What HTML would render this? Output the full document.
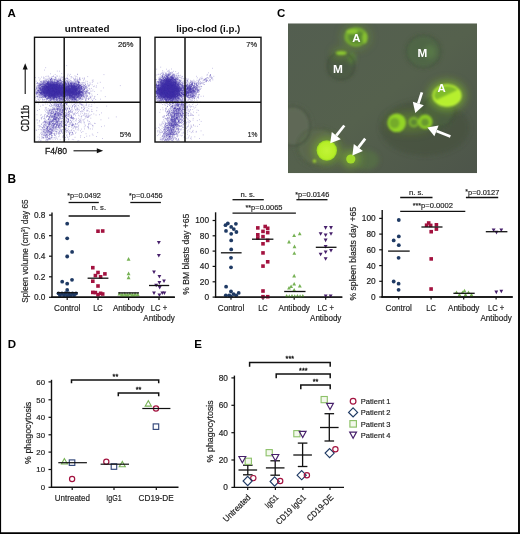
<!DOCTYPE html>
<html><head><meta charset="utf-8"><title>Figure</title>
<style>html,body{margin:0;padding:0;background:#fff}svg{display:block}</style></head><body>
<svg width="520" height="534" viewBox="0 0 520 534" font-family="Liberation Sans, Arial, Helvetica, sans-serif">
<rect x="0" y="0" width="520" height="534" fill="#fff"/>
<text x="7.5" y="17.3" font-size="11.5" font-weight="bold" fill="#000">A</text>
<clipPath id="clip1"><rect x="34.5" y="37.3" width="105.69999999999999" height="104.7"/></clipPath>
<path d="M64.0 93.3h.7M47.1 86.2h.7M59.4 85.9h.7M55.9 90.1h.7M56.3 86.0h.7M63.7 81.7h.7M52.2 87.6h.7M59.6 93.4h.7M41.3 90.4h.7M44.3 93.5h.7M58.2 92.0h.7M40.9 83.4h.7M54.3 87.1h.7M53.2 87.6h.7M42.7 83.4h.7M50.0 87.4h.7M49.9 90.9h.7M50.5 90.5h.7M53.2 85.4h.7M54.8 88.6h.7M57.0 91.6h.7M51.2 94.7h.7M62.9 89.3h.7M52.4 88.1h.7M67.9 92.6h.7M46.6 86.9h.7M55.8 92.9h.7M64.2 89.5h.7M59.7 90.2h.7M52.7 86.4h.7M49.8 88.9h.7M52.0 88.1h.7M59.1 93.6h.7M49.0 85.8h.7M53.1 84.2h.7M47.7 93.2h.7M44.0 88.7h.7M50.6 85.6h.7M51.2 87.7h.7M41.9 92.6h.7M46.2 83.8h.7M55.7 89.9h.7M45.2 89.6h.7M51.9 87.8h.7M59.0 89.9h.7M49.2 89.0h.7M53.3 97.7h.7M50.7 80.5h.7M59.9 89.4h.7M39.5 94.9h.7M41.1 94.7h.7M50.0 88.4h.7M49.5 90.5h.7M56.5 87.8h.7M48.5 91.8h.7M53.7 94.3h.7M45.4 89.2h.7M52.2 92.0h.7M59.1 90.8h.7M60.3 82.9h.7M51.6 87.6h.7M57.5 89.9h.7M51.8 95.9h.7M51.2 87.7h.7M49.3 87.4h.7M61.0 98.0h.7M62.4 85.2h.7M49.1 95.7h.7M55.9 97.5h.7M48.6 88.4h.7M48.5 94.1h.7M57.7 92.2h.7M43.4 94.9h.7M61.2 88.9h.7M65.0 91.1h.7M54.7 88.7h.7M58.8 94.5h.7M44.0 89.2h.7M61.7 93.6h.7M72.0 97.0h.7M56.8 86.1h.7M56.6 93.3h.7M57.8 85.6h.7M47.8 93.1h.7M55.2 88.3h.7M64.6 93.3h.7M44.9 92.8h.7M63.8 86.8h.7M51.1 78.3h.7M36.9 88.7h.7M56.8 95.3h.7M48.0 86.8h.7M48.7 89.1h.7M53.3 86.7h.7M42.6 92.4h.7M58.8 89.8h.7M42.2 91.0h.7M51.6 96.8h.7M50.5 88.7h.7M55.8 87.8h.7M57.9 92.0h.7M41.5 97.3h.7M49.6 92.5h.7M42.1 85.5h.7M48.3 81.0h.7M54.5 92.5h.7M42.5 89.2h.7M47.6 89.2h.7M55.8 82.0h.7M54.6 80.5h.7M67.3 91.6h.7M57.8 94.6h.7M45.8 86.8h.7M57.1 94.1h.7M52.5 91.7h.7M57.4 81.8h.7M53.2 88.1h.7M48.3 80.2h.7M60.5 94.7h.7M59.8 91.8h.7M49.6 84.3h.7M50.3 84.7h.7M59.4 88.0h.7M60.2 90.3h.7M62.9 83.7h.7M46.7 93.1h.7M61.4 87.9h.7M43.8 87.8h.7M45.4 85.1h.7M43.8 92.4h.7M54.6 89.4h.7M54.2 96.3h.7M46.1 93.0h.7M61.8 93.8h.7M49.1 94.4h.7M39.8 78.9h.7M55.5 94.0h.7M52.9 82.4h.7M56.4 80.0h.7M59.8 93.1h.7M69.6 90.1h.7M58.8 98.2h.7M53.0 91.6h.7M57.0 97.1h.7M51.7 87.6h.7M61.1 103.6h.7M63.7 90.6h.7M50.0 95.9h.7M56.4 97.4h.7M52.7 92.6h.7M55.6 90.2h.7M50.6 89.5h.7M51.0 84.4h.7M49.4 90.6h.7M52.0 87.9h.7M56.3 91.5h.7M43.5 89.8h.7M60.6 95.4h.7M48.6 93.0h.7M54.0 99.3h.7M49.3 93.5h.7M56.7 97.8h.7M48.5 88.4h.7M57.3 95.2h.7M44.8 89.7h.7M50.7 90.4h.7M47.8 95.7h.7M54.6 88.2h.7M52.8 90.0h.7M47.9 85.8h.7M48.2 89.2h.7M47.9 91.5h.7M44.5 83.9h.7M41.9 87.1h.7M56.1 91.5h.7M56.3 97.6h.7M61.3 101.1h.7M67.2 92.1h.7M43.5 100.1h.7M49.1 94.4h.7M44.0 95.4h.7M44.1 89.7h.7M47.4 98.7h.7M48.9 97.0h.7M41.3 88.3h.7M48.3 83.9h.7M43.5 96.1h.7M45.2 88.7h.7M48.8 87.8h.7M56.8 91.1h.7M57.0 87.9h.7M43.7 91.9h.7M52.6 86.3h.7M52.0 96.8h.7M46.7 86.5h.7M41.9 92.8h.7M55.6 87.0h.7M49.8 87.7h.7M52.6 97.4h.7M49.3 84.8h.7M52.8 87.9h.7M54.1 95.4h.7M54.8 89.5h.7M57.9 87.8h.7M44.6 91.6h.7M50.2 91.0h.7M42.8 97.5h.7M51.2 86.8h.7M45.0 88.0h.7M49.4 88.9h.7M63.1 92.6h.7M65.8 88.7h.7M49.2 88.7h.7M54.9 90.2h.7M57.2 85.7h.7M59.5 85.3h.7M56.6 96.2h.7M48.6 84.7h.7M62.0 88.5h.7M60.7 88.4h.7M63.3 89.0h.7M55.9 93.2h.7M57.2 94.6h.7M45.4 93.0h.7M48.8 89.3h.7M57.6 90.2h.7M54.4 85.4h.7M58.0 93.9h.7M50.4 87.9h.7M65.3 96.8h.7M48.1 93.9h.7M53.7 98.4h.7M47.5 88.1h.7M46.3 86.3h.7M59.4 90.4h.7M57.5 83.0h.7M51.6 89.1h.7M59.4 83.0h.7M56.7 90.2h.7M55.1 87.9h.7M53.7 84.7h.7M57.2 89.1h.7M44.2 84.1h.7M52.8 86.5h.7M51.5 88.4h.7M68.5 84.2h.7M41.5 87.7h.7M64.0 88.7h.7M49.2 92.4h.7M46.3 90.1h.7M63.0 93.5h.7M45.5 88.6h.7M44.0 87.5h.7M39.2 89.0h.7M42.5 92.5h.7M58.3 93.1h.7M58.5 87.7h.7M50.9 87.6h.7M45.0 80.3h.7M43.5 89.7h.7M46.4 87.5h.7M46.9 82.4h.7M57.7 86.8h.7M49.3 88.2h.7M57.3 89.7h.7M56.1 90.7h.7M51.4 94.9h.7M52.8 93.4h.7M57.1 84.2h.7M40.0 82.3h.7M52.1 90.2h.7M59.1 89.7h.7M58.6 104.9h.7M50.7 89.3h.7M36.6 92.2h.7M52.9 95.0h.7M59.5 95.6h.7M53.3 85.0h.7M51.5 94.3h.7M51.5 90.1h.7M46.8 88.8h.7M54.7 89.3h.7M44.3 96.3h.7M48.2 81.8h.7M59.0 85.9h.7M55.7 96.9h.7M54.3 90.7h.7M62.0 91.8h.7M47.8 94.8h.7M50.8 88.1h.7M54.7 92.3h.7M61.0 91.0h.7M42.4 96.9h.7M55.5 86.6h.7M58.6 98.3h.7M41.5 82.6h.7M54.1 92.8h.7M53.8 85.7h.7M53.3 86.4h.7M52.7 95.3h.7M48.8 85.2h.7M52.1 88.6h.7M47.5 83.8h.7M52.6 95.9h.7M43.3 93.0h.7M53.6 85.7h.7M49.4 96.9h.7M65.2 100.4h.7M59.3 93.2h.7M50.9 89.1h.7M49.2 84.6h.7M50.0 97.2h.7M41.5 94.1h.7M49.8 92.6h.7M56.3 99.7h.7M42.4 89.0h.7M50.0 84.7h.7M52.9 90.0h.7M54.6 89.3h.7M55.8 88.6h.7M50.1 88.2h.7M43.5 88.4h.7M63.6 90.2h.7M66.6 89.1h.7M53.4 83.8h.7M53.0 84.9h.7M56.6 90.4h.7M51.8 90.7h.7M53.9 83.3h.7M41.4 94.7h.7M49.5 88.4h.7M62.6 91.2h.7M63.6 86.9h.7M44.6 101.7h.7M56.4 83.8h.7M50.2 90.2h.7M42.3 94.5h.7M59.3 85.9h.7M44.3 90.2h.7M41.5 86.2h.7M57.5 91.3h.7M53.9 93.6h.7M47.6 88.5h.7M51.2 91.7h.7M50.6 90.3h.7M57.1 81.8h.7M53.3 93.4h.7M57.0 91.0h.7M57.3 91.5h.7M60.2 86.1h.7M58.1 85.6h.7M54.0 88.9h.7M44.4 85.6h.7M62.0 88.2h.7M66.2 91.6h.7M46.5 92.5h.7M70.0 80.3h.7M64.3 83.4h.7M46.8 90.8h.7M43.7 92.2h.7M50.4 89.7h.7M48.9 92.4h.7M61.6 80.6h.7M63.3 85.6h.7M68.2 99.6h.7M54.0 94.9h.7M40.7 93.8h.7M51.6 98.4h.7M42.9 92.0h.7M57.8 89.1h.7M50.4 85.7h.7M54.5 95.4h.7M57.2 96.9h.7M54.0 92.1h.7M58.3 94.8h.7M61.6 95.6h.7M53.0 91.6h.7M56.1 93.0h.7M45.2 92.7h.7M60.6 87.1h.7M53.3 91.8h.7M51.6 88.9h.7M49.8 93.6h.7M48.6 88.3h.7M59.8 88.2h.7M56.5 87.2h.7M47.4 91.7h.7M48.8 92.7h.7M55.0 88.2h.7M50.2 84.6h.7M60.4 87.3h.7M54.4 85.3h.7M57.7 92.4h.7M44.4 92.8h.7M54.3 89.9h.7M57.4 92.9h.7M58.1 94.3h.7M40.3 84.8h.7M54.9 93.1h.7M52.4 90.2h.7M55.2 94.5h.7M58.9 94.4h.7M57.2 95.9h.7M51.0 86.8h.7M41.3 90.6h.7M54.9 78.0h.7M58.4 92.4h.7M46.9 102.2h.7M59.0 91.9h.7M46.9 89.9h.7M56.5 94.1h.7M47.6 91.9h.7M37.7 95.4h.7M52.6 91.7h.7M40.4 90.1h.7M55.2 88.2h.7M48.5 82.8h.7M59.4 84.4h.7M55.1 87.9h.7M57.8 94.1h.7M52.2 86.4h.7M48.8 89.0h.7M56.5 88.4h.7M54.6 104.9h.7M51.6 91.7h.7M54.7 92.4h.7M54.9 84.9h.7M67.1 90.0h.7M48.1 85.1h.7M54.7 84.8h.7M52.3 91.9h.7M54.3 89.1h.7M53.0 89.9h.7M52.7 91.8h.7M52.7 91.6h.7M40.4 88.1h.7M45.8 90.4h.7M54.4 88.3h.7M45.1 85.4h.7M58.4 90.2h.7M48.9 94.3h.7M45.3 88.5h.7M59.3 89.7h.7M57.8 92.6h.7M42.0 84.1h.7M50.5 94.5h.7M55.2 91.9h.7M54.6 86.3h.7M52.7 97.8h.7M50.4 89.9h.7M59.3 88.9h.7M50.3 97.5h.7M52.6 94.4h.7M62.5 85.2h.7M43.9 82.3h.7M56.4 91.8h.7M64.6 83.6h.7M51.8 82.3h.7M53.9 87.2h.7M46.9 87.6h.7M58.6 80.9h.7M42.6 87.5h.7M59.1 88.5h.7M58.1 87.3h.7M57.1 95.1h.7M63.7 93.6h.7M49.7 88.7h.7M68.0 88.5h.7M54.9 92.1h.7M38.6 89.0h.7M53.9 91.2h.7M54.3 86.2h.7M55.4 90.8h.7M55.6 86.9h.7M49.6 87.0h.7M52.8 95.6h.7M53.1 86.0h.7M48.0 90.5h.7M49.7 92.4h.7M57.9 93.3h.7M47.0 87.7h.7M56.9 93.6h.7M69.3 100.6h.7M46.7 90.0h.7M50.6 93.3h.7M51.9 89.1h.7M46.7 89.3h.7M51.0 83.8h.7M62.6 94.2h.7M53.8 82.6h.7M58.2 90.9h.7M51.8 87.9h.7M45.1 86.4h.7M54.6 92.4h.7M59.3 89.4h.7M45.4 90.7h.7M66.0 86.7h.7M52.0 89.3h.7M50.4 88.0h.7M51.0 90.9h.7M42.5 91.6h.7M56.8 92.8h.7M41.4 91.2h.7M39.5 89.2h.7M52.2 92.9h.7M46.1 95.6h.7M63.1 86.1h.7M44.1 95.0h.7M41.2 84.5h.7M53.7 92.3h.7M59.7 80.4h.7M53.2 93.5h.7M46.0 97.8h.7M55.9 90.5h.7M56.3 89.8h.7M64.6 97.1h.7M54.2 84.4h.7M39.9 81.3h.7M53.9 86.7h.7M53.6 83.9h.7M57.3 82.2h.7M59.6 99.5h.7M51.7 94.4h.7M58.1 83.3h.7M69.3 95.6h.7M37.9 90.3h.7M52.9 95.4h.7M52.8 90.5h.7M62.5 91.1h.7M38.2 92.8h.7M50.5 86.1h.7M59.6 87.7h.7M58.2 96.8h.7M56.4 87.3h.7M45.2 90.2h.7M36.2 93.6h.7M57.7 93.2h.7M49.3 96.2h.7M53.5 96.5h.7M58.8 85.6h.7M38.8 83.1h.7M49.6 88.4h.7M53.8 92.1h.7M54.9 89.7h.7M49.2 78.0h.7M54.7 85.9h.7M57.2 91.9h.7M50.4 89.0h.7M52.5 83.5h.7M56.6 93.4h.7M58.8 83.7h.7M59.2 88.4h.7M50.5 83.1h.7M52.9 99.0h.7M50.8 95.8h.7M63.8 87.2h.7M62.1 81.9h.7M61.9 97.6h.7M56.2 84.5h.7M42.8 82.3h.7M57.5 89.3h.7M53.9 93.3h.7M49.0 93.2h.7M41.8 93.0h.7M52.8 88.7h.7M64.0 90.8h.7M59.2 89.4h.7M67.3 91.1h.7M44.3 87.6h.7M46.9 91.0h.7M57.0 94.6h.7M62.0 86.1h.7M50.4 90.3h.7M44.8 92.2h.7M46.1 85.0h.7M59.8 94.0h.7M59.9 96.5h.7M67.1 87.4h.7M51.0 91.9h.7M49.7 87.8h.7M51.1 85.6h.7M58.6 89.8h.7M50.6 91.0h.7M55.3 92.6h.7M54.1 84.2h.7M57.5 91.9h.7M57.5 85.4h.7M48.9 94.8h.7M63.2 92.9h.7M48.6 89.6h.7M56.4 91.0h.7M51.4 91.7h.7M45.5 85.4h.7M56.4 84.9h.7M54.9 89.4h.7M50.6 90.8h.7M50.2 92.1h.7M38.1 85.7h.7M52.8 97.7h.7M57.9 96.4h.7M50.9 94.9h.7M51.5 90.3h.7M59.4 88.8h.7M49.4 88.0h.7M64.4 80.8h.7M48.2 92.2h.7M59.2 93.4h.7M54.3 96.9h.7M49.6 95.4h.7M59.4 85.9h.7M53.7 93.7h.7M54.8 90.4h.7M50.6 88.1h.7M44.6 87.5h.7M44.1 86.2h.7M48.0 89.6h.7M54.6 80.2h.7M40.0 85.9h.7M50.9 95.7h.7M48.9 91.8h.7M45.9 87.4h.7M63.6 90.0h.7M47.6 87.8h.7M57.9 93.8h.7M52.8 91.0h.7M48.6 86.0h.7M63.9 93.8h.7M55.8 94.9h.7M47.6 86.8h.7M40.2 88.6h.7M56.5 89.9h.7M61.8 83.7h.7M52.4 89.7h.7M58.4 89.2h.7M52.5 87.2h.7M57.9 93.6h.7M41.7 95.7h.7M52.8 90.7h.7M61.2 88.6h.7M59.3 89.9h.7M54.5 85.2h.7M53.6 82.2h.7M59.3 91.4h.7M47.7 92.5h.7M66.9 93.5h.7M36.8 89.4h.7M54.3 88.0h.7M49.8 93.2h.7M45.9 89.8h.7M55.6 89.0h.7M48.7 87.8h.7M60.3 95.1h.7M47.3 91.7h.7M51.9 91.8h.7M53.1 89.2h.7M64.2 90.0h.7M53.7 88.3h.7M51.1 84.2h.7M49.9 80.2h.7M38.2 92.9h.7M66.4 90.1h.7M42.7 92.3h.7M56.8 96.0h.7M55.8 93.9h.7M49.1 96.3h.7M48.2 91.3h.7M51.1 88.2h.7M54.9 87.6h.7M45.8 90.2h.7M57.8 90.7h.7M60.0 88.6h.7M44.9 85.5h.7M48.7 87.3h.7M44.2 81.5h.7M75.7 90.9h.7M52.8 96.9h.7M47.0 97.0h.7M48.4 93.9h.7M50.6 89.3h.7M59.2 89.9h.7M47.2 90.5h.7M49.8 88.7h.7M48.4 89.5h.7M44.2 88.2h.7M55.8 91.9h.7M46.8 90.3h.7M52.8 95.1h.7M53.0 87.4h.7M60.9 92.5h.7M50.9 95.4h.7M60.7 84.0h.7M46.3 96.6h.7M58.2 95.8h.7M53.9 89.3h.7M63.6 84.7h.7M43.9 80.8h.7M46.5 90.0h.7M54.6 94.7h.7M48.8 96.9h.7M39.7 95.6h.7M61.3 91.1h.7M70.2 91.2h.7M60.0 87.6h.7M49.6 88.4h.7M43.3 84.2h.7M59.9 87.5h.7M61.0 90.7h.7M45.3 92.7h.7M52.2 87.9h.7M50.6 96.5h.7M59.8 85.0h.7M55.0 85.7h.7M42.6 87.3h.7M46.0 88.8h.7M45.2 88.8h.7M48.9 88.2h.7M67.0 90.7h.7M48.3 83.5h.7M44.4 93.4h.7M58.6 91.3h.7M54.9 96.0h.7M49.4 89.5h.7M53.2 88.9h.7M48.1 95.5h.7M70.4 90.8h.7M53.9 82.3h.7M47.0 87.3h.7M41.1 91.0h.7M49.3 93.5h.7M46.9 95.9h.7M38.5 93.8h.7M61.6 101.1h.7M47.6 83.0h.7M36.1 96.5h.7M60.1 79.2h.7M49.8 86.0h.7M47.7 95.2h.7M63.1 88.7h.7M68.5 98.5h.7M52.2 87.3h.7M46.7 88.5h.7M59.6 92.6h.7M54.3 91.7h.7M51.2 94.8h.7M44.5 95.2h.7M45.8 86.3h.7M53.5 86.3h.7M56.6 94.8h.7M57.3 94.2h.7M52.7 90.8h.7M53.2 85.9h.7M62.4 93.8h.7M41.4 90.4h.7M64.7 96.1h.7M48.5 87.6h.7M51.7 85.8h.7M60.4 94.9h.7M39.6 92.9h.7M52.4 90.0h.7M46.3 91.6h.7M55.9 88.2h.7M58.1 93.1h.7M54.3 86.9h.7M51.4 89.5h.7M58.6 91.7h.7M52.3 91.4h.7M58.7 88.0h.7M55.5 89.2h.7M53.0 94.0h.7M46.5 88.4h.7M61.3 93.7h.7M46.9 91.9h.7M55.7 82.5h.7M45.2 87.9h.7M54.4 95.7h.7M44.7 91.6h.7M48.5 89.2h.7M51.5 86.0h.7M54.3 93.9h.7M48.1 84.7h.7M60.6 93.4h.7M61.1 89.7h.7M48.3 85.2h.7M65.2 82.1h.7M58.5 86.9h.7M63.3 88.5h.7M56.7 88.9h.7M65.3 93.3h.7M55.8 90.6h.7M57.3 85.2h.7M48.2 85.2h.7M51.8 95.1h.7M47.3 88.1h.7M40.9 92.4h.7M45.7 88.5h.7M50.3 82.6h.7M49.4 86.4h.7M48.9 99.2h.7M47.2 98.1h.7M45.7 93.7h.7M49.1 87.4h.7M64.9 98.8h.7M47.0 83.7h.7M50.2 85.2h.7M50.1 91.8h.7M55.8 85.7h.7M52.7 78.6h.7M43.9 88.9h.7M51.4 99.0h.7M49.7 87.9h.7M53.6 92.3h.7M39.2 95.1h.7M54.1 87.8h.7M49.0 95.7h.7M54.9 91.0h.7M59.3 87.7h.7M63.5 88.4h.7M45.8 93.4h.7M64.0 93.2h.7M64.0 84.9h.7M44.7 84.0h.7M42.1 88.4h.7M42.7 89.6h.7M50.4 88.6h.7M58.5 83.4h.7M52.6 98.5h.7M66.7 91.2h.7M57.3 89.6h.7M56.5 95.5h.7M40.3 88.6h.7M49.8 82.1h.7M61.6 85.9h.7M53.9 101.4h.7M49.4 92.3h.7M54.5 77.1h.7M50.9 86.1h.7M58.1 81.4h.7M52.3 85.4h.7M67.2 89.8h.7M47.6 85.8h.7M46.0 93.0h.7M59.3 92.3h.7M43.8 84.3h.7M57.9 89.2h.7M55.9 87.6h.7M54.6 87.3h.7M62.5 92.4h.7M47.8 86.9h.7M53.1 92.3h.7M49.8 90.1h.7M45.0 89.9h.7M38.9 90.2h.7M51.2 89.9h.7M46.2 92.1h.7M42.6 84.2h.7M58.9 92.2h.7M55.3 89.6h.7M51.9 85.3h.7M60.1 91.1h.7M58.7 88.8h.7M48.1 91.9h.7M58.1 86.2h.7M51.1 97.5h.7M51.3 94.1h.7M52.3 92.4h.7M61.8 88.0h.7M58.4 93.1h.7M52.1 89.1h.7M66.2 87.1h.7M39.2 94.5h.7M69.2 90.7h.7M54.3 95.3h.7M45.7 94.3h.7M60.0 94.7h.7M57.5 81.9h.7M44.4 92.9h.7M37.2 92.1h.7M52.2 93.3h.7M52.0 86.2h.7M48.8 92.0h.7M56.2 90.3h.7M55.1 85.7h.7M53.8 84.9h.7M39.9 91.9h.7M46.1 83.0h.7M57.2 89.6h.7M46.3 91.2h.7M51.4 79.4h.7M68.2 86.2h.7M47.9 91.2h.7M37.5 90.6h.7M53.4 87.4h.7M50.1 92.0h.7M58.6 86.1h.7M56.0 88.3h.7M53.5 92.4h.7M53.8 93.2h.7M45.9 86.6h.7M54.6 89.9h.7M48.4 90.0h.7M64.7 96.8h.7M53.2 98.6h.7M51.0 90.6h.7M49.7 82.4h.7M50.3 89.8h.7M46.2 89.4h.7M42.6 94.7h.7M51.1 87.6h.7M54.1 100.8h.7M39.0 92.1h.7M44.2 84.6h.7M45.5 86.3h.7M46.1 86.0h.7M50.4 90.6h.7M54.0 95.7h.7M48.7 102.6h.7M59.6 86.5h.7M50.1 89.2h.7M62.6 86.3h.7M48.6 83.9h.7M54.4 85.7h.7M54.8 95.4h.7M71.0 94.7h.7M48.1 95.2h.7M43.0 94.0h.7M50.5 91.8h.7M52.1 85.8h.7M54.1 92.7h.7M48.6 88.1h.7M54.0 94.6h.7M53.4 86.8h.7M50.5 89.0h.7M62.2 90.0h.7M48.9 81.7h.7M63.0 83.4h.7M49.6 92.2h.7M66.8 81.2h.7M61.6 96.0h.7M46.5 94.0h.7M52.0 94.7h.7M52.6 90.9h.7M59.6 90.5h.7M48.4 94.3h.7M55.3 87.1h.7M42.7 90.5h.7M55.6 90.7h.7M46.4 81.6h.7M48.8 84.1h.7M55.6 91.1h.7M46.4 89.4h.7M42.4 91.5h.7M50.9 96.4h.7M47.2 93.0h.7M57.3 84.4h.7M44.0 84.1h.7M47.0 88.4h.7M57.9 94.4h.7M56.8 92.9h.7M55.8 88.4h.7M48.4 85.7h.7M45.4 96.0h.7M48.7 92.1h.7M53.7 98.0h.7M51.6 93.9h.7M51.5 92.5h.7M42.8 88.4h.7M53.9 89.5h.7M62.2 89.7h.7M50.7 89.1h.7M50.0 90.1h.7M59.9 93.7h.7M48.3 88.6h.7M53.1 91.4h.7M49.3 95.0h.7M51.0 91.2h.7M50.6 93.4h.7M51.0 91.8h.7M55.3 91.1h.7M49.9 91.2h.7M59.7 89.0h.7M46.0 93.5h.7M64.5 89.8h.7M52.4 86.5h.7M47.2 86.6h.7M53.8 93.4h.7M55.7 87.9h.7M53.2 88.1h.7M48.9 92.5h.7M55.6 86.4h.7M52.8 90.5h.7M53.7 85.1h.7M52.8 99.0h.7M51.1 90.8h.7M60.9 92.9h.7M42.2 94.5h.7M52.7 88.6h.7M50.1 88.2h.7M53.4 85.8h.7M37.2 82.7h.7M61.7 91.0h.7M50.2 88.2h.7M52.4 89.1h.7M51.3 90.3h.7M46.5 90.6h.7M37.2 92.7h.7M50.3 92.8h.7M49.3 90.5h.7M48.4 88.7h.7M55.7 86.9h.7M49.1 84.7h.7M54.4 89.0h.7M53.8 91.1h.7M58.7 91.7h.7M60.3 89.7h.7M58.7 91.4h.7M62.1 87.0h.7M41.7 94.5h.7M55.1 93.9h.7M51.9 89.9h.7M53.7 82.0h.7M49.8 95.7h.7M63.7 88.4h.7M46.3 93.3h.7M53.9 93.8h.7M62.9 92.9h.7M37.8 94.1h.7M47.9 89.7h.7M49.0 92.0h.7M51.4 91.3h.7M57.0 87.8h.7M43.2 90.2h.7M43.6 91.7h.7M41.3 81.4h.7M45.2 92.2h.7M51.5 93.9h.7M50.6 86.7h.7M63.4 87.7h.7M57.1 87.6h.7M39.6 85.1h.7M56.6 95.0h.7M42.6 90.9h.7M66.1 89.8h.7M38.8 97.3h.7M49.0 95.3h.7M49.0 96.8h.7M55.9 85.7h.7M59.2 87.2h.7M60.8 89.3h.7M41.5 86.7h.7M55.8 91.8h.7M56.9 80.5h.7M52.4 83.4h.7M50.9 84.9h.7M66.3 91.5h.7M49.2 90.3h.7M47.2 89.2h.7M60.5 96.5h.7M49.7 97.4h.7M46.9 88.0h.7M47.9 85.2h.7M50.0 85.3h.7M61.2 95.2h.7M55.3 94.8h.7M51.8 94.5h.7M54.5 88.3h.7M59.7 89.0h.7M50.1 91.7h.7M54.9 97.2h.7M49.5 87.1h.7M41.8 89.1h.7M49.5 89.4h.7M58.8 98.1h.7M51.9 90.9h.7M59.4 80.3h.7M35.8 91.8h.7M51.1 81.4h.7M52.7 94.6h.7M56.7 89.4h.7M47.7 91.0h.7M61.7 90.7h.7M55.9 98.9h.7M49.6 89.4h.7M47.1 99.2h.7M48.7 88.7h.7M60.1 99.3h.7M44.6 92.5h.7M50.8 95.5h.7M55.0 87.8h.7M50.5 96.3h.7M56.0 83.1h.7M52.2 89.9h.7M42.8 91.3h.7M59.9 91.2h.7M54.6 82.2h.7M59.7 84.8h.7M58.3 87.3h.7M50.1 91.0h.7M55.7 88.9h.7M56.4 95.3h.7M46.1 84.5h.7M37.0 96.7h.7M65.7 87.8h.7M56.7 94.1h.7M41.9 82.1h.7M60.8 84.0h.7M72.8 94.7h.7M40.2 81.5h.7M50.5 92.8h.7M45.3 93.7h.7M53.2 84.3h.7M57.1 89.6h.7M51.0 85.9h.7M56.9 85.1h.7M47.6 94.2h.7M53.7 92.8h.7M52.8 90.7h.7M56.1 87.3h.7M60.8 89.4h.7M58.5 86.8h.7M52.1 90.5h.7M48.1 90.6h.7M65.2 96.5h.7M61.3 84.8h.7M43.5 85.1h.7M48.9 87.6h.7M45.0 94.8h.7M46.9 90.0h.7M54.5 95.3h.7M56.0 94.2h.7M59.0 87.8h.7M49.9 90.9h.7M52.0 79.8h.7M61.4 102.9h.7M58.4 91.5h.7M59.2 86.4h.7M49.0 90.4h.7M53.8 87.6h.7M50.9 96.3h.7M54.2 90.7h.7M55.4 79.0h.7M44.0 86.2h.7M51.2 94.2h.7M55.0 91.2h.7M61.7 87.7h.7M43.5 89.7h.7M44.5 93.4h.7M56.0 89.1h.7M58.4 92.0h.7M45.3 85.9h.7M57.2 92.5h.7M60.0 94.9h.7M53.1 89.8h.7M55.7 88.9h.7M59.5 89.0h.7M51.0 88.1h.7M57.2 86.7h.7M46.4 90.3h.7M49.6 96.7h.7M51.1 93.4h.7M65.8 92.2h.7M57.5 102.4h.7M55.5 101.5h.7M59.4 92.6h.7M55.5 81.6h.7M56.4 90.8h.7M49.3 90.9h.7M44.0 90.2h.7M45.3 94.4h.7M64.0 87.1h.7M46.3 94.1h.7M65.1 98.2h.7M55.0 85.9h.7M54.7 85.9h.7M53.2 90.0h.7M60.7 91.8h.7M54.7 87.4h.7M51.4 82.0h.7M56.1 100.1h.7M50.8 85.0h.7M58.5 89.0h.7M43.5 92.5h.7M58.4 83.3h.7M46.1 87.9h.7M61.8 84.2h.7M57.5 89.9h.7M36.5 90.9h.7M47.1 91.8h.7M45.3 91.7h.7M72.6 91.7h.7M54.6 86.1h.7M52.8 88.9h.7M36.1 93.3h.7M53.3 88.7h.7M44.8 95.2h.7M49.9 94.8h.7M49.1 94.2h.7M39.3 91.8h.7M49.9 87.7h.7M48.4 97.2h.7M48.3 85.8h.7M58.9 97.2h.7M56.8 93.3h.7M51.6 89.2h.7M53.4 90.0h.7M61.8 95.4h.7M49.9 92.4h.7M45.4 90.8h.7M54.7 92.5h.7M55.2 86.1h.7M39.2 92.7h.7M47.3 89.5h.7M50.1 87.0h.7M63.6 93.8h.7M52.0 88.5h.7M44.8 92.6h.7M68.3 93.5h.7M60.6 93.3h.7M66.9 93.5h.7M67.5 90.5h.7M43.6 93.4h.7M60.1 94.3h.7M51.6 87.0h.7M43.2 87.3h.7M50.5 93.2h.7M51.8 90.1h.7M52.4 84.2h.7M54.3 93.6h.7M48.3 88.1h.7M39.8 83.1h.7M60.4 86.8h.7M40.8 95.2h.7M60.3 91.2h.7M51.0 92.0h.7M54.3 92.5h.7M53.1 94.2h.7M43.0 82.3h.7M52.6 85.4h.7M59.8 87.9h.7M51.9 84.3h.7M59.3 97.8h.7M52.1 94.5h.7M46.9 90.4h.7M55.8 91.4h.7M52.7 94.1h.7M53.8 88.8h.7M51.3 92.1h.7M51.3 88.8h.7M48.8 80.7h.7M60.2 92.4h.7M56.1 93.1h.7M48.9 85.1h.7M44.7 90.2h.7M46.5 89.9h.7M49.3 87.6h.7M46.3 84.7h.7M41.4 93.9h.7M60.2 92.2h.7M54.5 95.7h.7M62.5 81.6h.7M46.8 90.4h.7M53.9 96.6h.7M58.9 91.4h.7M60.6 95.0h.7M61.9 84.3h.7M68.9 96.4h.7M54.8 82.5h.7M48.2 92.4h.7M44.3 97.7h.7M47.6 83.2h.7M59.1 91.6h.7M41.5 91.8h.7M56.0 92.2h.7M56.9 90.3h.7M45.0 95.5h.7M48.5 86.3h.7M51.8 95.2h.7M42.3 89.2h.7M45.4 84.3h.7M38.3 90.5h.7M49.2 87.5h.7M46.6 83.0h.7M64.4 86.4h.7M62.1 91.6h.7M50.1 90.3h.7M52.6 90.0h.7M47.8 87.1h.7M59.1 96.7h.7M46.1 92.4h.7M51.0 92.0h.7M53.1 96.9h.7M60.6 87.2h.7M85.3 92.5h.7M71.8 92.1h.7M69.2 89.5h.7M73.1 91.2h.7M67.2 97.2h.7M68.6 88.5h.7M73.2 92.3h.7M81.2 86.9h.7M67.7 88.6h.7M75.8 88.9h.7M63.3 87.2h.7M75.6 81.1h.7M73.4 94.7h.7M74.4 86.5h.7M73.2 87.6h.7M71.9 99.6h.7M71.2 90.8h.7M79.7 87.3h.7M69.8 91.2h.7M58.7 96.4h.7M79.3 85.7h.7M75.4 87.9h.7M68.8 83.1h.7M72.7 89.6h.7M70.2 88.7h.7M88.0 85.2h.7M71.0 85.4h.7M64.9 84.2h.7M65.1 91.6h.7M73.1 97.5h.7M71.0 92.0h.7M74.8 96.6h.7M73.9 92.7h.7M75.4 90.9h.7M73.9 90.1h.7M79.6 91.3h.7M78.9 93.5h.7M80.7 89.2h.7M74.8 91.5h.7M68.1 92.4h.7M83.4 88.2h.7M65.6 85.7h.7M77.6 82.3h.7M80.6 92.7h.7M64.7 91.3h.7M75.9 94.7h.7M69.0 93.7h.7M69.5 94.1h.7M67.6 91.4h.7M62.2 95.8h.7M73.3 91.3h.7M69.1 86.1h.7M69.5 94.1h.7M66.6 87.0h.7M85.9 93.3h.7M74.6 88.0h.7M66.9 88.5h.7M75.3 79.4h.7M82.7 98.9h.7M66.6 88.8h.7M72.5 87.3h.7M70.7 95.1h.7M68.5 90.1h.7M75.3 81.9h.7M78.3 89.2h.7M77.5 92.5h.7M75.0 98.0h.7M66.1 91.9h.7M72.9 91.4h.7M77.1 85.1h.7M64.1 90.9h.7M80.0 91.2h.7M76.7 92.7h.7M73.5 92.9h.7M65.9 82.4h.7M70.0 86.3h.7M66.2 90.5h.7M71.2 91.9h.7M79.5 92.6h.7M71.2 84.3h.7M68.2 91.5h.7M73.5 87.4h.7M68.4 89.7h.7M73.1 92.7h.7M66.9 92.7h.7M77.4 81.7h.7M67.0 98.8h.7M66.8 97.0h.7M69.7 93.1h.7M72.1 92.3h.7M76.7 89.0h.7M66.7 91.3h.7M74.7 96.2h.7M70.7 83.7h.7M75.4 88.4h.7M77.5 93.8h.7M75.4 90.4h.7M79.3 90.3h.7M67.7 92.1h.7M78.0 93.5h.7M72.2 96.8h.7M78.2 94.6h.7M71.3 96.7h.7M73.0 88.7h.7M69.3 89.4h.7M69.8 86.8h.7M78.3 84.7h.7M69.9 90.4h.7M72.8 93.5h.7M73.8 82.8h.7M82.4 89.1h.7M88.0 93.3h.7M73.3 93.1h.7M72.0 83.9h.7M65.1 94.8h.7M76.0 92.6h.7M66.5 94.1h.7M76.6 90.1h.7M86.9 96.0h.7M74.7 87.8h.7M69.5 87.1h.7M67.5 98.9h.7M73.0 84.1h.7M72.5 87.7h.7M76.0 91.8h.7M69.6 91.4h.7M72.7 96.7h.7M77.1 92.0h.7M76.7 96.7h.7M66.4 90.6h.7M71.1 91.7h.7M67.9 89.3h.7M70.7 90.6h.7M67.0 85.9h.7M65.2 91.2h.7M70.7 81.3h.7M69.3 97.8h.7M63.4 93.6h.7M71.8 83.5h.7M74.9 88.0h.7M76.7 89.3h.7M83.6 90.3h.7M81.5 91.3h.7M67.9 91.6h.7M64.2 85.2h.7M65.4 88.8h.7M76.8 85.0h.7M69.5 92.3h.7M72.1 87.8h.7M58.6 92.7h.7M77.4 96.5h.7M69.6 91.3h.7M55.4 87.6h.7M69.7 88.9h.7M79.2 98.9h.7M73.3 91.0h.7M64.9 90.2h.7M75.1 86.3h.7M79.5 87.0h.7M60.8 87.3h.7M63.0 88.0h.7M70.9 92.4h.7M70.9 91.2h.7M74.5 89.1h.7M69.0 90.2h.7M60.0 93.2h.7M74.4 94.1h.7M74.1 92.0h.7M65.5 92.8h.7M62.7 86.0h.7M76.7 93.0h.7M77.0 96.2h.7M77.2 89.6h.7M64.3 99.0h.7M65.2 83.0h.7M81.5 85.8h.7M74.8 96.9h.7M75.2 84.2h.7M79.0 89.4h.7M75.4 96.9h.7M65.7 91.3h.7M65.0 92.6h.7M67.9 88.0h.7M74.1 88.5h.7M72.8 89.3h.7M71.2 86.9h.7M68.8 84.4h.7M67.6 96.4h.7M72.8 86.6h.7M70.2 97.1h.7M72.4 92.3h.7M64.8 92.2h.7M81.6 94.0h.7M70.9 89.1h.7M74.7 91.5h.7M71.2 91.3h.7M75.7 93.7h.7M71.7 91.0h.7M72.8 91.6h.7M67.3 94.9h.7M78.4 91.7h.7M64.2 94.0h.7M65.9 89.2h.7M74.1 92.8h.7M82.1 99.4h.7M71.9 93.6h.7M73.6 90.5h.7M72.6 96.7h.7M67.0 93.8h.7M84.8 86.4h.7M67.8 90.8h.7M63.0 95.1h.7M71.4 86.5h.7M66.0 89.4h.7M77.2 92.9h.7M70.9 96.2h.7M71.5 91.4h.7M77.2 80.2h.7M74.2 83.7h.7M71.3 86.3h.7M66.6 95.8h.7M64.9 91.7h.7M73.6 89.3h.7M72.8 86.1h.7M73.2 95.2h.7M74.9 95.5h.7M66.3 91.8h.7M75.5 91.3h.7M75.9 90.8h.7M73.4 84.8h.7M71.3 95.9h.7M80.3 97.7h.7M69.8 91.3h.7M82.7 94.5h.7M81.4 88.8h.7M68.5 86.7h.7M75.1 99.4h.7M69.8 82.9h.7M70.8 93.8h.7M70.6 95.0h.7M75.2 94.0h.7M77.2 93.2h.7M78.2 96.4h.7M62.6 89.9h.7M76.2 82.0h.7M68.1 88.1h.7M72.6 90.7h.7M63.4 92.0h.7M73.2 94.5h.7M65.6 89.1h.7M66.1 90.8h.7M77.1 97.7h.7M80.5 83.4h.7M73.7 89.1h.7M70.7 94.9h.7M68.5 91.3h.7M72.5 95.1h.7M67.7 97.3h.7M82.3 86.1h.7M73.9 87.6h.7M77.4 92.2h.7M73.2 87.1h.7M75.4 91.2h.7M66.4 96.1h.7M65.6 83.9h.7M82.3 93.6h.7M64.2 88.7h.7M74.2 91.5h.7M70.7 92.3h.7M78.4 87.1h.7M67.5 93.0h.7M70.9 93.6h.7M74.6 95.9h.7M77.9 91.9h.7M73.7 91.7h.7M61.0 95.6h.7M76.2 94.7h.7M70.2 92.6h.7M68.9 94.3h.7M78.1 81.6h.7M64.6 83.8h.7M87.3 84.1h.7M72.1 93.0h.7M64.4 96.1h.7M73.6 89.9h.7M66.0 98.0h.7M74.7 86.1h.7M77.6 87.7h.7M76.6 79.7h.7M77.0 93.4h.7M71.5 96.2h.7M65.9 92.0h.7M80.0 98.7h.7M67.2 88.3h.7M66.0 95.3h.7M63.3 96.9h.7M76.2 94.0h.7M73.7 94.9h.7M63.4 84.0h.7M70.2 90.9h.7M68.7 90.1h.7M62.7 92.0h.7M78.3 86.9h.7M85.5 93.9h.7M69.5 87.7h.7M67.5 98.0h.7M81.2 84.5h.7M72.0 86.0h.7M66.0 99.6h.7M64.4 96.7h.7M73.9 91.7h.7M61.8 89.6h.7M73.1 88.9h.7M74.5 87.6h.7M73.5 97.6h.7M67.2 90.9h.7M64.8 92.0h.7M77.6 95.9h.7M71.9 88.3h.7M72.6 99.5h.7M69.3 88.0h.7M78.2 91.7h.7M78.0 89.5h.7M61.6 96.4h.7M77.9 87.8h.7M74.2 80.3h.7M71.0 87.2h.7M73.7 83.4h.7M78.2 92.8h.7M72.7 91.2h.7M84.0 94.1h.7M72.1 89.9h.7M72.0 95.4h.7M75.4 89.3h.7M69.0 93.3h.7M70.2 92.8h.7M86.1 91.5h.7M78.3 84.8h.7M78.4 82.7h.7M64.0 97.5h.7M64.2 86.3h.7M72.9 92.6h.7M68.0 98.8h.7M77.4 86.4h.7M61.9 93.0h.7M66.3 94.2h.7M69.0 91.4h.7M82.6 90.7h.7M55.2 93.5h.7M82.3 92.4h.7M66.2 88.9h.7M79.8 93.5h.7M74.4 90.3h.7M68.1 87.2h.7M88.0 99.4h.7M79.5 95.0h.7M63.6 93.7h.7M66.6 90.0h.7M68.6 93.8h.7M81.1 90.9h.7M64.2 95.6h.7M79.2 92.7h.7M66.4 86.2h.7M75.3 98.6h.7M64.9 91.9h.7M73.7 85.7h.7M80.3 85.7h.7M76.1 83.3h.7M83.9 86.4h.7M78.4 99.3h.7M73.8 92.0h.7M69.3 92.7h.7M69.5 96.6h.7M76.0 88.8h.7M73.5 87.6h.7M66.2 90.8h.7M73.5 93.7h.7M78.0 93.0h.7M78.3 86.0h.7M71.6 97.0h.7M77.8 96.1h.7M67.3 90.1h.7M64.9 91.5h.7M70.5 86.5h.7M71.4 90.9h.7M79.4 91.2h.7M63.9 87.9h.7M65.3 96.2h.7M69.1 97.3h.7M59.4 90.8h.7M79.2 84.1h.7M74.0 88.3h.7M74.5 89.8h.7M81.1 93.8h.7M78.4 90.2h.7M76.0 92.8h.7M80.6 94.9h.7M66.6 80.2h.7M75.2 89.7h.7M73.6 94.3h.7M75.3 88.9h.7M80.8 95.1h.7M77.6 95.2h.7M65.4 89.0h.7M61.6 92.1h.7M79.1 95.2h.7M75.2 90.7h.7M76.3 85.5h.7M76.4 92.1h.7M76.5 100.5h.7M69.9 91.1h.7M82.3 96.7h.7M77.0 96.4h.7M66.3 90.9h.7M75.4 88.2h.7M65.7 97.1h.7M74.5 92.1h.7M74.0 88.2h.7M73.4 84.6h.7M63.1 96.5h.7M74.8 94.3h.7M72.8 91.2h.7M67.6 93.0h.7M61.3 92.3h.7M66.9 78.3h.7M82.8 93.6h.7M68.4 87.2h.7M69.0 88.7h.7M64.6 88.0h.7M68.1 90.9h.7M71.9 93.8h.7M78.3 92.7h.7M72.5 85.7h.7M76.8 90.7h.7M64.4 89.4h.7M62.9 77.3h.7M68.2 87.9h.7M75.9 92.0h.7M77.5 93.8h.7M67.1 100.7h.7M73.2 88.1h.7M77.1 84.5h.7M68.4 94.0h.7M86.3 85.9h.7M76.9 87.2h.7M78.3 93.7h.7M77.2 87.3h.7M69.4 95.5h.7M76.3 90.1h.7M80.7 98.4h.7M74.3 87.8h.7M72.0 91.8h.7M69.6 87.3h.7M68.9 98.8h.7M63.8 95.9h.7M74.2 85.3h.7M57.5 93.4h.7M73.6 92.3h.7M74.3 95.6h.7M70.5 89.2h.7M63.0 86.3h.7M74.0 89.5h.7M79.1 99.1h.7M76.6 94.7h.7M68.2 89.9h.7M68.9 88.8h.7M82.1 92.3h.7M81.2 97.0h.7M74.7 90.6h.7M68.9 96.8h.7M64.2 90.2h.7M70.8 98.2h.7M79.2 97.3h.7M62.6 98.6h.7M75.9 92.1h.7M74.2 89.4h.7M67.2 94.7h.7M57.7 96.3h.7M66.2 96.2h.7M68.2 83.7h.7M63.1 90.6h.7M58.6 91.2h.7M63.9 90.4h.7M66.7 81.0h.7M68.6 89.5h.7M72.4 97.3h.7M70.2 89.6h.7M79.8 88.1h.7M68.4 95.3h.7M70.8 97.6h.7M70.0 91.4h.7M67.9 91.7h.7M79.5 86.6h.7M64.6 90.3h.7M69.9 98.4h.7M60.9 99.0h.7M59.6 83.3h.7M85.2 98.8h.7M64.9 86.9h.7M79.4 82.7h.7M66.8 92.2h.7M66.9 94.6h.7M69.3 94.7h.7M72.5 90.0h.7M64.7 90.1h.7M78.6 87.8h.7M72.2 85.4h.7M70.1 83.1h.7M70.0 98.3h.7M74.7 91.0h.7M62.7 97.8h.7M71.0 87.9h.7M70.5 95.7h.7M74.8 91.7h.7M66.7 95.3h.7M82.3 92.1h.7M71.1 88.1h.7M58.1 89.5h.7M72.0 93.5h.7M65.0 90.7h.7M65.0 93.0h.7M68.0 91.8h.7M72.6 92.0h.7M71.7 86.3h.7M69.0 91.6h.7M75.5 89.5h.7M76.5 84.6h.7M71.8 93.2h.7M70.6 92.5h.7M74.3 89.0h.7M61.9 91.0h.7M67.5 98.0h.7M73.4 92.2h.7M71.3 92.4h.7M78.5 93.1h.7M72.3 89.3h.7M70.6 88.8h.7M68.8 93.2h.7M70.1 90.3h.7M72.8 90.5h.7M75.6 90.8h.7M79.8 85.8h.7M62.4 93.7h.7M67.1 91.8h.7M75.5 92.5h.7M63.6 85.1h.7M60.0 88.5h.7M78.6 95.5h.7M59.8 92.0h.7M70.6 89.6h.7M74.1 93.4h.7M68.6 93.2h.7M76.4 94.1h.7M75.2 88.4h.7M77.9 91.6h.7M71.4 87.1h.7M78.5 82.6h.7M76.2 90.0h.7M62.5 89.4h.7M63.5 89.9h.7M76.5 92.8h.7M68.4 83.9h.7M72.7 91.8h.7M72.9 91.5h.7M70.3 89.6h.7M65.4 85.2h.7M72.4 89.1h.7M75.4 90.5h.7M60.5 90.8h.7M75.2 92.0h.7M81.0 88.4h.7M71.6 86.6h.7M62.8 86.0h.7M71.8 92.6h.7M74.8 96.5h.7M72.9 89.2h.7M80.7 86.7h.7M75.4 94.5h.7M75.7 94.3h.7M67.8 88.8h.7M68.7 86.6h.7M76.8 95.2h.7M68.4 92.7h.7M81.0 87.2h.7M70.8 90.1h.7M86.1 90.0h.7M76.0 86.0h.7M77.8 81.0h.7M76.8 88.4h.7M69.6 94.5h.7M78.6 93.6h.7M65.8 90.1h.7M83.3 84.3h.7M83.2 90.9h.7M64.8 92.6h.7M72.1 85.0h.7M85.0 92.8h.7M76.4 98.8h.7M73.1 90.0h.7M77.6 95.1h.7M75.7 88.5h.7M76.3 88.6h.7M80.0 92.3h.7M71.5 88.0h.7M68.7 94.9h.7M69.5 85.5h.7M79.5 92.7h.7M70.2 89.2h.7M73.3 92.2h.7M70.9 87.3h.7M67.4 94.3h.7M75.3 81.9h.7M81.7 98.2h.7M73.3 93.1h.7M70.5 88.6h.7M69.7 90.7h.7M78.3 98.1h.7M78.0 91.2h.7M86.4 96.6h.7M74.0 101.8h.7M63.0 87.4h.7M69.4 85.7h.7M79.9 94.3h.7M73.0 90.1h.7M64.8 83.2h.7M75.8 98.2h.7M66.0 89.1h.7M78.8 93.3h.7M78.4 83.3h.7M67.2 103.7h.7M56.2 91.4h.7M53.6 108.0h.7M82.5 97.5h.7M64.9 81.8h.7M70.9 84.8h.7M46.9 83.3h.7M56.4 87.9h.7M85.5 91.0h.7M50.0 79.5h.7M59.5 80.2h.7M61.8 95.8h.7M71.5 81.7h.7M86.7 95.5h.7M63.8 93.2h.7M47.1 99.4h.7M57.6 82.8h.7M37.5 91.2h.7M57.2 94.4h.7M75.4 105.6h.7M62.2 89.5h.7M66.5 81.1h.7M82.4 86.7h.7M65.4 89.9h.7M83.8 79.5h.7M81.2 96.5h.7M44.3 70.1h.7M75.6 90.8h.7M65.0 92.1h.7M45.4 67.7h.7M67.4 82.8h.7M54.0 89.3h.7M73.4 101.5h.7M51.7 91.6h.7M66.4 85.3h.7M46.9 85.6h.7M72.0 94.9h.7M57.1 101.0h.7M82.9 82.4h.7M69.0 81.9h.7M46.0 100.9h.7M69.2 93.0h.7M80.5 101.1h.7M54.9 79.5h.7M77.7 82.3h.7M66.6 95.3h.7M62.3 96.7h.7M64.0 94.9h.7M51.2 88.0h.7M52.6 81.2h.7M76.3 95.2h.7M53.3 87.7h.7M79.5 88.8h.7M73.8 93.9h.7M53.5 86.5h.7M56.3 85.7h.7M82.9 87.8h.7M57.6 79.9h.7M58.5 96.9h.7M69.2 91.4h.7M73.2 100.6h.7M61.0 92.6h.7M96.0 85.9h.7M94.2 97.0h.7M66.3 91.0h.7M45.2 83.0h.7M75.6 103.1h.7M70.0 96.8h.7M81.4 104.8h.7M63.1 88.2h.7M71.4 96.8h.7M48.8 101.5h.7M68.3 92.8h.7M76.6 98.9h.7M51.1 87.6h.7M66.0 104.1h.7M69.7 92.2h.7M83.3 94.7h.7M44.9 94.8h.7M62.4 87.4h.7M67.1 94.1h.7M71.7 91.0h.7M42.8 81.0h.7M72.2 96.7h.7M68.5 84.2h.7M65.6 89.9h.7M60.3 91.3h.7M53.7 94.8h.7M54.9 88.2h.7M48.7 92.2h.7M69.1 89.7h.7M73.4 87.8h.7M71.0 97.5h.7M57.2 84.8h.7M48.8 82.5h.7M57.6 91.1h.7M78.7 87.1h.7M65.6 81.0h.7M66.3 103.5h.7M47.4 84.2h.7M91.9 82.4h.7M46.1 93.9h.7M56.9 94.0h.7M65.2 89.0h.7M86.0 104.4h.7M46.3 81.2h.7M71.5 87.1h.7M57.1 94.7h.7M53.8 81.1h.7M78.6 97.0h.7M59.5 76.2h.7M69.6 86.4h.7M74.0 100.5h.7M47.1 81.4h.7M71.3 96.3h.7M52.7 93.7h.7M73.1 87.5h.7M68.0 82.2h.7M61.1 82.9h.7M56.6 94.1h.7M61.3 86.2h.7M60.6 85.3h.7M87.3 96.5h.7M72.9 86.6h.7M76.6 93.8h.7M69.4 96.6h.7M70.0 83.2h.7M88.5 86.0h.7M63.8 107.6h.7M86.1 90.8h.7M50.7 104.4h.7M45.6 101.5h.7M77.1 74.5h.7M47.0 88.3h.7M87.3 95.2h.7M67.6 90.2h.7M52.3 90.4h.7M89.5 89.1h.7M40.6 97.0h.7M67.1 87.3h.7M72.2 94.7h.7M74.1 94.6h.7M85.1 100.4h.7M58.3 94.9h.7M71.1 99.8h.7M62.8 98.8h.7M51.6 85.9h.7M51.2 88.4h.7M60.3 85.6h.7M73.7 83.7h.7M60.5 103.4h.7M41.9 86.9h.7M76.7 87.1h.7M65.5 100.6h.7M75.2 106.7h.7M66.4 65.6h.7M47.8 111.8h.7M65.2 85.6h.7M94.0 102.9h.7M87.4 83.2h.7M56.5 86.5h.7M92.8 80.0h.7M55.8 89.5h.7M44.5 95.6h.7M57.1 87.9h.7M54.4 85.9h.7M65.2 103.0h.7M45.1 90.8h.7M55.5 85.6h.7M86.8 91.7h.7M52.8 89.3h.7M77.9 83.1h.7M64.4 93.2h.7M70.4 84.1h.7M68.2 90.7h.7M48.6 84.2h.7M49.5 95.8h.7M78.1 96.0h.7M84.0 108.6h.7M53.6 94.5h.7M60.4 89.4h.7M64.4 81.6h.7M58.7 92.3h.7M80.4 94.5h.7M65.6 87.7h.7M68.1 91.8h.7M77.7 113.2h.7M71.6 91.9h.7M66.7 86.2h.7M67.3 81.3h.7M56.6 87.3h.7M72.2 98.8h.7M51.9 88.8h.7M81.9 83.0h.7M58.0 94.3h.7M72.1 101.0h.7M74.0 103.1h.7M86.0 105.4h.7M68.3 83.5h.7M74.1 90.0h.7M64.2 92.9h.7M73.0 87.8h.7M74.2 101.7h.7M73.3 84.6h.7M35.4 92.4h.7M68.1 86.9h.7M66.0 90.6h.7M70.1 87.1h.7M77.0 97.6h.7M73.8 82.8h.7M72.7 85.8h.7M40.2 87.4h.7M74.0 102.2h.7M93.2 98.9h.7M72.6 103.1h.7M57.4 86.1h.7M67.1 91.8h.7M53.3 88.9h.7M63.2 113.4h.7M61.2 105.1h.7M57.6 119.8h.7M52.4 120.7h.7M48.6 121.0h.7M50.7 116.7h.7M52.8 125.6h.7M48.9 113.1h.7M65.1 108.7h.7M56.5 117.8h.7M51.7 129.7h.7M50.2 128.9h.7M52.2 120.0h.7M41.0 114.8h.7M60.9 112.6h.7M50.5 141.5h.7M49.7 131.5h.7M59.7 110.9h.7M45.0 130.4h.7M46.4 131.5h.7M59.3 98.9h.7M43.1 131.5h.7M55.8 104.2h.7M54.5 115.8h.7M64.4 103.9h.7M49.0 131.4h.7M62.7 114.5h.7M46.2 134.4h.7M47.4 127.7h.7M52.9 125.0h.7M54.2 123.6h.7M42.1 134.4h.7M47.4 126.1h.7M57.1 108.0h.7M53.2 118.0h.7M54.1 104.3h.7M49.4 109.3h.7M53.7 109.5h.7M47.1 127.8h.7M59.3 103.4h.7M52.6 137.6h.7M56.9 102.1h.7M43.7 129.1h.7M37.8 125.6h.7M55.3 114.0h.7M53.4 120.0h.7M49.3 138.8h.7M53.5 125.6h.7M41.5 129.5h.7M44.1 127.5h.7M49.0 124.8h.7M56.3 105.5h.7M40.7 140.3h.7M57.2 108.8h.7M45.2 132.7h.7M50.3 120.4h.7M46.4 141.4h.7M59.2 109.8h.7M47.5 139.0h.7M55.8 115.4h.7M68.0 114.7h.7M39.1 134.9h.7M49.1 127.3h.7M51.9 132.6h.7M50.2 133.9h.7M50.9 122.2h.7M55.3 104.0h.7M57.5 115.2h.7M51.2 106.0h.7M50.6 134.0h.7M60.4 117.8h.7M57.3 102.6h.7M59.2 106.6h.7M50.2 119.7h.7M49.3 119.8h.7M52.1 113.1h.7M51.4 137.5h.7M49.3 116.6h.7M60.0 115.7h.7M62.7 115.1h.7M53.5 121.0h.7M57.2 106.6h.7M57.7 118.9h.7M52.5 123.2h.7M52.3 127.2h.7M46.7 122.8h.7M49.5 123.9h.7M61.5 116.5h.7M43.4 126.4h.7M46.4 126.8h.7M36.7 120.2h.7M45.5 124.5h.7M61.8 99.5h.7M45.7 124.0h.7M53.6 118.1h.7M58.0 118.9h.7M56.3 118.3h.7M50.6 132.1h.7M55.3 105.6h.7M56.6 121.7h.7M48.7 124.5h.7M55.7 134.2h.7M59.8 109.9h.7M52.3 130.0h.7M50.4 113.0h.7M53.4 126.7h.7M56.1 118.0h.7M51.0 114.0h.7M52.2 121.6h.7M46.0 134.9h.7M41.0 118.9h.7M48.2 139.8h.7M57.0 118.2h.7M62.1 112.7h.7M57.0 122.3h.7M54.7 122.0h.7M55.1 118.2h.7M52.9 114.7h.7M62.4 100.6h.7M55.0 114.1h.7M50.1 126.7h.7M36.4 130.1h.7M59.6 113.4h.7M40.3 133.2h.7M56.4 111.8h.7M43.4 131.2h.7M53.7 127.2h.7M54.7 119.3h.7M66.5 109.8h.7M58.9 113.3h.7M49.1 136.2h.7M60.0 108.9h.7M53.6 118.7h.7M61.1 124.9h.7M58.7 103.9h.7M43.6 130.2h.7M64.2 105.0h.7M57.5 102.2h.7M49.5 124.0h.7M60.1 113.9h.7M56.3 107.5h.7M61.8 110.0h.7M63.0 98.5h.7M55.1 118.3h.7M48.5 125.7h.7M51.6 109.5h.7M48.8 133.3h.7M52.3 126.0h.7M53.5 120.3h.7M60.5 100.2h.7M45.0 135.5h.7M48.9 130.3h.7M41.5 137.2h.7M49.2 110.5h.7M53.7 115.5h.7M50.4 122.8h.7M46.0 120.4h.7M42.2 128.8h.7M47.8 119.9h.7M56.4 138.1h.7M62.4 110.0h.7M47.7 129.0h.7M54.9 108.5h.7M41.6 138.5h.7M47.8 122.9h.7M53.4 109.0h.7M60.1 113.5h.7M51.6 125.5h.7M45.4 122.6h.7M43.1 131.1h.7M64.7 109.1h.7M56.7 109.9h.7M63.8 106.6h.7M40.4 126.5h.7M57.2 114.2h.7M45.6 122.1h.7M51.1 116.9h.7M46.7 129.7h.7M46.6 133.0h.7M56.4 109.3h.7M57.6 101.5h.7M46.5 137.5h.7M58.6 115.4h.7M58.4 112.7h.7M39.3 126.1h.7M57.4 104.8h.7M57.8 120.9h.7M49.5 133.0h.7M58.7 117.8h.7M50.7 108.8h.7M51.5 119.6h.7M58.7 109.0h.7M56.9 113.8h.7M60.0 105.1h.7M45.2 108.8h.7M55.1 115.2h.7M50.7 138.8h.7M80.9 121.1h.7M44.5 118.5h.7M69.4 109.2h.7M57.6 113.4h.7M45.0 135.4h.7M48.2 108.7h.7M52.6 120.0h.7M79.4 121.2h.7M58.0 116.7h.7M68.9 113.4h.7M48.4 131.3h.7M59.4 125.2h.7M64.6 122.9h.7M56.6 116.6h.7M59.5 123.8h.7M65.1 112.7h.7M63.5 100.2h.7M72.6 133.5h.7M54.2 128.8h.7M43.5 127.0h.7M63.6 120.2h.7M89.4 123.7h.7M58.8 110.9h.7M52.1 117.1h.7M64.7 108.9h.7M80.9 104.1h.7M60.3 127.6h.7M55.9 127.0h.7M74.9 127.7h.7M72.8 100.1h.7M68.3 112.5h.7M70.5 115.2h.7M75.4 120.6h.7M69.6 112.1h.7M89.7 115.6h.7M58.2 126.2h.7M49.9 123.5h.7M62.2 112.8h.7M53.1 121.9h.7M82.6 131.5h.7M70.8 116.0h.7M38.8 127.2h.7M56.7 121.9h.7M69.2 130.8h.7M72.3 123.8h.7M71.1 125.2h.7M57.1 139.1h.7M87.8 113.8h.7M57.5 123.0h.7M48.1 113.0h.7M62.1 102.3h.7M50.9 113.7h.7M67.7 121.6h.7M72.1 132.4h.7M67.7 119.9h.7M45.8 134.2h.7M56.4 122.7h.7M50.0 112.6h.7M44.3 130.2h.7M65.9 114.3h.7M36.6 114.7h.7M57.0 124.8h.7M69.9 120.3h.7M69.2 115.9h.7M58.2 114.1h.7M59.0 118.1h.7M52.8 128.2h.7M45.5 125.6h.7M54.8 130.3h.7M63.3 123.9h.7M80.1 114.0h.7M51.5 128.9h.7M61.5 110.6h.7M40.9 118.6h.7M51.4 113.1h.7M52.4 113.6h.7M61.1 125.2h.7M53.5 118.4h.7M46.4 121.6h.7M57.1 125.1h.7M52.6 108.2h.7M70.6 117.5h.7M68.1 126.9h.7M79.3 121.7h.7M76.8 109.9h.7M46.5 109.0h.7M39.9 129.3h.7M59.4 112.0h.7M59.8 131.1h.7M59.3 121.4h.7M64.5 117.2h.7M71.5 116.4h.7M54.9 113.8h.7M64.0 125.7h.7M45.0 122.0h.7M54.9 127.3h.7M59.1 116.9h.7M68.1 119.6h.7M59.5 133.5h.7M73.1 119.7h.7M64.7 109.0h.7M63.4 127.5h.7M50.1 113.8h.7M71.1 134.7h.7M55.9 113.7h.7M63.9 127.7h.7M52.0 123.4h.7M57.4 106.6h.7M64.9 132.1h.7M58.0 127.2h.7M54.3 114.7h.7M68.4 106.6h.7M54.6 101.0h.7M71.6 132.3h.7M42.7 105.5h.7M56.7 108.6h.7M53.2 128.8h.7M70.9 112.2h.7M70.5 132.7h.7M53.8 124.6h.7M72.7 118.3h.7M69.4 133.5h.7M52.8 120.6h.7M66.0 132.4h.7M73.4 139.6h.7M57.8 126.9h.7M74.0 126.4h.7M78.6 122.7h.7M68.4 118.7h.7M62.8 135.5h.7M74.9 105.4h.7M72.4 126.1h.7M38.3 99.1h.7M54.4 116.3h.7M59.5 111.6h.7M79.7 122.0h.7M55.9 121.6h.7M51.7 112.9h.7M48.8 129.1h.7M73.0 117.5h.7M37.3 110.5h.7M50.3 121.8h.7M64.8 128.0h.7M52.3 121.3h.7M62.7 116.9h.7M63.2 126.6h.7M67.5 107.6h.7M73.2 115.1h.7M69.0 117.2h.7M84.3 113.1h.7M70.9 118.5h.7M54.4 118.8h.7M67.6 128.8h.7M67.6 92.2h.7M60.8 126.7h.7M36.6 95.9h.7M67.3 131.0h.7M49.1 111.3h.7M61.9 126.1h.7M44.4 116.8h.7M48.8 131.8h.7M61.3 131.4h.7M60.7 121.5h.7M59.0 135.9h.7M71.0 115.9h.7M67.8 121.1h.7M58.8 125.9h.7M58.1 133.5h.7M58.6 123.1h.7M75.4 124.0h.7M52.7 128.0h.7M57.0 117.9h.7M60.0 104.7h.7M58.8 133.7h.7M58.9 126.2h.7M51.0 105.8h.7M39.0 120.5h.7M55.5 115.1h.7M52.6 111.8h.7M63.5 110.8h.7M48.5 119.3h.7M55.4 122.1h.7M50.2 139.3h.7M55.7 120.4h.7M70.2 110.8h.7M88.0 124.9h.7M83.7 106.8h.7M64.8 116.6h.7M58.8 122.9h.7M74.7 124.8h.7M73.6 104.6h.7M79.6 102.9h.7M70.9 104.0h.7M86.6 111.3h.7M72.3 134.6h.7M90.8 114.6h.7M78.0 111.5h.7M96.2 136.5h.7M78.5 125.1h.7M67.4 109.0h.7M82.6 111.6h.7M115.9 116.9h.7M75.2 109.4h.7M84.8 105.2h.7M86.1 115.4h.7M73.9 102.3h.7M73.5 114.4h.7M72.7 110.3h.7M72.2 106.3h.7M100.7 90.9h.7M76.2 106.2h.7M71.3 93.0h.7M88.7 104.7h.7M69.2 134.9h.7M76.3 109.1h.7M88.4 98.6h.7M72.4 125.5h.7M70.2 110.3h.7M79.6 104.0h.7M73.9 127.0h.7M91.4 104.8h.7M78.2 115.2h.7M72.6 128.6h.7M78.4 120.7h.7M75.0 133.3h.7M66.1 117.5h.7M89.8 123.0h.7M90.7 124.4h.7M70.8 130.5h.7M84.6 124.8h.7M56.6 120.2h.7M83.0 91.8h.7M76.4 127.0h.7M71.3 121.6h.7M79.1 110.2h.7M67.3 90.4h.7M83.3 115.2h.7M62.9 109.1h.7M65.5 109.2h.7M69.0 111.8h.7M77.0 112.6h.7M78.4 118.3h.7M71.7 124.6h.7M90.5 118.2h.7M84.6 107.3h.7M96.4 110.7h.7M80.8 116.6h.7" stroke="#4535ab" stroke-width=".7" stroke-opacity=".55" fill="none" clip-path="url(#clip1)"/>
<path d="M49.3 84.6h.7M52.5 88.2h.7M56.6 84.2h.7M50.7 90.1h.7M53.3 88.2h.7M53.5 90.1h.7M42.6 88.3h.7M49.7 86.3h.7M56.1 84.9h.7M62.4 90.4h.7M51.3 88.9h.7M40.2 90.7h.7M48.9 96.5h.7M54.2 88.6h.7M55.9 82.9h.7M39.5 93.0h.7M46.4 80.1h.7M44.5 89.6h.7M62.3 82.2h.7M57.5 89.1h.7M58.6 88.4h.7M48.5 87.5h.7M57.1 83.5h.7M52.0 90.5h.7M58.4 93.5h.7M55.0 86.8h.7M48.6 91.6h.7M49.4 89.6h.7M56.3 82.6h.7M49.6 86.2h.7M46.7 92.1h.7M57.8 90.1h.7M54.4 81.5h.7M53.9 90.8h.7M43.4 92.2h.7M55.9 92.0h.7M49.0 98.7h.7M42.1 94.3h.7M57.2 94.5h.7M57.7 88.9h.7M55.3 86.2h.7M60.1 84.5h.7M47.0 95.8h.7M59.0 93.2h.7M56.3 88.2h.7M55.1 91.5h.7M39.9 90.2h.7M60.2 88.2h.7M47.0 90.8h.7M56.8 88.9h.7M59.4 88.1h.7M57.9 89.9h.7M51.3 98.6h.7M50.5 92.3h.7M52.8 88.2h.7M64.3 83.3h.7M52.7 86.7h.7M57.4 93.9h.7M53.2 91.2h.7M50.1 85.1h.7M39.6 85.5h.7M44.5 91.7h.7M43.0 88.3h.7M55.5 90.8h.7M45.7 88.2h.7M58.0 89.1h.7M52.9 89.3h.7M56.8 88.1h.7M47.6 83.7h.7M49.6 85.1h.7M38.1 83.7h.7M51.9 94.4h.7M58.5 85.5h.7M46.0 88.7h.7M52.6 95.2h.7M51.3 85.8h.7M51.5 91.5h.7M42.3 92.0h.7M54.6 87.4h.7M48.4 91.8h.7M54.0 89.5h.7M52.1 89.9h.7M50.9 93.8h.7M43.3 91.2h.7M42.7 88.6h.7M45.3 89.6h.7M48.5 86.4h.7M47.5 91.2h.7M36.9 86.1h.7M53.0 85.5h.7M59.3 97.9h.7M47.2 90.6h.7M37.4 96.8h.7M64.6 93.8h.7M60.5 82.2h.7M52.2 98.6h.7M52.0 97.4h.7M53.6 91.9h.7M41.6 90.6h.7M63.0 85.9h.7M42.8 80.8h.7M61.6 93.9h.7M59.3 90.2h.7M51.6 95.2h.7M55.8 85.0h.7M47.5 89.3h.7M52.4 88.6h.7M58.7 94.8h.7M47.0 93.3h.7M49.8 94.0h.7M46.9 93.1h.7M55.5 88.8h.7M51.8 94.0h.7M65.4 91.5h.7M50.2 92.9h.7M59.8 90.3h.7M50.9 99.9h.7M53.8 84.0h.7M44.5 86.9h.7M58.6 92.8h.7M48.1 92.3h.7M53.5 93.1h.7M49.1 93.9h.7M51.4 88.3h.7M39.7 83.8h.7M55.9 78.7h.7M53.7 95.4h.7M40.0 96.9h.7M43.7 90.4h.7M63.9 96.0h.7M62.4 85.4h.7M53.5 93.7h.7M43.9 93.8h.7M52.8 85.7h.7M51.6 91.7h.7M54.8 86.5h.7M51.3 94.9h.7M46.9 92.9h.7M39.3 92.2h.7M48.0 94.9h.7M55.7 85.2h.7M56.6 92.9h.7M61.3 89.4h.7M61.2 88.2h.7M49.1 87.1h.7M54.6 97.2h.7M56.5 92.7h.7M57.7 88.1h.7M54.8 89.2h.7M44.7 87.1h.7M44.5 95.5h.7M63.8 80.9h.7M59.0 82.2h.7M51.6 89.2h.7M57.4 94.5h.7M57.1 96.1h.7M62.3 93.1h.7M51.5 92.4h.7M43.0 83.1h.7M58.5 96.3h.7M56.4 92.8h.7M51.5 91.2h.7M53.7 86.7h.7M48.4 93.4h.7M45.3 84.4h.7M43.8 86.8h.7M42.4 91.2h.7M53.0 83.7h.7M45.5 84.3h.7M45.5 76.6h.7M52.2 84.4h.7M48.1 88.2h.7M51.7 91.9h.7M55.1 91.2h.7M60.3 85.7h.7M50.5 88.1h.7M48.5 89.6h.7M56.8 90.2h.7M51.0 92.6h.7M39.5 88.1h.7M49.7 85.6h.7M43.5 92.4h.7M59.6 92.8h.7M57.8 98.3h.7M58.6 81.5h.7M55.4 86.3h.7M66.9 89.1h.7M45.7 91.6h.7M49.0 86.1h.7M54.3 88.0h.7M63.4 88.4h.7M53.8 91.2h.7M42.5 94.9h.7M54.1 86.4h.7M60.4 88.5h.7M52.6 87.0h.7M52.7 89.9h.7M50.3 88.3h.7M49.7 83.4h.7M42.2 86.6h.7M49.5 91.9h.7M51.6 91.0h.7M54.1 96.3h.7M58.0 93.2h.7M57.6 93.2h.7M58.3 96.6h.7M47.5 87.7h.7M47.8 91.2h.7M52.7 88.1h.7M57.0 89.1h.7M65.4 93.5h.7M48.8 90.5h.7M55.6 91.3h.7M51.2 85.6h.7M50.0 85.4h.7M42.7 90.5h.7M52.4 88.0h.7M46.2 85.1h.7M54.7 88.2h.7M55.6 93.6h.7M44.2 90.3h.7M49.9 91.8h.7M51.5 85.1h.7M43.9 83.9h.7M47.6 91.2h.7M56.2 96.2h.7M62.8 87.2h.7M49.9 91.4h.7M53.5 94.8h.7M61.5 84.6h.7M45.9 96.4h.7M53.8 95.7h.7M64.2 86.4h.7M48.5 90.5h.7M59.8 80.8h.7M55.6 84.4h.7M64.8 87.7h.7M53.0 92.6h.7M57.7 91.6h.7M57.8 93.9h.7M57.2 90.2h.7M49.9 98.6h.7M54.8 84.2h.7M59.8 90.0h.7M50.2 95.2h.7M62.1 88.9h.7M51.1 83.7h.7M48.0 85.5h.7M48.2 88.9h.7M60.2 88.2h.7M48.0 89.7h.7M47.5 88.9h.7M49.9 89.3h.7M61.4 88.7h.7M55.3 88.5h.7M50.0 95.8h.7M64.4 92.5h.7M68.6 94.3h.7M57.8 86.7h.7M49.0 85.0h.7M52.0 92.0h.7M43.0 92.3h.7M58.8 95.0h.7M44.8 93.4h.7M59.4 87.6h.7M60.5 85.2h.7M62.9 90.1h.7M60.4 93.3h.7M41.6 82.7h.7M44.0 82.9h.7M50.2 78.1h.7M58.9 89.6h.7M61.8 87.5h.7M62.5 85.4h.7M51.0 86.6h.7M51.6 85.4h.7M56.3 85.8h.7M45.1 97.4h.7M57.5 91.8h.7M49.5 91.2h.7M49.5 86.3h.7M67.7 89.1h.7M55.8 91.6h.7M50.6 90.3h.7M45.9 95.1h.7M47.1 91.1h.7M51.8 87.4h.7M38.8 90.6h.7M40.7 89.0h.7M47.9 98.1h.7M47.5 93.0h.7M48.5 83.5h.7M64.9 91.0h.7M52.7 85.6h.7M37.3 90.3h.7M57.7 93.8h.7M48.1 97.0h.7M48.8 94.0h.7M45.1 96.4h.7M53.6 84.9h.7M55.6 89.5h.7M52.9 91.3h.7M53.0 90.0h.7M56.8 89.9h.7M55.2 94.7h.7M57.4 97.2h.7M59.3 87.1h.7M54.9 89.7h.7M60.3 93.0h.7M47.7 91.8h.7M49.5 91.9h.7M52.2 90.1h.7M58.6 90.7h.7M57.9 90.5h.7M47.0 87.2h.7M49.0 90.4h.7M56.6 90.3h.7M58.6 91.4h.7M60.6 93.2h.7M40.7 93.8h.7M58.8 90.6h.7M41.9 95.5h.7M60.6 89.2h.7M49.7 84.7h.7M47.9 89.7h.7M57.6 88.2h.7M54.6 87.5h.7M44.6 84.4h.7M46.4 91.0h.7M51.1 86.6h.7M41.8 88.5h.7M61.1 87.8h.7M47.5 98.4h.7M60.7 89.8h.7M59.4 92.7h.7M45.5 89.7h.7M50.7 79.9h.7M47.5 95.4h.7M51.8 95.0h.7M44.4 86.4h.7M56.8 89.0h.7M46.5 93.4h.7M51.0 101.1h.7M48.2 92.5h.7M48.4 88.5h.7M56.9 91.5h.7M46.2 86.5h.7M41.9 87.0h.7M56.2 91.9h.7M46.2 93.2h.7M59.2 93.4h.7M59.3 86.5h.7M50.9 87.7h.7M55.8 89.4h.7M48.6 96.4h.7M55.3 94.1h.7M42.2 96.6h.7M60.2 79.9h.7M42.1 93.7h.7M53.3 88.2h.7M56.7 91.1h.7M49.6 98.4h.7M58.6 86.4h.7M62.2 86.0h.7M48.0 87.0h.7M55.4 89.0h.7M54.7 89.1h.7M56.4 92.1h.7M48.7 88.5h.7M47.3 86.5h.7M63.6 88.4h.7M58.2 90.7h.7M56.6 89.8h.7M48.7 93.9h.7M45.6 91.8h.7M48.2 90.2h.7M48.2 88.4h.7M38.3 91.3h.7M50.8 89.6h.7M43.9 92.1h.7M49.0 90.7h.7M56.8 84.2h.7M56.9 92.5h.7M46.0 88.0h.7M53.9 97.6h.7M60.2 92.2h.7M53.9 87.8h.7M36.7 93.2h.7M43.2 92.2h.7M62.9 86.2h.7M38.4 86.2h.7M58.8 91.7h.7M52.2 87.4h.7M44.7 89.8h.7M51.5 95.4h.7M44.7 93.1h.7M38.9 87.8h.7M55.2 84.6h.7M54.3 84.5h.7M72.4 90.8h.7M47.6 94.3h.7M46.3 91.4h.7M69.2 85.4h.7M46.0 95.6h.7M55.5 95.9h.7M66.3 83.0h.7M41.3 93.6h.7M53.2 93.2h.7M55.1 94.1h.7M42.5 84.8h.7M47.5 91.1h.7M46.8 93.5h.7M46.5 87.0h.7M51.0 90.7h.7M58.2 89.5h.7M54.7 91.1h.7M43.4 88.9h.7M51.0 93.4h.7M48.4 96.6h.7M62.7 89.0h.7M56.3 88.0h.7M61.7 97.2h.7M51.0 84.4h.7M56.2 92.0h.7M59.4 87.6h.7M47.4 92.2h.7M42.8 83.3h.7M45.7 85.7h.7M49.5 85.9h.7M48.5 83.3h.7M54.6 93.1h.7M61.3 89.7h.7M48.2 85.1h.7M50.4 95.5h.7M47.5 90.5h.7M51.5 86.6h.7M52.0 98.0h.7M61.4 87.2h.7M51.7 88.1h.7M52.0 89.1h.7M53.7 86.3h.7M47.2 93.1h.7M54.3 86.3h.7M50.3 88.9h.7M57.1 87.4h.7M51.3 86.5h.7M47.2 96.9h.7M58.0 94.0h.7M50.6 83.9h.7M50.3 93.7h.7M63.2 82.9h.7M46.4 87.3h.7M43.0 90.3h.7M47.4 82.8h.7M46.6 86.8h.7M41.1 84.4h.7M54.2 92.4h.7M52.1 85.9h.7M57.2 83.8h.7M76.3 88.8h.7M60.4 94.2h.7M45.3 91.2h.7M59.4 90.1h.7M61.6 88.0h.7M62.4 94.8h.7M50.3 97.2h.7M55.7 91.3h.7M47.1 89.7h.7M61.2 81.5h.7M55.5 90.0h.7M53.4 89.4h.7M42.4 84.5h.7M47.0 91.9h.7M46.6 87.0h.7M41.8 87.0h.7M49.5 92.7h.7M54.5 90.4h.7M58.0 88.4h.7M48.1 92.2h.7M48.3 92.8h.7M50.9 98.7h.7M55.9 94.7h.7M47.6 90.2h.7M49.5 85.0h.7M61.1 86.3h.7M49.9 87.9h.7M53.2 84.4h.7M58.9 87.8h.7M51.7 94.2h.7M57.8 93.2h.7M59.2 85.4h.7M41.7 88.9h.7M45.9 91.4h.7M57.2 91.6h.7M41.7 92.6h.7M53.3 99.8h.7M54.9 88.1h.7M56.0 92.5h.7M59.3 92.1h.7M42.9 89.5h.7M40.9 91.4h.7M65.3 89.8h.7M53.4 88.6h.7M63.0 91.3h.7M54.1 85.9h.7M57.4 93.2h.7M49.9 86.1h.7M48.3 83.5h.7M53.4 98.0h.7M48.5 92.6h.7M43.2 92.4h.7M49.9 91.3h.7M50.5 88.8h.7M59.2 91.4h.7M50.6 90.4h.7M57.7 86.7h.7M55.1 84.3h.7M38.0 91.8h.7M44.2 93.5h.7M49.4 83.5h.7M54.5 81.3h.7M52.9 91.6h.7M54.3 82.6h.7M61.4 91.8h.7M52.5 88.2h.7M47.4 89.8h.7M58.1 88.3h.7M53.3 89.9h.7M44.3 94.3h.7M57.8 92.2h.7M42.3 90.1h.7M56.0 82.5h.7M58.0 102.0h.7M50.3 85.8h.7M50.5 83.0h.7M62.8 90.0h.7M46.5 87.5h.7M56.4 84.3h.7M38.9 88.7h.7M53.6 90.1h.7M50.6 79.3h.7M62.8 90.6h.7M42.9 83.9h.7M47.3 79.6h.7M46.8 91.8h.7M47.2 88.8h.7M52.1 82.8h.7M52.0 90.1h.7M37.7 99.5h.7M54.9 87.8h.7M50.9 85.2h.7M47.2 95.2h.7M35.9 87.2h.7M63.8 88.6h.7M56.4 86.9h.7M55.4 94.2h.7M57.3 90.9h.7M35.1 90.9h.7M49.1 94.6h.7M58.0 88.4h.7M51.7 91.1h.7M56.6 75.8h.7M43.2 92.2h.7M44.5 88.9h.7M44.5 88.5h.7M55.9 88.4h.7M57.6 85.6h.7M46.6 92.8h.7M50.0 84.5h.7M49.7 96.7h.7M63.5 92.6h.7M60.4 97.9h.7M54.6 90.7h.7M58.9 84.7h.7M47.4 90.4h.7M51.9 87.6h.7M62.1 91.4h.7M59.3 87.6h.7M61.2 86.0h.7M57.5 86.7h.7M51.7 76.6h.7M54.1 86.0h.7M56.8 88.8h.7M52.0 88.5h.7M45.3 90.7h.7M60.0 98.0h.7M42.6 88.9h.7M52.0 88.3h.7M45.8 91.4h.7M47.8 94.4h.7M53.2 86.3h.7M55.7 87.9h.7M47.6 88.6h.7M52.5 89.3h.7M62.8 89.3h.7M54.5 82.3h.7M44.1 96.7h.7M43.5 90.2h.7M42.1 88.9h.7M45.5 83.7h.7M51.4 87.1h.7M50.9 88.6h.7M63.8 91.1h.7M52.7 89.1h.7M44.0 99.7h.7M58.8 90.2h.7M55.2 93.4h.7M58.0 92.0h.7M48.2 84.9h.7M58.5 92.7h.7M52.2 86.9h.7M40.0 85.3h.7M64.1 82.6h.7M55.9 88.3h.7M60.8 94.2h.7M48.5 90.3h.7M51.7 84.7h.7M43.9 87.9h.7M47.6 94.9h.7M51.2 90.5h.7M55.2 90.2h.7M58.6 96.6h.7M55.3 85.1h.7M45.2 86.8h.7M57.9 93.4h.7M62.6 95.6h.7M55.8 86.4h.7M61.7 88.9h.7M44.9 94.1h.7M41.4 87.9h.7M48.0 89.2h.7M60.0 92.1h.7M56.7 97.2h.7M54.0 96.6h.7M59.9 95.3h.7M52.2 86.1h.7M46.0 84.2h.7M54.7 83.1h.7M59.1 88.5h.7M56.8 83.4h.7M55.6 91.2h.7M55.1 92.6h.7M58.6 82.9h.7M50.4 89.4h.7M54.1 94.9h.7M65.4 90.2h.7M47.5 92.3h.7M55.4 87.4h.7M58.7 92.7h.7M54.1 91.3h.7M55.8 88.2h.7M43.8 94.4h.7M43.6 92.0h.7M41.8 92.8h.7M45.8 93.7h.7M55.8 88.8h.7M63.9 91.5h.7M57.6 85.8h.7M46.5 81.3h.7M52.2 95.3h.7M48.2 88.5h.7M48.6 98.0h.7M57.5 94.9h.7M47.6 98.6h.7M48.1 95.0h.7M53.2 91.4h.7M43.8 93.1h.7M62.7 90.8h.7M43.0 94.1h.7M54.8 92.1h.7M46.8 88.7h.7M46.1 85.8h.7M56.4 88.2h.7M48.6 90.0h.7M43.1 77.1h.7M62.0 93.5h.7M57.9 84.3h.7M39.8 91.2h.7M57.4 89.3h.7M37.3 88.2h.7M59.1 85.6h.7M47.1 83.2h.7M46.4 87.5h.7M46.0 101.9h.7M57.3 91.8h.7M53.6 93.1h.7M49.5 90.5h.7M60.5 90.0h.7M47.2 95.1h.7M47.0 82.4h.7M54.4 89.4h.7M53.5 92.5h.7M58.5 87.0h.7M61.3 89.7h.7M48.1 92.4h.7M54.7 86.6h.7M40.4 85.2h.7M54.8 91.2h.7M51.0 86.4h.7M57.3 82.5h.7M48.2 81.7h.7M40.3 84.5h.7M49.6 88.7h.7M54.4 89.0h.7M48.8 87.8h.7M55.9 83.1h.7M48.4 91.7h.7M58.3 90.3h.7M50.9 90.9h.7M52.5 85.6h.7M50.6 89.4h.7M49.7 97.5h.7M57.0 84.5h.7M58.3 87.3h.7M53.8 98.2h.7M55.7 92.2h.7M57.6 94.4h.7M60.8 93.7h.7M57.6 87.4h.7M63.4 99.5h.7M54.0 85.4h.7M50.1 91.8h.7M54.1 87.1h.7M41.4 86.6h.7M37.6 87.6h.7M46.1 96.1h.7M51.6 88.7h.7M66.2 96.9h.7M49.0 90.7h.7M43.6 93.6h.7M57.6 85.3h.7M54.3 89.7h.7M39.3 84.4h.7M54.0 89.0h.7M50.4 94.9h.7M44.5 89.7h.7M53.5 87.6h.7M48.0 91.1h.7M48.1 91.0h.7M53.0 91.4h.7M48.2 88.0h.7M61.2 95.4h.7M57.2 84.8h.7M41.9 86.0h.7M53.0 89.1h.7M46.6 88.4h.7M52.7 88.7h.7M49.6 86.1h.7M61.4 92.3h.7M48.0 91.8h.7M52.3 85.0h.7M57.6 92.1h.7M63.7 89.5h.7M45.1 95.6h.7M53.0 96.0h.7M57.1 87.7h.7M40.7 93.0h.7M54.5 87.5h.7M52.3 92.2h.7M49.0 91.5h.7M52.4 88.4h.7M46.8 92.3h.7M55.0 87.8h.7M53.1 90.1h.7M51.7 85.6h.7M47.7 87.2h.7M47.9 84.3h.7M55.8 90.1h.7M55.5 92.6h.7M58.0 91.4h.7M45.1 87.9h.7M54.6 84.9h.7M42.9 85.6h.7M47.6 87.2h.7M43.2 87.1h.7M36.5 87.3h.7M59.4 79.1h.7M59.5 84.9h.7M52.9 93.8h.7M52.5 91.5h.7M56.0 89.0h.7M48.9 93.0h.7M52.6 91.1h.7M54.9 88.3h.7M59.4 91.8h.7M51.3 88.3h.7M52.1 88.9h.7M51.8 86.9h.7M51.0 86.3h.7M51.0 91.5h.7M50.0 97.5h.7M48.9 92.1h.7M48.3 90.7h.7M51.6 86.9h.7M45.5 92.6h.7M44.4 91.9h.7M45.6 94.2h.7M52.7 90.6h.7M69.4 88.9h.7M43.9 77.9h.7M51.1 90.4h.7M51.7 82.9h.7M48.0 85.0h.7M49.5 92.0h.7M55.1 93.4h.7M41.3 84.8h.7M52.9 97.3h.7M52.6 86.9h.7M37.8 87.1h.7M55.0 88.8h.7M40.5 89.8h.7M53.3 93.7h.7M51.6 91.9h.7M51.3 90.2h.7M53.9 93.3h.7M60.1 92.1h.7M53.7 89.5h.7M51.8 82.2h.7M54.7 93.0h.7M52.6 96.6h.7M39.7 91.4h.7M50.3 83.2h.7M52.4 93.0h.7M53.9 89.1h.7M49.5 92.5h.7M46.1 90.7h.7M53.6 85.2h.7M51.0 88.2h.7M49.6 83.1h.7M60.0 89.5h.7M47.2 90.1h.7M46.7 89.0h.7M42.6 88.1h.7M43.2 86.0h.7M58.7 78.0h.7M53.4 84.8h.7M48.5 92.3h.7M50.7 87.7h.7M42.1 91.0h.7M47.4 93.5h.7M62.3 88.8h.7M50.0 89.5h.7M40.9 92.9h.7M56.6 91.9h.7M60.8 87.7h.7M50.4 91.4h.7M54.4 84.2h.7M58.9 87.0h.7M41.2 93.0h.7M44.3 93.9h.7M48.0 83.2h.7M46.3 86.0h.7M59.0 87.1h.7M53.9 90.2h.7M38.7 85.8h.7M52.3 88.3h.7M62.2 91.8h.7M59.0 92.0h.7M43.7 89.8h.7M51.6 92.4h.7M55.1 94.5h.7M60.3 90.3h.7M50.2 94.2h.7M50.1 91.2h.7M45.8 99.2h.7M50.4 100.6h.7M56.5 92.5h.7M53.0 98.6h.7M56.3 93.5h.7M52.0 93.5h.7M54.6 95.2h.7M58.4 91.0h.7M37.1 92.2h.7M49.0 96.3h.7M47.8 85.0h.7M42.9 96.9h.7M61.0 92.7h.7M66.6 86.8h.7M56.4 90.4h.7M46.0 92.2h.7M50.8 99.3h.7M56.5 90.7h.7M49.1 85.4h.7M61.4 95.6h.7M50.1 86.1h.7M60.7 91.3h.7M50.4 91.9h.7M53.2 83.7h.7M52.6 91.3h.7M56.5 97.2h.7M55.0 88.8h.7M50.1 85.0h.7M47.3 92.4h.7M62.5 85.0h.7M59.0 94.4h.7M49.3 92.1h.7M61.4 94.3h.7M52.1 81.6h.7M36.9 83.7h.7M41.5 89.2h.7M48.6 90.5h.7M40.2 88.3h.7M50.1 89.5h.7M51.4 90.8h.7M49.6 91.9h.7M55.0 91.2h.7M55.3 91.9h.7M50.1 86.0h.7M46.3 90.4h.7M48.3 85.9h.7M52.5 88.2h.7M51.3 89.6h.7M68.3 97.6h.7M48.0 85.7h.7M55.1 92.7h.7M61.8 96.7h.7M46.4 83.4h.7M55.7 97.6h.7M61.9 95.7h.7M47.7 89.8h.7M54.8 88.1h.7M66.1 88.8h.7M54.9 82.8h.7M50.4 92.6h.7M57.5 93.9h.7M60.1 91.4h.7M48.7 88.2h.7M40.2 90.8h.7M53.0 82.6h.7M52.5 89.6h.7M52.6 95.6h.7M56.4 91.8h.7M52.6 89.3h.7M62.9 92.3h.7M52.8 97.0h.7M58.3 84.5h.7M51.5 90.1h.7M46.7 89.1h.7M43.3 89.7h.7M46.2 88.3h.7M46.5 92.5h.7M56.8 90.5h.7M61.5 87.4h.7M45.5 91.4h.7M45.2 81.4h.7M58.4 83.9h.7M60.0 87.5h.7M50.2 84.3h.7M53.0 95.7h.7M47.1 94.9h.7M49.6 85.5h.7M52.0 92.9h.7M53.8 86.2h.7M59.0 93.6h.7M54.5 90.0h.7M55.6 88.3h.7M51.2 88.1h.7M48.4 96.1h.7M63.5 89.8h.7M43.4 95.0h.7M50.1 91.9h.7M57.5 95.1h.7M64.9 92.3h.7M56.7 83.9h.7M52.5 92.0h.7M55.5 102.4h.7M40.4 88.6h.7M46.2 93.7h.7M41.0 89.8h.7M63.0 96.0h.7M48.7 90.0h.7M47.7 93.1h.7M48.6 94.1h.7M51.2 87.4h.7M42.8 82.8h.7M51.4 92.1h.7M40.5 90.8h.7M51.5 92.0h.7M61.9 84.2h.7M54.9 88.2h.7M61.9 87.5h.7M60.7 87.1h.7M62.3 94.5h.7M59.0 84.9h.7M53.2 91.5h.7M61.3 94.6h.7M53.8 82.4h.7M46.0 88.3h.7M59.2 85.4h.7M46.6 93.0h.7M53.2 92.9h.7M61.0 96.8h.7M55.2 91.8h.7M61.0 100.7h.7M59.8 90.0h.7M49.9 88.2h.7M69.0 98.0h.7M68.9 95.3h.7M56.5 81.2h.7M50.8 93.8h.7M54.4 87.0h.7M46.0 90.3h.7M54.3 86.7h.7M54.2 88.5h.7M47.0 91.0h.7M43.0 88.2h.7M56.0 86.9h.7M48.5 90.9h.7M39.4 89.1h.7M39.1 85.8h.7M48.7 93.4h.7M47.0 88.8h.7M56.5 85.4h.7M44.2 87.4h.7M49.4 86.8h.7M50.0 92.6h.7M51.1 87.6h.7M51.6 89.3h.7M50.9 92.4h.7M62.4 94.1h.7M43.4 96.6h.7M58.8 98.9h.7M44.7 92.6h.7M51.3 86.2h.7M58.1 90.2h.7M52.4 84.8h.7M57.0 91.6h.7M54.0 82.7h.7M45.1 84.2h.7M55.0 91.9h.7M40.1 93.2h.7M43.8 87.1h.7M65.9 88.9h.7M56.6 95.8h.7M46.9 82.1h.7M51.0 88.0h.7M62.2 88.3h.7M47.7 91.3h.7M56.2 91.7h.7M49.9 98.1h.7M39.2 95.1h.7M58.7 86.9h.7M42.9 93.8h.7M52.7 94.9h.7M45.3 87.0h.7M57.1 94.6h.7M45.7 94.6h.7M56.0 84.4h.7M54.1 86.2h.7M43.6 91.1h.7M42.6 93.0h.7M41.0 81.3h.7M45.9 86.4h.7M47.5 91.3h.7M54.8 91.8h.7M50.1 80.2h.7M50.0 89.0h.7M47.8 97.1h.7M49.7 87.4h.7M58.8 83.9h.7M39.5 93.4h.7M64.3 89.0h.7M41.8 91.4h.7M61.6 85.9h.7M40.6 90.0h.7M57.5 95.6h.7M50.5 88.1h.7M49.3 88.5h.7M49.7 83.3h.7M51.0 94.6h.7M47.7 92.4h.7M52.3 94.7h.7M51.2 85.2h.7M49.9 88.9h.7M45.3 97.4h.7M53.7 90.1h.7M66.0 84.8h.7M56.1 88.4h.7M57.4 91.5h.7M56.0 99.1h.7M49.2 91.3h.7M55.6 92.0h.7M40.2 92.6h.7M57.5 84.9h.7M38.5 88.3h.7M63.0 87.5h.7M56.8 87.8h.7M59.2 94.8h.7M55.0 92.9h.7M51.4 91.7h.7M38.5 102.3h.7M44.6 84.8h.7M60.5 88.7h.7M61.3 86.1h.7M58.4 89.4h.7M51.5 91.3h.7M53.9 94.4h.7M63.9 91.5h.7M53.9 90.5h.7M60.1 94.4h.7M64.1 84.4h.7M61.5 87.8h.7M48.7 87.4h.7M54.0 85.8h.7M53.7 95.1h.7M55.8 80.6h.7M55.1 96.7h.7M48.2 92.7h.7M55.6 92.0h.7M53.9 97.3h.7M51.8 93.6h.7M55.3 86.9h.7M48.3 96.8h.7M49.8 89.0h.7M54.6 89.8h.7M50.9 91.1h.7M61.4 98.4h.7M62.4 94.8h.7M43.2 92.1h.7M64.8 84.3h.7M44.2 95.4h.7M47.0 91.1h.7M44.0 90.4h.7M46.6 88.5h.7M45.4 87.4h.7M47.1 86.5h.7M52.5 82.9h.7M52.4 91.0h.7M53.9 84.9h.7M50.0 86.4h.7M50.6 81.0h.7M44.9 89.1h.7M43.8 84.8h.7M53.8 91.4h.7M52.7 81.7h.7M57.0 99.2h.7M42.8 86.3h.7M46.6 87.0h.7M56.5 90.0h.7M54.9 91.7h.7M57.9 99.2h.7M52.7 98.4h.7M47.2 90.4h.7M42.1 86.4h.7M53.1 87.0h.7M53.2 85.6h.7M54.8 98.0h.7M44.4 89.7h.7M46.4 91.4h.7M50.2 85.1h.7M43.2 97.5h.7M54.6 89.7h.7M50.3 93.0h.7M57.5 89.0h.7M68.9 93.4h.7M54.5 79.5h.7M48.6 85.3h.7M46.2 83.0h.7M49.9 89.0h.7M36.3 83.6h.7M49.0 89.5h.7M65.9 98.9h.7M50.1 90.8h.7M55.5 90.6h.7M47.8 91.2h.7M54.4 85.0h.7M55.6 77.3h.7M59.5 90.4h.7M51.5 90.2h.7M50.9 86.3h.7M55.6 86.5h.7M58.6 92.5h.7M51.5 91.6h.7M60.4 94.2h.7M36.7 92.4h.7M62.2 87.7h.7M57.3 89.6h.7M56.5 87.6h.7M53.3 89.3h.7M47.3 90.8h.7M52.8 89.7h.7M61.3 84.0h.7M55.9 84.9h.7M51.6 86.1h.7M59.8 88.6h.7M45.3 90.9h.7M57.9 87.8h.7M51.9 94.0h.7M57.4 91.2h.7M44.5 92.8h.7M55.5 88.8h.7M57.5 94.8h.7M36.5 93.2h.7M52.2 94.1h.7M54.0 87.8h.7M51.5 97.3h.7M55.8 96.5h.7M49.9 83.5h.7M47.9 88.3h.7M47.1 87.0h.7M54.5 80.2h.7M50.8 90.5h.7M59.1 88.7h.7M51.0 86.5h.7M58.9 92.4h.7M60.3 80.6h.7M57.6 92.9h.7M57.7 92.5h.7M52.9 91.8h.7M55.1 90.0h.7M56.9 83.8h.7M44.6 94.4h.7M64.5 88.9h.7M53.6 96.4h.7M64.6 89.3h.7M46.5 86.5h.7M54.9 88.9h.7M58.5 93.3h.7M54.3 92.0h.7M50.6 88.8h.7M51.6 92.0h.7M55.8 92.6h.7M56.5 88.4h.7M50.7 82.2h.7M71.3 95.8h.7M59.7 94.0h.7M42.1 89.6h.7M52.8 89.3h.7M56.3 86.6h.7M50.8 90.3h.7M64.4 89.9h.7M46.3 87.2h.7M47.5 85.3h.7M55.5 84.8h.7M46.9 93.5h.7M54.8 89.6h.7M56.4 91.0h.7M57.9 101.4h.7M65.2 92.1h.7M46.6 93.5h.7M62.8 82.4h.7M52.4 88.2h.7M52.5 89.9h.7M48.1 93.4h.7M59.1 91.5h.7M67.5 78.5h.7M50.7 93.0h.7M60.1 90.0h.7M54.3 91.1h.7M39.7 88.0h.7M50.6 84.5h.7M44.2 86.8h.7M53.5 84.2h.7M47.7 93.1h.7M68.9 91.2h.7M63.6 88.6h.7M53.6 93.7h.7M58.3 86.2h.7M56.8 86.1h.7M48.2 91.0h.7M51.8 87.6h.7M40.9 86.3h.7M49.9 95.7h.7M54.7 93.4h.7M42.0 90.2h.7M58.6 85.2h.7M58.2 91.7h.7M45.0 85.6h.7M44.0 92.4h.7M49.1 100.1h.7M54.9 92.8h.7M47.1 93.0h.7M49.3 84.8h.7M54.7 95.0h.7M56.0 86.6h.7M52.9 91.6h.7M50.8 93.1h.7M62.9 96.6h.7M50.3 73.8h.7M55.4 94.1h.7M63.1 96.0h.7M46.0 92.8h.7M54.3 82.4h.7M46.9 92.2h.7M54.2 91.8h.7M45.3 96.8h.7M58.4 94.6h.7M57.9 84.5h.7M53.9 94.9h.7M52.3 95.7h.7M56.1 91.8h.7M79.1 78.6h.7M81.9 84.3h.7M66.3 87.1h.7M73.6 96.6h.7M76.3 90.2h.7M73.5 94.8h.7M76.0 94.5h.7M74.1 98.6h.7M77.0 85.5h.7M65.2 95.5h.7M82.8 91.9h.7M70.6 93.3h.7M71.9 86.4h.7M69.0 93.4h.7M71.2 93.3h.7M66.2 90.3h.7M80.2 85.8h.7M76.0 86.1h.7M70.2 88.2h.7M69.6 93.5h.7M79.7 94.6h.7M69.6 88.3h.7M76.2 94.4h.7M73.2 88.4h.7M74.5 87.1h.7M80.5 90.2h.7M71.5 92.8h.7M75.8 85.2h.7M74.0 88.7h.7M71.5 87.2h.7M75.0 94.0h.7M76.6 86.8h.7M71.3 84.0h.7M63.8 91.8h.7M72.1 92.4h.7M72.6 85.4h.7M72.8 92.1h.7M73.3 91.7h.7M64.2 95.3h.7M69.9 84.8h.7M75.4 91.2h.7M73.3 85.6h.7M75.6 86.1h.7M66.1 94.0h.7M74.4 96.4h.7M72.3 95.4h.7M75.5 95.1h.7M64.3 90.9h.7M73.2 88.2h.7M78.6 91.9h.7M78.0 88.9h.7M72.0 92.8h.7M73.2 97.1h.7M81.6 94.2h.7M74.0 90.0h.7M71.1 87.6h.7M74.4 97.7h.7M69.2 93.0h.7M71.5 93.0h.7M78.9 95.7h.7M73.9 89.7h.7M60.8 103.8h.7M70.1 84.6h.7M71.1 90.2h.7M74.8 85.4h.7M67.6 91.3h.7M77.0 93.8h.7M74.5 92.5h.7M75.0 89.2h.7M69.3 90.9h.7M74.4 86.4h.7M71.4 89.3h.7M69.0 94.9h.7M73.7 83.2h.7M78.4 91.1h.7M78.5 90.6h.7M72.8 86.4h.7M71.5 95.7h.7M72.5 87.9h.7M71.2 98.8h.7M73.5 88.9h.7M78.4 96.1h.7M71.6 96.1h.7M70.7 88.2h.7M72.4 99.4h.7M77.8 84.8h.7M63.9 94.9h.7M76.6 83.8h.7M78.6 82.6h.7M69.1 97.0h.7M77.8 87.9h.7M75.0 93.6h.7M61.1 90.3h.7M78.5 92.0h.7M75.7 90.8h.7M73.9 99.5h.7M73.3 89.1h.7M70.7 87.4h.7M57.8 83.1h.7M67.4 93.3h.7M61.0 90.0h.7M68.6 95.0h.7M76.1 92.7h.7M65.7 93.5h.7M75.3 101.7h.7M67.8 83.9h.7M62.0 88.0h.7M65.3 89.1h.7M75.4 87.0h.7M72.4 86.9h.7M78.3 84.2h.7M75.7 94.8h.7M72.5 91.0h.7M70.3 94.2h.7M79.5 85.6h.7M61.8 87.9h.7M66.3 94.8h.7M74.2 89.6h.7M62.0 93.2h.7M73.5 86.9h.7M52.0 89.4h.7M75.1 88.1h.7M61.8 92.2h.7M76.6 88.5h.7M82.9 94.0h.7M71.9 86.5h.7M68.8 97.2h.7M68.5 90.1h.7M76.0 91.7h.7M75.7 91.5h.7M71.0 90.7h.7M75.4 95.1h.7M63.7 92.8h.7M70.0 83.6h.7M72.9 94.1h.7M69.7 98.0h.7M84.6 91.9h.7M65.9 90.5h.7M70.4 92.9h.7M71.2 85.4h.7M70.6 86.6h.7M71.8 91.6h.7M65.9 95.7h.7M65.6 92.5h.7M70.0 94.5h.7M69.1 87.2h.7M79.1 93.4h.7M76.8 90.7h.7M70.9 87.0h.7M75.9 88.2h.7M72.1 92.1h.7M64.9 85.2h.7M75.7 94.0h.7M75.3 86.2h.7M68.6 94.0h.7M75.3 89.9h.7M79.1 87.8h.7M76.4 88.3h.7M74.2 94.3h.7M71.8 88.6h.7M64.3 85.8h.7M79.5 96.4h.7M63.2 85.2h.7M83.5 94.3h.7M68.9 96.0h.7M73.8 89.9h.7M77.0 90.8h.7M69.4 93.1h.7M79.1 89.0h.7M69.0 95.1h.7M71.2 89.1h.7M70.8 90.9h.7M82.3 93.2h.7M71.9 87.0h.7M73.1 91.7h.7M81.3 93.1h.7M76.1 92.7h.7M73.8 94.2h.7M71.9 94.2h.7M71.8 92.1h.7M70.1 85.7h.7M69.4 95.3h.7M67.2 85.2h.7M78.2 91.3h.7M73.7 88.1h.7M79.5 92.5h.7M76.8 89.6h.7M67.5 91.7h.7M79.0 91.2h.7M66.1 93.5h.7M71.6 85.2h.7M68.6 92.5h.7M69.5 87.5h.7M75.4 86.9h.7M68.2 92.0h.7M76.2 88.6h.7M62.3 98.4h.7M69.9 101.4h.7M60.2 95.9h.7M86.3 98.1h.7M77.4 85.6h.7M72.6 96.8h.7M68.2 95.0h.7M68.6 90.2h.7M69.2 88.4h.7M75.5 94.9h.7M69.1 89.0h.7M70.7 93.6h.7M76.3 90.3h.7M73.8 92.9h.7M78.6 103.0h.7M64.6 90.3h.7M71.1 101.8h.7M66.1 89.1h.7M63.6 84.5h.7M78.9 86.3h.7M71.5 83.8h.7M68.3 93.9h.7M80.9 89.2h.7M68.3 86.1h.7M72.1 89.3h.7M82.3 91.7h.7M79.6 91.1h.7M78.7 85.9h.7M72.8 93.5h.7M83.8 87.9h.7M79.3 89.1h.7M83.4 92.8h.7M66.2 92.5h.7M77.4 90.3h.7M74.0 97.1h.7M79.0 94.4h.7M78.3 96.9h.7M66.2 87.3h.7M74.9 94.4h.7M79.2 96.9h.7M69.9 93.0h.7M63.9 93.3h.7M75.8 90.2h.7M77.6 84.5h.7M71.7 90.1h.7M75.0 90.2h.7M68.4 87.7h.7M64.4 86.0h.7M79.3 92.1h.7M81.3 91.7h.7M75.8 88.6h.7M75.5 93.1h.7M73.6 91.0h.7M73.3 92.3h.7M75.4 93.5h.7M64.8 94.7h.7M74.2 89.3h.7M64.8 93.5h.7M78.3 91.1h.7M74.8 92.8h.7M78.9 101.5h.7M62.3 92.6h.7M73.3 89.5h.7M60.2 98.4h.7M66.0 86.8h.7M64.8 86.1h.7M63.9 96.4h.7M63.1 94.0h.7M74.5 95.0h.7M69.0 91.0h.7M64.5 87.8h.7M62.1 97.2h.7M77.3 93.8h.7M78.2 88.9h.7M76.4 93.0h.7M66.3 89.0h.7M68.1 92.4h.7M70.3 95.3h.7M79.3 86.5h.7M79.3 88.0h.7M72.9 99.1h.7M71.4 88.9h.7M80.9 89.5h.7M74.2 90.9h.7M79.3 90.9h.7M64.8 91.8h.7M77.7 87.8h.7M78.9 93.6h.7M64.4 89.4h.7M68.7 91.7h.7M75.5 86.6h.7M58.2 94.3h.7M77.9 90.9h.7M85.4 86.6h.7M87.7 101.5h.7M72.0 88.5h.7M84.7 96.0h.7M66.3 92.7h.7M76.3 92.7h.7M74.4 94.8h.7M69.4 91.8h.7M76.9 93.8h.7M61.3 88.8h.7M72.6 82.8h.7M71.8 82.2h.7M67.3 82.5h.7M56.0 93.8h.7M68.1 87.6h.7M71.4 92.4h.7M73.2 94.9h.7M63.5 90.6h.7M68.5 90.4h.7M75.7 88.8h.7M70.6 84.1h.7M71.2 92.5h.7M70.5 88.8h.7M66.6 89.6h.7M70.6 90.8h.7M78.7 88.5h.7M67.2 95.3h.7M64.9 98.2h.7M71.8 85.2h.7M68.1 91.7h.7M74.1 99.4h.7M77.3 93.1h.7M65.3 93.7h.7M70.9 95.5h.7M78.7 92.6h.7M71.9 91.8h.7M68.9 86.0h.7M76.8 96.2h.7M74.1 95.4h.7M63.4 95.9h.7M71.2 89.6h.7M70.1 88.5h.7M67.8 93.8h.7M74.2 85.1h.7M74.7 91.4h.7M75.3 99.5h.7M73.3 89.4h.7M85.7 100.5h.7M69.1 100.8h.7M70.4 93.3h.7M77.9 94.4h.7M67.6 94.2h.7M69.1 92.2h.7M59.9 92.7h.7M69.8 89.3h.7M73.0 91.2h.7M74.6 83.1h.7M76.1 93.6h.7M68.3 89.9h.7M72.0 92.8h.7M72.6 86.7h.7M79.8 85.3h.7M80.3 91.4h.7M68.3 100.8h.7M72.3 94.3h.7M76.3 91.8h.7M74.0 87.4h.7M67.7 101.2h.7M68.6 85.5h.7M67.7 88.2h.7M70.0 86.9h.7M81.6 92.6h.7M74.0 90.0h.7M72.2 91.6h.7M64.8 95.4h.7M67.5 89.1h.7M70.5 92.4h.7M72.6 92.2h.7M64.3 86.4h.7M68.4 82.7h.7M75.5 96.8h.7M79.2 91.0h.7M71.6 86.0h.7M63.6 81.3h.7M86.3 98.8h.7M79.3 92.1h.7M76.8 91.9h.7M74.2 93.8h.7M62.6 87.8h.7M80.3 91.0h.7M72.4 93.3h.7M76.1 88.3h.7M71.8 96.0h.7M81.8 95.7h.7M63.1 89.6h.7M83.2 87.7h.7M71.0 93.7h.7M65.4 95.1h.7M64.5 88.4h.7M65.7 83.4h.7M69.6 88.7h.7M73.1 88.7h.7M70.5 87.9h.7M73.2 86.1h.7M64.5 87.9h.7M71.4 100.4h.7M69.1 89.0h.7M64.5 86.4h.7M70.0 85.9h.7M73.0 93.4h.7M69.3 88.9h.7M70.8 93.5h.7M70.6 87.9h.7M69.2 87.6h.7M67.0 93.1h.7M66.5 91.2h.7M74.7 88.5h.7M71.2 87.1h.7M73.8 87.3h.7M66.0 90.5h.7M71.2 92.2h.7M69.6 92.0h.7M68.4 84.1h.7M85.9 91.3h.7M67.5 89.6h.7M74.1 91.7h.7M69.0 85.9h.7M85.2 91.5h.7M70.7 78.1h.7M68.5 86.6h.7M81.1 92.6h.7M71.5 92.7h.7M78.8 88.5h.7M70.2 96.9h.7M71.4 92.1h.7M76.0 91.1h.7M70.9 88.6h.7M73.4 93.5h.7M73.8 96.2h.7M77.4 89.1h.7M75.3 89.3h.7M59.0 96.5h.7M66.0 94.0h.7M67.3 95.8h.7M81.3 92.3h.7M67.4 92.6h.7M87.9 90.5h.7M77.0 94.1h.7M65.4 92.7h.7M69.8 95.5h.7M68.5 86.4h.7M77.5 86.9h.7M66.7 93.2h.7M74.9 86.9h.7M77.4 93.0h.7M69.3 92.2h.7M79.0 93.2h.7M70.5 97.2h.7M79.6 79.4h.7M63.4 92.3h.7M70.9 95.7h.7M67.9 93.3h.7M77.1 100.4h.7M74.0 94.4h.7M63.4 85.7h.7M87.1 91.5h.7M61.2 85.1h.7M59.8 94.9h.7M69.9 90.9h.7M71.6 98.4h.7M80.9 84.9h.7M73.3 96.8h.7M74.1 97.6h.7M72.8 93.0h.7M68.6 90.7h.7M56.6 89.8h.7M76.8 101.0h.7M73.8 89.8h.7M68.1 86.3h.7M74.2 86.4h.7M79.7 94.9h.7M73.6 92.5h.7M72.0 87.8h.7M78.1 91.4h.7M71.1 85.0h.7M64.7 89.1h.7M82.5 94.5h.7M78.2 92.6h.7M71.2 88.3h.7M84.1 89.6h.7M77.0 81.0h.7M72.8 96.1h.7M74.5 81.6h.7M78.5 87.8h.7M68.5 90.4h.7M74.6 86.5h.7M72.3 90.1h.7M74.6 98.1h.7M74.0 90.0h.7M71.2 92.9h.7M59.2 86.5h.7M83.0 86.2h.7M79.1 88.8h.7M71.3 97.0h.7M73.0 93.4h.7M80.8 91.5h.7M67.2 93.7h.7M68.8 87.3h.7M66.2 90.3h.7M73.6 88.2h.7M76.9 97.4h.7M60.8 89.3h.7M72.5 86.7h.7M73.7 98.2h.7M87.6 98.5h.7M76.5 97.1h.7M81.3 91.8h.7M72.0 92.7h.7M72.3 95.2h.7M72.5 88.1h.7M66.6 92.9h.7M55.6 83.8h.7M68.7 89.6h.7M66.1 89.4h.7M68.4 84.9h.7M70.9 85.5h.7M65.0 90.6h.7M69.1 88.9h.7M66.5 88.2h.7M66.5 89.6h.7M67.4 89.3h.7M64.6 95.7h.7M76.0 86.8h.7M71.8 86.9h.7M72.6 92.6h.7M73.9 86.3h.7M74.6 95.2h.7M66.0 91.1h.7M70.7 91.9h.7M78.6 96.6h.7M80.1 91.1h.7M75.8 83.8h.7M75.4 88.6h.7M63.6 86.7h.7M66.6 85.8h.7M67.0 94.4h.7M76.8 80.5h.7M67.2 93.7h.7M76.4 95.6h.7M73.1 86.2h.7M66.5 90.8h.7M76.0 86.2h.7M77.2 96.8h.7M60.1 88.7h.7M75.7 90.2h.7M75.1 89.8h.7M74.4 99.1h.7M69.5 91.2h.7M64.5 89.9h.7M69.1 99.8h.7M81.2 91.3h.7M70.1 100.8h.7M83.0 96.8h.7M57.1 100.3h.7M71.9 92.4h.7M80.2 89.7h.7M63.9 88.9h.7M76.2 85.1h.7M70.3 93.5h.7M78.2 96.1h.7M68.5 88.3h.7M82.2 88.2h.7M76.8 90.5h.7M66.6 92.5h.7M74.3 86.7h.7M65.9 92.6h.7M66.5 93.4h.7M67.6 94.9h.7M72.3 88.7h.7M70.8 95.8h.7M72.3 95.1h.7M79.8 89.1h.7M77.8 93.6h.7M72.6 77.3h.7M68.8 88.3h.7M70.6 94.3h.7M68.9 90.8h.7M82.4 90.7h.7M70.4 90.8h.7M74.6 99.8h.7M74.8 91.9h.7M62.5 89.5h.7M71.0 85.8h.7M82.5 89.9h.7M80.0 96.0h.7M71.3 91.7h.7M79.0 98.8h.7M77.0 92.8h.7M73.6 97.8h.7M75.0 88.0h.7M74.6 99.3h.7M75.8 94.7h.7M69.9 89.1h.7M69.3 92.8h.7M71.6 89.5h.7M66.2 88.4h.7M71.4 88.2h.7M76.1 89.1h.7M70.8 91.8h.7M73.9 86.2h.7M81.4 95.3h.7M70.6 84.2h.7M69.5 89.6h.7M84.1 85.7h.7M80.5 92.8h.7M70.4 92.1h.7M69.9 90.3h.7M71.2 94.3h.7M88.7 88.4h.7M79.5 85.7h.7M73.7 79.8h.7M59.2 95.9h.7M66.8 92.8h.7M87.3 90.4h.7M74.4 88.3h.7M83.4 96.0h.7M68.6 90.6h.7M70.6 94.6h.7M71.0 89.3h.7M74.6 85.9h.7M66.6 88.3h.7M84.5 91.3h.7M78.3 89.7h.7M76.4 97.9h.7M82.5 91.7h.7M80.7 95.3h.7M66.1 84.1h.7M53.7 85.9h.7M83.0 96.2h.7M71.8 90.5h.7M36.1 88.8h.7M86.9 81.4h.7M57.4 86.5h.7M80.4 85.2h.7M61.4 91.4h.7M74.3 83.6h.7M60.0 85.9h.7M60.1 83.6h.7M82.3 95.9h.7M85.3 95.9h.7M61.7 88.0h.7M68.9 95.2h.7M65.6 84.5h.7M56.6 84.1h.7M69.1 92.4h.7M75.7 88.3h.7M65.0 78.8h.7M60.7 78.8h.7M78.5 97.9h.7M59.2 92.9h.7M89.6 93.2h.7M62.7 79.4h.7M70.7 90.2h.7M85.7 95.0h.7M58.5 93.4h.7M78.6 93.5h.7M65.1 90.0h.7M75.3 99.6h.7M70.6 96.1h.7M61.4 106.2h.7M69.5 92.5h.7M50.1 100.8h.7M56.1 96.1h.7M48.5 77.0h.7M51.5 85.5h.7M103.1 87.9h.7M51.3 82.9h.7M66.4 84.0h.7M79.1 85.4h.7M43.9 89.2h.7M55.7 82.8h.7M61.4 86.0h.7M88.8 92.8h.7M85.8 87.1h.7M57.3 84.6h.7M71.2 83.5h.7M78.2 100.5h.7M65.8 83.4h.7M59.5 87.5h.7M80.8 99.4h.7M79.8 80.1h.7M79.8 103.5h.7M60.7 90.4h.7M63.5 85.4h.7M69.0 75.8h.7M76.7 82.1h.7M73.6 98.2h.7M64.9 88.5h.7M86.5 92.4h.7M62.5 79.1h.7M59.4 94.4h.7M35.9 102.8h.7M64.5 89.2h.7M75.6 91.1h.7M52.1 90.3h.7M83.3 93.0h.7M69.9 74.4h.7M61.9 99.6h.7M75.8 84.7h.7M65.6 92.0h.7M78.9 85.3h.7M69.5 95.5h.7M73.0 92.3h.7M64.3 91.1h.7M65.8 86.7h.7M50.3 103.5h.7M91.3 88.4h.7M65.8 93.3h.7M60.4 98.9h.7M39.7 90.0h.7M62.8 84.6h.7M61.4 87.1h.7M76.1 92.5h.7M66.7 102.2h.7M57.6 80.9h.7M94.1 98.3h.7M42.8 90.1h.7M49.6 92.7h.7M90.4 91.1h.7M77.6 105.2h.7M73.9 79.4h.7M60.3 101.2h.7M74.5 96.6h.7M72.6 99.7h.7M79.6 90.8h.7M75.8 81.6h.7M77.1 91.4h.7M58.0 78.9h.7M66.3 95.4h.7M54.3 90.5h.7M80.2 95.3h.7M73.9 102.2h.7M49.7 91.9h.7M71.9 89.0h.7M45.7 94.0h.7M69.5 103.0h.7M86.1 86.4h.7M72.2 92.8h.7M54.5 84.1h.7M58.3 95.7h.7M59.6 92.1h.7M88.2 106.1h.7M80.6 85.8h.7M72.5 89.5h.7M81.4 95.2h.7M63.0 96.7h.7M58.3 108.6h.7M70.9 92.3h.7M82.4 101.9h.7M61.3 87.5h.7M57.7 104.8h.7M80.3 96.7h.7M45.9 94.3h.7M54.2 83.6h.7M50.8 89.2h.7M89.3 94.6h.7M73.5 91.8h.7M84.5 91.7h.7M62.3 87.7h.7M75.7 97.5h.7M78.5 94.1h.7M83.0 80.3h.7M51.0 85.4h.7M37.6 96.3h.7M72.7 86.6h.7M74.7 96.5h.7M67.3 75.9h.7M78.6 87.6h.7M48.9 89.9h.7M64.9 79.5h.7M75.4 89.3h.7M37.9 84.3h.7M86.2 91.5h.7M69.2 88.5h.7M60.7 102.7h.7M58.8 96.0h.7M74.2 104.6h.7M53.5 98.6h.7M66.3 98.9h.7M68.6 90.0h.7M75.2 77.0h.7M84.0 89.6h.7M84.0 82.9h.7M64.9 81.2h.7M80.9 92.5h.7M78.9 85.4h.7M56.9 71.1h.7M89.7 96.5h.7M55.2 91.8h.7M67.0 94.5h.7M67.1 85.2h.7M46.9 89.1h.7M60.8 93.2h.7M55.1 88.6h.7M54.5 80.0h.7M65.8 83.9h.7M85.7 87.7h.7M72.1 90.9h.7M74.0 98.5h.7M106.4 106.1h.7M67.0 91.9h.7M75.0 84.7h.7M64.4 90.7h.7M60.1 81.0h.7M57.4 104.3h.7M68.7 80.7h.7M42.3 90.0h.7M73.4 93.8h.7M66.6 89.4h.7M77.8 102.5h.7M72.1 99.6h.7M68.6 91.2h.7M54.4 97.5h.7M61.4 98.5h.7M89.2 98.3h.7M56.7 94.1h.7M54.1 94.1h.7M89.2 85.3h.7M45.8 93.3h.7M97.4 83.2h.7M83.9 88.4h.7M52.7 96.0h.7M70.9 87.6h.7M36.8 90.8h.7M50.2 89.6h.7M78.6 92.3h.7M74.8 94.3h.7M60.1 93.5h.7M69.3 108.0h.7M90.7 96.1h.7M54.6 100.6h.7M48.4 92.7h.7M71.3 89.4h.7M63.7 101.4h.7M67.4 92.8h.7M71.7 88.7h.7M42.6 92.9h.7M71.4 92.0h.7M47.2 82.5h.7M74.8 80.2h.7M70.0 91.9h.7M55.1 82.7h.7M61.5 86.6h.7M77.2 84.0h.7M83.9 77.8h.7M60.5 99.2h.7M64.1 88.5h.7M60.9 111.5h.7M46.7 110.2h.7M46.1 117.4h.7M57.2 116.3h.7M51.9 109.7h.7M54.8 114.4h.7M56.3 118.7h.7M62.4 116.3h.7M45.3 140.2h.7M69.2 108.3h.7M56.8 115.5h.7M50.8 112.9h.7M57.2 123.6h.7M55.8 123.5h.7M55.1 110.0h.7M46.2 135.5h.7M45.7 126.5h.7M55.5 117.4h.7M58.5 118.8h.7M56.7 110.1h.7M58.6 119.2h.7M47.4 126.8h.7M47.4 137.5h.7M58.9 115.0h.7M53.5 115.8h.7M50.6 115.5h.7M53.8 125.8h.7M51.5 121.2h.7M52.5 108.0h.7M64.6 106.6h.7M49.7 131.6h.7M69.7 102.5h.7M58.7 115.7h.7M41.9 127.7h.7M44.0 124.7h.7M49.0 134.8h.7M49.9 115.2h.7M53.7 118.4h.7M60.7 104.7h.7M54.5 109.7h.7M48.1 114.2h.7M43.5 134.2h.7M62.3 105.5h.7M42.7 137.5h.7M58.0 105.9h.7M45.3 132.3h.7M47.2 115.3h.7M42.6 137.6h.7M48.8 121.5h.7M55.7 127.1h.7M48.3 130.4h.7M51.0 121.3h.7M53.3 123.4h.7M51.4 133.9h.7M56.1 114.8h.7M52.3 115.8h.7M55.4 124.4h.7M55.0 114.7h.7M54.6 121.7h.7M44.8 129.4h.7M52.6 118.2h.7M58.7 125.6h.7M54.6 123.7h.7M56.9 117.5h.7M47.3 127.8h.7M64.3 107.7h.7M65.9 118.1h.7M50.6 113.8h.7M54.4 114.3h.7M42.5 116.5h.7M44.0 129.3h.7M45.0 119.7h.7M41.2 136.0h.7M51.7 121.7h.7M45.7 129.6h.7M49.2 124.8h.7M62.0 110.1h.7M54.3 119.9h.7M46.8 129.0h.7M58.1 101.9h.7M57.0 111.4h.7M53.6 123.2h.7M57.3 124.5h.7M48.3 124.7h.7M46.4 128.4h.7M62.1 111.9h.7M50.4 138.5h.7M55.4 110.8h.7M58.4 106.0h.7M50.9 137.8h.7M48.4 138.5h.7M54.9 119.5h.7M67.9 114.1h.7M49.7 128.7h.7M54.4 114.5h.7M51.4 129.0h.7M58.3 107.1h.7M65.8 117.3h.7M49.6 131.6h.7M43.7 121.7h.7M54.4 110.9h.7M51.4 136.1h.7M43.4 124.8h.7M56.6 129.4h.7M55.6 104.3h.7M47.6 135.5h.7M40.0 141.0h.7M49.3 129.5h.7M61.4 118.6h.7M44.7 135.9h.7M45.1 123.1h.7M54.7 118.1h.7M53.1 104.3h.7M46.5 132.3h.7M58.6 106.1h.7M60.8 105.5h.7M50.3 121.6h.7M56.8 113.0h.7M39.6 125.4h.7M48.8 121.8h.7M61.8 118.0h.7M54.3 116.5h.7M51.7 129.5h.7M46.8 135.2h.7M52.9 141.5h.7M52.8 127.3h.7M52.8 105.8h.7M58.6 104.5h.7M60.2 115.1h.7M66.6 98.8h.7M55.0 113.5h.7M48.5 132.8h.7M53.9 113.8h.7M66.6 108.4h.7M57.0 102.5h.7M48.6 124.8h.7M50.4 132.9h.7M51.3 128.8h.7M53.7 111.1h.7M46.9 124.7h.7M46.3 140.1h.7M41.0 134.5h.7M49.6 129.8h.7M61.6 104.7h.7M51.6 117.2h.7M50.7 132.6h.7M54.3 103.8h.7M57.4 101.2h.7M40.9 130.1h.7M55.1 126.9h.7M59.2 101.1h.7M49.3 122.4h.7M53.8 124.2h.7M63.1 96.0h.7M47.4 132.1h.7M59.2 114.1h.7M57.7 110.7h.7M58.3 113.5h.7M50.9 131.9h.7M60.6 115.7h.7M60.3 111.2h.7M61.2 99.5h.7M50.8 127.6h.7M51.7 131.2h.7M42.5 136.3h.7M54.2 116.7h.7M59.7 124.1h.7M43.8 131.8h.7M67.2 108.6h.7M58.5 112.3h.7M46.4 134.6h.7M51.9 125.7h.7M59.4 106.8h.7M61.1 107.1h.7M49.7 119.8h.7M51.1 135.5h.7M45.9 128.4h.7M56.0 126.0h.7M60.3 110.3h.7M62.8 114.1h.7M50.6 129.3h.7M52.3 127.1h.7M55.3 111.3h.7M49.0 122.7h.7M61.3 108.3h.7M65.9 107.3h.7M56.2 124.2h.7M46.4 136.9h.7M51.9 121.0h.7M60.4 107.0h.7M58.3 103.8h.7M54.3 114.2h.7M44.4 117.9h.7M53.0 129.1h.7M54.9 118.3h.7M54.9 119.0h.7M55.0 111.7h.7M44.9 104.0h.7M68.0 116.6h.7M53.7 96.7h.7M61.7 115.8h.7M68.0 112.3h.7M80.2 120.4h.7M67.5 122.0h.7M49.2 117.3h.7M62.0 118.3h.7M68.0 126.4h.7M51.0 130.5h.7M45.3 125.7h.7M47.1 121.2h.7M75.2 123.7h.7M63.8 126.5h.7M49.3 136.9h.7M69.3 132.6h.7M63.0 105.8h.7M63.1 105.6h.7M55.2 120.7h.7M62.1 129.7h.7M51.1 126.1h.7M68.3 115.7h.7M63.4 135.9h.7M72.1 112.1h.7M51.9 116.4h.7M56.0 111.5h.7M55.0 127.8h.7M58.9 127.8h.7M39.2 109.5h.7M63.6 121.4h.7M48.5 126.2h.7M57.9 124.9h.7M61.7 122.8h.7M64.7 122.1h.7M57.5 117.6h.7M56.7 122.3h.7M60.2 116.7h.7M62.2 109.2h.7M78.7 106.9h.7M55.2 123.5h.7M76.7 127.4h.7M56.2 120.8h.7M81.9 113.4h.7M66.7 118.2h.7M61.2 121.8h.7M47.4 123.5h.7M55.0 119.4h.7M77.1 123.7h.7M54.3 137.7h.7M71.6 122.4h.7M72.2 117.9h.7M68.5 131.4h.7M56.6 131.7h.7M44.1 126.4h.7M71.5 127.5h.7M74.2 114.0h.7M63.7 117.9h.7M47.7 122.7h.7M53.7 125.2h.7M70.7 117.3h.7M60.2 126.3h.7M50.0 109.4h.7M60.0 129.2h.7M72.9 134.3h.7M61.2 132.5h.7M82.9 119.9h.7M62.6 122.9h.7M44.0 115.8h.7M60.1 133.5h.7M61.7 123.9h.7M63.5 122.0h.7M66.5 115.2h.7M58.4 114.1h.7M49.6 112.1h.7M49.7 112.3h.7M78.0 126.0h.7M62.2 106.9h.7M55.7 136.8h.7M59.8 122.7h.7M58.7 124.8h.7M62.7 129.5h.7M59.1 124.5h.7M67.8 132.2h.7M68.5 120.7h.7M52.0 130.1h.7M51.0 104.6h.7M81.6 115.7h.7M59.0 117.2h.7M63.9 126.0h.7M57.3 121.5h.7M52.7 130.3h.7M58.5 105.0h.7M48.3 96.2h.7M52.6 139.2h.7M56.8 116.6h.7M68.1 114.5h.7M58.1 105.4h.7M48.9 117.0h.7M45.0 111.7h.7M79.1 119.7h.7M50.8 115.5h.7M44.5 110.1h.7M59.7 111.3h.7M74.8 97.2h.7M76.6 126.5h.7M64.5 114.9h.7M59.1 102.1h.7M41.3 124.1h.7M51.9 123.8h.7M77.9 127.1h.7M47.5 123.1h.7M65.2 124.6h.7M57.6 123.1h.7M58.4 108.3h.7M51.4 133.1h.7M54.1 124.0h.7M62.8 109.6h.7M61.1 112.5h.7M61.7 126.3h.7M47.8 114.9h.7M66.4 125.1h.7M48.0 110.2h.7M62.1 133.5h.7M51.3 133.3h.7M65.7 113.3h.7M57.7 121.0h.7M69.0 114.0h.7M49.3 110.2h.7M59.5 123.9h.7M69.6 123.6h.7M69.2 136.4h.7M60.7 114.4h.7M58.9 102.8h.7M54.1 124.5h.7M86.7 110.1h.7M50.0 121.1h.7M60.7 103.3h.7M55.6 126.5h.7M56.3 108.4h.7M52.9 128.0h.7M68.8 113.9h.7M57.5 109.7h.7M70.1 111.7h.7M66.0 113.6h.7M50.7 110.9h.7M68.2 120.5h.7M70.9 117.0h.7M50.5 110.1h.7M49.3 138.8h.7M56.1 105.8h.7M56.3 112.4h.7M60.2 124.9h.7M53.7 109.5h.7M60.5 129.3h.7M59.8 101.6h.7M72.0 109.0h.7M54.2 119.4h.7M74.7 137.3h.7M72.2 113.0h.7M68.0 121.8h.7M61.3 115.0h.7M74.3 108.7h.7M55.2 122.5h.7M50.3 97.7h.7M63.9 125.4h.7M53.7 126.6h.7M44.1 132.3h.7M51.3 121.8h.7M69.8 123.0h.7M66.3 110.8h.7M51.8 121.1h.7M62.4 120.8h.7M48.1 131.7h.7M88.6 115.3h.7M58.5 130.8h.7M56.9 129.9h.7M60.5 99.7h.7M58.0 124.0h.7M68.6 105.8h.7M60.3 123.4h.7M56.1 127.7h.7M67.3 115.1h.7M60.5 112.8h.7M74.2 131.0h.7M100.6 119.8h.7M65.0 125.2h.7M85.7 113.7h.7M87.4 126.7h.7M83.6 122.8h.7M81.1 116.8h.7M73.5 118.7h.7M81.4 107.5h.7M75.9 95.8h.7M85.4 118.0h.7M68.3 99.5h.7M62.0 116.5h.7M56.2 122.2h.7M73.8 126.1h.7M61.9 100.5h.7M75.0 129.1h.7M88.4 108.6h.7M81.0 95.8h.7M88.9 111.8h.7M94.8 123.5h.7M70.9 107.8h.7M87.3 120.2h.7M91.0 111.2h.7M101.2 112.9h.7M77.2 102.9h.7M84.1 108.7h.7M72.3 106.2h.7M72.9 118.6h.7M70.7 120.8h.7M70.9 126.1h.7M65.9 104.1h.7M69.1 122.2h.7M90.0 128.9h.7M73.3 101.9h.7M76.8 108.3h.7M67.3 108.9h.7M77.6 110.0h.7M77.6 108.9h.7M65.3 105.8h.7M71.9 139.4h.7M64.5 129.0h.7M80.4 135.7h.7M78.9 115.9h.7M91.8 111.6h.7M88.7 116.4h.7M81.8 94.9h.7M87.6 115.2h.7M88.1 117.3h.7M85.7 113.9h.7M65.7 130.2h.7M86.8 117.5h.7M70.5 106.1h.7M80.1 122.1h.7M84.3 137.5h.7M72.0 111.5h.7M89.7 106.5h.7M78.5 140.5h.7M66.5 123.7h.7M81.5 111.1h.7M71.3 98.7h.7M63.9 113.2h.7M65.6 131.5h.7" stroke="#4535ab" stroke-width=".7" stroke-opacity=".55" fill="none" clip-path="url(#clip1)"/>
<path d="M52.7 86.7h.7M52.5 94.3h.7M48.2 102.3h.7M50.8 94.8h.7M54.4 86.5h.7M49.9 88.1h.7M49.7 95.2h.7M47.5 84.9h.7M38.5 91.0h.7M64.5 87.5h.7M56.4 91.9h.7M55.1 92.1h.7M65.5 89.5h.7M51.6 88.6h.7M51.9 87.2h.7M51.8 89.8h.7M44.4 92.0h.7M62.7 84.9h.7M62.7 90.9h.7M51.2 87.0h.7M55.3 88.6h.7M50.5 86.0h.7M56.2 89.3h.7M47.9 90.9h.7M50.2 87.9h.7M55.2 93.5h.7M62.2 92.2h.7M50.5 92.6h.7M44.1 93.3h.7M48.1 76.1h.7M56.8 89.6h.7M55.8 92.4h.7M48.3 90.8h.7M45.2 87.6h.7M39.2 92.4h.7M48.9 85.3h.7M50.6 86.1h.7M52.6 87.2h.7M59.9 83.2h.7M60.7 86.0h.7M65.1 94.9h.7M47.8 84.4h.7M46.9 93.9h.7M46.1 93.4h.7M43.5 94.8h.7M54.5 94.8h.7M43.2 95.6h.7M54.4 91.6h.7M38.5 89.9h.7M58.9 88.0h.7M42.7 95.9h.7M54.5 86.6h.7M44.8 78.8h.7M55.7 88.4h.7M51.2 91.1h.7M51.0 86.8h.7M57.1 92.6h.7M51.6 88.4h.7M55.2 94.5h.7M48.9 93.8h.7M61.2 82.7h.7M61.3 94.0h.7M51.4 96.5h.7M52.9 99.4h.7M52.4 90.7h.7M40.5 92.9h.7M49.0 88.9h.7M52.4 94.7h.7M56.6 87.8h.7M36.8 93.0h.7M40.5 94.4h.7M55.7 89.1h.7M55.8 88.8h.7M49.6 79.4h.7M63.9 93.2h.7M41.7 88.3h.7M52.0 92.4h.7M48.1 86.4h.7M46.6 89.8h.7M47.3 94.6h.7M46.3 95.8h.7M41.3 91.7h.7M50.7 86.5h.7M54.7 90.5h.7M51.8 86.1h.7M42.9 81.9h.7M55.4 89.1h.7M70.4 90.4h.7M51.9 96.1h.7M51.1 96.2h.7M49.2 91.9h.7M53.0 85.8h.7M56.5 88.6h.7M52.4 86.5h.7M52.4 84.1h.7M50.4 86.2h.7M51.3 89.6h.7M57.9 83.6h.7M59.1 93.5h.7M59.8 89.3h.7M55.5 86.2h.7M47.7 80.2h.7M61.4 90.3h.7M58.3 90.5h.7M48.0 90.4h.7M44.9 93.6h.7M47.9 86.9h.7M51.8 88.7h.7M56.4 100.8h.7M49.6 87.1h.7M56.1 90.5h.7M59.7 95.1h.7M47.6 87.1h.7M50.4 85.7h.7M43.3 86.9h.7M53.2 86.1h.7M56.2 90.6h.7M44.5 94.3h.7M55.4 92.6h.7M50.9 93.8h.7M48.6 90.9h.7M48.3 89.2h.7M42.8 90.7h.7M43.8 95.2h.7M55.7 87.6h.7M43.7 93.3h.7M46.5 87.0h.7M63.4 95.0h.7M45.2 85.1h.7M47.4 89.4h.7M61.5 97.2h.7M56.1 84.5h.7M53.7 93.0h.7M45.5 88.9h.7M58.9 93.1h.7M51.3 90.7h.7M57.9 87.5h.7M44.8 80.7h.7M44.9 97.0h.7M51.3 78.2h.7M58.6 88.2h.7M50.2 87.1h.7M47.5 97.4h.7M53.5 95.9h.7M65.4 91.3h.7M48.7 89.9h.7M52.3 82.6h.7M47.7 83.0h.7M65.4 90.9h.7M39.8 88.7h.7M60.2 85.6h.7M54.0 93.5h.7M46.1 94.4h.7M56.8 93.5h.7M58.0 85.1h.7M47.4 81.9h.7M50.9 86.5h.7M56.6 92.7h.7M51.1 88.8h.7M45.5 86.2h.7M54.9 96.5h.7M52.4 96.1h.7M63.5 96.4h.7M65.8 87.1h.7M63.5 89.0h.7M55.0 93.3h.7M45.0 97.0h.7M51.5 89.8h.7M52.8 94.7h.7M59.3 94.8h.7M56.8 85.1h.7M49.5 90.8h.7M46.2 91.3h.7M49.1 82.9h.7M41.0 84.5h.7M62.0 91.4h.7M46.6 94.9h.7M58.6 83.2h.7M62.7 99.5h.7M53.2 89.6h.7M61.5 83.7h.7M38.8 98.0h.7M58.4 90.3h.7M53.5 92.4h.7M46.5 86.6h.7M66.8 87.5h.7M53.6 93.7h.7M62.6 87.2h.7M63.2 87.0h.7M54.1 90.8h.7M52.1 82.4h.7M50.7 89.3h.7M57.8 94.3h.7M58.8 91.1h.7M49.6 91.8h.7M45.4 89.5h.7M59.4 80.5h.7M49.0 92.8h.7M58.2 98.1h.7M55.5 87.2h.7M46.8 93.4h.7M51.5 89.9h.7M47.4 84.6h.7M51.6 87.9h.7M38.0 85.2h.7M52.5 90.7h.7M53.2 93.3h.7M51.1 78.3h.7M63.5 82.7h.7M47.4 81.4h.7M40.9 92.4h.7M54.3 92.6h.7M52.1 88.5h.7M58.8 96.2h.7M55.6 87.5h.7M44.6 88.2h.7M48.1 90.9h.7M50.3 93.6h.7M46.9 90.9h.7M54.5 85.6h.7M47.4 88.8h.7M47.9 82.4h.7M48.9 82.8h.7M70.1 90.9h.7M51.6 88.7h.7M50.6 92.1h.7M59.8 83.7h.7M52.1 92.9h.7M51.4 87.8h.7M50.4 85.7h.7M52.7 96.9h.7M53.6 94.1h.7M59.6 83.4h.7M52.7 86.6h.7M59.9 88.2h.7M51.7 89.4h.7M48.8 90.8h.7M49.2 93.1h.7M48.7 82.0h.7M60.3 90.5h.7M44.7 91.3h.7M47.2 84.6h.7M54.5 92.9h.7M59.7 101.0h.7M49.8 87.4h.7M63.3 94.2h.7M49.6 89.3h.7M52.8 95.7h.7M47.9 86.1h.7M53.1 89.0h.7M46.9 88.2h.7M51.7 91.2h.7M56.5 92.5h.7M58.5 88.3h.7M49.7 89.0h.7M53.6 84.0h.7M64.0 93.8h.7M56.8 79.3h.7M47.2 84.9h.7M52.9 84.8h.7M44.0 87.8h.7M56.7 91.0h.7M44.4 92.2h.7M50.2 96.8h.7M45.0 88.6h.7M35.9 100.5h.7M49.6 92.8h.7M52.7 97.4h.7M45.9 81.0h.7M45.8 90.9h.7M42.4 84.2h.7M53.4 91.5h.7M64.0 92.8h.7M63.1 93.5h.7M57.5 85.3h.7M61.4 90.9h.7M54.9 89.0h.7M57.4 82.1h.7M58.6 93.1h.7M46.3 91.1h.7M54.2 96.0h.7M49.1 89.0h.7M60.3 88.5h.7M61.1 91.3h.7M61.9 93.3h.7M51.4 98.0h.7M51.0 94.0h.7M43.2 86.7h.7M56.3 93.7h.7M53.6 93.7h.7M56.9 93.4h.7M44.3 89.3h.7M42.0 86.7h.7M55.5 84.0h.7M60.6 77.6h.7M44.3 87.2h.7M56.9 86.6h.7M51.3 91.0h.7M51.7 88.6h.7M53.1 89.1h.7M59.7 91.3h.7M61.0 87.9h.7M42.3 90.8h.7M59.0 88.1h.7M51.3 95.6h.7M57.0 81.6h.7M49.1 93.2h.7M44.6 93.6h.7M53.8 88.0h.7M62.9 87.8h.7M65.2 89.1h.7M56.0 89.4h.7M51.0 86.4h.7M64.5 95.1h.7M55.8 89.9h.7M57.9 88.5h.7M41.0 92.8h.7M43.8 90.3h.7M60.4 96.0h.7M43.3 91.3h.7M40.4 92.6h.7M62.5 90.7h.7M46.2 86.9h.7M44.7 94.5h.7M50.1 87.0h.7M50.1 82.9h.7M59.9 96.6h.7M62.7 96.4h.7M54.8 87.8h.7M40.6 93.1h.7M47.7 88.9h.7M47.2 89.6h.7M50.2 91.3h.7M56.8 86.9h.7M62.8 84.0h.7M59.9 97.3h.7M52.7 95.6h.7M47.1 90.7h.7M55.6 92.9h.7M61.2 93.4h.7M50.3 87.5h.7M51.3 97.1h.7M50.4 96.6h.7M40.1 87.8h.7M38.5 77.7h.7M54.7 88.5h.7M67.4 85.9h.7M44.5 86.7h.7M54.5 93.6h.7M63.5 101.5h.7M43.9 89.5h.7M46.7 83.4h.7M52.6 88.4h.7M54.2 88.2h.7M60.6 92.5h.7M51.4 87.6h.7M45.2 90.7h.7M54.7 91.4h.7M55.4 88.7h.7M63.6 88.5h.7M56.1 92.3h.7M53.1 94.9h.7M59.9 79.9h.7M55.1 90.9h.7M48.3 87.5h.7M59.5 86.2h.7M59.2 96.9h.7M62.3 93.9h.7M51.4 94.6h.7M56.0 98.0h.7M48.7 84.5h.7M52.5 91.3h.7M66.6 99.0h.7M42.4 93.5h.7M47.9 90.2h.7M56.4 92.1h.7M36.5 101.2h.7M51.3 93.0h.7M39.3 88.2h.7M52.1 90.1h.7M46.3 89.6h.7M42.2 90.7h.7M47.6 88.7h.7M50.0 82.3h.7M48.8 84.8h.7M50.3 86.4h.7M59.0 89.3h.7M54.6 91.8h.7M67.0 90.2h.7M56.9 86.4h.7M63.9 91.4h.7M47.7 89.5h.7M55.9 88.7h.7M55.0 94.4h.7M52.1 84.0h.7M59.4 94.1h.7M41.9 90.0h.7M54.8 87.5h.7M55.5 87.6h.7M60.2 89.9h.7M54.0 85.5h.7M36.4 91.9h.7M59.5 93.8h.7M51.2 93.4h.7M53.8 88.1h.7M53.3 88.4h.7M57.6 98.2h.7M63.9 95.7h.7M43.0 94.0h.7M47.1 91.5h.7M62.7 93.0h.7M54.0 90.4h.7M56.8 93.9h.7M37.7 91.2h.7M52.4 91.3h.7M54.1 84.4h.7M54.8 91.6h.7M56.7 85.7h.7M53.5 90.7h.7M47.2 91.7h.7M51.1 89.9h.7M59.1 90.7h.7M59.4 93.4h.7M39.7 85.0h.7M54.0 92.7h.7M50.9 90.1h.7M44.9 88.2h.7M46.6 93.8h.7M56.7 87.2h.7M52.0 91.8h.7M38.7 90.2h.7M52.6 91.6h.7M53.8 92.7h.7M50.9 93.2h.7M38.8 97.0h.7M43.5 91.7h.7M46.6 91.2h.7M54.6 85.8h.7M55.3 99.6h.7M54.6 85.3h.7M54.8 88.0h.7M52.1 99.5h.7M52.5 80.8h.7M65.1 91.9h.7M48.6 86.9h.7M53.9 85.5h.7M42.9 91.1h.7M64.4 87.2h.7M49.4 83.7h.7M47.7 83.2h.7M48.5 88.9h.7M59.1 92.9h.7M49.7 96.6h.7M54.6 97.4h.7M48.7 93.5h.7M55.7 89.2h.7M53.1 93.7h.7M47.4 88.3h.7M51.7 84.9h.7M47.2 98.3h.7M46.7 86.6h.7M46.7 90.5h.7M47.9 85.3h.7M51.0 82.6h.7M48.5 96.8h.7M41.4 92.6h.7M40.7 91.7h.7M39.4 86.5h.7M56.9 93.7h.7M57.8 93.8h.7M50.4 99.9h.7M61.5 90.1h.7M54.6 85.1h.7M40.9 86.0h.7M47.3 88.5h.7M52.1 88.4h.7M56.3 83.5h.7M59.0 93.1h.7M60.4 89.9h.7M49.2 86.9h.7M44.5 91.6h.7M44.2 87.6h.7M46.0 91.5h.7M58.0 86.0h.7M51.0 81.3h.7M55.5 86.2h.7M48.3 85.7h.7M53.8 94.9h.7M47.8 90.6h.7M62.7 92.6h.7M68.5 88.0h.7M46.7 87.2h.7M41.6 90.8h.7M51.4 88.4h.7M50.2 85.6h.7M51.2 84.6h.7M50.8 90.3h.7M47.1 90.1h.7M61.4 90.8h.7M40.6 85.2h.7M49.7 97.1h.7M50.6 81.3h.7M47.4 87.3h.7M41.2 93.4h.7M54.2 84.6h.7M53.5 86.9h.7M58.7 90.7h.7M47.5 87.9h.7M45.3 96.7h.7M67.4 90.2h.7M51.4 79.1h.7M46.6 91.6h.7M58.1 86.0h.7M56.6 95.1h.7M50.1 84.0h.7M63.3 86.1h.7M55.9 90.0h.7M49.7 95.5h.7M54.7 87.8h.7M43.6 88.5h.7M60.8 95.0h.7M53.8 83.8h.7M56.9 88.8h.7M56.2 91.4h.7M55.3 83.8h.7M53.2 88.0h.7M59.5 86.7h.7M51.3 95.1h.7M52.3 88.0h.7M50.4 90.0h.7M54.1 88.7h.7M41.3 92.6h.7M56.1 93.4h.7M72.4 88.2h.7M62.6 93.5h.7M55.0 86.6h.7M44.8 95.8h.7M52.9 85.3h.7M57.4 93.4h.7M62.5 99.3h.7M56.3 89.6h.7M51.8 86.6h.7M46.4 87.2h.7M43.2 88.1h.7M48.8 95.8h.7M52.7 87.7h.7M43.5 88.2h.7M41.7 91.1h.7M41.0 89.7h.7M59.5 85.5h.7M67.2 93.5h.7M55.5 92.7h.7M49.9 95.1h.7M52.8 83.7h.7M52.6 91.5h.7M45.2 95.8h.7M54.9 92.8h.7M63.2 89.9h.7M54.4 84.6h.7M53.4 84.3h.7M53.3 82.9h.7M48.1 86.9h.7M47.6 92.3h.7M57.9 89.1h.7M45.8 96.4h.7M41.5 89.8h.7M44.6 90.1h.7M55.2 83.8h.7M59.9 91.1h.7M46.9 87.3h.7M63.1 93.6h.7M50.6 86.2h.7M65.3 89.0h.7M53.4 94.0h.7M48.8 96.9h.7M54.0 91.7h.7M51.2 96.0h.7M47.0 88.1h.7M49.3 98.0h.7M62.5 92.4h.7M48.8 88.3h.7M58.0 91.2h.7M50.3 94.0h.7M42.8 88.9h.7M38.1 89.7h.7M60.7 98.4h.7M54.1 94.4h.7M53.8 90.4h.7M62.2 91.1h.7M52.5 87.4h.7M68.1 82.9h.7M57.2 95.1h.7M54.3 87.6h.7M57.0 81.7h.7M60.7 86.4h.7M46.2 94.3h.7M49.7 84.5h.7M59.8 85.6h.7M63.9 91.8h.7M57.0 91.7h.7M49.9 88.1h.7M43.2 87.3h.7M58.9 87.3h.7M55.6 94.7h.7M49.1 95.4h.7M39.5 97.8h.7M62.5 100.6h.7M55.7 85.7h.7M57.2 88.8h.7M50.1 98.8h.7M60.9 98.2h.7M57.2 80.5h.7M65.3 94.1h.7M50.5 92.6h.7M63.7 89.3h.7M58.2 95.3h.7M47.8 93.7h.7M47.9 97.3h.7M56.5 87.5h.7M55.6 92.0h.7M52.2 92.2h.7M57.9 81.1h.7M51.4 89.1h.7M48.4 93.0h.7M47.6 92.2h.7M58.8 92.2h.7M49.2 95.4h.7M54.5 88.4h.7M44.0 90.8h.7M43.9 92.5h.7M58.9 92.0h.7M48.9 87.2h.7M55.0 96.9h.7M58.6 92.5h.7M60.1 88.1h.7M54.9 93.4h.7M64.0 83.3h.7M45.3 94.0h.7M52.3 86.5h.7M49.1 87.0h.7M46.5 94.6h.7M54.9 85.2h.7M44.4 89.0h.7M60.3 94.1h.7M45.8 85.6h.7M55.1 90.8h.7M52.5 87.3h.7M45.0 88.5h.7M48.7 89.7h.7M51.4 95.1h.7M49.6 86.4h.7M48.9 87.3h.7M50.8 84.7h.7M57.2 87.7h.7M46.8 91.0h.7M46.4 91.0h.7M48.7 100.6h.7M48.2 88.7h.7M56.4 93.4h.7M53.2 76.5h.7M52.4 91.6h.7M51.6 91.3h.7M59.3 96.3h.7M54.9 89.7h.7M69.9 87.7h.7M60.0 86.7h.7M50.5 86.1h.7M59.6 90.8h.7M55.5 94.0h.7M44.3 93.2h.7M65.3 90.4h.7M54.2 88.4h.7M43.6 86.6h.7M48.0 87.2h.7M51.0 94.9h.7M45.4 94.0h.7M53.5 89.6h.7M44.9 97.1h.7M43.4 86.9h.7M54.5 88.1h.7M52.6 91.2h.7M49.5 91.5h.7M59.9 92.7h.7M55.7 95.4h.7M61.1 85.8h.7M53.4 87.9h.7M43.4 94.2h.7M53.2 79.4h.7M44.7 89.1h.7M57.2 82.3h.7M49.5 89.3h.7M47.3 92.8h.7M52.2 92.5h.7M63.7 84.0h.7M55.3 77.9h.7M48.0 87.7h.7M43.7 87.4h.7M47.3 89.5h.7M59.2 88.0h.7M52.5 94.2h.7M56.9 86.9h.7M53.8 88.9h.7M48.2 87.9h.7M52.1 93.2h.7M52.1 86.1h.7M56.4 92.6h.7M51.8 94.6h.7M52.2 90.2h.7M44.8 90.1h.7M58.9 98.5h.7M50.7 90.0h.7M51.6 85.2h.7M52.4 85.0h.7M43.9 85.9h.7M35.1 97.2h.7M53.7 87.6h.7M47.4 87.8h.7M48.5 94.5h.7M53.1 89.0h.7M57.7 85.7h.7M44.4 99.3h.7M51.7 94.1h.7M50.2 79.8h.7M52.0 92.7h.7M48.7 87.6h.7M52.9 85.4h.7M63.1 91.7h.7M47.5 88.4h.7M47.4 93.0h.7M48.3 90.8h.7M47.3 93.3h.7M55.8 96.0h.7M50.9 87.7h.7M62.5 92.0h.7M45.3 96.3h.7M59.2 89.7h.7M51.2 93.1h.7M44.1 92.5h.7M46.0 90.1h.7M50.5 79.3h.7M43.7 88.5h.7M46.6 87.8h.7M56.2 84.1h.7M48.6 80.9h.7M61.0 94.9h.7M53.6 88.4h.7M43.9 95.7h.7M52.2 92.1h.7M54.9 93.3h.7M47.1 89.2h.7M59.2 82.7h.7M50.7 81.5h.7M48.4 91.2h.7M48.2 98.5h.7M54.1 84.9h.7M50.2 95.5h.7M50.9 89.6h.7M48.1 93.9h.7M50.1 89.8h.7M57.8 90.8h.7M50.1 84.8h.7M55.0 96.5h.7M48.1 98.7h.7M48.9 91.6h.7M49.6 90.6h.7M58.3 89.0h.7M54.6 89.0h.7M55.5 88.6h.7M50.9 94.2h.7M45.8 83.8h.7M64.3 87.2h.7M45.0 95.2h.7M47.6 92.3h.7M56.6 91.8h.7M59.1 91.4h.7M41.1 91.1h.7M43.4 81.1h.7M50.9 94.3h.7M55.7 88.1h.7M35.7 89.6h.7M45.9 86.8h.7M50.9 94.1h.7M62.4 84.5h.7M54.5 87.7h.7M56.1 93.5h.7M46.7 86.8h.7M52.8 88.8h.7M43.9 88.7h.7M47.9 84.7h.7M54.2 85.5h.7M43.2 93.0h.7M53.0 88.6h.7M46.9 84.2h.7M57.8 90.5h.7M40.0 93.6h.7M47.5 85.3h.7M55.0 99.2h.7M46.6 88.5h.7M48.7 88.5h.7M50.6 89.2h.7M57.3 87.9h.7M63.6 90.6h.7M50.5 85.0h.7M60.4 84.8h.7M52.2 84.1h.7M59.2 85.2h.7M38.9 96.7h.7M61.2 92.1h.7M48.4 94.9h.7M60.4 86.2h.7M55.1 88.3h.7M46.6 91.9h.7M62.6 88.1h.7M51.9 90.8h.7M47.6 90.9h.7M57.3 90.7h.7M62.5 93.7h.7M49.6 85.6h.7M58.9 93.6h.7M47.4 93.4h.7M38.5 86.7h.7M51.1 86.0h.7M54.1 86.8h.7M50.2 79.6h.7M55.8 94.3h.7M49.3 93.2h.7M51.2 88.3h.7M58.8 89.1h.7M57.4 89.5h.7M65.2 91.8h.7M56.4 83.3h.7M55.5 84.5h.7M51.4 95.8h.7M48.8 91.7h.7M54.3 88.9h.7M38.8 87.0h.7M56.8 94.4h.7M55.2 86.5h.7M47.4 94.7h.7M41.2 97.0h.7M46.4 93.1h.7M57.6 94.2h.7M62.0 85.4h.7M40.6 87.6h.7M51.8 83.6h.7M63.2 89.8h.7M60.0 89.4h.7M50.5 91.5h.7M53.2 91.3h.7M64.0 104.6h.7M41.0 82.9h.7M54.9 87.8h.7M55.9 92.5h.7M56.7 90.1h.7M65.8 87.6h.7M42.6 85.8h.7M56.3 89.9h.7M47.4 85.9h.7M49.6 86.5h.7M47.3 87.2h.7M54.7 93.6h.7M43.3 87.3h.7M52.9 91.6h.7M43.8 90.0h.7M50.3 85.4h.7M66.0 88.1h.7M53.2 95.0h.7M53.7 85.4h.7M59.5 87.6h.7M54.4 92.3h.7M61.7 91.4h.7M55.4 95.7h.7M53.8 85.8h.7M56.6 84.1h.7M45.6 93.4h.7M58.3 83.2h.7M44.6 95.3h.7M52.8 95.9h.7M43.4 92.5h.7M55.0 95.8h.7M57.9 95.7h.7M52.3 93.2h.7M51.4 87.8h.7M56.0 87.5h.7M48.9 89.4h.7M53.3 88.7h.7M55.1 86.9h.7M48.7 87.8h.7M66.1 95.2h.7M49.9 83.7h.7M48.7 89.7h.7M45.5 85.5h.7M65.2 93.4h.7M55.3 90.1h.7M56.4 88.0h.7M49.6 88.6h.7M46.2 91.1h.7M59.4 85.1h.7M51.5 87.7h.7M55.6 96.1h.7M51.4 82.2h.7M61.6 96.3h.7M56.0 87.4h.7M54.8 90.6h.7M50.1 99.9h.7M57.8 90.1h.7M63.8 78.5h.7M49.6 90.0h.7M58.9 86.2h.7M59.3 89.0h.7M58.4 93.3h.7M57.0 85.6h.7M54.1 88.0h.7M52.4 90.8h.7M57.8 88.4h.7M56.2 97.0h.7M49.7 94.7h.7M51.6 91.6h.7M53.0 85.4h.7M46.8 87.3h.7M55.7 79.6h.7M54.4 90.7h.7M48.6 86.0h.7M59.5 90.2h.7M58.4 85.4h.7M54.5 85.5h.7M49.2 91.1h.7M53.0 84.6h.7M45.8 87.3h.7M49.6 83.9h.7M51.3 84.5h.7M55.6 86.9h.7M44.7 85.3h.7M43.0 88.7h.7M57.6 92.1h.7M47.0 84.0h.7M55.2 96.1h.7M47.8 87.1h.7M50.8 96.2h.7M46.7 91.1h.7M52.4 96.4h.7M55.9 85.8h.7M53.8 91.0h.7M64.3 90.2h.7M49.2 94.6h.7M59.3 100.4h.7M60.7 88.7h.7M47.4 86.3h.7M44.5 89.3h.7M46.6 84.8h.7M54.7 89.1h.7M52.0 90.3h.7M43.7 84.2h.7M53.2 94.9h.7M61.4 95.4h.7M47.1 92.0h.7M64.4 96.5h.7M49.2 95.0h.7M52.7 86.9h.7M55.7 84.9h.7M58.7 97.8h.7M55.1 85.2h.7M45.2 91.6h.7M55.2 95.4h.7M57.0 88.3h.7M61.2 85.5h.7M56.4 98.0h.7M50.9 91.8h.7M49.4 89.8h.7M48.3 84.9h.7M60.4 90.3h.7M53.3 92.8h.7M56.3 96.9h.7M44.0 86.5h.7M40.5 97.6h.7M48.2 93.1h.7M55.6 88.9h.7M60.8 87.9h.7M70.6 96.7h.7M55.4 91.0h.7M53.5 85.5h.7M57.4 95.7h.7M38.9 88.6h.7M54.1 87.1h.7M60.6 98.5h.7M49.6 88.0h.7M49.5 88.8h.7M43.9 91.3h.7M56.0 87.0h.7M47.2 88.8h.7M53.4 94.7h.7M67.4 87.8h.7M59.1 88.6h.7M55.3 89.8h.7M56.7 90.8h.7M49.6 88.1h.7M51.6 89.9h.7M51.5 87.5h.7M43.2 91.2h.7M57.4 86.5h.7M59.9 88.3h.7M41.1 92.2h.7M59.5 92.1h.7M54.4 99.1h.7M51.8 96.4h.7M61.7 92.5h.7M57.1 92.2h.7M57.8 89.1h.7M49.0 96.3h.7M49.3 88.3h.7M47.4 95.9h.7M49.6 94.0h.7M41.0 88.6h.7M60.8 91.1h.7M44.3 88.4h.7M43.9 89.2h.7M54.5 90.1h.7M35.5 93.4h.7M55.5 83.9h.7M67.1 92.6h.7M56.1 89.3h.7M48.6 92.4h.7M57.4 88.7h.7M62.8 97.1h.7M47.0 82.9h.7M46.6 96.4h.7M46.2 98.5h.7M42.1 89.0h.7M45.4 94.3h.7M46.4 91.0h.7M48.9 90.4h.7M54.6 95.3h.7M40.2 89.6h.7M52.5 96.4h.7M61.8 94.6h.7M47.1 88.0h.7M54.0 91.8h.7M62.1 87.0h.7M45.8 91.8h.7M53.9 90.1h.7M51.2 93.6h.7M55.5 89.0h.7M49.7 81.0h.7M56.7 82.5h.7M60.1 88.3h.7M38.0 90.9h.7M47.9 88.6h.7M47.1 87.6h.7M37.0 90.1h.7M49.5 82.9h.7M52.2 91.8h.7M55.2 90.3h.7M64.9 83.4h.7M49.8 93.2h.7M59.6 88.6h.7M58.7 91.5h.7M48.5 91.5h.7M51.0 86.7h.7M58.4 96.6h.7M60.9 87.1h.7M41.2 97.1h.7M57.4 91.5h.7M51.3 92.8h.7M66.6 91.2h.7M47.4 92.6h.7M54.9 92.0h.7M70.9 92.9h.7M62.0 93.8h.7M57.3 91.2h.7M49.4 90.4h.7M53.8 85.7h.7M39.5 87.8h.7M55.5 89.5h.7M61.4 89.4h.7M71.2 92.0h.7M49.0 88.7h.7M60.1 79.0h.7M44.6 96.2h.7M53.0 93.3h.7M48.7 92.6h.7M49.4 97.3h.7M49.0 91.6h.7M57.5 99.8h.7M54.2 89.6h.7M51.7 88.9h.7M48.1 88.3h.7M51.8 88.8h.7M57.1 84.1h.7M59.1 86.3h.7M57.2 89.1h.7M47.8 95.6h.7M58.9 91.2h.7M56.9 81.1h.7M42.2 86.9h.7M53.1 90.5h.7M45.0 93.0h.7M41.6 87.3h.7M37.1 92.4h.7M53.1 87.6h.7M59.2 87.5h.7M52.3 93.9h.7M52.0 91.8h.7M53.6 98.3h.7M62.3 85.9h.7M64.9 86.0h.7M51.1 99.3h.7M50.5 89.1h.7M44.0 85.6h.7M51.5 88.7h.7M45.6 85.1h.7M57.4 95.4h.7M50.4 89.4h.7M46.2 93.3h.7M44.9 83.1h.7M58.1 89.7h.7M57.2 96.3h.7M39.8 94.3h.7M47.0 83.0h.7M48.4 87.1h.7M56.7 90.8h.7M48.4 100.6h.7M51.6 85.1h.7M58.6 100.5h.7M57.4 92.2h.7M54.9 92.9h.7M60.4 96.6h.7M55.8 88.7h.7M41.0 85.6h.7M52.6 98.1h.7M44.3 96.5h.7M55.4 90.8h.7M61.4 89.5h.7M47.6 86.1h.7M49.3 88.9h.7M55.3 85.3h.7M54.5 89.7h.7M57.7 93.4h.7M53.6 90.3h.7M52.3 96.2h.7M50.8 85.5h.7M50.7 88.1h.7M56.8 88.3h.7M41.0 89.1h.7M58.5 85.5h.7M46.8 88.2h.7M58.1 81.8h.7M57.6 89.8h.7M50.6 87.5h.7M47.3 89.8h.7M57.6 91.4h.7M53.2 88.2h.7M57.7 85.5h.7M51.2 84.3h.7M60.9 94.3h.7M59.5 83.1h.7M49.9 96.3h.7M46.9 81.8h.7M57.0 89.6h.7M56.5 99.1h.7M44.7 87.5h.7M52.3 89.3h.7M36.8 85.9h.7M55.6 91.6h.7M57.6 85.6h.7M50.3 91.9h.7M54.5 90.0h.7M53.6 92.6h.7M49.5 89.9h.7M57.8 88.4h.7M49.4 88.0h.7M40.6 89.7h.7M63.1 88.8h.7M50.1 100.1h.7M57.8 84.6h.7M52.8 92.5h.7M53.7 85.4h.7M53.3 86.3h.7M46.5 94.9h.7M52.4 86.3h.7M49.6 87.7h.7M44.2 91.4h.7M62.3 90.9h.7M63.2 85.8h.7M53.0 95.5h.7M55.3 92.5h.7M49.9 88.5h.7M62.5 92.8h.7M51.2 85.4h.7M55.0 95.8h.7M56.0 95.0h.7M48.6 87.9h.7M51.3 84.2h.7M63.0 94.7h.7M61.3 93.0h.7M54.1 85.2h.7M52.1 89.7h.7M55.1 87.5h.7M53.2 95.4h.7M47.9 82.4h.7M47.4 89.0h.7M52.1 85.5h.7M51.7 89.9h.7M47.0 91.6h.7M56.2 91.1h.7M50.5 91.3h.7M50.9 93.8h.7M46.5 83.9h.7M59.2 96.9h.7M47.2 87.3h.7M58.0 87.5h.7M52.4 89.1h.7M45.7 91.2h.7M51.3 89.1h.7M55.4 86.4h.7M51.7 84.0h.7M52.3 85.1h.7M41.8 94.0h.7M47.3 95.4h.7M50.1 94.6h.7M52.2 90.1h.7M45.1 86.0h.7M59.1 98.7h.7M48.1 91.5h.7M48.8 96.3h.7M60.5 94.5h.7M58.0 88.5h.7M42.4 91.8h.7M57.0 91.2h.7M48.7 86.8h.7M52.2 94.8h.7M55.4 82.2h.7M47.9 89.3h.7M54.3 84.5h.7M55.2 89.1h.7M39.0 100.1h.7M52.2 94.4h.7M45.9 90.1h.7M60.0 93.9h.7M55.9 98.0h.7M51.6 95.4h.7M55.5 89.4h.7M52.3 84.6h.7M56.5 94.1h.7M60.7 86.2h.7M38.7 88.3h.7M54.1 85.9h.7M49.0 90.3h.7M42.2 88.7h.7M56.1 96.1h.7M62.8 91.7h.7M51.7 87.9h.7M43.8 92.6h.7M45.0 81.9h.7M60.3 98.8h.7M46.4 87.4h.7M54.1 92.5h.7M57.7 89.8h.7M54.2 89.4h.7M54.7 95.6h.7M52.7 94.3h.7M55.2 88.4h.7M59.7 89.6h.7M46.8 86.7h.7M39.2 84.2h.7M48.5 88.7h.7M41.9 94.2h.7M55.2 88.7h.7M47.7 95.5h.7M48.5 86.5h.7M43.8 87.4h.7M50.0 88.9h.7M58.4 88.2h.7M49.3 87.1h.7M51.1 89.6h.7M50.9 88.4h.7M54.4 92.5h.7M52.9 90.3h.7M48.6 88.6h.7M36.3 88.5h.7M46.9 82.7h.7M48.2 81.7h.7M55.7 85.3h.7M64.5 81.1h.7M53.0 90.0h.7M57.3 84.6h.7M48.3 87.2h.7M47.3 87.4h.7M41.2 95.4h.7M51.5 81.6h.7M57.4 83.6h.7M44.5 86.7h.7M79.3 90.8h.7M78.1 93.1h.7M78.2 86.4h.7M64.4 90.4h.7M71.8 88.9h.7M63.1 92.6h.7M75.6 94.4h.7M72.1 90.9h.7M83.6 87.4h.7M74.6 93.2h.7M85.3 97.8h.7M71.6 89.8h.7M74.8 95.6h.7M78.3 86.8h.7M81.1 95.5h.7M69.7 93.3h.7M67.8 91.4h.7M77.3 92.0h.7M70.5 85.0h.7M74.1 92.2h.7M73.2 83.7h.7M71.4 82.8h.7M70.2 92.4h.7M74.7 87.2h.7M81.4 94.7h.7M73.7 90.0h.7M73.3 90.0h.7M71.1 86.8h.7M69.7 81.7h.7M62.8 92.0h.7M65.3 82.6h.7M68.5 87.2h.7M80.9 94.9h.7M74.3 89.9h.7M71.5 90.3h.7M67.0 94.2h.7M68.2 86.2h.7M67.3 87.0h.7M65.1 88.3h.7M83.4 88.1h.7M74.2 84.7h.7M73.6 91.7h.7M76.4 91.9h.7M84.6 93.1h.7M83.1 89.5h.7M81.6 104.3h.7M75.6 95.2h.7M72.5 88.4h.7M79.2 84.7h.7M60.3 85.7h.7M73.8 97.3h.7M78.0 83.8h.7M63.5 80.1h.7M80.3 86.8h.7M70.6 93.4h.7M74.9 84.4h.7M65.4 88.9h.7M79.4 92.3h.7M69.6 98.3h.7M75.0 92.3h.7M65.3 92.3h.7M74.2 90.3h.7M72.9 84.5h.7M70.4 94.0h.7M69.5 96.6h.7M75.8 89.1h.7M70.7 92.2h.7M72.2 89.0h.7M73.7 94.8h.7M63.8 87.5h.7M83.3 90.2h.7M71.2 91.7h.7M77.3 88.4h.7M80.7 96.6h.7M72.1 86.0h.7M63.2 92.6h.7M71.0 89.4h.7M70.5 86.4h.7M72.9 87.0h.7M69.0 87.9h.7M58.4 91.4h.7M81.0 91.4h.7M61.9 97.8h.7M61.3 86.4h.7M62.3 86.8h.7M77.5 93.4h.7M80.6 90.1h.7M72.8 82.3h.7M89.4 89.0h.7M71.4 94.8h.7M73.8 95.4h.7M69.1 86.0h.7M72.4 94.6h.7M84.6 88.3h.7M71.2 92.3h.7M72.6 90.2h.7M78.6 87.0h.7M70.4 95.6h.7M65.2 87.3h.7M70.5 91.9h.7M69.4 89.9h.7M73.7 96.3h.7M73.4 82.2h.7M72.2 86.6h.7M74.0 89.0h.7M73.5 86.9h.7M74.2 88.8h.7M85.7 99.6h.7M63.2 91.0h.7M64.5 90.2h.7M75.0 90.0h.7M69.3 93.3h.7M61.3 95.3h.7M59.3 93.6h.7M71.1 99.9h.7M69.5 89.3h.7M62.1 96.4h.7M77.9 91.2h.7M66.2 94.6h.7M84.6 88.0h.7M58.2 91.4h.7M65.8 91.7h.7M75.6 82.8h.7M75.7 92.9h.7M65.7 88.4h.7M69.8 91.7h.7M74.0 86.3h.7M68.2 86.7h.7M75.8 90.6h.7M74.6 98.6h.7M67.9 89.2h.7M69.5 98.2h.7M70.3 91.8h.7M72.9 91.7h.7M67.9 89.8h.7M76.8 86.3h.7M79.4 93.6h.7M79.0 84.9h.7M79.1 91.8h.7M80.1 92.1h.7M71.6 87.5h.7M75.3 99.1h.7M75.1 87.7h.7M71.7 91.6h.7M56.5 93.0h.7M72.2 89.8h.7M79.5 87.1h.7M78.5 85.1h.7M76.9 85.5h.7M77.9 94.4h.7M64.9 88.5h.7M78.9 87.1h.7M72.7 84.8h.7M76.2 88.3h.7M82.0 89.3h.7M75.6 94.5h.7M69.4 89.5h.7M71.5 87.8h.7M80.3 95.0h.7M72.2 91.0h.7M69.7 86.8h.7M75.4 82.6h.7M74.5 88.3h.7M72.4 97.8h.7M66.4 94.2h.7M75.0 86.7h.7M76.5 93.9h.7M71.2 84.6h.7M77.2 86.1h.7M74.6 93.0h.7M64.3 96.3h.7M70.9 91.5h.7M72.9 90.6h.7M64.6 88.6h.7M65.3 92.2h.7M63.1 87.5h.7M75.5 89.9h.7M72.1 97.4h.7M70.4 91.0h.7M72.4 94.9h.7M74.0 84.0h.7M73.6 85.9h.7M64.6 92.0h.7M70.8 92.7h.7M65.0 103.5h.7M76.3 93.5h.7M68.9 93.0h.7M68.2 87.3h.7M74.9 95.9h.7M74.1 94.3h.7M75.5 95.4h.7M61.8 88.9h.7M78.0 94.6h.7M76.6 89.0h.7M69.0 93.9h.7M75.9 95.0h.7M71.9 89.0h.7M79.8 93.9h.7M76.7 93.6h.7M67.3 84.2h.7M68.1 89.1h.7M72.4 87.6h.7M62.0 89.8h.7M74.3 90.5h.7M79.5 96.1h.7M71.2 95.7h.7M69.7 95.3h.7M63.2 92.2h.7M79.5 89.0h.7M73.5 91.6h.7M73.6 93.1h.7M77.4 96.7h.7M72.3 94.3h.7M80.6 90.4h.7M76.1 96.9h.7M74.6 90.4h.7M66.6 95.2h.7M80.8 87.4h.7M69.4 85.2h.7M76.2 88.1h.7M74.5 89.4h.7M76.3 89.3h.7M74.7 90.8h.7M63.0 91.1h.7M69.1 92.9h.7M68.0 93.0h.7M75.0 89.1h.7M70.7 93.2h.7M63.3 96.1h.7M72.5 89.7h.7M70.6 85.5h.7M72.6 97.9h.7M79.2 93.4h.7M72.6 90.6h.7M68.4 90.1h.7M68.2 90.2h.7M74.2 92.8h.7M60.2 93.0h.7M73.7 87.4h.7M54.1 87.9h.7M67.8 90.6h.7M73.3 90.7h.7M75.9 90.3h.7M63.5 88.1h.7M73.9 101.6h.7M72.4 88.6h.7M69.9 88.7h.7M68.1 96.5h.7M68.5 94.4h.7M81.4 86.7h.7M72.7 89.5h.7M75.9 100.5h.7M87.1 87.6h.7M58.2 96.4h.7M67.4 91.9h.7M74.6 92.1h.7M74.8 91.5h.7M67.9 92.4h.7M77.8 94.1h.7M59.0 84.4h.7M75.3 89.9h.7M79.4 94.2h.7M67.2 84.2h.7M71.7 91.1h.7M75.8 95.2h.7M80.1 89.2h.7M62.9 96.9h.7M70.1 93.9h.7M65.0 88.5h.7M71.6 90.8h.7M82.5 99.6h.7M78.3 91.3h.7M79.2 90.8h.7M68.3 85.9h.7M79.1 90.4h.7M69.7 90.4h.7M72.4 96.0h.7M69.5 92.7h.7M74.8 86.2h.7M77.2 97.5h.7M78.2 88.8h.7M78.6 88.5h.7M78.6 94.7h.7M68.6 94.9h.7M79.2 92.0h.7M65.0 91.7h.7M80.2 94.1h.7M76.8 87.8h.7M73.7 98.4h.7M68.8 98.2h.7M60.6 94.1h.7M75.0 90.9h.7M69.9 90.8h.7M77.2 90.3h.7M81.1 91.5h.7M78.9 95.7h.7M74.2 95.0h.7M72.3 83.8h.7M69.1 95.6h.7M70.6 96.8h.7M76.7 96.1h.7M67.1 87.6h.7M67.9 90.5h.7M75.5 91.7h.7M72.1 89.8h.7M69.2 90.0h.7M78.1 92.0h.7M73.2 92.4h.7M59.8 83.0h.7M76.0 99.0h.7M79.8 97.5h.7M60.4 93.7h.7M67.2 92.3h.7M75.6 91.0h.7M78.1 87.3h.7M73.3 90.7h.7M73.2 92.4h.7M67.0 91.1h.7M85.3 86.0h.7M71.5 92.4h.7M73.3 89.3h.7M72.2 90.6h.7M68.6 92.7h.7M61.7 88.4h.7M66.9 86.1h.7M75.8 89.2h.7M75.2 90.0h.7M75.2 88.9h.7M69.4 91.0h.7M73.5 92.8h.7M76.3 94.7h.7M69.6 93.4h.7M65.2 94.2h.7M78.9 89.5h.7M75.1 88.9h.7M80.6 87.6h.7M73.2 83.6h.7M67.8 90.3h.7M69.0 93.0h.7M74.9 99.4h.7M73.5 94.1h.7M57.5 87.9h.7M70.7 93.5h.7M71.4 93.0h.7M78.0 91.4h.7M82.5 98.8h.7M72.3 86.3h.7M77.7 92.3h.7M76.8 87.8h.7M76.0 84.5h.7M80.9 86.5h.7M77.9 97.9h.7M75.5 86.7h.7M79.3 92.9h.7M80.4 87.6h.7M68.5 91.8h.7M61.3 92.4h.7M67.6 95.6h.7M82.2 89.0h.7M71.4 86.5h.7M82.8 92.9h.7M69.7 92.5h.7M78.4 84.1h.7M71.3 83.4h.7M68.7 90.2h.7M62.7 93.3h.7M70.2 91.3h.7M82.0 86.8h.7M66.6 86.5h.7M73.7 93.9h.7M72.3 93.7h.7M68.1 89.8h.7M78.5 84.0h.7M60.4 92.4h.7M69.1 94.0h.7M83.9 78.5h.7M68.7 92.1h.7M79.1 88.3h.7M69.6 92.9h.7M65.5 91.4h.7M79.5 98.2h.7M71.6 101.6h.7M79.0 90.9h.7M64.0 93.2h.7M74.2 87.9h.7M73.0 90.1h.7M80.9 89.5h.7M64.8 94.3h.7M68.7 89.0h.7M70.9 98.3h.7M71.1 86.4h.7M70.5 83.5h.7M65.9 88.0h.7M82.9 85.7h.7M82.6 84.1h.7M64.7 96.0h.7M72.1 94.0h.7M78.3 86.8h.7M76.7 93.4h.7M73.9 93.0h.7M73.7 85.9h.7M63.1 90.4h.7M78.8 87.8h.7M65.0 92.2h.7M74.6 89.3h.7M76.3 89.0h.7M73.9 91.1h.7M67.4 91.4h.7M68.1 93.8h.7M71.1 90.8h.7M61.8 89.4h.7M69.0 86.9h.7M69.8 88.6h.7M68.4 86.6h.7M67.5 90.6h.7M65.5 86.5h.7M68.2 87.3h.7M68.6 96.6h.7M72.1 94.5h.7M68.3 91.3h.7M75.2 87.2h.7M84.0 91.7h.7M74.7 92.3h.7M68.9 95.7h.7M73.0 85.3h.7M64.7 90.4h.7M76.6 89.4h.7M68.7 90.3h.7M69.0 85.9h.7M79.1 97.6h.7M73.8 88.8h.7M61.4 99.7h.7M72.8 83.8h.7M72.7 91.1h.7M78.7 84.1h.7M81.8 92.7h.7M66.8 96.9h.7M72.1 85.6h.7M73.1 94.3h.7M67.3 92.0h.7M78.7 92.8h.7M70.6 88.7h.7M63.0 87.2h.7M72.9 95.4h.7M90.0 84.1h.7M67.4 90.7h.7M72.7 96.0h.7M69.9 94.6h.7M67.6 86.1h.7M77.6 94.7h.7M73.3 86.7h.7M68.4 85.2h.7M63.3 94.4h.7M74.1 85.7h.7M73.0 95.1h.7M73.4 93.6h.7M65.0 94.5h.7M66.1 99.2h.7M68.8 93.1h.7M74.9 90.4h.7M64.3 94.6h.7M79.4 101.4h.7M68.1 94.6h.7M76.3 90.4h.7M72.0 91.2h.7M66.6 88.1h.7M75.2 88.8h.7M76.1 86.4h.7M75.4 89.5h.7M68.0 91.9h.7M66.3 90.4h.7M68.1 86.0h.7M76.0 87.5h.7M74.2 86.3h.7M75.0 92.6h.7M75.7 90.8h.7M60.7 82.9h.7M67.6 88.0h.7M77.1 94.5h.7M72.2 92.9h.7M56.7 84.0h.7M75.6 95.9h.7M84.1 95.9h.7M68.6 91.8h.7M72.0 90.4h.7M73.0 90.6h.7M61.7 90.6h.7M70.3 93.0h.7M61.1 89.0h.7M61.5 89.8h.7M84.2 89.1h.7M74.1 88.6h.7M78.9 89.7h.7M79.9 91.9h.7M80.3 84.9h.7M68.5 90.4h.7M79.0 93.4h.7M74.5 88.6h.7M73.1 85.3h.7M62.9 95.4h.7M77.2 97.5h.7M68.0 95.2h.7M64.7 89.8h.7M80.3 85.9h.7M67.1 87.1h.7M81.3 86.7h.7M73.5 90.6h.7M77.4 91.3h.7M69.8 91.3h.7M75.5 90.3h.7M66.0 91.0h.7M71.7 91.8h.7M80.1 89.5h.7M73.1 88.1h.7M70.1 83.5h.7M75.1 88.2h.7M68.1 84.1h.7M73.1 87.5h.7M77.2 86.0h.7M64.5 96.0h.7M72.7 98.8h.7M63.6 90.1h.7M58.6 91.3h.7M65.1 82.6h.7M70.6 89.0h.7M79.3 92.4h.7M72.3 94.1h.7M67.6 92.5h.7M71.2 91.3h.7M78.5 91.8h.7M68.3 93.4h.7M69.7 93.7h.7M79.0 85.7h.7M76.1 93.9h.7M72.5 87.6h.7M68.4 90.6h.7M73.3 97.2h.7M72.9 91.2h.7M76.4 92.3h.7M62.5 92.1h.7M77.4 86.6h.7M67.8 87.7h.7M76.0 95.2h.7M71.9 94.1h.7M75.4 93.8h.7M78.8 90.7h.7M77.9 97.3h.7M64.8 91.6h.7M62.6 88.2h.7M70.6 91.1h.7M63.4 84.7h.7M71.7 85.3h.7M68.4 95.0h.7M81.2 92.3h.7M63.9 92.9h.7M77.0 92.3h.7M70.2 95.0h.7M66.2 87.2h.7M78.6 91.3h.7M83.0 95.2h.7M78.5 94.7h.7M79.6 92.4h.7M61.5 94.9h.7M73.5 81.2h.7M85.0 99.7h.7M65.0 88.0h.7M73.5 89.9h.7M69.8 91.2h.7M61.6 97.0h.7M71.0 92.7h.7M73.2 99.0h.7M61.8 93.5h.7M74.1 97.8h.7M76.1 86.4h.7M76.0 101.6h.7M77.6 95.1h.7M72.9 87.5h.7M73.3 92.9h.7M62.4 95.7h.7M56.3 94.7h.7M74.0 87.0h.7M68.8 90.4h.7M77.2 79.8h.7M61.0 95.4h.7M83.4 89.8h.7M72.8 95.1h.7M71.8 94.2h.7M84.8 84.9h.7M87.4 85.9h.7M71.5 91.5h.7M73.0 88.8h.7M66.6 77.8h.7M66.5 92.4h.7M67.8 88.8h.7M74.5 83.4h.7M65.7 90.7h.7M68.3 93.1h.7M69.5 90.0h.7M71.2 82.7h.7M74.6 90.6h.7M77.9 93.2h.7M74.1 90.0h.7M56.1 88.1h.7M68.9 95.3h.7M64.4 95.3h.7M83.5 89.6h.7M71.3 84.9h.7M67.3 96.2h.7M77.0 89.3h.7M80.3 92.6h.7M79.3 86.9h.7M75.3 90.3h.7M74.6 90.5h.7M59.2 94.3h.7M78.1 82.2h.7M65.1 94.6h.7M60.8 90.8h.7M65.4 87.4h.7M76.7 97.0h.7M75.7 95.7h.7M70.4 91.7h.7M66.1 89.5h.7M59.4 84.3h.7M73.7 93.8h.7M78.4 91.8h.7M69.9 89.7h.7M79.1 91.8h.7M66.8 91.9h.7M59.3 93.4h.7M72.8 96.5h.7M58.8 91.1h.7M67.3 95.8h.7M52.1 86.9h.7M60.2 100.2h.7M71.9 86.7h.7M62.8 99.1h.7M58.5 81.3h.7M86.0 92.5h.7M61.4 76.9h.7M44.6 82.4h.7M65.1 82.9h.7M59.7 95.9h.7M59.9 83.2h.7M79.1 89.6h.7M77.9 79.9h.7M47.7 92.2h.7M55.5 84.2h.7M69.7 90.3h.7M73.5 93.2h.7M85.5 81.1h.7M70.3 93.7h.7M68.2 89.5h.7M67.0 96.5h.7M46.9 86.5h.7M56.9 87.4h.7M69.4 97.9h.7M65.6 95.1h.7M85.8 94.3h.7M49.9 88.1h.7M46.7 76.2h.7M64.8 84.3h.7M80.8 87.1h.7M62.6 94.1h.7M49.5 91.7h.7M62.9 86.8h.7M54.8 74.5h.7M63.0 95.9h.7M50.2 87.3h.7M48.8 101.9h.7M86.7 110.3h.7M66.6 83.1h.7M77.2 109.0h.7M73.8 100.5h.7M53.4 99.6h.7M80.9 88.1h.7M55.7 86.4h.7M59.9 84.8h.7M69.9 97.3h.7M79.5 95.7h.7M63.7 91.6h.7M61.8 87.1h.7M84.2 97.0h.7M56.4 88.3h.7M62.8 90.4h.7M66.7 89.6h.7M58.6 89.3h.7M76.7 107.7h.7M76.7 89.8h.7M63.6 102.1h.7M64.6 96.0h.7M42.2 93.4h.7M72.7 99.9h.7M58.9 79.7h.7M62.9 98.8h.7M83.4 85.9h.7M58.9 87.4h.7M47.7 85.3h.7M60.3 88.9h.7M64.7 83.7h.7M63.8 84.6h.7M62.6 97.1h.7M55.9 90.4h.7M42.8 89.4h.7M45.9 98.0h.7M75.0 98.5h.7M44.9 107.5h.7M53.2 91.5h.7M67.1 83.1h.7M83.0 95.4h.7M63.0 76.7h.7M53.8 85.5h.7M50.0 100.0h.7M61.2 108.4h.7M60.1 89.6h.7M71.3 95.4h.7M59.8 86.6h.7M65.1 96.6h.7M58.0 89.2h.7M40.1 93.2h.7M73.7 89.9h.7M36.2 92.6h.7M79.6 90.3h.7M79.4 79.7h.7M43.0 78.3h.7M77.7 93.8h.7M68.7 88.4h.7M69.4 101.5h.7M90.3 97.5h.7M78.1 91.4h.7M64.8 86.1h.7M84.2 98.0h.7M78.6 109.3h.7M64.9 90.2h.7M74.4 95.3h.7M68.0 88.9h.7M55.7 87.7h.7M88.3 99.5h.7M57.4 88.4h.7M66.6 85.8h.7M70.0 85.6h.7M70.9 88.7h.7M80.6 104.5h.7M80.0 98.8h.7M47.9 88.7h.7M76.7 96.7h.7M86.1 96.3h.7M58.3 94.4h.7M57.2 89.2h.7M73.6 96.6h.7M62.4 92.1h.7M97.1 94.5h.7M61.2 82.6h.7M76.4 95.3h.7M54.8 101.2h.7M79.1 77.9h.7M89.5 93.2h.7M53.5 88.3h.7M69.9 86.0h.7M78.1 105.5h.7M57.1 87.1h.7M54.0 85.5h.7M59.6 100.4h.7M71.2 77.0h.7M70.7 76.5h.7M66.4 91.2h.7M63.1 84.3h.7M93.9 91.5h.7M73.3 86.0h.7M38.8 92.4h.7M61.4 86.3h.7M61.8 90.6h.7M88.9 92.9h.7M76.9 85.1h.7M42.6 90.6h.7M62.4 101.9h.7M60.4 82.2h.7M77.4 85.2h.7M59.1 86.4h.7M65.6 90.5h.7M63.8 88.7h.7M60.0 80.6h.7M81.5 94.4h.7M86.2 103.2h.7M78.4 91.8h.7M75.7 80.3h.7M51.6 83.9h.7M53.9 88.8h.7M45.0 96.0h.7M72.3 90.9h.7M78.0 93.7h.7M52.1 99.9h.7M75.1 88.0h.7M46.3 98.8h.7M59.5 84.4h.7M47.9 91.2h.7M92.7 81.5h.7M51.4 88.0h.7M71.3 91.4h.7M52.6 87.6h.7M66.9 84.0h.7M53.2 94.2h.7M76.3 84.7h.7M67.4 99.0h.7M72.4 90.0h.7M72.1 82.2h.7M45.7 79.6h.7M85.2 84.2h.7M91.9 80.3h.7M88.4 92.4h.7M72.1 86.3h.7M47.5 90.8h.7M54.9 88.7h.7M63.1 99.4h.7M73.2 97.8h.7M65.8 90.2h.7M55.2 88.0h.7M53.9 79.6h.7M60.0 93.9h.7M76.8 102.8h.7M65.2 89.4h.7M74.7 92.4h.7M61.3 80.4h.7M56.2 87.9h.7M60.8 83.2h.7M86.5 93.3h.7M52.1 84.8h.7M75.2 83.5h.7M52.7 84.8h.7M53.0 89.1h.7M36.1 94.6h.7M65.3 83.0h.7M67.6 88.1h.7M61.9 99.0h.7M54.8 94.8h.7M56.2 99.3h.7M41.4 92.8h.7M66.7 100.1h.7M54.5 97.1h.7M55.9 88.9h.7M66.3 84.2h.7M56.2 92.1h.7M119.9 85.6h.7M42.9 84.6h.7M83.6 91.7h.7M61.8 96.1h.7M56.3 85.1h.7M61.8 110.3h.7M58.9 106.7h.7M58.6 106.4h.7M54.9 124.3h.7M60.0 107.2h.7M35.8 130.3h.7M55.5 119.1h.7M64.5 118.3h.7M44.5 134.3h.7M51.8 131.2h.7M47.7 119.6h.7M50.4 119.1h.7M49.7 122.6h.7M54.7 116.9h.7M62.0 104.9h.7M59.6 108.8h.7M47.5 126.6h.7M56.2 125.7h.7M61.4 114.3h.7M59.5 116.0h.7M53.3 116.5h.7M67.1 114.1h.7M62.0 118.7h.7M54.5 115.3h.7M45.9 124.1h.7M61.7 114.8h.7M57.9 118.9h.7M59.4 113.3h.7M50.5 130.7h.7M57.4 120.9h.7M55.0 119.8h.7M54.3 121.5h.7M54.9 131.5h.7M57.1 113.8h.7M44.7 137.9h.7M48.4 138.1h.7M55.3 121.2h.7M57.4 108.1h.7M61.8 107.0h.7M47.2 129.0h.7M54.9 128.8h.7M57.5 127.5h.7M51.0 133.2h.7M52.1 123.9h.7M47.5 134.0h.7M60.2 106.0h.7M51.7 117.6h.7M55.4 113.4h.7M49.1 122.9h.7M49.0 124.2h.7M43.2 118.7h.7M55.6 112.1h.7M53.5 114.9h.7M52.3 133.4h.7M47.8 131.1h.7M46.5 129.1h.7M48.3 123.8h.7M55.1 113.7h.7M64.1 119.1h.7M59.5 108.3h.7M44.2 121.3h.7M49.4 118.2h.7M49.8 133.9h.7M47.3 127.0h.7M62.5 110.5h.7M52.1 127.8h.7M44.6 135.4h.7M56.3 109.2h.7M53.1 119.4h.7M55.2 113.3h.7M49.1 131.1h.7M53.8 107.0h.7M45.9 138.9h.7M63.4 108.0h.7M57.9 109.4h.7M46.1 134.1h.7M59.5 110.5h.7M43.7 127.2h.7M49.1 117.9h.7M60.5 105.9h.7M61.7 112.2h.7M66.2 112.7h.7M59.6 114.9h.7M52.7 125.9h.7M51.0 132.1h.7M53.4 105.8h.7M50.3 115.8h.7M53.2 125.2h.7M46.7 135.9h.7M61.9 111.3h.7M52.1 111.6h.7M48.8 135.1h.7M50.4 116.1h.7M42.4 122.9h.7M59.8 110.1h.7M51.0 121.2h.7M48.0 130.5h.7M56.3 119.9h.7M56.3 124.2h.7M58.3 120.3h.7M53.4 109.1h.7M50.2 129.4h.7M48.1 135.3h.7M47.6 130.6h.7M46.4 122.1h.7M55.4 116.1h.7M56.6 99.4h.7M47.1 127.1h.7M43.3 132.4h.7M42.1 133.2h.7M49.1 115.0h.7M57.7 121.7h.7M62.7 111.0h.7M56.5 112.1h.7M50.1 115.9h.7M45.0 136.7h.7M50.5 131.7h.7M46.6 130.4h.7M47.6 132.7h.7M51.1 111.7h.7M52.1 105.7h.7M57.0 109.7h.7M61.5 112.7h.7M39.2 121.8h.7M56.2 100.5h.7M46.0 125.6h.7M53.8 108.9h.7M53.0 113.1h.7M54.7 114.4h.7M57.7 112.3h.7M54.0 114.5h.7M57.5 133.0h.7M50.9 124.6h.7M46.1 130.5h.7M59.6 118.9h.7M59.6 98.6h.7M59.3 102.2h.7M49.3 120.9h.7M62.0 111.2h.7M61.7 107.8h.7M47.2 128.1h.7M55.6 128.5h.7M49.6 123.7h.7M46.0 131.9h.7M44.7 131.2h.7M45.5 137.6h.7M51.0 126.3h.7M51.1 122.8h.7M58.8 107.2h.7M52.7 131.6h.7M48.8 117.9h.7M50.4 122.0h.7M53.0 112.6h.7M65.1 103.6h.7M54.5 119.2h.7M48.8 139.0h.7M63.8 108.3h.7M53.6 133.5h.7M52.7 126.8h.7M49.6 128.5h.7M55.5 112.3h.7M47.6 131.7h.7M55.8 114.8h.7M46.6 131.2h.7M47.2 139.7h.7M56.4 122.2h.7M64.5 112.5h.7M46.9 132.9h.7M57.5 108.6h.7M50.0 128.6h.7M38.4 129.4h.7M51.0 114.9h.7M61.5 115.2h.7M44.6 122.0h.7M48.1 119.3h.7M48.2 130.3h.7M46.6 116.0h.7M60.7 112.8h.7M53.0 110.8h.7M55.5 119.2h.7M60.7 111.0h.7M49.1 124.4h.7M53.0 112.4h.7M46.4 139.2h.7M58.3 118.9h.7M61.8 113.3h.7M59.3 132.1h.7M56.6 124.6h.7M48.0 118.7h.7M53.4 125.7h.7M48.2 128.8h.7M45.5 128.2h.7M55.2 135.5h.7M57.6 115.5h.7M44.6 125.5h.7M61.5 124.6h.7M39.0 137.3h.7M54.4 105.6h.7M51.2 111.2h.7M75.2 112.8h.7M38.5 140.6h.7M64.2 124.3h.7M54.3 124.7h.7M42.8 137.4h.7M60.0 113.9h.7M68.8 108.8h.7M72.8 124.5h.7M70.8 130.8h.7M53.9 117.6h.7M47.8 121.8h.7M94.0 123.3h.7M64.3 110.4h.7M71.4 115.2h.7M45.2 114.4h.7M52.4 115.4h.7M54.3 119.3h.7M71.7 123.7h.7M84.3 119.1h.7M61.6 131.2h.7M59.5 125.4h.7M72.0 125.5h.7M57.9 126.8h.7M61.2 99.2h.7M58.1 126.9h.7M64.0 97.2h.7M53.3 116.9h.7M58.9 114.7h.7M66.1 130.3h.7M51.6 109.9h.7M56.8 103.8h.7M70.6 135.1h.7M67.3 130.5h.7M54.1 134.9h.7M80.3 130.8h.7M60.1 118.2h.7M54.1 124.4h.7M48.6 138.7h.7M50.3 127.1h.7M61.6 99.1h.7M76.8 129.8h.7M63.8 121.6h.7M57.5 123.3h.7M43.4 122.8h.7M67.7 118.8h.7M58.4 136.7h.7M41.7 117.4h.7M55.5 117.0h.7M60.9 125.6h.7M61.3 123.0h.7M81.0 129.1h.7M80.7 118.3h.7M62.7 102.1h.7M55.0 123.6h.7M51.1 117.0h.7M56.2 117.6h.7M74.6 114.3h.7M59.1 131.5h.7M67.7 122.1h.7M63.1 123.6h.7M54.8 137.9h.7M62.7 111.8h.7M54.0 127.7h.7M68.5 138.9h.7M75.9 102.5h.7M56.6 113.3h.7M59.5 116.9h.7M46.3 127.2h.7M53.8 112.5h.7M50.3 110.8h.7M50.0 106.6h.7M56.1 119.7h.7M66.5 123.0h.7M70.1 118.0h.7M60.9 114.4h.7M56.1 133.9h.7M52.6 109.6h.7M45.5 131.9h.7M72.5 118.3h.7M70.1 120.3h.7M70.5 117.5h.7M83.3 109.4h.7M58.7 126.0h.7M65.0 137.4h.7M47.9 126.5h.7M65.8 124.8h.7M47.1 112.7h.7M40.3 106.2h.7M61.3 103.5h.7M75.4 123.8h.7M63.4 121.7h.7M59.1 107.7h.7M57.2 108.8h.7M52.4 107.7h.7M53.9 113.5h.7M43.6 121.9h.7M71.1 117.1h.7M56.5 113.5h.7M64.6 121.9h.7M46.6 130.2h.7M69.3 134.5h.7M48.9 116.5h.7M62.5 132.5h.7M55.6 117.6h.7M52.7 100.9h.7M55.9 131.4h.7M52.3 113.7h.7M49.3 123.3h.7M56.3 132.2h.7M62.6 102.9h.7M38.2 103.8h.7M56.7 124.6h.7M49.0 110.9h.7M44.3 124.6h.7M60.3 117.8h.7M61.4 109.6h.7M66.5 125.4h.7M55.0 113.6h.7M47.3 134.5h.7M69.9 112.2h.7M46.0 128.7h.7M63.5 135.2h.7M48.3 119.0h.7M54.0 134.8h.7M57.9 114.6h.7M68.6 124.5h.7M68.3 111.5h.7M50.7 121.7h.7M69.5 114.9h.7M72.8 125.0h.7M62.9 115.2h.7M57.3 114.7h.7M64.9 139.2h.7M44.6 124.2h.7M65.1 125.4h.7M64.6 129.0h.7M58.7 127.6h.7M50.7 124.1h.7M62.8 136.9h.7M69.8 124.3h.7M53.6 118.8h.7M65.4 124.4h.7M44.3 114.9h.7M59.5 128.8h.7M58.1 118.8h.7M65.0 107.6h.7M54.6 117.2h.7M51.9 130.8h.7M50.9 124.4h.7M75.8 118.8h.7M53.5 117.3h.7M45.9 110.1h.7M68.5 116.1h.7M60.4 130.9h.7M77.0 141.1h.7M59.6 130.6h.7M71.5 129.7h.7M57.8 106.5h.7M64.8 125.5h.7M65.4 115.4h.7M60.2 104.7h.7M53.6 109.2h.7M46.6 122.8h.7M65.5 128.1h.7M70.9 118.5h.7M69.2 126.5h.7M51.5 137.1h.7M37.4 123.0h.7M46.2 115.9h.7M51.8 110.0h.7M54.9 139.3h.7M56.3 126.3h.7M59.2 111.2h.7M38.6 100.2h.7M60.8 125.6h.7M60.7 121.5h.7M64.2 118.7h.7M57.7 129.1h.7M53.5 116.1h.7M69.2 111.3h.7M64.4 100.5h.7M54.1 105.0h.7M83.6 121.4h.7M68.1 119.0h.7M85.9 116.6h.7M56.5 106.9h.7M92.1 129.0h.7M89.4 135.9h.7M92.1 100.7h.7M64.6 121.8h.7M95.7 115.0h.7M74.2 113.2h.7M74.7 99.6h.7M83.3 109.7h.7M84.3 122.8h.7M80.9 122.8h.7M86.9 117.3h.7M58.4 126.1h.7M78.2 128.7h.7M85.0 93.1h.7M88.4 124.7h.7M72.8 117.4h.7M65.1 129.4h.7M69.3 108.7h.7M104.0 125.9h.7M90.6 97.2h.7M82.9 105.0h.7M56.6 119.5h.7M71.3 112.1h.7M88.2 123.4h.7M71.8 100.8h.7M85.5 116.0h.7M71.7 107.5h.7M57.6 110.0h.7M84.0 128.9h.7M75.1 109.9h.7M101.2 126.6h.7M73.7 93.0h.7M63.0 119.4h.7M70.4 132.3h.7M70.7 94.6h.7M52.5 119.7h.7M67.2 112.9h.7M74.3 118.7h.7M102.2 138.5h.7M71.1 109.4h.7M92.6 126.8h.7M58.8 97.9h.7M58.4 125.1h.7M68.4 139.7h.7M67.7 121.4h.7M83.8 110.2h.7M65.1 115.8h.7M67.4 98.7h.7M88.1 127.8h.7M75.8 121.0h.7M93.5 113.9h.7M65.3 116.8h.7M45.3 134.1h.7M108.4 118.1h.7M81.8 110.9h.7M72.0 132.5h.7M68.2 119.5h.7M61.8 105.9h.7M80.0 137.2h.7" stroke="#4535ab" stroke-width=".7" stroke-opacity=".55" fill="none" clip-path="url(#clip1)"/>
<path d="M55.3 90.2h.7M40.6 87.2h.7M51.3 87.9h.7M42.6 87.4h.7M42.1 83.6h.7M66.3 96.0h.7M36.9 82.5h.7M59.8 91.6h.7M48.0 96.7h.7M50.3 89.5h.7M47.4 94.2h.7M67.8 88.8h.7M54.1 89.5h.7M50.4 89.5h.7M60.6 88.4h.7M64.1 93.1h.7M45.4 96.2h.7M50.6 91.0h.7M51.1 93.5h.7M40.4 96.9h.7M46.2 90.5h.7M61.3 91.2h.7M57.1 88.5h.7M52.1 97.2h.7M49.3 89.9h.7M42.7 99.3h.7M53.6 93.3h.7M54.5 96.9h.7M53.7 90.7h.7M64.4 86.5h.7M53.4 85.6h.7M55.0 91.1h.7M50.0 91.1h.7M40.0 84.6h.7M55.0 94.7h.7M44.9 89.1h.7M46.9 84.3h.7M40.3 93.1h.7M64.2 88.0h.7M59.2 96.2h.7M42.3 97.4h.7M56.5 86.2h.7M53.8 94.2h.7M51.6 93.7h.7M57.0 96.8h.7M60.8 96.7h.7M57.5 84.8h.7M47.4 83.5h.7M66.5 91.2h.7M53.5 92.4h.7M43.4 93.2h.7M58.0 93.0h.7M50.3 84.7h.7M48.6 86.9h.7M56.5 93.9h.7M51.0 91.9h.7M47.5 90.4h.7M49.0 94.5h.7M60.5 83.1h.7M54.4 90.6h.7M52.6 91.3h.7M48.5 91.3h.7M50.9 91.9h.7M59.1 84.6h.7M56.8 90.3h.7M55.1 87.8h.7M54.6 92.9h.7M62.0 85.6h.7M58.9 91.0h.7M58.6 85.7h.7M51.0 93.5h.7M45.0 89.7h.7M52.3 89.0h.7M59.5 89.8h.7M48.4 87.3h.7M54.3 87.2h.7M62.0 88.2h.7M44.4 92.1h.7M48.3 86.2h.7M54.6 89.0h.7M44.6 96.9h.7M60.5 94.6h.7M54.1 91.1h.7M42.7 95.6h.7M51.6 90.9h.7M48.1 91.9h.7M57.7 90.2h.7M66.0 85.1h.7M53.0 95.2h.7M47.2 93.0h.7M54.1 90.4h.7M56.1 94.6h.7M41.6 91.9h.7M44.4 95.6h.7M56.2 91.0h.7M46.1 89.1h.7M55.2 83.2h.7M46.5 87.2h.7M52.8 89.0h.7M52.1 90.4h.7M53.4 92.1h.7M57.1 81.7h.7M46.9 98.5h.7M50.0 87.5h.7M43.1 93.5h.7M50.1 91.4h.7M49.9 91.3h.7M56.1 86.1h.7M54.9 89.9h.7M57.8 93.0h.7M50.0 88.8h.7M48.4 90.7h.7M48.1 86.5h.7M54.6 89.8h.7M46.1 92.1h.7M46.8 93.1h.7M53.3 91.4h.7M58.1 87.0h.7M45.8 86.5h.7M59.3 86.8h.7M51.5 92.8h.7M57.7 85.3h.7M57.4 90.6h.7M54.3 90.1h.7M50.4 88.3h.7M54.5 95.0h.7M40.4 89.3h.7M50.8 94.7h.7M50.2 90.7h.7M47.2 91.0h.7M49.2 91.7h.7M54.2 87.3h.7M44.5 90.0h.7M50.3 85.0h.7M42.7 88.9h.7M53.6 90.2h.7M46.4 93.5h.7M56.7 92.2h.7M54.5 89.3h.7M42.9 81.5h.7M57.0 102.0h.7M57.6 92.5h.7M48.8 81.6h.7M47.7 89.5h.7M58.6 91.7h.7M60.5 84.7h.7M59.9 90.2h.7M45.9 93.5h.7M50.6 95.4h.7M40.4 89.8h.7M62.2 92.0h.7M60.1 90.8h.7M56.7 97.8h.7M53.7 87.3h.7M43.1 95.4h.7M55.1 96.0h.7M52.0 85.6h.7M45.4 93.3h.7M59.5 88.7h.7M46.5 83.5h.7M52.4 85.0h.7M61.4 91.5h.7M53.2 75.8h.7M37.2 93.8h.7M54.9 92.9h.7M53.3 93.6h.7M54.0 86.9h.7M40.5 90.4h.7M55.7 82.4h.7M54.9 93.7h.7M60.1 85.6h.7M58.2 85.2h.7M54.3 92.0h.7M51.0 85.0h.7M59.3 85.7h.7M53.8 89.3h.7M60.8 94.4h.7M49.3 92.7h.7M39.8 93.5h.7M58.4 92.4h.7M51.9 89.7h.7M57.8 87.7h.7M48.0 82.6h.7M54.3 92.6h.7M37.1 83.6h.7M50.0 92.5h.7M50.7 88.5h.7M50.7 91.2h.7M48.5 96.9h.7M46.5 86.6h.7M46.2 89.2h.7M51.8 94.7h.7M54.1 90.9h.7M52.9 89.3h.7M47.6 91.8h.7M49.0 89.4h.7M54.6 84.8h.7M56.9 87.5h.7M53.2 85.7h.7M54.1 88.6h.7M51.0 85.2h.7M49.3 93.7h.7M57.7 95.3h.7M51.2 97.3h.7M49.8 83.4h.7M45.9 83.5h.7M52.9 86.3h.7M59.3 85.5h.7M56.3 94.7h.7M52.5 89.4h.7M57.3 89.4h.7M62.7 88.7h.7M39.4 90.8h.7M66.7 92.6h.7M53.9 87.0h.7M38.6 85.4h.7M47.6 83.7h.7M49.1 92.6h.7M48.5 85.7h.7M57.4 92.3h.7M40.7 93.2h.7M47.3 90.0h.7M61.0 88.5h.7M50.0 88.2h.7M57.8 87.0h.7M42.4 92.5h.7M51.4 93.5h.7M44.1 87.7h.7M57.7 94.0h.7M47.5 96.9h.7M55.4 88.3h.7M51.6 91.1h.7M46.3 86.0h.7M61.1 82.0h.7M60.0 92.6h.7M40.6 95.5h.7M48.2 82.0h.7M63.1 92.2h.7M55.9 84.9h.7M60.2 89.8h.7M56.9 92.2h.7M52.1 93.7h.7M46.0 88.0h.7M59.4 87.2h.7M56.5 100.4h.7M61.7 88.9h.7M61.0 93.6h.7M56.3 93.6h.7M58.5 94.9h.7M57.6 91.5h.7M55.4 84.9h.7M53.6 89.7h.7M61.6 89.4h.7M45.1 91.3h.7M53.4 91.5h.7M55.7 93.5h.7M54.1 97.8h.7M55.4 90.1h.7M49.4 83.5h.7M42.4 86.3h.7M44.0 85.7h.7M45.8 92.5h.7M52.8 99.6h.7M50.9 88.8h.7M49.7 93.3h.7M61.2 86.7h.7M46.9 92.4h.7M36.5 86.9h.7M44.6 92.1h.7M48.3 88.6h.7M51.3 83.1h.7M56.7 95.1h.7M50.3 93.7h.7M63.0 93.7h.7M52.9 95.0h.7M50.5 95.5h.7M55.6 89.5h.7M57.4 91.6h.7M43.8 80.0h.7M54.7 84.1h.7M54.9 87.0h.7M54.2 97.3h.7M60.8 88.0h.7M51.9 89.2h.7M59.5 90.7h.7M53.5 89.2h.7M53.8 87.9h.7M42.0 99.7h.7M53.2 91.6h.7M53.7 92.7h.7M42.5 91.2h.7M57.9 95.5h.7M66.3 94.6h.7M67.4 81.2h.7M54.1 86.5h.7M53.7 86.7h.7M45.6 89.7h.7M65.6 90.5h.7M47.3 95.1h.7M53.1 91.0h.7M48.3 82.7h.7M59.8 87.3h.7M45.9 89.4h.7M50.4 97.5h.7M55.4 87.7h.7M58.2 87.7h.7M53.1 86.5h.7M62.6 84.2h.7M54.9 93.0h.7M50.0 88.0h.7M58.5 87.0h.7M58.5 86.9h.7M47.8 88.9h.7M53.5 94.5h.7M58.1 89.0h.7M40.5 94.0h.7M49.8 94.5h.7M60.0 92.2h.7M54.8 99.2h.7M45.7 92.0h.7M50.3 90.3h.7M53.2 89.1h.7M39.9 92.4h.7M57.2 88.6h.7M53.6 90.9h.7M50.2 84.0h.7M50.8 86.8h.7M43.0 90.1h.7M57.6 99.3h.7M62.0 92.1h.7M61.4 85.8h.7M51.5 88.4h.7M46.0 92.9h.7M55.6 82.6h.7M52.5 81.1h.7M49.0 83.7h.7M58.2 91.2h.7M50.3 92.6h.7M52.8 85.9h.7M45.6 92.7h.7M45.7 91.5h.7M53.2 97.6h.7M44.1 91.4h.7M50.2 87.2h.7M57.8 92.8h.7M44.0 87.3h.7M49.0 91.3h.7M48.9 86.9h.7M39.9 89.6h.7M65.2 97.0h.7M70.1 89.6h.7M52.1 92.0h.7M54.2 90.5h.7M52.8 91.2h.7M39.2 87.6h.7M72.9 87.7h.7M51.5 96.0h.7M42.9 86.4h.7M57.9 89.4h.7M53.6 95.6h.7M53.1 90.6h.7M48.8 84.0h.7M66.3 78.4h.7M51.2 92.1h.7M46.6 91.1h.7M51.0 78.4h.7M52.7 98.0h.7M52.1 84.3h.7M40.3 87.7h.7M53.8 90.6h.7M47.9 95.3h.7M45.8 83.8h.7M51.0 87.5h.7M53.0 89.6h.7M44.5 85.5h.7M46.6 89.8h.7M53.0 98.0h.7M49.6 86.3h.7M54.2 87.1h.7M62.2 86.6h.7M53.7 96.4h.7M59.8 85.7h.7M43.7 92.2h.7M56.9 81.0h.7M49.4 89.7h.7M51.6 89.5h.7M54.2 92.2h.7M51.9 85.7h.7M53.3 93.7h.7M58.2 91.2h.7M50.1 88.2h.7M54.7 92.0h.7M41.6 89.4h.7M78.0 87.6h.7M59.2 84.6h.7M52.3 93.5h.7M56.6 92.3h.7M53.5 94.1h.7M49.7 87.6h.7M56.7 86.0h.7M50.8 89.2h.7M48.7 88.1h.7M45.8 97.3h.7M46.4 87.3h.7M51.3 88.1h.7M49.9 89.4h.7M47.2 92.9h.7M47.4 86.6h.7M58.7 88.2h.7M47.6 85.6h.7M54.0 92.5h.7M38.7 83.2h.7M53.7 92.3h.7M50.3 90.9h.7M51.9 92.6h.7M54.9 86.6h.7M62.3 92.9h.7M49.5 88.3h.7M66.1 98.8h.7M47.8 95.7h.7M59.4 88.7h.7M44.9 88.7h.7M48.8 87.4h.7M53.4 88.1h.7M43.9 92.9h.7M49.0 87.3h.7M37.4 92.8h.7M44.6 86.0h.7M53.7 89.6h.7M60.8 91.1h.7M56.0 97.4h.7M51.6 89.3h.7M57.2 89.1h.7M49.7 91.1h.7M61.6 82.1h.7M50.4 89.2h.7M43.5 93.6h.7M53.0 95.9h.7M47.8 91.6h.7M48.9 91.6h.7M54.6 96.9h.7M39.6 86.5h.7M47.3 95.5h.7M54.8 87.6h.7M48.6 85.9h.7M57.3 90.8h.7M46.6 84.3h.7M43.0 92.0h.7M53.0 89.1h.7M54.8 92.5h.7M44.9 92.0h.7M46.5 84.4h.7M53.4 84.3h.7M38.0 88.0h.7M55.0 92.6h.7M44.5 81.6h.7M50.9 89.0h.7M57.1 96.6h.7M56.7 86.3h.7M49.0 87.4h.7M40.8 86.7h.7M50.9 91.9h.7M55.7 85.4h.7M47.0 84.7h.7M65.3 94.8h.7M48.0 88.5h.7M68.6 89.3h.7M50.9 99.5h.7M50.7 86.5h.7M49.9 89.8h.7M44.2 89.8h.7M45.9 88.1h.7M50.6 90.3h.7M50.1 89.0h.7M40.6 84.5h.7M69.7 91.3h.7M51.0 89.7h.7M50.9 90.5h.7M48.3 97.0h.7M56.9 90.3h.7M46.0 86.8h.7M43.9 90.7h.7M55.4 103.3h.7M58.7 90.6h.7M50.3 92.4h.7M53.9 94.7h.7M48.0 88.0h.7M60.6 93.6h.7M46.6 91.6h.7M43.1 91.0h.7M53.2 83.3h.7M44.5 94.9h.7M51.4 89.2h.7M59.2 95.6h.7M43.5 86.1h.7M62.0 84.9h.7M51.1 94.4h.7M56.0 87.6h.7M63.9 95.7h.7M50.1 86.8h.7M45.4 87.4h.7M54.3 85.2h.7M44.7 94.8h.7M44.0 88.2h.7M52.9 94.8h.7M42.3 88.7h.7M42.3 88.1h.7M59.1 84.9h.7M55.8 91.8h.7M51.9 76.8h.7M52.9 96.0h.7M48.4 87.4h.7M67.4 97.9h.7M57.3 99.4h.7M54.6 90.1h.7M43.6 82.7h.7M43.1 91.2h.7M68.4 93.6h.7M50.4 85.2h.7M48.8 92.5h.7M45.2 85.8h.7M61.0 94.0h.7M57.0 95.9h.7M49.7 98.4h.7M47.6 88.4h.7M56.3 85.8h.7M59.5 90.9h.7M46.8 85.5h.7M54.3 90.6h.7M54.3 84.6h.7M53.5 88.7h.7M60.3 85.4h.7M48.0 92.0h.7M51.2 94.4h.7M48.9 87.8h.7M49.4 88.0h.7M59.3 86.6h.7M58.5 92.6h.7M49.6 86.0h.7M50.7 88.8h.7M50.5 92.6h.7M59.9 95.3h.7M50.6 95.1h.7M45.9 87.6h.7M65.4 87.4h.7M63.5 89.4h.7M41.2 97.8h.7M43.6 86.0h.7M52.4 85.2h.7M63.5 87.4h.7M64.2 90.1h.7M38.5 87.8h.7M59.8 85.5h.7M53.5 87.6h.7M61.0 92.8h.7M56.7 93.0h.7M59.3 93.5h.7M58.2 80.7h.7M57.0 88.6h.7M62.9 91.7h.7M57.3 88.7h.7M44.4 89.2h.7M55.3 91.1h.7M49.3 84.5h.7M50.8 84.7h.7M56.0 94.4h.7M52.5 93.9h.7M47.8 93.8h.7M60.8 83.5h.7M38.8 85.9h.7M49.8 81.4h.7M52.9 87.8h.7M46.7 78.3h.7M40.1 95.2h.7M55.2 97.3h.7M47.9 85.7h.7M48.0 78.8h.7M41.5 84.4h.7M51.4 88.2h.7M44.5 91.3h.7M44.9 86.1h.7M63.4 84.8h.7M52.5 89.2h.7M63.3 86.8h.7M52.9 96.7h.7M50.5 91.1h.7M59.3 89.7h.7M54.0 94.0h.7M44.6 92.5h.7M49.7 103.3h.7M55.7 86.0h.7M51.8 88.5h.7M58.8 89.1h.7M49.8 90.6h.7M62.3 89.7h.7M59.4 89.3h.7M54.8 85.6h.7M53.7 86.2h.7M60.1 94.4h.7M60.9 93.4h.7M57.2 90.9h.7M41.8 89.5h.7M62.7 85.5h.7M51.9 88.3h.7M50.7 92.7h.7M60.8 84.7h.7M69.0 89.7h.7M56.6 85.2h.7M49.6 97.6h.7M55.6 97.0h.7M53.4 92.4h.7M43.4 91.9h.7M50.5 91.2h.7M55.5 92.5h.7M43.4 85.7h.7M39.8 93.2h.7M58.0 91.4h.7M58.0 79.7h.7M50.0 89.0h.7M71.6 95.5h.7M51.5 88.2h.7M50.2 91.4h.7M49.4 91.8h.7M58.7 96.6h.7M58.2 93.1h.7M56.6 98.3h.7M64.0 96.3h.7M61.4 96.2h.7M58.7 87.3h.7M55.1 87.3h.7M55.7 94.7h.7M54.9 89.4h.7M53.8 89.2h.7M53.8 98.5h.7M62.0 77.4h.7M54.7 88.9h.7M53.2 96.8h.7M69.1 101.1h.7M56.9 92.2h.7M54.9 94.3h.7M55.3 93.4h.7M43.8 81.2h.7M52.9 95.5h.7M57.1 90.3h.7M54.2 97.3h.7M56.4 88.7h.7M47.9 92.0h.7M64.3 92.3h.7M44.6 88.5h.7M52.5 82.5h.7M53.0 87.8h.7M48.2 83.6h.7M53.7 90.8h.7M57.4 92.1h.7M65.7 92.7h.7M61.1 93.7h.7M55.7 87.1h.7M58.7 89.9h.7M54.1 83.8h.7M53.8 92.4h.7M41.0 89.7h.7M51.2 84.6h.7M51.4 91.7h.7M55.8 87.3h.7M51.8 88.0h.7M54.8 97.1h.7M44.4 87.4h.7M48.5 91.0h.7M56.3 88.2h.7M39.4 92.3h.7M38.1 92.2h.7M56.9 90.5h.7M49.0 92.3h.7M54.4 90.2h.7M57.0 93.2h.7M57.6 92.4h.7M54.0 86.1h.7M57.2 90.7h.7M56.7 81.3h.7M65.5 85.1h.7M58.2 89.0h.7M49.9 93.8h.7M48.5 93.4h.7M37.3 96.6h.7M49.4 88.9h.7M61.3 86.4h.7M51.0 90.5h.7M61.6 94.3h.7M48.1 98.6h.7M57.1 91.2h.7M55.3 88.7h.7M60.3 91.1h.7M54.8 86.8h.7M52.6 81.9h.7M55.5 92.6h.7M57.9 93.2h.7M52.6 91.1h.7M57.9 88.9h.7M51.4 91.5h.7M49.9 95.1h.7M53.4 89.4h.7M54.8 93.1h.7M61.9 83.8h.7M55.1 86.5h.7M53.2 92.4h.7M52.1 89.6h.7M42.4 85.9h.7M39.9 89.5h.7M54.7 92.9h.7M48.3 94.7h.7M61.2 95.1h.7M53.9 88.4h.7M43.7 87.4h.7M67.0 78.7h.7M51.9 95.0h.7M50.1 87.9h.7M54.7 87.1h.7M53.3 95.2h.7M52.2 85.9h.7M40.4 92.9h.7M41.2 87.1h.7M47.2 93.5h.7M54.7 87.8h.7M58.1 93.1h.7M46.1 89.8h.7M58.8 87.3h.7M58.1 95.3h.7M54.2 93.1h.7M56.4 85.6h.7M52.2 88.5h.7M57.1 94.1h.7M49.1 92.8h.7M48.5 95.2h.7M54.9 91.1h.7M52.6 80.2h.7M53.4 94.7h.7M56.4 87.2h.7M61.6 87.3h.7M44.1 93.5h.7M57.9 82.5h.7M61.7 87.2h.7M61.4 94.6h.7M50.1 90.3h.7M50.8 94.3h.7M49.0 99.0h.7M64.2 94.9h.7M54.6 94.6h.7M47.9 87.6h.7M55.8 89.4h.7M49.6 91.6h.7M57.4 89.5h.7M53.0 91.9h.7M49.6 92.7h.7M52.0 92.8h.7M56.7 93.9h.7M56.5 87.5h.7M53.6 93.5h.7M57.7 88.8h.7M53.1 91.4h.7M50.7 96.2h.7M45.9 80.1h.7M41.9 84.0h.7M41.5 94.2h.7M47.9 85.4h.7M58.1 93.2h.7M50.0 93.6h.7M60.8 87.9h.7M58.2 88.6h.7M65.4 90.4h.7M56.1 85.2h.7M46.0 85.3h.7M59.0 90.9h.7M55.2 92.2h.7M45.7 87.3h.7M61.9 81.5h.7M58.8 94.7h.7M46.0 90.3h.7M45.4 88.9h.7M51.1 90.4h.7M54.1 96.6h.7M42.0 88.8h.7M53.8 84.6h.7M49.0 89.3h.7M58.7 88.3h.7M48.4 92.8h.7M58.4 86.6h.7M56.3 90.7h.7M48.5 92.0h.7M57.2 92.5h.7M48.1 97.2h.7M54.6 95.7h.7M53.2 100.3h.7M61.3 89.9h.7M44.9 88.7h.7M59.9 86.8h.7M52.9 88.0h.7M45.6 87.4h.7M52.0 94.7h.7M56.1 97.9h.7M49.1 86.5h.7M64.2 88.2h.7M62.7 92.4h.7M64.4 93.5h.7M49.9 84.5h.7M42.6 90.9h.7M50.5 91.1h.7M46.2 95.2h.7M49.4 85.0h.7M49.3 93.3h.7M50.9 90.2h.7M51.2 89.9h.7M57.8 87.1h.7M50.0 86.8h.7M45.3 87.2h.7M40.6 83.4h.7M58.0 94.1h.7M50.6 89.5h.7M55.1 93.7h.7M66.3 93.7h.7M66.3 84.6h.7M59.9 91.9h.7M60.9 88.0h.7M61.6 91.6h.7M59.5 87.4h.7M42.1 91.5h.7M59.0 88.1h.7M49.9 94.1h.7M62.6 91.8h.7M47.5 89.0h.7M61.2 94.7h.7M49.5 91.5h.7M53.7 85.6h.7M53.9 89.3h.7M45.6 87.2h.7M54.6 92.4h.7M52.6 96.6h.7M41.8 83.5h.7M53.0 93.6h.7M52.6 87.8h.7M42.7 96.3h.7M70.8 92.1h.7M59.0 93.6h.7M45.4 90.3h.7M56.4 88.2h.7M55.1 92.1h.7M58.6 91.7h.7M45.5 90.7h.7M49.3 95.5h.7M55.4 98.2h.7M54.9 91.6h.7M40.1 99.2h.7M57.1 85.1h.7M44.1 96.5h.7M59.4 96.0h.7M50.1 84.8h.7M61.6 92.4h.7M45.4 87.7h.7M53.4 94.5h.7M53.4 97.1h.7M56.0 95.1h.7M50.9 89.5h.7M55.8 88.5h.7M60.3 93.1h.7M51.2 90.8h.7M55.6 90.6h.7M59.2 95.8h.7M48.2 92.2h.7M63.1 82.4h.7M48.0 90.9h.7M62.3 95.3h.7M60.4 97.1h.7M63.4 94.6h.7M59.2 88.6h.7M48.5 86.8h.7M59.3 88.1h.7M53.6 91.3h.7M49.8 95.8h.7M59.1 100.1h.7M52.9 89.4h.7M60.0 89.5h.7M45.4 89.0h.7M51.2 89.9h.7M57.9 90.8h.7M54.4 87.0h.7M57.5 89.2h.7M39.2 84.1h.7M42.6 104.7h.7M51.5 87.8h.7M54.4 92.7h.7M52.2 89.4h.7M60.3 89.3h.7M52.8 88.8h.7M51.6 79.5h.7M56.8 90.1h.7M55.9 90.6h.7M48.2 96.1h.7M48.4 90.9h.7M50.3 83.2h.7M55.8 85.9h.7M51.8 94.0h.7M49.9 94.4h.7M56.8 89.3h.7M54.9 88.0h.7M49.6 93.2h.7M43.8 94.4h.7M52.2 95.7h.7M60.6 92.1h.7M64.2 91.4h.7M58.1 89.5h.7M58.6 83.0h.7M54.9 86.1h.7M55.9 87.6h.7M42.5 96.1h.7M68.8 79.5h.7M54.1 98.9h.7M63.0 90.3h.7M50.0 81.8h.7M47.4 84.5h.7M45.7 88.0h.7M46.3 94.5h.7M46.6 95.8h.7M50.2 92.0h.7M58.7 100.0h.7M48.8 93.7h.7M43.7 90.1h.7M58.4 89.1h.7M50.8 92.6h.7M57.4 90.4h.7M43.8 91.9h.7M44.3 89.8h.7M52.2 93.8h.7M64.7 92.4h.7M57.0 87.6h.7M50.0 96.6h.7M57.2 88.0h.7M50.6 95.5h.7M45.7 90.6h.7M48.7 95.3h.7M49.5 85.1h.7M50.5 90.6h.7M51.1 96.4h.7M59.3 97.5h.7M49.4 96.9h.7M54.3 88.9h.7M48.9 88.2h.7M56.2 92.7h.7M39.8 85.8h.7M59.4 90.8h.7M39.0 80.1h.7M38.5 90.8h.7M49.0 85.5h.7M60.4 93.1h.7M60.2 83.7h.7M51.6 96.8h.7M64.0 88.6h.7M51.4 93.6h.7M52.7 85.6h.7M49.8 92.0h.7M44.0 87.1h.7M52.7 87.0h.7M55.5 97.1h.7M48.9 91.3h.7M59.3 102.3h.7M54.4 79.2h.7M55.5 86.9h.7M58.4 86.8h.7M56.9 91.8h.7M49.0 89.6h.7M49.6 88.6h.7M49.5 92.1h.7M55.4 95.4h.7M51.1 91.3h.7M47.9 85.7h.7M50.3 91.2h.7M60.6 88.4h.7M62.9 90.8h.7M45.9 95.3h.7M55.5 87.6h.7M48.9 88.7h.7M44.2 92.7h.7M48.9 89.8h.7M46.0 85.8h.7M41.9 89.5h.7M55.7 82.9h.7M76.7 89.9h.7M63.3 94.6h.7M47.5 88.9h.7M65.0 91.3h.7M43.0 83.1h.7M51.8 87.4h.7M50.6 80.8h.7M60.2 90.1h.7M59.4 91.9h.7M50.7 87.3h.7M46.8 90.5h.7M64.4 86.9h.7M47.7 86.8h.7M56.0 90.8h.7M51.7 82.9h.7M51.0 87.9h.7M53.2 88.2h.7M53.4 92.0h.7M58.0 93.4h.7M50.8 80.6h.7M57.6 97.9h.7M52.2 85.2h.7M51.9 82.7h.7M51.4 88.7h.7M49.7 87.6h.7M63.0 93.0h.7M43.1 86.4h.7M58.3 93.5h.7M48.4 89.7h.7M52.1 91.9h.7M45.3 85.2h.7M57.8 89.3h.7M54.2 83.9h.7M53.9 93.3h.7M57.4 87.8h.7M54.1 96.0h.7M40.1 83.8h.7M56.8 95.0h.7M45.3 85.3h.7M54.3 92.5h.7M44.3 86.4h.7M35.8 81.2h.7M48.4 94.6h.7M52.9 82.8h.7M60.3 92.8h.7M49.7 90.6h.7M48.0 88.5h.7M48.9 93.6h.7M53.5 89.8h.7M58.9 81.8h.7M51.6 92.0h.7M54.4 95.3h.7M56.4 97.1h.7M53.7 94.4h.7M54.0 88.5h.7M61.2 91.5h.7M50.3 90.4h.7M51.3 90.2h.7M53.2 87.9h.7M47.1 89.6h.7M38.1 90.5h.7M48.6 90.9h.7M51.5 86.6h.7M42.4 99.9h.7M47.8 91.4h.7M51.0 88.0h.7M51.3 93.6h.7M46.0 85.7h.7M52.1 82.1h.7M61.8 91.3h.7M49.2 90.4h.7M54.7 97.3h.7M44.1 90.9h.7M45.4 86.6h.7M49.5 81.7h.7M49.8 92.6h.7M51.5 90.7h.7M48.5 88.8h.7M43.8 93.9h.7M53.3 86.9h.7M62.2 89.9h.7M63.0 80.9h.7M46.0 93.3h.7M50.0 89.3h.7M45.0 96.3h.7M55.5 93.6h.7M54.8 93.2h.7M51.5 82.0h.7M49.9 94.4h.7M44.3 93.2h.7M50.1 93.1h.7M53.7 89.9h.7M53.8 98.0h.7M59.6 93.6h.7M58.2 86.2h.7M49.9 91.5h.7M51.2 91.7h.7M52.7 84.3h.7M58.7 87.1h.7M44.2 93.1h.7M57.0 94.6h.7M60.6 87.4h.7M68.3 95.4h.7M53.5 87.5h.7M58.5 85.2h.7M45.6 91.5h.7M51.4 83.6h.7M55.9 88.9h.7M58.0 92.8h.7M51.4 90.9h.7M50.4 98.6h.7M60.6 89.4h.7M35.2 77.6h.7M49.1 92.4h.7M52.4 85.3h.7M55.1 86.6h.7M56.2 85.7h.7M59.9 88.5h.7M40.6 88.4h.7M46.0 91.3h.7M50.2 87.8h.7M54.4 86.2h.7M56.1 82.1h.7M58.6 87.6h.7M63.1 96.5h.7M55.1 87.8h.7M45.4 83.1h.7M60.9 86.4h.7M52.5 90.2h.7M57.8 81.7h.7M36.9 85.5h.7M56.0 95.9h.7M45.3 97.0h.7M60.2 95.5h.7M54.8 90.2h.7M58.7 94.6h.7M62.2 90.8h.7M35.6 93.8h.7M61.3 87.1h.7M61.9 94.1h.7M61.2 89.9h.7M53.9 91.5h.7M59.5 89.7h.7M56.2 83.9h.7M53.3 91.4h.7M58.6 89.5h.7M50.8 85.5h.7M43.3 84.5h.7M49.6 91.4h.7M43.9 97.1h.7M51.2 89.4h.7M60.2 88.0h.7M52.8 84.6h.7M48.2 82.6h.7M46.1 93.4h.7M39.6 85.6h.7M40.2 90.1h.7M55.4 90.7h.7M48.2 84.9h.7M42.1 87.6h.7M50.7 94.1h.7M42.3 101.5h.7M36.8 98.1h.7M49.2 89.3h.7M53.4 92.4h.7M53.2 90.2h.7M51.9 80.4h.7M53.2 91.8h.7M47.9 91.2h.7M49.0 87.2h.7M42.4 93.1h.7M50.3 97.3h.7M44.3 91.3h.7M59.2 96.9h.7M51.4 84.0h.7M55.4 87.9h.7M50.2 87.3h.7M67.3 86.4h.7M52.1 86.6h.7M45.5 101.8h.7M57.7 87.1h.7M53.0 92.2h.7M67.5 86.5h.7M50.3 92.2h.7M53.3 92.5h.7M50.9 86.4h.7M65.2 89.0h.7M46.9 94.8h.7M50.4 94.1h.7M54.5 92.3h.7M54.9 93.4h.7M61.9 92.3h.7M50.9 90.9h.7M59.0 96.3h.7M39.6 88.1h.7M51.4 95.1h.7M51.1 82.4h.7M51.0 96.7h.7M46.6 90.9h.7M65.4 90.5h.7M41.1 77.1h.7M45.7 88.4h.7M41.0 86.5h.7M36.5 94.4h.7M39.4 91.9h.7M54.6 88.5h.7M53.7 86.5h.7M69.8 89.4h.7M47.5 91.8h.7M65.8 92.3h.7M48.1 93.9h.7M59.8 85.1h.7M61.9 89.5h.7M48.6 88.2h.7M45.5 86.0h.7M43.3 88.4h.7M45.0 90.5h.7M53.0 92.4h.7M47.9 83.6h.7M58.7 89.1h.7M51.3 86.5h.7M46.6 93.7h.7M57.3 86.1h.7M56.0 85.4h.7M38.1 87.1h.7M52.7 94.8h.7M52.6 90.0h.7M55.2 93.0h.7M55.6 90.5h.7M58.7 84.4h.7M45.9 93.3h.7M47.6 93.7h.7M63.2 97.5h.7M60.5 92.5h.7M62.6 91.8h.7M53.4 84.1h.7M43.0 92.4h.7M56.8 91.0h.7M61.4 88.5h.7M59.3 89.7h.7M44.6 82.5h.7M56.8 86.2h.7M58.1 86.5h.7M39.8 94.5h.7M50.3 90.5h.7M54.6 90.6h.7M48.9 89.8h.7M44.2 95.5h.7M48.0 92.8h.7M55.1 90.3h.7M54.9 87.1h.7M52.2 85.1h.7M54.7 95.6h.7M50.6 93.9h.7M54.3 88.9h.7M55.5 91.9h.7M58.5 88.1h.7M56.0 91.8h.7M66.7 88.4h.7M62.6 93.6h.7M55.8 95.8h.7M65.0 84.5h.7M44.7 82.4h.7M53.2 93.6h.7M55.0 91.5h.7M55.1 97.4h.7M57.3 94.9h.7M58.8 89.7h.7M52.2 91.9h.7M53.4 93.7h.7M44.8 91.4h.7M55.0 90.7h.7M64.1 95.0h.7M53.8 89.9h.7M40.0 92.6h.7M55.4 84.9h.7M55.3 85.5h.7M66.1 86.1h.7M52.4 84.1h.7M54.2 89.5h.7M52.9 92.9h.7M53.4 94.7h.7M60.1 88.9h.7M49.3 89.8h.7M41.4 91.7h.7M53.6 81.4h.7M64.1 86.8h.7M53.2 93.7h.7M61.1 92.9h.7M42.9 89.3h.7M51.1 94.2h.7M51.7 85.9h.7M63.4 92.5h.7M63.0 87.3h.7M42.3 98.7h.7M53.8 83.8h.7M65.5 91.2h.7M49.0 87.0h.7M50.9 98.8h.7M55.0 91.6h.7M51.6 78.6h.7M49.9 82.0h.7M56.2 93.3h.7M58.9 92.9h.7M45.1 89.6h.7M56.5 92.9h.7M80.8 82.7h.7M74.0 87.2h.7M74.8 85.3h.7M78.2 96.1h.7M68.7 92.5h.7M73.0 86.8h.7M83.5 90.6h.7M68.0 86.7h.7M79.2 94.1h.7M70.2 95.5h.7M74.8 85.3h.7M61.8 94.3h.7M75.5 91.8h.7M70.7 90.1h.7M85.1 86.9h.7M61.2 88.7h.7M66.6 92.3h.7M71.6 88.2h.7M72.1 88.8h.7M65.0 86.1h.7M69.4 93.5h.7M70.7 88.2h.7M67.7 95.3h.7M75.7 91.7h.7M59.6 96.8h.7M75.9 99.7h.7M65.1 85.9h.7M75.1 93.7h.7M68.8 89.8h.7M59.3 86.9h.7M76.4 88.3h.7M69.4 89.3h.7M56.8 91.0h.7M66.5 90.4h.7M70.4 95.1h.7M81.9 92.0h.7M67.7 85.8h.7M68.5 90.9h.7M81.6 95.3h.7M74.4 87.8h.7M84.3 97.0h.7M65.8 95.0h.7M78.4 86.3h.7M74.3 88.8h.7M76.3 96.9h.7M69.1 96.6h.7M74.2 92.4h.7M73.4 93.9h.7M63.0 85.2h.7M78.1 97.6h.7M74.0 90.8h.7M79.1 95.3h.7M69.6 93.1h.7M71.3 97.8h.7M77.0 91.3h.7M74.8 89.0h.7M65.6 91.0h.7M79.4 96.3h.7M74.2 95.9h.7M75.4 89.6h.7M53.3 96.0h.7M70.8 91.0h.7M72.3 97.4h.7M79.1 86.9h.7M69.6 81.2h.7M80.7 96.7h.7M73.8 90.5h.7M69.6 99.1h.7M62.3 83.9h.7M71.0 84.8h.7M81.7 88.4h.7M69.9 99.0h.7M62.2 87.6h.7M67.5 88.6h.7M77.7 87.5h.7M68.7 84.6h.7M69.8 82.5h.7M65.7 93.2h.7M73.2 90.9h.7M76.3 83.9h.7M68.6 91.1h.7M69.6 92.9h.7M63.2 88.9h.7M68.1 88.3h.7M76.6 90.6h.7M71.8 85.9h.7M75.3 93.1h.7M64.8 93.7h.7M80.0 92.3h.7M68.7 85.4h.7M69.6 96.4h.7M77.3 88.2h.7M78.9 81.2h.7M64.8 92.9h.7M75.2 89.7h.7M61.4 87.4h.7M74.4 97.5h.7M72.4 96.6h.7M66.3 89.6h.7M71.0 89.4h.7M71.5 88.5h.7M85.0 84.5h.7M78.3 87.9h.7M67.8 91.7h.7M74.5 85.1h.7M72.8 88.2h.7M73.4 94.0h.7M70.8 93.3h.7M76.6 97.8h.7M71.8 82.1h.7M70.5 92.6h.7M76.2 90.0h.7M62.8 96.5h.7M69.8 92.5h.7M65.3 86.6h.7M65.8 80.8h.7M75.3 93.8h.7M67.2 86.3h.7M68.5 81.9h.7M58.8 93.1h.7M69.1 83.8h.7M72.1 88.0h.7M73.7 91.8h.7M78.7 88.3h.7M70.5 96.7h.7M74.3 86.9h.7M69.8 95.5h.7M59.7 93.9h.7M78.6 91.8h.7M73.6 97.9h.7M75.9 99.8h.7M80.4 88.0h.7M65.4 87.8h.7M71.9 88.1h.7M72.1 92.5h.7M66.8 90.0h.7M73.1 94.6h.7M59.7 91.6h.7M65.4 90.4h.7M69.8 95.4h.7M75.3 89.3h.7M78.5 93.8h.7M66.5 95.9h.7M75.2 87.1h.7M78.3 99.0h.7M71.3 94.2h.7M68.1 90.2h.7M71.7 84.3h.7M69.2 88.5h.7M69.3 90.3h.7M73.6 91.8h.7M74.6 92.0h.7M72.0 93.2h.7M69.4 91.3h.7M76.5 87.8h.7M88.5 97.9h.7M80.1 92.1h.7M72.8 88.4h.7M75.4 85.7h.7M71.2 91.3h.7M72.2 94.7h.7M72.4 90.1h.7M73.9 88.0h.7M70.6 83.5h.7M84.5 88.0h.7M73.2 93.2h.7M76.9 89.3h.7M72.8 93.7h.7M81.2 88.5h.7M63.2 90.6h.7M70.0 90.0h.7M75.3 87.6h.7M64.1 88.0h.7M64.1 89.6h.7M69.0 85.9h.7M77.9 87.3h.7M79.8 98.4h.7M76.7 93.4h.7M68.8 84.3h.7M77.7 89.4h.7M61.2 89.1h.7M74.7 86.9h.7M77.5 95.8h.7M71.9 92.5h.7M77.9 93.0h.7M82.6 93.4h.7M70.5 93.9h.7M67.6 94.8h.7M80.9 99.8h.7M71.5 90.6h.7M72.5 96.7h.7M69.1 94.1h.7M73.6 87.8h.7M84.1 89.5h.7M81.8 91.7h.7M66.7 89.5h.7M69.3 95.8h.7M80.1 88.3h.7M80.4 93.6h.7M83.5 96.9h.7M79.0 90.1h.7M77.4 95.9h.7M73.0 97.1h.7M83.2 96.2h.7M72.5 92.7h.7M64.0 93.2h.7M78.5 91.1h.7M80.5 97.0h.7M64.1 89.2h.7M68.6 88.7h.7M74.0 97.4h.7M76.6 90.1h.7M81.2 88.2h.7M69.8 93.6h.7M69.3 93.1h.7M80.2 94.3h.7M87.3 89.3h.7M72.2 89.3h.7M69.5 95.8h.7M73.8 93.5h.7M60.0 87.7h.7M67.7 91.5h.7M76.3 89.5h.7M65.0 96.5h.7M69.2 91.9h.7M73.9 99.5h.7M72.5 87.7h.7M76.2 87.4h.7M74.3 91.9h.7M77.6 87.5h.7M71.4 95.5h.7M70.3 95.1h.7M82.4 95.7h.7M71.3 85.6h.7M69.6 83.1h.7M72.0 83.8h.7M68.2 94.2h.7M73.5 98.8h.7M73.4 94.5h.7M72.2 97.8h.7M62.5 95.1h.7M69.5 90.6h.7M62.3 86.7h.7M75.4 91.3h.7M66.5 89.8h.7M71.3 88.1h.7M67.5 86.2h.7M69.7 94.2h.7M76.1 93.2h.7M75.0 97.5h.7M85.6 90.1h.7M70.4 97.3h.7M67.2 87.5h.7M79.8 87.3h.7M73.8 90.0h.7M73.0 97.3h.7M63.9 87.6h.7M80.0 95.5h.7M65.5 90.3h.7M81.7 94.8h.7M76.7 87.0h.7M75.8 93.6h.7M66.5 97.9h.7M77.3 88.1h.7M71.3 86.6h.7M73.7 91.8h.7M71.6 88.5h.7M60.6 93.0h.7M72.7 91.9h.7M66.6 92.1h.7M66.0 88.8h.7M68.1 92.0h.7M72.5 91.8h.7M75.1 88.5h.7M74.2 96.8h.7M64.6 95.4h.7M69.5 97.8h.7M74.8 90.4h.7M74.0 96.0h.7M71.7 92.0h.7M75.8 91.4h.7M70.2 94.8h.7M70.7 95.6h.7M77.4 90.1h.7M71.6 90.3h.7M71.3 82.2h.7M65.6 85.0h.7M86.2 87.8h.7M74.3 83.3h.7M78.3 93.9h.7M66.8 88.6h.7M71.4 85.0h.7M67.0 95.2h.7M77.9 93.3h.7M77.2 95.4h.7M69.2 90.1h.7M72.5 89.5h.7M71.0 101.8h.7M71.8 89.3h.7M72.3 98.7h.7M69.8 95.5h.7M70.7 90.7h.7M73.1 97.5h.7M68.2 91.6h.7M81.5 91.4h.7M73.6 85.6h.7M68.1 93.2h.7M71.2 92.8h.7M75.9 86.5h.7M67.2 89.4h.7M67.8 94.9h.7M61.3 86.4h.7M72.9 88.5h.7M73.6 94.5h.7M68.1 93.7h.7M66.2 89.6h.7M74.7 94.5h.7M58.0 98.2h.7M77.9 88.6h.7M72.0 94.2h.7M75.4 93.9h.7M73.0 90.7h.7M76.2 97.9h.7M77.5 90.0h.7M66.1 95.2h.7M79.6 93.1h.7M74.5 93.2h.7M64.1 89.8h.7M67.0 89.8h.7M70.5 96.0h.7M75.4 100.2h.7M71.0 94.7h.7M80.2 85.1h.7M75.6 88.0h.7M72.6 93.7h.7M82.9 90.8h.7M72.0 90.0h.7M76.9 90.7h.7M79.9 95.0h.7M65.6 94.3h.7M71.8 92.0h.7M65.1 88.2h.7M75.5 86.9h.7M63.5 97.0h.7M78.4 96.3h.7M75.4 91.3h.7M66.9 86.9h.7M71.1 86.7h.7M64.9 90.5h.7M69.7 90.2h.7M74.2 89.2h.7M80.7 98.7h.7M80.1 98.1h.7M78.3 82.3h.7M70.4 101.5h.7M78.1 86.1h.7M64.8 90.0h.7M70.8 99.5h.7M77.1 78.1h.7M70.6 86.0h.7M74.0 91.1h.7M69.9 85.2h.7M82.3 90.3h.7M71.2 94.2h.7M73.2 87.5h.7M70.9 92.3h.7M72.8 94.2h.7M72.4 94.3h.7M70.7 93.6h.7M73.7 93.5h.7M74.4 84.5h.7M76.7 90.2h.7M70.9 88.3h.7M74.9 91.9h.7M75.1 90.8h.7M69.7 89.7h.7M68.1 81.1h.7M60.9 91.4h.7M64.7 93.1h.7M65.6 87.4h.7M70.7 87.9h.7M63.6 99.0h.7M77.6 94.2h.7M76.8 93.5h.7M77.9 92.1h.7M64.3 93.2h.7M76.5 89.4h.7M63.9 87.8h.7M69.6 96.7h.7M74.1 92.6h.7M61.6 87.7h.7M75.3 89.8h.7M64.9 100.1h.7M75.8 86.4h.7M79.5 93.2h.7M70.7 80.5h.7M76.1 89.3h.7M68.3 84.8h.7M81.0 96.6h.7M67.0 81.8h.7M62.2 92.3h.7M73.8 84.6h.7M78.7 92.8h.7M78.8 95.9h.7M82.0 90.3h.7M79.3 99.1h.7M79.0 85.6h.7M76.0 87.6h.7M73.0 93.1h.7M75.1 92.3h.7M73.0 93.1h.7M71.1 85.0h.7M75.3 94.2h.7M75.5 90.4h.7M72.0 90.4h.7M72.6 87.9h.7M70.9 97.1h.7M75.8 83.4h.7M65.8 91.5h.7M77.8 88.8h.7M76.1 97.2h.7M80.3 101.9h.7M73.2 92.0h.7M78.2 94.4h.7M82.6 82.6h.7M77.8 84.0h.7M80.6 91.8h.7M63.5 88.0h.7M83.3 93.0h.7M72.9 92.6h.7M75.6 89.6h.7M60.6 95.1h.7M62.9 87.3h.7M64.8 87.5h.7M66.2 88.3h.7M68.4 91.6h.7M81.1 86.1h.7M69.3 85.2h.7M64.3 91.4h.7M73.5 98.1h.7M57.2 84.0h.7M71.8 101.7h.7M60.5 94.9h.7M71.6 82.9h.7M80.0 92.8h.7M78.3 86.1h.7M71.5 91.1h.7M69.5 86.6h.7M81.0 96.5h.7M68.3 88.9h.7M80.1 89.2h.7M77.5 88.5h.7M64.4 92.3h.7M73.9 87.0h.7M80.9 88.9h.7M67.3 95.1h.7M72.6 90.3h.7M69.2 94.2h.7M75.2 93.3h.7M64.6 92.9h.7M78.4 91.9h.7M75.0 94.8h.7M69.6 86.0h.7M70.2 84.5h.7M73.5 89.7h.7M77.5 95.5h.7M79.1 91.2h.7M64.2 78.2h.7M84.8 82.9h.7M68.8 96.2h.7M70.4 93.4h.7M71.3 85.1h.7M70.7 90.4h.7M75.6 89.6h.7M74.1 83.4h.7M69.1 93.1h.7M72.2 90.5h.7M67.7 79.6h.7M69.1 92.9h.7M76.8 85.2h.7M70.3 88.6h.7M67.6 101.7h.7M77.4 99.8h.7M69.0 95.0h.7M77.4 84.2h.7M66.4 95.2h.7M73.9 87.2h.7M69.0 85.0h.7M67.5 86.4h.7M69.8 92.6h.7M71.3 93.4h.7M54.1 96.4h.7M80.6 87.7h.7M71.7 95.4h.7M77.2 94.8h.7M80.4 93.6h.7M68.0 91.8h.7M66.1 97.6h.7M70.9 87.1h.7M71.7 96.2h.7M80.1 88.5h.7M79.1 94.8h.7M76.0 88.5h.7M75.6 86.7h.7M68.9 90.9h.7M76.8 88.7h.7M79.6 88.2h.7M82.0 92.2h.7M65.0 97.7h.7M69.1 88.4h.7M70.4 89.5h.7M74.9 87.2h.7M74.4 85.8h.7M71.8 86.1h.7M78.3 94.2h.7M65.2 101.1h.7M67.8 89.7h.7M71.6 90.9h.7M81.7 87.0h.7M74.5 91.9h.7M78.3 95.6h.7M77.4 89.8h.7M76.0 86.4h.7M77.3 88.4h.7M79.9 97.5h.7M69.8 88.1h.7M68.6 86.6h.7M61.7 83.6h.7M67.7 99.8h.7M72.2 97.6h.7M75.1 92.9h.7M74.8 93.1h.7M69.4 98.1h.7M71.9 88.2h.7M65.7 85.9h.7M67.6 97.5h.7M65.1 92.8h.7M64.7 92.3h.7M65.8 94.6h.7M66.3 88.1h.7M78.0 81.6h.7M70.5 96.0h.7M69.5 95.0h.7M75.5 78.4h.7M63.4 88.7h.7M67.7 94.6h.7M92.2 100.4h.7M75.7 89.6h.7M76.3 90.6h.7M73.0 92.3h.7M80.3 91.6h.7M75.7 90.2h.7M75.5 100.7h.7M73.3 91.5h.7M78.2 84.7h.7M78.2 86.0h.7M81.0 87.9h.7M84.3 94.0h.7M72.2 89.0h.7M70.7 86.4h.7M82.2 93.4h.7M69.8 93.6h.7M59.8 91.7h.7M68.6 94.8h.7M76.3 86.4h.7M85.6 94.2h.7M73.0 86.8h.7M74.1 94.0h.7M72.9 98.6h.7M74.0 97.4h.7M84.1 85.4h.7M78.2 86.4h.7M76.0 90.9h.7M81.1 89.2h.7M77.3 88.5h.7M66.1 87.2h.7M67.5 96.8h.7M65.0 87.0h.7M75.8 95.9h.7M72.8 91.7h.7M66.7 92.2h.7M76.4 99.8h.7M79.4 94.3h.7M70.2 96.9h.7M73.2 89.2h.7M80.3 90.6h.7M68.3 86.0h.7M70.3 90.3h.7M69.9 91.2h.7M71.8 86.8h.7M81.5 92.6h.7M58.9 95.0h.7M77.5 90.7h.7M73.7 85.5h.7M75.4 93.4h.7M65.7 93.7h.7M76.1 93.8h.7M70.1 91.9h.7M68.3 84.9h.7M76.3 87.2h.7M75.2 86.3h.7M61.9 93.9h.7M80.9 87.2h.7M78.2 95.4h.7M76.0 93.7h.7M73.3 90.8h.7M67.7 83.9h.7M74.0 86.4h.7M70.8 88.6h.7M76.1 93.0h.7M81.4 92.8h.7M74.1 86.1h.7M76.0 89.2h.7M74.5 88.7h.7M70.5 97.6h.7M68.9 90.6h.7M76.3 101.6h.7M72.8 87.9h.7M71.4 92.1h.7M68.2 92.7h.7M62.4 85.5h.7M78.1 94.1h.7M65.7 90.5h.7M67.4 92.4h.7M73.0 93.2h.7M55.1 85.1h.7M87.4 76.6h.7M57.2 88.7h.7M46.2 99.6h.7M79.1 93.3h.7M57.9 90.1h.7M64.0 86.5h.7M68.8 102.3h.7M62.5 101.9h.7M82.3 78.3h.7M61.4 95.3h.7M72.3 98.4h.7M56.2 93.1h.7M84.9 93.3h.7M74.2 102.1h.7M58.2 89.9h.7M74.6 84.8h.7M62.6 94.1h.7M74.4 99.0h.7M62.2 94.8h.7M59.4 88.5h.7M43.5 92.4h.7M72.6 105.5h.7M70.0 82.7h.7M71.8 97.3h.7M77.3 92.3h.7M68.4 83.0h.7M67.7 100.5h.7M64.7 78.7h.7M79.1 82.3h.7M64.9 95.1h.7M60.1 95.6h.7M80.8 88.0h.7M93.0 86.6h.7M67.7 74.2h.7M69.3 93.9h.7M61.8 91.1h.7M57.6 89.3h.7M91.5 94.1h.7M64.2 99.5h.7M55.1 90.3h.7M56.9 88.7h.7M60.1 91.7h.7M81.8 88.2h.7M61.6 93.4h.7M58.1 94.9h.7M67.5 91.1h.7M36.1 88.1h.7M72.2 99.8h.7M55.5 77.1h.7M74.1 86.7h.7M71.8 99.4h.7M69.3 93.0h.7M76.6 93.4h.7M75.9 94.2h.7M43.7 84.5h.7M85.8 102.0h.7M79.6 79.0h.7M54.4 93.0h.7M54.7 89.4h.7M59.4 90.8h.7M78.1 91.5h.7M76.5 76.4h.7M76.1 89.8h.7M88.9 93.5h.7M50.2 96.2h.7M54.5 93.0h.7M59.3 87.2h.7M60.6 96.5h.7M72.6 93.3h.7M68.3 84.5h.7M78.3 86.9h.7M59.2 71.2h.7M85.1 88.4h.7M46.3 95.0h.7M100.1 99.2h.7M74.6 75.8h.7M71.9 97.8h.7M43.1 102.3h.7M64.1 90.1h.7M49.9 92.9h.7M63.7 93.3h.7M63.2 81.6h.7M56.9 76.3h.7M58.0 85.9h.7M70.2 99.4h.7M82.1 95.7h.7M59.6 87.9h.7M74.3 98.8h.7M49.1 105.8h.7M74.1 107.4h.7M69.8 93.8h.7M74.6 93.5h.7M63.1 93.9h.7M62.8 84.7h.7M51.0 94.3h.7M94.1 86.1h.7M64.7 94.4h.7M84.1 89.1h.7M74.0 92.9h.7M73.3 78.5h.7M85.9 95.7h.7M56.0 80.7h.7M92.6 90.0h.7M71.1 87.0h.7M104.9 96.6h.7M77.0 74.1h.7M63.1 89.5h.7M88.5 86.2h.7M65.2 100.7h.7M55.3 94.0h.7M50.6 94.5h.7M56.6 88.3h.7M91.4 99.1h.7M54.4 87.3h.7M87.4 92.8h.7M64.8 84.1h.7M73.9 97.1h.7M53.3 95.7h.7M77.9 89.0h.7M48.7 85.5h.7M59.9 89.0h.7M64.5 88.9h.7M59.6 93.9h.7M62.7 86.3h.7M76.4 93.7h.7M64.6 91.8h.7M76.3 90.5h.7M103.6 74.6h.7M56.2 97.3h.7M95.8 87.3h.7M67.7 88.2h.7M62.3 87.4h.7M56.6 91.1h.7M78.6 82.2h.7M91.8 84.8h.7M66.7 101.0h.7M75.2 92.0h.7M78.9 82.5h.7M81.5 108.0h.7M54.2 86.3h.7M90.1 98.0h.7M67.6 94.3h.7M67.8 82.7h.7M72.1 86.9h.7M59.7 85.4h.7M61.3 102.0h.7M64.8 95.0h.7M63.0 79.1h.7M54.3 97.5h.7M66.7 92.8h.7M45.2 96.4h.7M67.9 89.6h.7M60.7 81.1h.7M64.6 82.8h.7M73.4 85.8h.7M50.7 83.9h.7M75.3 83.5h.7M61.4 88.4h.7M38.6 95.6h.7M60.4 96.1h.7M71.8 92.1h.7M46.2 96.0h.7M74.0 88.4h.7M76.4 88.2h.7M60.2 90.3h.7M59.8 98.2h.7M91.4 106.5h.7M66.9 87.8h.7M70.4 85.5h.7M88.9 84.8h.7M68.1 95.4h.7M76.7 101.7h.7M45.6 97.1h.7M65.4 93.5h.7M71.9 87.2h.7M38.1 94.4h.7M87.5 92.8h.7M60.2 93.0h.7M55.3 101.8h.7M72.6 96.9h.7M83.7 85.5h.7M80.7 91.8h.7M87.4 90.3h.7M99.9 82.3h.7M54.3 99.5h.7M70.5 83.5h.7M77.7 87.4h.7M35.5 89.3h.7M81.6 105.3h.7M83.4 87.1h.7M75.9 91.7h.7M39.7 84.9h.7M61.4 73.6h.7M62.2 94.6h.7M49.3 78.9h.7M91.6 91.2h.7M62.0 95.6h.7M85.5 87.7h.7M69.1 95.9h.7M77.4 89.2h.7M75.6 99.2h.7M79.6 77.8h.7M58.2 81.4h.7M86.4 88.5h.7M62.4 87.4h.7M67.3 92.8h.7M78.5 94.1h.7M63.8 97.5h.7M77.8 82.7h.7M72.3 105.9h.7M42.7 87.0h.7M77.2 81.5h.7M62.6 89.6h.7M86.3 97.6h.7M71.5 83.8h.7M74.7 78.8h.7M55.3 87.8h.7M77.7 84.8h.7M66.2 104.4h.7M49.1 95.5h.7M72.8 95.8h.7M49.9 124.9h.7M58.2 97.1h.7M47.0 127.8h.7M63.3 104.7h.7M43.4 137.9h.7M43.0 135.4h.7M51.4 132.5h.7M44.7 133.1h.7M53.5 127.5h.7M43.2 129.5h.7M52.5 124.0h.7M44.1 135.6h.7M59.9 109.5h.7M53.4 111.7h.7M59.4 109.8h.7M58.9 112.3h.7M48.5 122.8h.7M56.1 121.0h.7M63.2 113.6h.7M49.3 138.6h.7M56.4 117.1h.7M44.2 119.0h.7M60.8 120.9h.7M53.9 108.3h.7M49.9 129.6h.7M48.9 134.1h.7M61.4 106.8h.7M54.7 119.2h.7M58.0 115.4h.7M49.5 134.3h.7M51.5 117.0h.7M48.0 125.0h.7M46.4 128.3h.7M45.9 116.7h.7M52.2 128.0h.7M54.0 116.6h.7M65.9 115.2h.7M66.8 105.4h.7M55.8 116.7h.7M58.8 127.2h.7M45.4 133.1h.7M60.5 119.0h.7M49.7 128.3h.7M56.3 121.1h.7M58.2 120.9h.7M50.1 117.3h.7M52.1 120.1h.7M55.9 106.2h.7M47.1 131.7h.7M53.7 133.9h.7M48.7 125.9h.7M43.0 127.1h.7M55.2 109.6h.7M50.6 133.4h.7M47.3 137.1h.7M49.7 132.1h.7M50.8 137.3h.7M47.1 136.4h.7M60.4 109.4h.7M59.3 108.9h.7M47.1 111.1h.7M49.3 117.9h.7M61.5 110.1h.7M39.4 139.1h.7M64.0 106.9h.7M44.7 123.0h.7M55.3 123.8h.7M66.6 103.1h.7M49.4 105.6h.7M51.8 135.5h.7M49.7 137.3h.7M49.3 123.4h.7M58.3 125.7h.7M48.3 124.0h.7M59.1 99.3h.7M49.2 134.4h.7M47.0 116.3h.7M48.6 126.9h.7M52.7 123.9h.7M55.1 119.8h.7M53.4 116.9h.7M41.2 124.3h.7M47.7 133.0h.7M47.3 136.9h.7M43.6 122.8h.7M59.8 101.4h.7M52.9 122.9h.7M60.4 112.1h.7M59.4 124.8h.7M62.4 109.9h.7M55.8 133.2h.7M42.4 130.8h.7M54.7 116.7h.7M54.4 109.4h.7M44.6 127.8h.7M53.2 119.8h.7M60.1 114.2h.7M53.6 119.5h.7M48.2 119.4h.7M54.8 102.3h.7M54.4 117.1h.7M45.3 121.4h.7M53.6 130.6h.7M41.2 132.3h.7M53.4 121.8h.7M49.0 113.1h.7M37.6 137.0h.7M52.9 124.5h.7M55.7 111.5h.7M64.1 118.3h.7M48.1 116.6h.7M51.6 111.2h.7M57.2 112.6h.7M50.1 114.4h.7M59.1 117.8h.7M47.7 130.9h.7M41.8 132.0h.7M45.6 122.5h.7M64.6 109.7h.7M50.9 135.4h.7M49.1 129.6h.7M48.7 139.1h.7M53.7 129.2h.7M53.2 126.3h.7M51.1 125.5h.7M59.5 132.4h.7M53.5 131.5h.7M51.9 110.6h.7M48.9 121.8h.7M50.9 127.4h.7M57.5 110.0h.7M53.8 130.2h.7M60.9 121.3h.7M51.3 130.2h.7M47.2 129.8h.7M58.2 115.5h.7M56.6 109.1h.7M53.0 119.0h.7M43.1 129.0h.7M44.6 129.7h.7M53.6 125.8h.7M45.6 137.2h.7M53.1 111.9h.7M54.4 115.1h.7M57.5 112.4h.7M54.2 108.3h.7M56.7 111.9h.7M42.8 135.3h.7M49.7 134.5h.7M59.8 109.5h.7M49.9 134.5h.7M52.8 113.4h.7M49.1 122.2h.7M52.2 135.9h.7M61.1 114.3h.7M47.5 126.9h.7M55.4 106.4h.7M57.2 114.0h.7M43.7 133.9h.7M58.0 119.0h.7M51.6 122.8h.7M64.8 108.9h.7M40.9 127.0h.7M50.8 133.1h.7M45.5 136.4h.7M58.2 108.1h.7M53.0 121.4h.7M51.0 113.5h.7M62.6 113.8h.7M63.5 110.5h.7M48.7 127.1h.7M57.4 122.8h.7M52.6 115.2h.7M49.2 127.9h.7M52.3 123.8h.7M62.4 109.2h.7M55.8 114.1h.7M58.1 114.5h.7M58.1 115.9h.7M47.2 141.0h.7M64.1 120.2h.7M57.8 120.8h.7M66.7 100.1h.7M62.5 102.7h.7M43.1 138.0h.7M57.8 105.5h.7M64.3 115.4h.7M62.4 107.4h.7M55.4 129.3h.7M41.9 127.5h.7M41.4 133.9h.7M55.9 129.0h.7M47.3 139.9h.7M56.8 121.6h.7M65.8 110.1h.7M56.7 115.5h.7M57.7 104.5h.7M59.8 139.6h.7M65.4 114.7h.7M63.7 109.2h.7M58.9 113.3h.7M56.2 122.6h.7M71.0 116.9h.7M65.9 127.0h.7M64.5 140.0h.7M48.2 112.9h.7M72.0 93.4h.7M67.4 136.8h.7M59.8 123.6h.7M45.0 121.2h.7M67.0 116.5h.7M53.8 117.2h.7M52.6 103.5h.7M50.7 131.9h.7M67.0 122.3h.7M75.5 127.9h.7M65.0 115.9h.7M48.8 132.5h.7M66.8 119.0h.7M80.7 112.1h.7M64.1 109.0h.7M60.3 114.5h.7M65.4 116.3h.7M72.3 133.2h.7M51.1 111.8h.7M54.9 112.6h.7M57.0 109.0h.7M71.6 125.6h.7M62.3 91.5h.7M65.7 116.7h.7M75.7 110.9h.7M60.6 121.8h.7M59.5 127.7h.7M75.1 126.6h.7M56.4 103.5h.7M66.2 135.7h.7M56.4 125.6h.7M75.6 132.3h.7M61.2 129.8h.7M55.9 125.4h.7M59.8 114.9h.7M42.8 125.4h.7M84.8 116.6h.7M54.0 115.6h.7M56.5 131.2h.7M72.3 120.1h.7M69.0 133.5h.7M77.9 122.6h.7M61.9 121.3h.7M46.9 116.3h.7M63.0 106.1h.7M57.7 121.8h.7M49.2 123.2h.7M70.9 117.4h.7M62.1 112.3h.7M65.8 120.1h.7M54.1 103.0h.7M44.3 121.2h.7M63.7 109.7h.7M53.6 118.3h.7M56.1 104.6h.7M52.3 109.7h.7M57.8 109.6h.7M92.6 125.5h.7M59.4 119.3h.7M56.8 118.3h.7M51.2 120.3h.7M97.4 132.6h.7M40.1 115.2h.7M70.7 99.0h.7M59.9 108.4h.7M53.9 120.0h.7M66.2 121.4h.7M68.9 108.9h.7M52.3 116.8h.7M64.3 131.2h.7M86.4 136.2h.7M57.1 109.9h.7M68.5 111.7h.7M52.9 123.4h.7M51.8 116.9h.7M60.5 103.6h.7M82.6 119.9h.7M64.8 137.4h.7M75.9 104.1h.7M63.6 105.1h.7M62.0 137.0h.7M44.1 132.2h.7M60.9 118.9h.7M55.6 119.7h.7M71.1 122.2h.7M58.4 112.7h.7M87.8 127.0h.7M54.4 135.3h.7M45.5 99.0h.7M51.6 116.3h.7M36.7 119.7h.7M48.1 116.8h.7M64.6 122.8h.7M65.2 129.9h.7M63.4 137.1h.7M51.0 134.3h.7M64.5 124.3h.7M52.4 130.3h.7M65.8 131.0h.7M59.1 120.0h.7M62.7 116.8h.7M66.7 134.8h.7M58.1 132.5h.7M61.2 122.6h.7M46.4 112.7h.7M43.8 134.0h.7M55.4 107.0h.7M61.2 130.7h.7M47.9 111.2h.7M57.6 97.3h.7M42.0 127.8h.7M65.9 118.1h.7M49.8 132.8h.7M53.8 133.8h.7M59.5 123.2h.7M63.1 116.8h.7M67.3 118.6h.7M56.7 126.0h.7M47.1 115.7h.7M61.4 131.2h.7M44.5 120.9h.7M56.4 105.5h.7M64.9 129.7h.7M50.7 118.3h.7M49.4 110.2h.7M54.4 133.1h.7M56.4 117.8h.7M50.8 100.6h.7M66.0 115.6h.7M64.9 120.1h.7M66.2 125.5h.7M54.9 116.6h.7M60.6 123.6h.7M55.5 131.3h.7M55.1 114.8h.7M48.5 114.1h.7M55.8 118.0h.7M57.2 106.2h.7M54.8 126.2h.7M56.9 122.9h.7M68.1 119.5h.7M47.0 130.0h.7M51.0 112.8h.7M56.3 124.5h.7M52.6 120.5h.7M58.8 120.9h.7M56.9 125.4h.7M61.9 126.5h.7M75.1 103.1h.7M40.9 117.5h.7M65.8 128.6h.7M73.1 124.1h.7M56.7 127.6h.7M47.7 113.0h.7M70.4 122.7h.7M58.8 121.5h.7M46.1 107.6h.7M72.2 124.4h.7M61.4 127.1h.7M61.5 107.8h.7M58.9 113.9h.7M66.0 111.0h.7M46.9 104.1h.7M50.7 130.0h.7M68.7 132.6h.7M71.8 125.0h.7M66.1 115.3h.7M68.3 129.7h.7M50.2 124.2h.7M49.7 125.9h.7M74.4 106.6h.7M73.1 130.7h.7M58.2 114.1h.7M58.9 128.8h.7M67.5 137.5h.7M92.7 135.2h.7M87.6 110.7h.7M73.2 127.9h.7M87.7 121.2h.7M69.4 125.0h.7M70.9 96.2h.7M68.3 110.6h.7M71.6 118.3h.7M86.7 107.3h.7M43.2 125.9h.7M96.7 107.7h.7M92.2 95.9h.7M55.1 127.4h.7M83.9 126.9h.7M76.3 119.3h.7M99.2 114.7h.7M73.3 102.0h.7M92.1 125.3h.7M85.7 133.7h.7M64.7 133.9h.7M87.5 116.7h.7M47.5 113.6h.7M83.2 107.0h.7M81.6 86.8h.7M88.5 128.8h.7M75.1 115.7h.7M87.9 116.6h.7M58.6 134.5h.7M89.2 121.5h.7M73.7 104.7h.7M81.8 101.8h.7M81.1 132.4h.7M91.5 109.4h.7M66.2 120.4h.7M69.2 133.9h.7M71.7 117.3h.7M70.7 110.7h.7M91.9 134.1h.7M87.8 127.0h.7M64.4 119.7h.7M78.4 130.0h.7M76.7 124.3h.7M74.0 106.6h.7M82.3 105.1h.7M73.2 113.7h.7M85.1 125.8h.7M67.0 122.3h.7M73.6 121.8h.7M72.3 118.3h.7M95.4 99.5h.7M81.4 108.1h.7M58.4 116.0h.7M73.4 124.9h.7M76.6 97.3h.7M80.5 119.7h.7M80.3 111.5h.7M89.6 82.8h.7M66.5 104.7h.7M94.6 96.4h.7M68.7 126.6h.7M83.9 115.1h.7M84.0 114.0h.7M76.3 113.5h.7" stroke="#4535ab" stroke-width=".7" stroke-opacity=".55" fill="none" clip-path="url(#clip1)"/>
<rect x="34.5" y="37.3" width="105.69999999999999" height="104.7" fill="none" stroke="#111" stroke-width="1.4"/>
<path d="M64.2 37.3L64.2 142.0" stroke="#111" stroke-width="1.5" stroke-linecap="butt" fill="none"/>
<path d="M34.5 102.2L140.2 102.2" stroke="#111" stroke-width="1.5" stroke-linecap="butt" fill="none"/>
<clipPath id="clip2"><rect x="155" y="37.3" width="106" height="104.7"/></clipPath>
<path d="M171.6 77.0h.7M170.6 85.8h.7M169.7 81.3h.7M172.3 85.5h.7M162.8 87.9h.7M182.5 88.7h.7M165.0 90.1h.7M163.3 100.6h.7M175.7 87.1h.7M168.1 86.6h.7M168.3 90.1h.7M161.8 85.3h.7M166.1 96.0h.7M163.9 91.2h.7M169.7 83.1h.7M174.2 94.7h.7M162.7 84.8h.7M166.9 97.2h.7M170.3 79.6h.7M167.8 91.7h.7M160.1 77.7h.7M170.4 93.9h.7M166.8 90.6h.7M163.1 87.7h.7M158.2 94.8h.7M172.7 89.9h.7M162.4 96.5h.7M179.1 94.5h.7M169.5 88.1h.7M165.5 91.5h.7M173.1 84.2h.7M175.4 99.5h.7M168.0 91.4h.7M183.2 94.5h.7M174.6 82.9h.7M164.7 87.3h.7M176.1 83.5h.7M160.5 94.3h.7M168.9 85.3h.7M161.5 98.1h.7M168.4 99.3h.7M164.1 89.8h.7M162.7 92.9h.7M175.1 88.6h.7M161.3 84.7h.7M158.9 89.4h.7M166.9 92.4h.7M177.6 94.8h.7M161.8 82.3h.7M162.9 83.9h.7M172.9 85.7h.7M167.0 87.8h.7M172.3 96.2h.7M174.0 87.9h.7M170.8 85.0h.7M165.1 85.7h.7M173.0 93.8h.7M166.2 90.2h.7M162.7 87.6h.7M166.5 86.8h.7M174.6 90.1h.7M168.6 96.7h.7M174.6 92.2h.7M165.3 89.2h.7M172.4 90.4h.7M169.2 93.2h.7M169.2 88.6h.7M168.4 89.1h.7M160.7 93.7h.7M156.0 91.9h.7M163.8 88.5h.7M169.5 94.0h.7M164.9 89.7h.7M161.6 88.4h.7M173.1 89.3h.7M166.0 97.0h.7M162.4 85.5h.7M171.2 86.6h.7M173.2 88.5h.7M175.7 96.9h.7M173.7 93.4h.7M173.0 86.7h.7M166.6 86.1h.7M159.4 91.2h.7M166.0 86.3h.7M171.7 94.9h.7M171.7 95.7h.7M173.4 89.7h.7M167.7 92.4h.7M166.1 99.9h.7M168.2 93.3h.7M162.4 89.7h.7M159.9 93.8h.7M165.4 94.6h.7M168.0 89.2h.7M179.0 92.4h.7M163.9 97.5h.7M169.3 94.0h.7M172.2 90.9h.7M158.3 85.4h.7M171.1 82.8h.7M158.2 89.7h.7M174.7 95.2h.7M162.0 86.5h.7M172.9 84.6h.7M179.0 94.8h.7M175.1 88.2h.7M172.1 91.1h.7M173.7 87.7h.7M176.5 88.7h.7M170.9 96.7h.7M164.9 94.3h.7M174.7 83.9h.7M163.4 93.3h.7M170.7 92.8h.7M172.2 98.3h.7M167.9 92.0h.7M165.6 100.5h.7M170.2 87.7h.7M178.2 90.2h.7M171.2 85.3h.7M175.3 95.8h.7M169.1 92.7h.7M177.2 84.0h.7M170.9 89.1h.7M164.2 97.6h.7M164.8 94.4h.7M169.5 92.1h.7M177.0 91.8h.7M180.5 89.7h.7M163.3 84.7h.7M169.8 104.8h.7M162.4 87.9h.7M167.9 87.5h.7M160.2 93.0h.7M170.0 90.7h.7M171.9 89.8h.7M169.1 88.1h.7M158.0 88.9h.7M158.7 90.0h.7M181.7 91.0h.7M165.5 96.0h.7M162.8 90.9h.7M172.2 99.0h.7M169.7 89.0h.7M165.0 96.1h.7M161.5 92.8h.7M172.3 89.2h.7M172.0 90.5h.7M166.0 92.6h.7M168.4 89.4h.7M164.1 92.9h.7M168.1 86.7h.7M160.2 91.6h.7M166.0 80.0h.7M159.8 94.4h.7M171.7 87.6h.7M163.7 89.8h.7M164.5 98.7h.7M166.1 84.6h.7M167.3 93.3h.7M172.8 93.6h.7M156.0 89.4h.7M178.8 99.3h.7M166.9 96.8h.7M162.0 89.2h.7M164.1 94.2h.7M176.3 83.0h.7M167.0 90.5h.7M157.6 91.8h.7M174.1 92.5h.7M175.0 86.7h.7M167.4 96.9h.7M170.5 83.0h.7M173.7 94.4h.7M159.8 90.4h.7M169.6 100.4h.7M181.6 92.8h.7M176.8 99.5h.7M162.2 92.7h.7M170.7 86.7h.7M173.1 93.4h.7M171.8 88.9h.7M160.3 100.6h.7M168.1 92.0h.7M171.3 92.1h.7M162.5 90.8h.7M170.7 93.1h.7M174.0 88.5h.7M185.4 99.9h.7M164.8 87.1h.7M176.5 95.8h.7M160.5 94.1h.7M157.6 91.2h.7M163.0 88.5h.7M164.9 87.2h.7M173.0 89.7h.7M172.4 82.4h.7M159.3 91.0h.7M169.3 95.0h.7M159.2 90.6h.7M162.4 88.9h.7M167.9 86.1h.7M169.6 91.5h.7M161.6 86.1h.7M170.4 96.9h.7M162.4 94.6h.7M161.4 89.2h.7M164.1 92.7h.7M161.7 96.9h.7M161.3 86.7h.7M162.2 96.6h.7M167.2 89.1h.7M170.2 95.8h.7M179.0 88.7h.7M156.8 94.9h.7M177.2 88.8h.7M172.7 95.8h.7M158.1 92.7h.7M172.7 95.1h.7M170.1 92.5h.7M161.3 80.3h.7M174.4 84.6h.7M169.5 91.6h.7M173.9 88.3h.7M166.3 94.3h.7M164.0 91.2h.7M169.7 98.4h.7M168.2 91.3h.7M168.0 94.1h.7M171.1 87.4h.7M169.1 81.6h.7M174.3 79.8h.7M162.4 94.8h.7M161.3 90.4h.7M171.1 87.0h.7M180.8 101.0h.7M172.7 96.2h.7M174.5 98.7h.7M165.3 93.7h.7M169.7 89.7h.7M172.0 96.2h.7M180.7 88.6h.7M175.9 93.8h.7M167.2 93.5h.7M164.3 97.7h.7M183.5 93.8h.7M170.6 89.6h.7M162.8 93.9h.7M161.0 86.6h.7M165.2 94.1h.7M169.2 88.0h.7M166.4 91.0h.7M157.3 95.5h.7M157.6 89.4h.7M176.6 89.4h.7M173.9 95.4h.7M183.5 94.7h.7M171.7 97.3h.7M159.7 94.1h.7M165.1 85.2h.7M157.0 88.9h.7M161.1 87.2h.7M170.7 83.3h.7M177.7 94.7h.7M165.9 90.6h.7M174.8 94.7h.7M164.7 80.5h.7M175.2 97.0h.7M181.7 84.5h.7M170.5 92.0h.7M164.3 95.7h.7M161.5 92.8h.7M170.8 76.8h.7M166.8 81.7h.7M173.2 95.9h.7M172.8 91.7h.7M163.1 82.5h.7M171.2 89.7h.7M165.1 98.2h.7M166.4 88.3h.7M162.0 90.3h.7M164.9 89.7h.7M161.1 92.2h.7M166.0 100.3h.7M167.4 89.8h.7M167.3 104.0h.7M172.9 86.3h.7M174.1 96.8h.7M173.9 81.3h.7M166.2 95.1h.7M174.3 90.1h.7M175.3 89.0h.7M167.2 94.0h.7M168.8 83.6h.7M178.0 94.3h.7M169.0 91.2h.7M168.6 96.0h.7M163.9 85.9h.7M167.3 85.8h.7M176.3 91.8h.7M172.7 78.5h.7M167.1 94.1h.7M162.3 92.2h.7M173.6 95.3h.7M177.7 94.2h.7M166.7 101.7h.7M179.6 91.4h.7M168.2 91.3h.7M173.0 90.3h.7M173.4 91.1h.7M163.4 93.1h.7M170.1 87.2h.7M169.8 98.8h.7M167.5 95.5h.7M168.1 93.5h.7M172.8 84.6h.7M185.7 85.9h.7M169.1 90.7h.7M166.2 89.1h.7M169.0 97.6h.7M160.2 96.1h.7M170.4 91.2h.7M162.8 91.3h.7M162.4 95.0h.7M166.7 92.0h.7M162.0 90.0h.7M156.3 92.6h.7M177.4 92.3h.7M170.4 93.5h.7M161.7 92.3h.7M157.5 89.9h.7M163.5 96.9h.7M169.0 85.4h.7M180.6 92.7h.7M177.8 94.9h.7M162.1 94.5h.7M167.2 91.3h.7M161.4 91.7h.7M176.2 86.8h.7M178.4 79.8h.7M161.9 84.7h.7M157.6 90.9h.7M169.5 87.7h.7M175.6 98.9h.7M178.8 98.3h.7M171.0 87.8h.7M162.4 86.9h.7M177.3 101.9h.7M168.4 87.0h.7M156.3 91.8h.7M167.3 90.7h.7M161.9 91.8h.7M158.4 96.3h.7M158.3 85.5h.7M168.3 89.3h.7M164.9 85.9h.7M162.7 93.9h.7M173.9 88.9h.7M164.4 87.3h.7M166.5 91.9h.7M172.8 86.6h.7M165.4 94.7h.7M162.5 93.0h.7M165.7 86.7h.7M183.5 86.0h.7M169.1 89.6h.7M160.9 81.4h.7M174.8 95.7h.7M170.4 95.1h.7M164.0 88.4h.7M167.2 87.3h.7M171.6 92.6h.7M160.5 90.9h.7M171.5 98.7h.7M177.8 87.0h.7M174.4 102.8h.7M175.3 77.7h.7M161.3 93.0h.7M167.2 88.1h.7M176.9 91.5h.7M174.0 102.0h.7M182.2 91.4h.7M175.6 90.4h.7M168.8 90.8h.7M172.5 95.9h.7M175.1 88.5h.7M171.6 90.6h.7M165.5 84.1h.7M163.8 88.2h.7M165.3 94.1h.7M181.4 90.0h.7M186.1 85.9h.7M163.9 86.7h.7M175.7 88.9h.7M174.3 95.5h.7M170.8 93.3h.7M157.9 95.4h.7M162.6 89.7h.7M165.0 93.9h.7M167.4 90.2h.7M171.9 86.5h.7M158.0 93.3h.7M172.7 90.6h.7M174.6 91.2h.7M172.6 92.4h.7M164.1 94.1h.7M170.7 94.4h.7M168.4 96.8h.7M162.5 88.9h.7M164.1 91.9h.7M160.2 94.7h.7M166.8 78.5h.7M166.4 100.6h.7M174.3 89.1h.7M171.9 89.8h.7M171.3 98.8h.7M158.6 86.1h.7M166.2 92.2h.7M157.0 91.8h.7M168.3 83.2h.7M182.2 88.1h.7M168.6 87.3h.7M171.3 82.0h.7M170.6 84.6h.7M171.2 83.6h.7M173.7 96.5h.7M171.7 90.6h.7M162.5 87.6h.7M162.8 87.6h.7M170.4 93.2h.7M160.2 85.5h.7M169.2 87.6h.7M160.9 87.8h.7M162.5 90.0h.7M167.5 89.5h.7M175.8 92.7h.7M169.1 86.9h.7M165.8 85.3h.7M172.7 94.2h.7M161.4 82.0h.7M173.3 80.8h.7M170.4 92.9h.7M159.5 88.5h.7M170.7 91.8h.7M167.7 86.3h.7M168.2 97.6h.7M165.3 92.8h.7M168.4 91.1h.7M172.8 92.7h.7M179.9 93.7h.7M166.3 91.7h.7M156.2 87.3h.7M169.9 87.6h.7M174.3 96.6h.7M161.6 95.0h.7M176.7 90.9h.7M166.0 93.6h.7M161.1 88.5h.7M166.6 88.6h.7M169.6 93.9h.7M179.1 87.9h.7M163.9 90.2h.7M176.1 92.0h.7M166.3 96.8h.7M171.2 92.9h.7M157.6 90.9h.7M182.9 96.6h.7M171.4 92.6h.7M167.0 96.0h.7M157.5 98.2h.7M167.1 89.8h.7M157.3 85.6h.7M174.9 92.7h.7M165.0 99.1h.7M170.8 93.4h.7M167.4 95.6h.7M165.5 75.7h.7M167.4 82.5h.7M166.5 89.3h.7M158.6 85.6h.7M171.1 101.4h.7M168.3 96.9h.7M163.2 95.5h.7M178.6 90.5h.7M163.4 85.3h.7M169.4 91.3h.7M165.7 92.5h.7M166.0 86.6h.7M164.2 93.8h.7M167.8 90.6h.7M169.9 93.5h.7M169.1 92.8h.7M172.7 86.9h.7M170.9 93.6h.7M161.3 84.6h.7M169.5 95.3h.7M158.9 94.7h.7M180.8 94.9h.7M170.4 92.1h.7M162.7 90.0h.7M165.6 96.3h.7M166.8 101.8h.7M170.9 85.9h.7M168.3 89.9h.7M158.6 96.6h.7M168.6 93.3h.7M169.8 99.1h.7M164.0 87.5h.7M169.2 99.2h.7M183.9 81.1h.7M170.1 88.7h.7M165.6 85.9h.7M172.2 87.2h.7M156.5 83.8h.7M173.5 96.2h.7M170.8 96.5h.7M177.0 93.5h.7M180.0 95.2h.7M160.7 95.1h.7M172.3 98.9h.7M163.7 93.1h.7M173.0 95.0h.7M168.0 91.3h.7M180.4 89.6h.7M175.1 90.6h.7M170.7 84.8h.7M160.7 87.6h.7M170.2 90.7h.7M174.6 86.4h.7M172.8 94.0h.7M180.9 96.0h.7M166.2 90.1h.7M166.5 96.5h.7M168.0 80.8h.7M170.2 93.0h.7M176.0 88.3h.7M163.1 82.5h.7M175.1 94.7h.7M171.7 85.1h.7M163.6 90.2h.7M161.4 92.6h.7M176.6 93.4h.7M175.2 90.6h.7M157.4 94.6h.7M176.1 88.2h.7M178.0 89.4h.7M179.5 87.7h.7M170.9 96.4h.7M168.7 76.3h.7M177.3 89.1h.7M170.8 90.2h.7M165.3 89.0h.7M161.7 88.9h.7M182.5 96.6h.7M170.8 96.9h.7M165.9 96.0h.7M172.0 89.8h.7M166.6 91.1h.7M164.5 91.9h.7M162.4 90.3h.7M165.6 93.1h.7M164.7 91.1h.7M167.9 84.4h.7M171.4 94.0h.7M171.8 92.6h.7M169.0 96.0h.7M182.5 101.2h.7M157.4 88.6h.7M176.0 92.0h.7M159.1 89.6h.7M155.8 92.4h.7M166.7 97.0h.7M161.8 90.6h.7M175.3 86.8h.7M169.3 86.8h.7M164.4 93.2h.7M164.0 89.3h.7M162.2 80.2h.7M164.5 91.9h.7M166.8 86.9h.7M170.9 86.4h.7M171.4 98.9h.7M160.8 94.6h.7M175.7 90.0h.7M162.1 88.5h.7M166.5 94.6h.7M169.9 93.4h.7M175.1 94.8h.7M170.6 85.4h.7M171.0 91.0h.7M164.9 84.4h.7M171.5 86.1h.7M174.0 87.8h.7M171.6 90.0h.7M173.1 84.9h.7M176.3 79.9h.7M165.4 91.8h.7M170.0 89.7h.7M167.8 81.0h.7M168.0 91.1h.7M172.9 93.3h.7M169.5 94.4h.7M167.9 83.0h.7M173.8 89.7h.7M176.6 83.3h.7M171.9 90.4h.7M169.0 88.6h.7M172.9 85.2h.7M171.8 88.7h.7M167.0 88.5h.7M177.3 102.6h.7M161.0 88.3h.7M156.9 98.3h.7M170.6 89.5h.7M161.4 94.9h.7M160.8 90.5h.7M169.4 88.1h.7M172.9 84.1h.7M167.2 98.6h.7M171.8 97.8h.7M159.4 93.6h.7M175.2 97.8h.7M161.9 86.7h.7M174.0 92.1h.7M168.4 100.8h.7M185.6 91.6h.7M189.1 87.0h.7M165.8 92.0h.7M161.3 95.8h.7M163.3 95.7h.7M169.4 85.9h.7M168.0 85.9h.7M169.4 92.4h.7M166.9 97.0h.7M168.1 87.6h.7M170.8 88.4h.7M176.2 89.3h.7M168.5 95.0h.7M172.9 82.3h.7M158.9 89.4h.7M186.5 90.7h.7M164.6 84.9h.7M168.2 95.9h.7M171.3 87.8h.7M167.0 87.6h.7M173.1 89.7h.7M183.3 88.7h.7M162.4 94.0h.7M176.1 90.1h.7M170.5 93.8h.7M180.6 83.4h.7M175.8 82.9h.7M184.0 94.8h.7M174.6 95.0h.7M178.7 86.9h.7M164.7 88.7h.7M169.4 89.2h.7M164.2 97.4h.7M175.2 93.0h.7M184.4 88.4h.7M159.4 95.2h.7M166.0 100.6h.7M164.7 93.4h.7M161.8 82.8h.7M157.5 90.6h.7M161.9 93.0h.7M164.2 84.8h.7M172.4 100.9h.7M172.6 103.4h.7M164.0 90.4h.7M166.2 101.6h.7M160.4 90.8h.7M163.9 90.7h.7M177.4 88.4h.7M166.9 95.6h.7M168.5 97.4h.7M161.5 91.5h.7M164.9 98.8h.7M174.0 85.5h.7M166.4 87.7h.7M164.8 98.5h.7M165.0 91.0h.7M163.8 90.6h.7M158.2 94.4h.7M166.5 97.0h.7M167.5 88.3h.7M164.5 79.0h.7M171.4 97.2h.7M166.9 94.7h.7M177.9 98.3h.7M157.9 95.6h.7M173.7 87.5h.7M172.5 91.3h.7M162.0 94.0h.7M171.5 93.0h.7M166.5 90.4h.7M177.9 95.7h.7M165.7 88.3h.7M165.1 94.6h.7M164.6 88.7h.7M166.6 94.4h.7M162.9 97.3h.7M165.4 91.4h.7M168.6 93.1h.7M169.8 92.3h.7M173.1 96.3h.7M170.1 79.4h.7M170.6 93.8h.7M173.5 96.2h.7M172.6 90.1h.7M171.0 84.4h.7M172.7 91.3h.7M171.8 91.1h.7M173.0 86.4h.7M162.5 94.7h.7M166.8 86.2h.7M160.0 88.8h.7M182.4 85.7h.7M169.6 88.9h.7M174.3 97.3h.7M164.1 96.8h.7M165.2 95.1h.7M160.2 88.6h.7M166.9 81.8h.7M173.7 89.0h.7M164.3 87.3h.7M173.0 93.5h.7M160.9 88.1h.7M167.6 88.1h.7M177.4 92.9h.7M177.1 94.9h.7M159.1 89.7h.7M173.1 94.5h.7M166.7 88.4h.7M172.7 95.0h.7M164.5 86.9h.7M167.8 95.7h.7M173.0 90.9h.7M170.2 91.0h.7M167.8 86.3h.7M170.7 95.7h.7M165.9 83.6h.7M166.0 93.2h.7M166.0 103.5h.7M170.7 86.2h.7M167.5 92.2h.7M168.3 94.8h.7M175.0 81.2h.7M173.6 90.9h.7M170.1 89.5h.7M156.4 88.2h.7M164.0 86.1h.7M165.1 94.1h.7M168.9 92.2h.7M163.9 88.5h.7M177.2 93.7h.7M179.8 88.2h.7M173.4 92.0h.7M169.2 90.8h.7M171.5 86.4h.7M165.9 88.1h.7M170.7 100.5h.7M166.6 95.6h.7M165.6 95.9h.7M183.3 85.3h.7M172.2 90.7h.7M164.5 92.6h.7M173.5 92.7h.7M171.7 95.4h.7M167.3 91.3h.7M171.7 98.8h.7M162.7 87.7h.7M166.7 91.9h.7M173.2 84.4h.7M184.2 89.7h.7M158.9 96.5h.7M162.0 90.1h.7M177.2 100.7h.7M165.9 91.8h.7M166.5 84.9h.7M161.3 83.8h.7M170.2 92.8h.7M175.7 95.7h.7M159.8 90.2h.7M164.0 85.9h.7M165.4 89.8h.7M168.9 93.7h.7M157.8 87.1h.7M165.1 89.0h.7M165.9 95.2h.7M167.5 90.1h.7M175.8 90.8h.7M172.6 94.7h.7M181.6 78.1h.7M170.6 82.6h.7M167.1 87.7h.7M173.7 90.7h.7M169.2 94.8h.7M170.5 89.7h.7M175.8 92.3h.7M164.6 87.6h.7M171.3 88.3h.7M156.3 91.5h.7M171.7 89.7h.7M174.0 92.6h.7M166.3 87.4h.7M160.6 91.9h.7M172.6 95.3h.7M170.5 88.1h.7M167.9 90.2h.7M173.3 83.2h.7M166.3 89.6h.7M169.9 90.6h.7M165.7 84.1h.7M171.0 88.6h.7M168.0 88.9h.7M172.9 91.5h.7M169.4 99.1h.7M175.5 93.1h.7M168.1 87.9h.7M168.6 100.1h.7M155.7 92.8h.7M155.7 84.7h.7M172.1 92.3h.7M159.7 89.5h.7M166.8 94.7h.7M159.1 91.5h.7M181.7 86.4h.7M156.1 89.5h.7M160.4 83.3h.7M169.8 93.0h.7M170.7 100.3h.7M163.8 88.0h.7M173.3 96.2h.7M164.6 92.8h.7M174.0 94.7h.7M169.3 91.5h.7M166.3 93.3h.7M174.0 91.1h.7M169.2 92.1h.7M163.7 88.8h.7M172.8 83.2h.7M156.5 90.8h.7M165.6 95.8h.7M165.7 90.9h.7M158.6 93.3h.7M162.7 91.1h.7M172.9 85.7h.7M164.8 86.5h.7M161.6 97.6h.7M175.7 90.4h.7M176.0 93.7h.7M175.0 86.5h.7M174.8 85.3h.7M172.9 85.8h.7M172.1 88.3h.7M167.5 91.8h.7M172.5 85.9h.7M165.1 92.9h.7M158.6 89.8h.7M160.5 88.9h.7M175.9 99.4h.7M161.5 93.6h.7M169.1 84.0h.7M179.4 92.1h.7M166.1 92.6h.7M176.7 100.6h.7M169.8 89.8h.7M179.0 98.3h.7M164.6 91.6h.7M164.7 87.9h.7M174.7 89.2h.7M168.4 84.4h.7M170.5 98.1h.7M160.4 87.0h.7M166.6 91.5h.7M172.8 88.6h.7M167.5 92.2h.7M160.6 102.3h.7M169.7 91.4h.7M175.0 100.5h.7M165.9 83.9h.7M183.8 82.9h.7M169.4 94.7h.7M161.7 84.0h.7M174.1 97.3h.7M178.0 89.9h.7M164.6 97.2h.7M177.4 78.2h.7M166.6 92.5h.7M166.5 92.6h.7M175.4 97.2h.7M176.0 81.7h.7M166.7 91.7h.7M165.3 95.2h.7M180.4 86.9h.7M188.7 97.3h.7M175.4 91.6h.7M179.2 91.1h.7M163.6 87.6h.7M165.7 81.6h.7M168.8 93.1h.7M170.7 93.9h.7M171.4 94.1h.7M184.1 90.7h.7M164.9 93.6h.7M174.1 96.1h.7M173.7 91.0h.7M172.8 92.9h.7M170.2 94.5h.7M166.3 88.4h.7M187.8 91.4h.7M157.3 89.7h.7M178.9 75.8h.7M158.5 88.3h.7M172.0 96.4h.7M169.5 84.5h.7M164.4 89.1h.7M173.0 86.6h.7M161.5 92.1h.7M166.3 94.1h.7M177.6 83.9h.7M163.0 94.1h.7M172.2 92.4h.7M166.3 96.0h.7M166.1 88.2h.7M165.7 93.5h.7M160.0 98.3h.7M166.6 91.3h.7M174.1 86.4h.7M174.3 88.1h.7M174.2 89.7h.7M168.1 86.0h.7M164.3 83.6h.7M177.6 90.1h.7M162.5 90.9h.7M171.3 85.6h.7M172.3 96.3h.7M170.0 95.5h.7M163.3 90.4h.7M166.9 94.4h.7M170.1 88.0h.7M174.5 87.0h.7M161.4 87.5h.7M161.0 90.8h.7M172.1 97.8h.7M169.9 93.0h.7M169.8 94.4h.7M165.3 90.5h.7M162.3 83.5h.7M170.8 91.1h.7M166.1 89.9h.7M161.5 90.5h.7M168.2 89.8h.7M158.7 96.2h.7M165.4 91.8h.7M161.4 83.5h.7M162.4 89.0h.7M167.7 94.2h.7M165.8 95.0h.7M173.3 98.2h.7M179.6 88.3h.7M168.8 97.2h.7M172.3 88.4h.7M165.4 95.3h.7M162.3 87.3h.7M174.2 81.5h.7M167.6 86.6h.7M170.6 99.6h.7M159.4 94.8h.7M165.2 89.4h.7M157.9 95.3h.7M179.1 90.3h.7M166.5 86.9h.7M171.8 93.1h.7M160.7 96.1h.7M159.7 91.9h.7M175.9 91.0h.7M163.9 89.2h.7M169.9 96.6h.7M169.7 102.1h.7M178.2 90.2h.7M176.7 95.2h.7M181.2 88.8h.7M170.3 95.1h.7M159.9 93.2h.7M163.7 91.8h.7M168.8 83.9h.7M156.9 85.8h.7M177.5 87.0h.7M169.5 88.5h.7M167.8 95.6h.7M158.2 87.7h.7M169.1 95.0h.7M168.0 90.2h.7M163.2 90.0h.7M159.3 89.6h.7M173.9 96.6h.7M177.7 99.0h.7M170.3 95.4h.7M175.7 94.5h.7M170.7 88.5h.7M170.3 93.3h.7M168.4 95.5h.7M160.1 91.0h.7M177.8 88.0h.7M167.9 93.0h.7M178.8 91.5h.7M175.3 93.1h.7M166.0 92.8h.7M172.0 87.7h.7M173.2 85.0h.7M165.1 87.4h.7M172.1 93.9h.7M157.9 88.8h.7M163.1 92.6h.7M176.0 93.2h.7M172.3 93.0h.7M164.2 88.2h.7M160.9 89.5h.7M176.5 90.1h.7M170.4 83.2h.7M170.8 92.7h.7M172.2 94.5h.7M171.0 94.7h.7M176.0 92.4h.7M164.6 90.1h.7M172.1 94.8h.7M164.4 84.3h.7M159.9 88.1h.7M163.9 93.0h.7M168.1 95.0h.7M163.4 96.8h.7M163.0 101.3h.7M168.2 87.6h.7M163.3 81.6h.7M171.4 87.3h.7M161.4 85.9h.7M182.0 93.3h.7M169.1 87.4h.7M183.8 94.9h.7M164.2 87.4h.7M162.8 97.4h.7M163.2 83.1h.7M165.0 95.6h.7M165.8 97.9h.7M174.8 88.2h.7M175.3 92.1h.7M158.7 93.1h.7M165.2 95.5h.7M167.1 103.8h.7M155.6 88.2h.7M173.0 97.2h.7M167.5 89.2h.7M177.5 83.9h.7M176.1 79.0h.7M171.1 91.6h.7M168.1 100.4h.7M163.9 95.8h.7M170.0 91.8h.7M170.6 87.9h.7M173.8 86.3h.7M180.2 106.8h.7M172.3 90.8h.7M176.6 89.0h.7M185.4 90.7h.7M168.9 86.2h.7M157.2 90.6h.7M169.3 95.5h.7M172.4 80.9h.7M169.2 91.0h.7M164.8 91.9h.7M172.8 91.4h.7M167.8 92.0h.7M166.3 85.9h.7M173.3 89.0h.7M170.0 83.8h.7M175.1 91.1h.7M164.8 87.9h.7M169.6 95.9h.7M171.6 91.9h.7M173.0 97.7h.7M168.6 93.5h.7M167.3 94.2h.7M161.6 97.2h.7M164.6 88.7h.7M164.7 99.9h.7M165.7 95.3h.7M170.5 86.7h.7M164.3 93.1h.7M157.0 87.5h.7M163.0 84.9h.7M174.7 101.9h.7M171.2 85.7h.7M165.6 97.9h.7M174.9 88.0h.7M168.6 95.9h.7M162.5 88.4h.7M184.8 94.4h.7M161.5 95.1h.7M172.4 85.1h.7M173.1 89.2h.7M169.1 87.3h.7M162.0 78.1h.7M159.1 94.5h.7M165.6 82.8h.7M162.7 93.6h.7M162.9 90.9h.7M174.7 93.2h.7M178.1 87.0h.7M160.3 92.2h.7M169.7 89.3h.7M178.8 82.3h.7M168.8 85.6h.7M172.3 99.2h.7M163.5 92.6h.7M173.4 85.3h.7M167.6 93.2h.7M172.2 86.4h.7M170.1 89.3h.7M171.6 89.2h.7M171.3 92.9h.7M174.1 89.8h.7M165.5 96.2h.7M172.4 86.4h.7M168.4 86.4h.7M164.4 92.5h.7M168.8 97.6h.7M168.1 94.5h.7M173.0 92.6h.7M168.6 94.2h.7M163.2 87.5h.7M167.1 87.0h.7M165.3 96.5h.7M157.6 89.9h.7M179.1 81.9h.7M172.5 92.6h.7M160.7 89.2h.7M168.7 81.5h.7M171.7 90.4h.7M169.7 88.4h.7M165.2 86.7h.7M164.2 92.5h.7M174.8 87.5h.7M186.5 93.8h.7M169.0 84.5h.7M172.8 88.5h.7M166.5 96.4h.7M156.3 94.2h.7M164.8 85.3h.7M173.0 93.9h.7M177.5 97.8h.7M171.7 84.5h.7M174.0 93.7h.7M165.0 88.8h.7M177.1 95.9h.7M167.8 92.3h.7M158.6 93.5h.7M175.9 94.6h.7M178.7 93.3h.7M174.2 85.5h.7M168.8 91.0h.7M168.5 96.0h.7M175.3 87.1h.7M163.3 83.7h.7M174.7 88.9h.7M173.7 91.6h.7M167.0 88.2h.7M166.7 94.7h.7M168.0 96.1h.7M165.2 97.3h.7M169.8 88.6h.7M168.1 88.6h.7M157.1 86.9h.7M178.5 98.2h.7M163.4 96.6h.7M157.0 93.0h.7M170.9 100.7h.7M163.6 99.1h.7M173.9 90.1h.7M168.8 90.3h.7M162.0 94.4h.7M165.2 88.3h.7M166.6 92.2h.7M170.4 93.9h.7M164.4 83.1h.7M177.3 95.5h.7M160.9 93.2h.7M165.5 86.5h.7M166.8 90.5h.7M157.1 93.4h.7M167.5 96.8h.7M166.5 93.0h.7M162.6 94.0h.7M166.0 85.9h.7M173.1 94.7h.7M161.5 88.5h.7M166.5 88.3h.7M172.9 83.6h.7M167.1 96.3h.7M175.5 90.0h.7M171.8 94.5h.7M170.6 93.6h.7M171.7 85.5h.7M173.2 98.6h.7M170.0 80.5h.7M175.3 94.8h.7M172.1 98.3h.7M162.7 96.6h.7M172.4 88.1h.7M161.3 86.1h.7M170.8 92.1h.7M169.2 94.4h.7M163.3 97.6h.7M169.5 92.0h.7M165.6 87.7h.7M167.1 97.7h.7M184.1 96.5h.7M160.3 90.6h.7M165.6 95.3h.7M168.1 91.6h.7M160.7 95.5h.7M171.3 89.6h.7M165.2 92.6h.7M158.5 88.9h.7M174.5 82.6h.7M167.1 94.9h.7M160.5 100.0h.7M178.4 88.1h.7M179.1 94.6h.7M171.4 92.0h.7M175.3 84.7h.7M173.4 93.1h.7M170.2 89.1h.7M169.7 87.8h.7M176.6 98.8h.7M162.7 93.5h.7M168.8 91.5h.7M170.1 89.7h.7M175.7 87.1h.7M166.3 93.2h.7M161.5 86.1h.7M171.0 90.0h.7M168.7 84.2h.7M165.6 91.5h.7M171.8 84.5h.7M162.7 92.2h.7M174.4 94.3h.7M162.2 84.6h.7M171.4 98.0h.7M173.2 90.4h.7M163.6 87.0h.7M169.4 94.1h.7M172.8 91.6h.7M169.3 86.5h.7M159.1 87.6h.7M160.4 94.0h.7M173.9 96.3h.7M168.4 94.6h.7M169.2 95.7h.7M170.3 92.5h.7M166.1 91.2h.7M161.8 92.0h.7M167.2 96.6h.7M170.6 93.1h.7M175.0 92.4h.7M172.1 83.0h.7M158.0 85.9h.7M172.9 94.1h.7M176.7 96.9h.7M170.2 90.7h.7M171.0 88.2h.7M165.6 84.4h.7M161.9 92.2h.7M172.9 102.0h.7M165.9 101.8h.7M166.8 91.8h.7M165.9 95.0h.7M172.2 101.9h.7M169.0 88.8h.7M170.9 97.6h.7M172.2 85.7h.7M169.9 98.4h.7M161.4 89.1h.7M173.8 90.4h.7M162.8 93.0h.7M171.4 90.1h.7M172.5 93.5h.7M171.4 88.6h.7M172.8 89.2h.7M178.0 91.3h.7M172.6 95.3h.7M171.2 89.8h.7M172.2 90.4h.7M158.2 90.0h.7M158.4 97.1h.7M166.7 92.5h.7M157.6 90.4h.7M161.3 89.8h.7M167.7 92.2h.7M165.9 87.3h.7M173.7 94.0h.7M175.0 89.0h.7M169.0 96.6h.7M163.4 86.9h.7M162.6 95.6h.7M163.1 90.4h.7M167.8 87.2h.7M167.0 98.0h.7M175.9 82.1h.7M172.7 88.1h.7M160.7 84.0h.7M167.3 86.7h.7M160.3 89.9h.7M166.4 86.0h.7M179.1 93.3h.7M164.3 93.8h.7M157.1 92.6h.7M165.5 87.5h.7M162.9 86.1h.7M179.7 87.1h.7M163.0 97.6h.7M165.2 90.0h.7M157.0 101.6h.7M159.1 90.5h.7M175.8 88.5h.7M174.1 90.3h.7M165.6 93.7h.7M171.5 91.6h.7M169.5 87.5h.7M173.7 89.4h.7M165.7 86.2h.7M157.1 93.1h.7M172.9 89.0h.7M181.4 92.3h.7M163.0 89.4h.7M165.9 82.2h.7M168.6 95.7h.7M160.0 92.2h.7M168.9 93.0h.7M174.5 93.0h.7M162.1 87.4h.7M158.5 89.7h.7M166.6 94.3h.7M170.1 95.2h.7M176.4 99.0h.7M163.4 93.4h.7M167.2 89.0h.7M169.3 91.6h.7M176.1 96.8h.7M166.4 92.8h.7M165.4 87.0h.7M177.1 94.1h.7M170.2 91.7h.7M167.1 83.7h.7M174.7 87.3h.7M164.5 88.6h.7M180.6 89.4h.7M166.7 87.6h.7M162.4 91.0h.7M171.3 90.7h.7M173.1 89.2h.7M179.4 94.4h.7M169.8 89.4h.7M164.6 87.3h.7M157.5 85.9h.7M171.5 95.4h.7M165.5 90.0h.7M175.0 83.0h.7M167.3 82.6h.7M164.2 90.1h.7M173.3 91.3h.7M171.2 87.9h.7M170.8 92.7h.7M175.9 89.6h.7M171.8 91.2h.7M172.5 96.0h.7M167.3 90.2h.7M164.9 96.3h.7M165.2 94.5h.7M187.1 89.8h.7M172.1 87.9h.7M159.6 84.7h.7M177.4 91.4h.7M169.2 90.8h.7M169.1 94.9h.7M170.2 88.1h.7M178.9 87.5h.7M163.4 86.6h.7M177.3 87.7h.7M171.9 99.5h.7M163.2 92.8h.7M157.3 91.8h.7M173.9 85.0h.7M172.4 92.8h.7M172.6 92.1h.7M178.9 92.5h.7M161.9 91.6h.7M159.0 89.9h.7M168.6 88.9h.7M183.4 90.6h.7M166.5 95.2h.7M170.8 89.9h.7M170.6 90.0h.7M172.3 87.2h.7M167.8 92.2h.7M172.4 92.9h.7M167.6 91.2h.7M174.2 90.5h.7M176.1 95.1h.7M172.9 103.6h.7M176.6 91.5h.7M163.5 93.2h.7M179.1 91.1h.7M171.4 87.6h.7M167.2 93.6h.7M159.7 99.8h.7M180.1 89.7h.7M177.6 88.3h.7M171.9 100.8h.7M174.1 89.9h.7M171.3 89.9h.7M165.2 94.4h.7M157.4 93.3h.7M167.7 94.4h.7M175.3 90.8h.7M168.1 92.4h.7M166.4 86.6h.7M163.0 96.7h.7M162.8 92.6h.7M168.4 97.7h.7M158.2 89.6h.7M171.5 88.9h.7M158.4 93.0h.7M159.6 96.1h.7M175.3 86.0h.7M167.0 89.9h.7M174.9 94.1h.7M165.8 80.5h.7M176.3 87.8h.7M177.5 89.8h.7M158.5 91.3h.7M167.3 97.5h.7M160.5 92.5h.7M167.6 93.0h.7M167.2 94.0h.7M165.8 98.7h.7M166.6 88.3h.7M173.0 90.0h.7M171.4 96.8h.7M160.8 77.8h.7M163.0 92.9h.7M180.0 90.9h.7M175.1 99.0h.7M171.9 94.0h.7M167.9 87.8h.7M164.8 92.9h.7M174.7 93.7h.7M183.5 94.8h.7M169.5 92.1h.7M161.4 84.8h.7M175.6 96.7h.7M169.3 89.5h.7M166.3 79.1h.7M163.5 88.9h.7M178.0 83.7h.7M173.9 88.7h.7M181.0 85.5h.7M172.4 89.1h.7M155.7 92.9h.7M172.8 86.5h.7M165.3 88.4h.7M168.3 97.5h.7M174.7 98.4h.7M176.4 87.4h.7M171.9 88.5h.7M161.9 86.1h.7M176.9 91.1h.7M163.2 89.9h.7M172.3 90.1h.7M167.5 85.9h.7M170.8 86.5h.7M179.3 93.6h.7M173.9 86.6h.7M171.0 93.2h.7M174.7 90.5h.7M164.5 90.2h.7M162.7 99.0h.7M184.8 88.4h.7M174.1 93.8h.7M163.6 93.4h.7M167.6 84.4h.7M173.4 89.5h.7M170.7 98.1h.7M186.8 88.5h.7M168.5 88.8h.7M168.3 89.9h.7M178.0 93.2h.7M163.8 88.6h.7M157.7 86.1h.7M167.9 83.5h.7M167.0 90.5h.7M162.2 92.3h.7M178.3 90.7h.7M161.0 97.0h.7M166.9 92.5h.7M171.8 94.4h.7M156.8 85.7h.7M167.2 85.2h.7M171.8 94.8h.7M175.1 96.9h.7M166.9 93.2h.7M174.5 93.2h.7M173.7 89.9h.7M166.1 89.9h.7M165.5 85.6h.7M160.5 87.4h.7M179.1 87.3h.7M179.3 91.5h.7M177.5 96.5h.7M163.2 86.4h.7M165.5 85.2h.7M172.2 94.0h.7M164.0 89.2h.7M169.3 93.7h.7M166.3 91.9h.7M178.4 95.1h.7M159.0 88.4h.7M176.2 94.0h.7M169.8 93.9h.7M170.9 87.7h.7M167.5 94.8h.7M178.8 86.0h.7M167.3 99.0h.7M174.3 92.4h.7M166.4 93.4h.7M169.3 86.9h.7M169.1 86.5h.7M163.3 94.3h.7M164.5 96.3h.7M163.5 86.5h.7M170.5 86.7h.7M164.6 91.5h.7M162.8 88.6h.7M163.9 87.7h.7M169.8 99.7h.7M168.0 87.7h.7M174.1 96.2h.7M166.1 89.0h.7M155.9 99.1h.7M176.7 89.3h.7M159.9 90.9h.7M168.3 82.9h.7M162.8 94.3h.7M161.4 92.7h.7M159.7 78.7h.7M157.9 84.4h.7M168.5 96.4h.7M162.0 98.5h.7M167.7 86.2h.7M177.0 87.6h.7M168.3 97.0h.7M176.2 84.4h.7M176.6 91.8h.7M174.7 89.9h.7M181.2 90.9h.7M160.9 83.0h.7M164.1 87.9h.7M175.8 90.3h.7M165.1 82.5h.7M165.3 82.4h.7M168.0 94.0h.7M182.2 90.4h.7M165.5 101.0h.7M172.3 85.3h.7M162.0 86.7h.7M156.3 92.7h.7M173.3 84.4h.7M169.9 84.5h.7M169.1 93.9h.7M161.1 90.6h.7M168.7 96.0h.7M165.9 91.8h.7M176.9 79.9h.7M157.6 91.1h.7M174.1 94.5h.7M171.4 79.4h.7M178.1 87.9h.7M167.9 92.0h.7M163.0 83.5h.7M165.0 85.2h.7M168.8 75.9h.7M168.8 80.3h.7M167.2 76.6h.7M170.8 86.6h.7M168.3 84.8h.7M175.4 81.2h.7M167.2 83.8h.7M167.4 90.2h.7M169.2 86.6h.7M171.9 77.6h.7M163.8 91.2h.7M166.8 76.8h.7M170.8 80.4h.7M176.4 79.8h.7M159.4 80.2h.7M167.6 82.8h.7M171.8 77.1h.7M170.8 83.7h.7M173.9 82.1h.7M163.2 82.8h.7M164.7 74.5h.7M170.8 76.2h.7M166.8 77.3h.7M168.2 74.8h.7M166.0 76.9h.7M161.7 76.3h.7M163.7 91.6h.7M165.3 84.2h.7M161.5 77.9h.7M165.7 82.4h.7M174.9 78.2h.7M169.2 83.4h.7M178.6 86.0h.7M167.0 86.2h.7M171.1 77.1h.7M163.2 84.4h.7M166.6 82.3h.7M171.0 88.1h.7M167.7 91.1h.7M164.0 83.8h.7M165.5 87.0h.7M179.7 77.3h.7M162.7 86.2h.7M163.2 88.2h.7M164.1 77.9h.7M166.4 84.1h.7M165.6 80.6h.7M173.8 74.9h.7M170.3 91.4h.7M174.4 82.8h.7M171.0 86.4h.7M178.1 81.0h.7M174.3 89.9h.7M172.3 80.5h.7M171.2 94.5h.7M175.6 76.3h.7M163.8 76.8h.7M166.8 81.2h.7M166.2 82.4h.7M167.2 83.6h.7M177.9 75.6h.7M166.4 80.4h.7M168.6 84.1h.7M176.2 82.6h.7M166.6 92.2h.7M172.3 85.9h.7M163.6 83.4h.7M172.1 78.5h.7M168.9 84.5h.7M167.7 80.2h.7M162.1 85.2h.7M169.1 78.6h.7M166.7 81.7h.7M179.6 84.7h.7M163.7 84.2h.7M170.1 80.3h.7M164.1 85.2h.7M169.9 73.2h.7M169.2 83.4h.7M174.8 85.2h.7M173.1 84.5h.7M179.5 80.4h.7M182.4 85.1h.7M161.9 80.8h.7M176.1 75.5h.7M166.3 81.6h.7M172.6 76.0h.7M170.6 91.3h.7M165.2 82.7h.7M171.8 82.4h.7M162.6 86.0h.7M174.3 74.7h.7M156.5 85.7h.7M166.0 76.5h.7M173.2 88.7h.7M168.6 81.9h.7M175.4 71.6h.7M167.3 78.2h.7M168.8 81.0h.7M172.0 78.0h.7M160.4 80.6h.7M177.2 81.1h.7M175.8 82.4h.7M169.5 77.8h.7M167.8 82.9h.7M172.3 78.0h.7M166.9 78.1h.7M168.7 84.9h.7M167.0 85.0h.7M176.2 84.0h.7M165.7 85.1h.7M179.0 80.3h.7M167.1 78.6h.7M160.4 84.1h.7M169.6 86.8h.7M179.0 81.6h.7M167.6 79.3h.7M171.4 83.7h.7M176.3 81.2h.7M174.4 86.5h.7M163.7 81.4h.7M168.3 81.9h.7M169.5 84.8h.7M161.5 89.7h.7M170.3 87.4h.7M180.3 81.5h.7M160.1 79.8h.7M159.2 78.1h.7M169.9 84.8h.7M177.9 91.3h.7M163.0 79.9h.7M174.3 84.4h.7M172.9 78.0h.7M169.3 85.4h.7M173.2 84.3h.7M167.6 90.0h.7M174.5 82.4h.7M158.1 85.7h.7M172.3 86.9h.7M177.9 81.8h.7M169.9 87.3h.7M157.7 74.6h.7M170.6 77.4h.7M169.9 81.7h.7M168.0 79.5h.7M175.8 79.3h.7M165.5 78.8h.7M175.6 85.5h.7M165.5 73.5h.7M165.3 83.6h.7M166.6 84.1h.7M175.9 91.7h.7M158.0 83.1h.7M173.4 77.8h.7M163.7 87.4h.7M165.6 81.1h.7M167.0 81.2h.7M167.3 92.0h.7M173.2 84.7h.7M166.4 82.0h.7M175.3 86.9h.7M169.4 77.9h.7M170.6 86.3h.7M170.4 90.7h.7M164.2 86.6h.7M172.9 74.5h.7M162.4 78.2h.7M173.5 79.1h.7M175.0 86.2h.7M167.3 80.1h.7M164.4 85.8h.7M160.5 83.1h.7M159.0 85.3h.7M161.6 91.4h.7M164.3 82.6h.7M163.7 84.6h.7M162.3 85.8h.7M162.9 78.3h.7M170.8 84.6h.7M175.4 82.4h.7M172.0 77.1h.7M167.7 83.8h.7M165.6 75.8h.7M161.5 88.4h.7M171.4 87.3h.7M174.8 79.3h.7M168.1 78.7h.7M172.6 83.3h.7M169.6 93.0h.7M167.7 86.9h.7M172.9 81.9h.7M156.4 69.2h.7M167.5 85.7h.7M172.2 75.1h.7M161.1 75.7h.7M167.2 85.2h.7M175.0 92.9h.7M162.7 79.7h.7M163.2 80.1h.7M167.1 81.4h.7M164.5 84.4h.7M173.4 81.8h.7M174.0 79.9h.7M166.7 81.5h.7M163.1 93.8h.7M175.8 87.5h.7M174.2 85.5h.7M173.8 96.4h.7M173.4 81.4h.7M171.3 90.0h.7M169.3 81.9h.7M169.2 79.4h.7M173.7 88.3h.7M166.2 90.3h.7M168.3 89.0h.7M169.5 83.6h.7M172.5 91.2h.7M172.5 83.1h.7M160.3 82.7h.7M167.8 86.9h.7M167.4 84.2h.7M165.3 83.4h.7M168.4 80.8h.7M163.8 80.0h.7M168.5 79.9h.7M170.1 83.4h.7M171.7 77.8h.7M172.9 77.4h.7M172.5 90.0h.7M160.9 84.1h.7M167.2 82.4h.7M168.5 78.7h.7M162.2 83.2h.7M155.8 87.4h.7M172.2 74.0h.7M161.3 81.0h.7M168.2 77.7h.7M177.6 85.4h.7M163.2 88.9h.7M162.6 84.1h.7M170.1 86.2h.7M167.2 80.0h.7M168.3 86.2h.7M174.2 90.7h.7M174.2 75.8h.7M171.7 82.3h.7M171.9 72.2h.7M169.3 85.7h.7M175.7 85.3h.7M166.1 82.6h.7M170.3 80.8h.7M169.4 85.6h.7M166.3 83.4h.7M163.7 80.6h.7M171.9 85.3h.7M173.4 84.2h.7M170.4 87.4h.7M173.0 86.2h.7M170.7 86.3h.7M160.6 80.3h.7M167.1 83.7h.7M180.7 82.8h.7M162.1 88.1h.7M160.1 82.7h.7M175.0 85.0h.7M165.2 78.4h.7M170.1 84.8h.7M175.2 84.3h.7M164.1 83.5h.7M166.3 80.3h.7M170.5 92.3h.7M171.5 81.4h.7M166.6 84.6h.7M164.3 83.7h.7M168.1 80.4h.7M172.0 77.6h.7M170.9 89.9h.7M167.9 81.1h.7M166.0 84.5h.7M161.5 81.6h.7M168.9 81.3h.7M171.8 78.2h.7M166.3 80.7h.7M164.5 86.4h.7M159.8 78.9h.7M182.0 85.0h.7M158.7 83.8h.7M171.4 86.1h.7M162.8 89.3h.7M166.7 78.7h.7M166.0 88.5h.7M171.2 84.5h.7M178.2 75.3h.7M166.3 93.5h.7M170.0 84.8h.7M172.3 86.9h.7M166.3 84.4h.7M171.3 83.7h.7M160.2 78.7h.7M165.6 91.0h.7M169.2 72.4h.7M172.6 75.1h.7M172.6 76.6h.7M162.9 82.3h.7M161.6 82.1h.7M165.5 72.6h.7M167.9 85.0h.7M168.1 85.3h.7M174.3 77.3h.7M161.9 86.8h.7M178.3 85.6h.7M167.7 81.9h.7M171.8 79.5h.7M163.2 86.2h.7M168.7 84.7h.7M169.4 88.5h.7M167.4 79.6h.7M175.8 82.6h.7M175.5 80.9h.7M166.8 82.7h.7M172.3 82.3h.7M170.7 86.3h.7M171.3 80.1h.7M166.0 82.6h.7M158.2 81.8h.7M172.3 84.8h.7M159.9 88.9h.7M164.7 81.8h.7M167.5 90.7h.7M167.3 81.5h.7M166.7 79.5h.7M176.6 84.1h.7M173.0 82.8h.7M163.0 80.1h.7M177.0 86.6h.7M164.0 84.1h.7M167.3 82.9h.7M170.4 79.9h.7M168.6 79.9h.7M172.5 90.1h.7M165.2 80.7h.7M174.0 80.1h.7M169.5 85.4h.7M168.8 86.7h.7M167.0 77.8h.7M166.8 85.9h.7M165.9 80.0h.7M165.9 82.1h.7M193.1 90.9h.7M188.2 94.4h.7M185.9 91.9h.7M184.1 89.9h.7M192.8 93.7h.7M193.6 96.5h.7M194.3 91.4h.7M192.7 86.2h.7M186.8 83.2h.7M195.1 89.7h.7M190.0 93.9h.7M196.2 84.3h.7M190.7 90.2h.7M190.9 91.7h.7M195.4 94.5h.7M190.3 84.6h.7M190.9 93.4h.7M195.7 84.6h.7M189.0 90.7h.7M194.0 90.6h.7M187.4 87.6h.7M185.0 92.1h.7M186.4 94.8h.7M185.2 99.0h.7M188.3 96.9h.7M186.3 94.2h.7M184.6 81.2h.7M189.9 94.7h.7M196.4 86.9h.7M189.5 90.6h.7M183.4 89.1h.7M190.5 90.8h.7M192.4 91.5h.7M190.4 89.8h.7M186.8 86.8h.7M185.1 94.7h.7M194.4 98.5h.7M189.5 85.6h.7M190.5 88.9h.7M191.8 81.9h.7M186.2 95.6h.7M195.2 89.5h.7M191.2 91.4h.7M193.4 94.1h.7M191.6 85.6h.7M187.0 87.4h.7M193.4 91.3h.7M192.1 98.3h.7M186.9 85.3h.7M186.5 93.5h.7M189.8 86.8h.7M194.2 97.2h.7M187.3 84.1h.7M187.2 86.5h.7M186.8 88.6h.7M190.3 89.1h.7M190.3 82.6h.7M193.3 90.2h.7M188.9 85.8h.7M182.4 94.1h.7M179.8 87.5h.7M186.4 96.4h.7M195.5 90.6h.7M194.2 100.3h.7M182.2 92.4h.7M199.0 90.6h.7M190.5 84.6h.7M190.2 88.5h.7M187.4 80.7h.7M187.9 99.5h.7M187.3 80.6h.7M180.6 81.3h.7M189.2 95.9h.7M188.0 88.0h.7M191.8 94.3h.7M194.9 86.2h.7M198.1 97.4h.7M185.9 85.0h.7M197.1 89.6h.7M191.4 91.9h.7M190.9 84.2h.7M185.4 91.0h.7M193.1 92.2h.7M187.4 86.9h.7M187.9 93.2h.7M189.2 91.6h.7M196.6 90.2h.7M189.7 89.4h.7M187.0 89.6h.7M197.8 84.6h.7M185.1 86.5h.7M196.0 98.9h.7M194.3 81.2h.7M188.8 92.6h.7M190.0 92.1h.7M196.3 83.7h.7M194.8 87.0h.7M186.7 93.2h.7M187.4 95.5h.7M184.2 85.3h.7M188.1 85.9h.7M188.6 97.4h.7M194.3 93.8h.7M194.0 98.7h.7M187.5 93.1h.7M193.6 94.8h.7M191.6 89.5h.7M182.0 91.0h.7M192.9 102.8h.7M188.9 90.8h.7M193.3 95.9h.7M191.3 92.7h.7M192.4 84.0h.7M184.8 87.7h.7M197.4 88.5h.7M191.6 83.3h.7M189.6 97.8h.7M189.2 89.1h.7M186.7 81.3h.7M190.9 92.1h.7M188.7 87.8h.7M186.6 94.9h.7M190.4 102.2h.7M186.4 85.4h.7M185.7 93.8h.7M196.2 90.0h.7M195.4 96.5h.7M184.5 92.7h.7M188.6 89.5h.7M192.8 91.7h.7M193.7 85.8h.7M185.4 85.9h.7M186.4 89.7h.7M193.2 90.4h.7M197.7 96.7h.7M187.0 89.3h.7M185.9 91.4h.7M188.3 91.0h.7M192.4 89.9h.7M186.9 92.8h.7M187.4 92.1h.7M191.4 83.8h.7M196.0 92.6h.7M197.7 94.8h.7M198.3 96.2h.7M191.0 92.8h.7M185.7 91.8h.7M185.7 88.9h.7M188.2 91.6h.7M196.6 80.3h.7M197.8 89.0h.7M194.8 88.5h.7M187.6 88.8h.7M190.7 89.8h.7M189.3 85.9h.7M187.1 84.4h.7M193.4 97.8h.7M187.0 96.4h.7M180.2 96.1h.7M192.3 96.8h.7M191.7 102.2h.7M192.1 92.8h.7M185.9 92.3h.7M197.6 97.4h.7M185.7 91.5h.7M190.7 97.8h.7M190.2 87.2h.7M203.1 96.2h.7M191.0 87.0h.7M192.3 84.5h.7M187.2 88.7h.7M186.7 82.4h.7M192.4 92.5h.7M193.5 87.0h.7M194.5 95.6h.7M190.2 87.2h.7M192.9 92.7h.7M186.2 85.8h.7M194.8 92.6h.7M188.0 94.2h.7M192.0 89.2h.7M183.2 91.1h.7M197.2 89.7h.7M190.1 92.6h.7M190.2 82.2h.7M190.4 96.0h.7M186.4 93.5h.7M183.5 85.7h.7M186.7 84.2h.7M191.8 94.7h.7M186.4 83.1h.7M197.6 90.7h.7M183.7 87.9h.7M187.5 88.4h.7M192.7 81.5h.7M196.4 85.3h.7M193.2 96.2h.7M192.9 93.4h.7M183.9 87.9h.7M197.0 92.0h.7M194.2 87.4h.7M210.1 77.2h.7M205.2 79.0h.7M199.5 86.7h.7M201.4 86.7h.7M210.2 74.8h.7M211.0 77.5h.7M200.5 83.7h.7M194.5 84.1h.7M195.7 84.2h.7M190.5 86.8h.7M204.2 79.4h.7M198.5 81.9h.7M205.4 79.2h.7M209.5 80.0h.7M191.9 83.8h.7M207.0 80.5h.7M203.4 80.1h.7M208.2 72.8h.7M200.2 89.4h.7M195.5 86.3h.7M203.6 82.2h.7M191.7 89.1h.7M196.9 87.5h.7M212.4 78.8h.7M209.9 75.3h.7M210.0 74.6h.7M212.0 77.7h.7M200.7 79.6h.7M208.3 78.2h.7M177.6 135.8h.7M178.8 113.2h.7M173.4 112.8h.7M166.5 140.9h.7M165.5 140.0h.7M180.1 113.5h.7M168.0 132.9h.7M171.2 123.6h.7M178.6 115.7h.7M173.9 125.0h.7M172.0 120.6h.7M170.9 132.7h.7M173.4 141.3h.7M171.3 139.1h.7M177.3 124.8h.7M171.2 119.7h.7M177.6 117.4h.7M176.8 99.9h.7M168.8 122.6h.7M173.5 134.1h.7M170.2 127.0h.7M175.5 110.5h.7M167.7 134.6h.7M183.2 109.2h.7M177.2 101.2h.7M184.2 120.5h.7M171.6 116.7h.7M165.8 139.2h.7M185.0 100.8h.7M173.8 116.4h.7M172.4 105.4h.7M182.6 110.0h.7M178.5 115.7h.7M176.0 117.2h.7M175.2 131.8h.7M170.9 103.0h.7M171.7 100.1h.7M183.7 115.7h.7M169.4 130.6h.7M173.9 132.9h.7M168.2 124.6h.7M171.9 125.4h.7M190.8 106.3h.7M182.8 127.3h.7M178.4 123.9h.7M173.8 126.3h.7M157.3 135.6h.7M164.9 140.1h.7M177.6 109.1h.7M176.9 110.0h.7M169.0 123.2h.7M161.9 136.4h.7M172.4 121.5h.7M175.6 125.1h.7M165.1 130.8h.7M175.2 116.8h.7M171.8 121.2h.7M159.6 133.2h.7M185.1 101.6h.7M176.5 105.3h.7M181.6 104.1h.7M158.3 134.7h.7M171.0 121.0h.7M179.2 108.2h.7M164.0 129.6h.7M170.2 107.6h.7M176.4 109.1h.7M170.9 114.4h.7M177.1 113.8h.7M171.4 126.5h.7M168.4 135.0h.7M172.8 139.8h.7M176.5 115.7h.7M177.5 114.6h.7M173.4 119.5h.7M184.0 109.8h.7M172.7 131.8h.7M172.9 129.6h.7M170.6 118.5h.7M180.6 106.3h.7M172.9 129.9h.7M173.1 121.9h.7M171.8 113.8h.7M172.9 122.0h.7M176.3 124.8h.7M172.0 130.6h.7M174.9 124.0h.7M177.4 119.6h.7M165.4 105.4h.7M171.9 121.5h.7M176.7 117.7h.7M174.5 134.3h.7M171.3 119.7h.7M164.1 141.0h.7M174.4 119.1h.7M179.3 109.1h.7M175.9 118.5h.7M170.9 105.9h.7M169.6 119.5h.7M172.9 127.9h.7M170.1 119.9h.7M172.6 108.8h.7M174.5 120.2h.7M176.2 101.9h.7M180.7 110.5h.7M167.8 118.2h.7M165.6 133.7h.7M166.8 135.5h.7M183.2 113.6h.7M182.0 109.1h.7M171.7 140.4h.7M182.9 124.5h.7M177.7 113.5h.7M175.8 120.3h.7M174.9 125.0h.7M174.9 120.1h.7M182.2 102.8h.7M178.3 114.4h.7M173.8 98.8h.7M175.4 125.2h.7M165.7 133.6h.7M177.9 106.2h.7M182.6 111.0h.7M168.7 110.6h.7M155.7 128.2h.7M184.8 124.9h.7M179.3 122.0h.7M176.9 136.6h.7M178.1 125.6h.7M169.7 136.9h.7M166.1 131.6h.7M176.7 112.8h.7M175.7 103.2h.7M165.6 125.3h.7M168.6 123.1h.7M172.9 139.1h.7M171.4 116.2h.7M178.7 122.4h.7M172.6 126.7h.7M173.9 102.1h.7M180.1 122.7h.7M178.5 98.4h.7M172.3 133.2h.7M173.9 113.7h.7M162.3 135.4h.7M170.5 108.1h.7M172.5 120.5h.7M161.0 132.7h.7M172.8 128.9h.7M163.9 133.0h.7M170.7 106.8h.7M157.3 131.8h.7M183.6 102.9h.7M163.2 123.7h.7M164.5 136.4h.7M176.9 110.0h.7M170.1 116.6h.7M171.3 131.3h.7M165.8 133.5h.7M165.7 139.6h.7M169.3 139.6h.7M178.6 110.6h.7M162.7 138.2h.7M170.7 115.7h.7M170.3 131.9h.7M181.1 115.8h.7M166.4 135.0h.7M165.4 124.4h.7M170.8 134.4h.7M162.9 134.1h.7M170.9 108.5h.7M170.2 108.4h.7M186.8 92.5h.7M172.6 106.8h.7M172.4 122.5h.7M187.1 109.9h.7M166.8 125.5h.7M173.3 115.1h.7M169.2 121.3h.7M172.7 100.2h.7M170.8 121.9h.7M188.7 112.0h.7M166.8 112.7h.7M166.6 134.4h.7M177.5 117.8h.7M184.4 116.3h.7M178.1 114.4h.7M177.6 128.9h.7M171.1 125.7h.7M172.5 118.0h.7M181.1 103.4h.7M174.3 107.6h.7M161.7 138.4h.7M171.9 116.2h.7M186.4 101.8h.7M171.8 112.4h.7M180.7 102.4h.7M172.1 102.9h.7M184.7 96.9h.7M164.2 133.0h.7M177.3 116.7h.7M174.6 118.2h.7M176.4 123.6h.7M173.9 113.3h.7M168.5 130.8h.7M182.0 108.9h.7M174.3 109.5h.7M160.6 139.2h.7M171.5 118.9h.7M166.8 118.9h.7M176.0 126.1h.7M177.1 122.7h.7M179.9 111.6h.7M176.3 124.8h.7M168.9 132.7h.7M174.8 122.0h.7M176.0 110.8h.7M172.3 127.2h.7M171.7 125.3h.7M170.9 120.1h.7M177.5 134.9h.7M180.3 100.7h.7M168.9 115.5h.7M174.4 114.8h.7M173.1 103.5h.7M177.2 105.2h.7M172.1 114.9h.7M172.8 119.7h.7M173.5 114.7h.7M177.0 119.8h.7M175.4 125.5h.7M181.9 103.0h.7M184.4 102.7h.7M165.0 108.9h.7M166.0 132.4h.7M172.5 141.2h.7M173.1 116.0h.7M180.3 122.3h.7M168.9 131.9h.7M167.4 122.1h.7M175.5 127.9h.7M176.2 117.3h.7M165.9 140.1h.7M182.5 103.3h.7M180.5 107.0h.7M172.5 129.6h.7M169.4 117.9h.7M169.5 131.1h.7M177.5 104.7h.7M167.2 106.5h.7M174.5 120.4h.7M178.3 105.2h.7M177.8 115.4h.7M179.5 126.3h.7M170.5 121.2h.7M177.1 125.2h.7M175.7 139.0h.7M182.8 107.3h.7M179.0 129.1h.7M166.3 113.0h.7M171.0 118.9h.7M157.5 130.5h.7M175.6 113.3h.7M165.3 110.5h.7M178.4 131.8h.7M159.7 125.7h.7M169.7 129.8h.7M171.5 118.2h.7M172.1 127.1h.7M180.6 126.0h.7M165.7 131.4h.7M177.2 103.2h.7M181.3 105.3h.7M173.8 122.0h.7M184.8 109.2h.7M176.0 116.1h.7M177.8 104.6h.7M177.7 129.1h.7M170.6 122.4h.7M168.3 113.0h.7M167.8 129.9h.7M185.0 109.3h.7M175.0 99.2h.7M175.2 120.8h.7M173.9 114.0h.7M176.9 113.4h.7M174.6 127.5h.7M166.0 131.5h.7M158.2 127.5h.7M180.7 113.5h.7M178.0 108.8h.7M178.1 108.9h.7M174.3 124.1h.7M174.3 111.0h.7M173.3 117.7h.7M175.6 113.9h.7M173.3 110.0h.7M175.6 100.5h.7M185.5 112.3h.7M163.6 131.0h.7M178.3 122.8h.7M174.4 123.1h.7M184.9 121.7h.7M167.3 133.4h.7M175.3 109.7h.7M171.1 126.3h.7M170.4 125.9h.7M167.2 127.6h.7M177.7 130.1h.7M172.4 116.1h.7M170.5 125.2h.7M172.0 135.4h.7M170.1 136.4h.7M167.4 139.8h.7M171.4 130.4h.7M170.9 123.7h.7M177.3 105.1h.7M172.8 108.5h.7M159.3 128.1h.7M180.3 104.7h.7M186.6 107.1h.7M181.2 112.2h.7M172.4 118.0h.7M178.6 109.8h.7M172.9 119.1h.7M171.5 117.1h.7M169.3 112.9h.7M176.5 118.3h.7M171.6 134.4h.7M177.1 124.0h.7M175.5 133.9h.7M171.2 130.4h.7M171.9 125.1h.7M162.9 141.4h.7M164.9 132.8h.7M174.3 115.5h.7M171.9 112.5h.7M178.8 113.8h.7M167.9 134.5h.7M182.7 111.2h.7M177.8 106.4h.7M171.6 107.4h.7M171.4 131.7h.7M178.6 95.5h.7M167.5 121.6h.7M166.5 127.6h.7M175.4 108.7h.7M175.7 110.1h.7M170.0 134.4h.7M172.5 131.0h.7M176.3 109.4h.7M172.1 103.5h.7M168.3 127.1h.7M161.7 131.7h.7M174.4 119.6h.7M172.2 132.0h.7M170.1 113.3h.7M188.9 106.5h.7M169.1 117.1h.7M172.9 125.7h.7M173.0 98.2h.7M178.8 119.7h.7M169.2 121.2h.7M173.3 123.9h.7M175.8 106.1h.7M171.7 119.9h.7M171.2 106.7h.7M174.7 126.9h.7M199.0 124.5h.7M166.9 114.9h.7M182.6 127.5h.7M166.8 123.4h.7M193.1 125.6h.7M175.7 101.8h.7M181.6 133.0h.7M182.9 121.4h.7M187.8 119.2h.7M181.6 125.5h.7M176.5 116.1h.7M180.9 128.8h.7M194.2 91.7h.7M177.8 129.9h.7M190.1 109.6h.7M172.0 113.3h.7M188.0 115.9h.7M185.9 117.8h.7M175.9 126.5h.7M181.8 120.1h.7M159.5 124.2h.7M188.0 113.7h.7M174.7 119.0h.7M163.1 117.2h.7M188.1 125.0h.7M190.9 132.6h.7M165.6 124.0h.7M178.3 138.7h.7M177.4 124.6h.7M184.6 111.9h.7M172.5 112.7h.7M182.0 119.7h.7M165.9 115.8h.7M175.3 105.8h.7M183.7 95.6h.7M181.3 129.9h.7M161.8 122.1h.7M162.7 109.7h.7M175.0 124.5h.7M174.2 128.8h.7M182.1 116.1h.7M177.8 113.1h.7M178.9 109.9h.7M185.8 122.2h.7M184.1 122.9h.7M192.7 132.2h.7M182.6 124.6h.7M176.0 109.5h.7M173.4 129.4h.7M170.2 128.9h.7M187.3 127.0h.7M182.1 122.7h.7M202.8 134.9h.7M180.5 118.4h.7M185.6 127.7h.7M181.3 135.9h.7M189.6 120.8h.7M173.9 112.4h.7M189.8 128.1h.7M172.0 111.8h.7M187.7 115.1h.7M189.2 111.0h.7M162.6 122.0h.7M169.8 111.7h.7M181.4 108.8h.7M198.0 110.4h.7M184.6 120.7h.7M173.9 132.7h.7M200.8 121.4h.7M191.1 126.2h.7M167.9 124.1h.7M179.0 117.7h.7M192.7 130.4h.7M177.9 132.5h.7M168.7 130.4h.7M195.8 132.2h.7M182.8 129.7h.7M176.3 117.2h.7M191.4 100.3h.7M173.8 134.6h.7M164.8 118.8h.7M171.7 119.7h.7M184.9 128.0h.7M175.8 118.3h.7M174.3 120.4h.7M164.0 115.9h.7M179.3 103.8h.7M179.2 110.5h.7M187.7 138.2h.7M178.3 97.9h.7M167.3 121.1h.7M171.8 118.0h.7M199.1 138.5h.7M181.0 115.7h.7M182.1 113.4h.7M171.7 134.0h.7M193.2 115.5h.7M168.6 127.2h.7M183.9 137.0h.7M165.1 127.8h.7M170.8 120.4h.7" stroke="#4535ab" stroke-width=".7" stroke-opacity=".55" fill="none" clip-path="url(#clip2)"/>
<path d="M172.8 85.3h.7M156.9 94.1h.7M178.1 94.7h.7M169.1 89.0h.7M171.8 93.8h.7M174.1 91.1h.7M176.2 99.4h.7M162.0 89.3h.7M177.0 95.4h.7M164.1 93.3h.7M172.9 92.1h.7M168.8 91.0h.7M177.5 86.4h.7M164.9 87.7h.7M164.5 80.1h.7M172.6 92.1h.7M173.4 88.0h.7M160.4 89.9h.7M161.9 96.6h.7M166.9 85.9h.7M165.3 94.3h.7M179.0 90.8h.7M158.2 85.9h.7M169.4 91.0h.7M177.6 95.5h.7M169.1 90.3h.7M172.1 91.1h.7M167.2 93.7h.7M170.3 85.9h.7M168.4 90.5h.7M170.5 90.2h.7M178.0 92.5h.7M169.5 94.4h.7M160.5 97.4h.7M161.5 85.4h.7M166.9 89.9h.7M173.4 91.7h.7M156.5 100.3h.7M171.4 95.9h.7M185.3 90.8h.7M167.6 88.0h.7M170.6 85.5h.7M165.5 95.1h.7M169.4 90.2h.7M168.3 87.2h.7M165.7 95.1h.7M169.7 85.8h.7M169.4 88.4h.7M182.5 86.8h.7M166.8 94.7h.7M161.8 90.7h.7M160.8 93.3h.7M175.2 83.7h.7M174.2 86.8h.7M159.7 94.9h.7M177.0 90.2h.7M158.3 96.1h.7M168.8 83.6h.7M173.2 91.4h.7M160.0 97.9h.7M163.0 93.8h.7M168.9 99.3h.7M173.4 92.9h.7M172.6 83.5h.7M172.3 89.0h.7M175.3 98.5h.7M168.7 99.5h.7M155.5 85.2h.7M159.2 95.6h.7M163.7 77.6h.7M171.3 89.9h.7M169.1 86.0h.7M155.9 93.8h.7M168.0 88.9h.7M169.0 90.8h.7M169.4 91.6h.7M170.5 90.5h.7M171.8 96.7h.7M176.3 86.2h.7M164.6 93.4h.7M167.3 84.2h.7M173.1 94.1h.7M173.6 91.4h.7M178.9 89.4h.7M160.1 92.5h.7M178.9 93.4h.7M173.7 91.5h.7M158.3 78.0h.7M172.6 83.9h.7M180.8 90.8h.7M177.4 96.6h.7M159.5 92.1h.7M166.7 102.0h.7M172.9 87.9h.7M166.8 92.9h.7M160.4 88.1h.7M166.9 94.7h.7M172.2 91.4h.7M165.6 92.7h.7M158.1 90.2h.7M160.9 89.6h.7M184.0 85.2h.7M166.8 93.6h.7M165.4 91.0h.7M172.2 86.6h.7M170.6 91.1h.7M158.1 87.5h.7M182.9 87.6h.7M175.3 82.9h.7M170.3 93.4h.7M163.7 85.3h.7M162.2 88.8h.7M168.4 91.1h.7M172.7 87.7h.7M170.0 86.8h.7M173.9 91.9h.7M176.2 93.5h.7M171.8 85.6h.7M159.4 96.7h.7M175.6 90.6h.7M156.1 96.8h.7M172.8 89.3h.7M182.5 83.2h.7M156.4 85.2h.7M158.5 89.2h.7M168.9 86.6h.7M166.5 90.0h.7M174.4 97.6h.7M171.3 88.5h.7M174.3 95.0h.7M164.3 98.3h.7M157.4 85.9h.7M177.7 87.7h.7M165.8 102.4h.7M173.7 88.1h.7M168.4 91.5h.7M161.5 94.3h.7M176.4 99.0h.7M166.0 85.9h.7M173.0 85.5h.7M164.6 92.0h.7M170.6 88.6h.7M186.0 93.0h.7M158.0 85.5h.7M168.3 99.8h.7M166.6 81.7h.7M165.4 81.3h.7M163.0 83.3h.7M171.5 89.3h.7M176.6 97.5h.7M168.1 89.1h.7M168.8 94.2h.7M166.8 90.0h.7M167.9 98.0h.7M168.4 92.0h.7M186.9 96.4h.7M183.2 94.6h.7M173.1 83.9h.7M172.2 100.8h.7M163.5 86.5h.7M163.1 88.0h.7M175.4 82.4h.7M169.9 98.1h.7M169.9 88.3h.7M161.8 96.3h.7M176.5 94.6h.7M177.5 85.0h.7M163.7 84.9h.7M163.2 96.3h.7M168.6 96.7h.7M182.6 93.2h.7M175.9 100.5h.7M156.8 88.5h.7M166.8 83.2h.7M163.9 93.0h.7M159.8 91.4h.7M168.4 91.1h.7M168.0 94.2h.7M169.6 92.9h.7M160.9 81.8h.7M162.9 96.3h.7M159.8 87.4h.7M171.9 89.6h.7M163.8 93.2h.7M164.0 95.9h.7M166.5 93.8h.7M175.8 86.1h.7M170.8 85.9h.7M166.4 79.9h.7M173.8 108.4h.7M173.2 91.7h.7M157.0 92.1h.7M167.7 92.1h.7M172.4 94.8h.7M175.7 88.5h.7M174.4 93.2h.7M171.0 89.7h.7M165.3 96.7h.7M167.8 85.7h.7M171.1 95.0h.7M170.3 83.8h.7M170.8 79.7h.7M165.2 92.3h.7M173.9 87.3h.7M157.8 88.3h.7M166.7 96.3h.7M172.7 87.9h.7M176.9 96.2h.7M174.8 96.7h.7M162.4 95.9h.7M175.5 90.6h.7M173.7 91.7h.7M161.9 77.8h.7M161.1 94.1h.7M170.2 92.8h.7M159.9 97.9h.7M167.3 80.8h.7M176.7 88.8h.7M168.2 82.5h.7M163.9 104.7h.7M165.9 92.9h.7M170.4 88.2h.7M176.3 93.6h.7M172.9 96.9h.7M170.0 91.6h.7M172.1 94.2h.7M167.1 95.2h.7M164.1 87.1h.7M166.8 89.8h.7M166.7 90.1h.7M174.5 95.6h.7M165.4 88.8h.7M164.6 83.5h.7M159.0 91.3h.7M165.8 94.7h.7M164.7 89.6h.7M168.5 83.3h.7M167.5 90.7h.7M157.1 91.9h.7M172.0 85.5h.7M159.3 87.1h.7M169.3 89.7h.7M175.3 92.4h.7M171.8 88.2h.7M177.6 98.2h.7M181.0 92.6h.7M165.9 85.7h.7M170.6 88.2h.7M167.7 89.1h.7M162.8 97.3h.7M176.3 85.9h.7M177.1 92.6h.7M183.3 92.7h.7M172.7 89.1h.7M159.5 90.2h.7M172.5 87.1h.7M159.7 89.1h.7M166.6 91.9h.7M167.5 96.0h.7M176.1 89.5h.7M170.4 96.6h.7M167.9 95.2h.7M167.6 88.3h.7M180.4 94.6h.7M175.4 93.9h.7M174.3 82.0h.7M164.6 95.0h.7M188.4 87.0h.7M169.3 96.8h.7M176.4 92.0h.7M161.1 95.2h.7M174.8 90.7h.7M166.9 88.0h.7M160.3 94.2h.7M160.2 96.3h.7M163.6 95.7h.7M175.8 86.4h.7M177.6 91.5h.7M182.8 91.8h.7M177.3 89.8h.7M174.9 93.4h.7M165.1 88.5h.7M171.6 89.0h.7M165.0 91.0h.7M174.6 82.5h.7M168.2 80.5h.7M165.4 96.5h.7M166.4 93.4h.7M178.6 86.2h.7M162.7 83.1h.7M163.0 88.8h.7M157.9 85.2h.7M169.6 99.2h.7M166.7 87.4h.7M167.9 87.9h.7M164.8 94.8h.7M170.4 88.4h.7M173.2 89.6h.7M173.4 92.3h.7M171.6 94.5h.7M161.1 92.7h.7M184.2 93.3h.7M159.6 101.2h.7M175.3 84.7h.7M181.9 90.3h.7M180.6 80.5h.7M160.4 92.3h.7M166.9 93.2h.7M165.6 97.0h.7M173.3 89.1h.7M161.4 92.9h.7M155.8 85.5h.7M164.8 88.8h.7M171.4 94.1h.7M158.0 91.8h.7M168.2 94.0h.7M161.6 91.7h.7M177.7 89.9h.7M171.7 91.8h.7M159.6 90.7h.7M161.8 91.8h.7M169.2 97.1h.7M166.2 93.0h.7M163.2 86.3h.7M164.8 89.6h.7M163.6 80.3h.7M165.8 91.2h.7M169.5 94.2h.7M164.5 94.2h.7M162.0 99.1h.7M176.3 96.8h.7M163.6 89.6h.7M159.5 85.0h.7M164.3 91.6h.7M166.1 95.2h.7M167.6 93.9h.7M172.7 84.1h.7M172.1 90.7h.7M168.9 94.2h.7M166.7 84.6h.7M187.1 89.1h.7M167.7 87.4h.7M172.2 88.1h.7M166.8 91.3h.7M166.3 92.8h.7M167.3 91.7h.7M175.1 88.6h.7M168.7 96.8h.7M164.9 95.8h.7M160.5 90.9h.7M166.5 99.3h.7M176.0 91.3h.7M172.8 91.7h.7M171.3 95.1h.7M161.2 92.0h.7M162.3 89.4h.7M170.4 92.4h.7M166.7 98.7h.7M162.5 94.3h.7M171.5 92.4h.7M170.0 82.9h.7M159.1 89.8h.7M160.5 94.6h.7M168.0 96.9h.7M177.1 92.4h.7M162.3 86.3h.7M168.5 86.2h.7M167.2 88.3h.7M191.1 94.6h.7M171.3 82.4h.7M172.9 95.2h.7M173.2 93.8h.7M166.5 91.3h.7M179.9 83.2h.7M173.5 85.6h.7M173.2 87.8h.7M173.9 91.3h.7M180.2 92.1h.7M156.1 98.8h.7M169.0 93.0h.7M166.0 90.2h.7M165.5 91.0h.7M168.4 91.9h.7M169.0 81.6h.7M161.6 93.3h.7M179.5 88.5h.7M174.8 85.0h.7M164.7 98.1h.7M174.1 92.1h.7M170.3 86.6h.7M169.8 90.2h.7M159.8 81.8h.7M169.8 82.9h.7M167.8 94.7h.7M163.8 90.5h.7M171.6 88.9h.7M163.6 94.9h.7M167.8 97.1h.7M155.9 97.4h.7M172.2 90.9h.7M172.4 93.0h.7M164.2 87.1h.7M170.8 94.1h.7M169.9 87.5h.7M171.5 94.4h.7M170.7 89.8h.7M176.6 94.2h.7M176.7 88.3h.7M162.4 83.6h.7M160.6 89.0h.7M169.4 97.6h.7M166.3 83.4h.7M160.2 88.3h.7M183.0 88.0h.7M157.9 80.0h.7M158.4 87.3h.7M164.2 96.2h.7M161.4 93.8h.7M173.2 96.0h.7M168.8 86.8h.7M170.0 90.7h.7M170.1 93.8h.7M161.9 96.6h.7M161.1 84.2h.7M178.1 92.5h.7M160.9 91.6h.7M164.6 89.5h.7M177.2 85.3h.7M174.2 94.6h.7M157.5 88.8h.7M164.2 97.7h.7M158.1 85.7h.7M162.5 97.7h.7M172.2 90.8h.7M158.4 79.4h.7M168.3 93.5h.7M172.3 93.4h.7M171.3 98.1h.7M181.2 93.3h.7M173.8 90.9h.7M159.1 85.2h.7M167.9 89.5h.7M166.3 94.6h.7M170.3 91.6h.7M162.0 93.1h.7M156.2 91.1h.7M169.2 90.3h.7M166.9 99.8h.7M168.6 95.0h.7M168.0 86.6h.7M163.9 93.7h.7M175.0 85.3h.7M171.0 87.0h.7M159.3 79.3h.7M174.2 91.0h.7M177.1 94.9h.7M174.6 86.3h.7M155.8 90.2h.7M175.1 93.6h.7M176.7 86.5h.7M176.7 96.7h.7M163.0 92.1h.7M175.2 84.6h.7M165.6 85.4h.7M178.9 93.0h.7M165.4 82.0h.7M161.3 88.4h.7M166.7 100.7h.7M169.2 89.4h.7M171.7 89.1h.7M164.4 87.2h.7M169.2 91.9h.7M175.5 90.3h.7M174.4 84.9h.7M172.8 95.6h.7M177.5 86.8h.7M172.3 81.3h.7M160.5 89.5h.7M160.8 96.7h.7M166.4 86.6h.7M169.2 91.2h.7M173.2 91.7h.7M159.5 94.3h.7M177.4 97.0h.7M169.8 81.8h.7M158.5 88.7h.7M168.8 98.9h.7M169.7 87.6h.7M170.9 98.8h.7M165.7 92.7h.7M174.6 91.4h.7M162.3 86.5h.7M169.9 98.9h.7M162.1 88.2h.7M170.4 92.0h.7M177.6 91.9h.7M165.3 90.5h.7M172.1 84.8h.7M164.9 93.8h.7M174.7 86.2h.7M171.7 91.1h.7M168.5 92.9h.7M172.3 88.4h.7M160.8 90.2h.7M167.9 94.4h.7M164.6 91.2h.7M168.6 85.6h.7M174.2 99.2h.7M168.7 102.7h.7M172.4 83.9h.7M155.9 96.2h.7M190.9 93.1h.7M178.6 88.5h.7M167.5 92.6h.7M166.9 94.8h.7M176.7 81.3h.7M170.9 92.8h.7M168.5 92.4h.7M164.3 97.5h.7M166.4 83.0h.7M172.7 94.8h.7M168.9 96.5h.7M171.0 89.9h.7M177.9 93.3h.7M161.5 95.1h.7M159.5 90.4h.7M161.0 99.2h.7M157.0 88.5h.7M168.8 93.4h.7M159.1 88.4h.7M173.5 96.5h.7M178.6 91.5h.7M164.1 82.0h.7M157.3 92.4h.7M171.8 94.0h.7M160.1 87.8h.7M163.1 97.3h.7M162.7 92.3h.7M171.1 97.5h.7M166.8 95.6h.7M173.8 98.0h.7M172.4 85.1h.7M167.8 93.2h.7M159.6 90.0h.7M165.6 80.5h.7M175.2 95.5h.7M159.8 92.3h.7M178.9 86.6h.7M157.1 92.8h.7M174.2 91.4h.7M172.5 92.8h.7M170.7 87.9h.7M166.2 93.9h.7M161.8 94.5h.7M175.0 96.0h.7M166.8 97.6h.7M162.0 92.9h.7M183.9 82.6h.7M169.5 91.0h.7M179.9 94.1h.7M171.6 88.6h.7M171.8 93.1h.7M171.8 86.6h.7M162.2 97.5h.7M157.5 93.7h.7M173.2 93.7h.7M173.0 91.2h.7M176.4 97.9h.7M178.8 95.6h.7M165.2 87.3h.7M166.3 90.5h.7M166.0 91.0h.7M164.3 90.4h.7M171.3 87.1h.7M162.4 93.6h.7M172.6 97.9h.7M161.8 91.7h.7M165.6 99.9h.7M174.1 93.5h.7M170.2 86.6h.7M165.4 94.2h.7M157.1 90.5h.7M169.8 88.0h.7M163.6 93.3h.7M170.1 100.3h.7M168.6 80.5h.7M167.1 93.7h.7M167.3 94.6h.7M167.5 89.8h.7M170.8 90.7h.7M159.0 101.7h.7M174.0 89.4h.7M156.4 84.2h.7M167.8 88.6h.7M168.9 88.7h.7M159.0 91.5h.7M182.2 92.3h.7M161.5 93.4h.7M169.5 88.9h.7M165.1 88.9h.7M167.4 86.3h.7M185.3 85.1h.7M163.1 95.7h.7M164.2 89.4h.7M175.5 97.2h.7M159.7 96.5h.7M166.8 91.6h.7M177.8 88.1h.7M166.0 85.3h.7M155.7 96.6h.7M159.0 92.3h.7M168.0 90.8h.7M163.0 85.6h.7M168.3 88.3h.7M163.8 89.4h.7M170.5 86.9h.7M181.4 95.6h.7M161.4 100.7h.7M161.7 81.2h.7M161.1 92.3h.7M167.2 94.5h.7M164.0 81.5h.7M182.0 87.6h.7M167.0 89.6h.7M167.7 99.0h.7M166.4 89.5h.7M163.5 88.7h.7M175.5 92.5h.7M169.2 85.4h.7M172.5 101.4h.7M162.8 86.0h.7M172.6 79.1h.7M177.9 97.5h.7M171.0 88.7h.7M167.4 90.9h.7M169.7 90.1h.7M170.9 86.7h.7M169.5 90.3h.7M163.8 85.8h.7M168.5 97.8h.7M170.8 90.8h.7M170.1 93.2h.7M170.3 92.7h.7M169.5 88.6h.7M160.5 84.2h.7M170.3 93.4h.7M172.9 97.0h.7M177.6 82.5h.7M172.4 94.4h.7M175.2 90.3h.7M170.1 88.3h.7M171.5 89.8h.7M164.3 93.5h.7M169.5 91.3h.7M159.4 81.8h.7M171.8 94.4h.7M162.5 87.0h.7M171.5 87.1h.7M167.6 90.3h.7M160.8 93.4h.7M171.4 95.8h.7M163.3 90.2h.7M171.5 90.3h.7M163.3 90.6h.7M170.9 88.9h.7M161.4 91.1h.7M156.0 87.8h.7M169.3 83.9h.7M162.8 90.8h.7M178.0 88.8h.7M178.0 85.6h.7M171.7 101.8h.7M159.8 93.8h.7M177.7 84.9h.7M180.9 90.4h.7M175.1 89.6h.7M178.7 100.0h.7M173.2 86.4h.7M170.4 95.4h.7M159.3 100.7h.7M163.2 97.8h.7M176.5 81.3h.7M172.4 97.3h.7M174.0 92.1h.7M178.2 91.4h.7M166.9 97.8h.7M171.3 93.3h.7M167.3 93.3h.7M162.2 85.0h.7M169.8 91.0h.7M162.8 86.1h.7M164.1 91.1h.7M165.7 77.9h.7M173.0 97.8h.7M178.2 87.3h.7M177.3 100.8h.7M169.1 91.2h.7M160.7 89.1h.7M166.8 94.2h.7M167.4 92.7h.7M167.8 97.3h.7M160.2 99.7h.7M173.4 86.0h.7M168.2 80.5h.7M164.1 99.4h.7M165.1 84.4h.7M173.2 90.2h.7M171.8 101.4h.7M173.6 94.0h.7M164.4 92.8h.7M172.4 88.6h.7M163.6 84.1h.7M172.4 90.1h.7M173.6 98.8h.7M163.5 90.9h.7M168.2 84.4h.7M174.8 84.0h.7M167.2 92.9h.7M167.8 93.3h.7M160.0 96.1h.7M165.5 87.1h.7M167.4 85.0h.7M166.3 85.9h.7M183.8 90.4h.7M169.8 103.6h.7M166.0 89.7h.7M168.3 91.3h.7M163.2 95.8h.7M167.8 93.1h.7M172.2 86.5h.7M163.8 84.7h.7M159.7 90.5h.7M171.8 84.7h.7M159.1 91.3h.7M168.0 84.9h.7M165.6 89.2h.7M160.7 82.6h.7M174.6 88.8h.7M156.8 90.7h.7M172.9 90.1h.7M167.5 93.6h.7M173.3 84.4h.7M171.4 92.1h.7M164.3 91.5h.7M167.4 80.3h.7M159.1 96.9h.7M165.9 93.3h.7M161.8 82.8h.7M169.2 96.6h.7M163.7 95.5h.7M178.7 89.1h.7M173.4 94.5h.7M171.3 83.3h.7M166.6 87.0h.7M171.3 90.7h.7M160.8 85.8h.7M162.7 93.6h.7M176.2 87.0h.7M176.4 93.0h.7M160.7 94.0h.7M157.3 92.8h.7M181.6 97.2h.7M174.5 92.8h.7M160.6 96.0h.7M164.3 77.2h.7M168.6 91.8h.7M172.4 86.9h.7M176.8 92.9h.7M165.0 93.5h.7M171.2 89.7h.7M164.3 89.7h.7M165.6 101.5h.7M165.0 93.7h.7M168.9 86.4h.7M162.2 83.9h.7M170.3 96.9h.7M164.9 102.1h.7M179.3 93.8h.7M159.5 93.7h.7M162.2 91.4h.7M171.9 92.6h.7M158.0 95.1h.7M169.0 79.4h.7M172.2 97.3h.7M169.0 97.5h.7M170.5 80.6h.7M161.6 90.1h.7M161.0 91.3h.7M173.4 90.0h.7M178.8 91.3h.7M186.3 78.9h.7M160.0 90.0h.7M161.6 86.9h.7M166.2 93.0h.7M161.7 96.1h.7M169.3 93.0h.7M187.2 91.4h.7M162.4 93.7h.7M170.9 85.5h.7M179.8 99.0h.7M169.7 92.6h.7M157.2 88.4h.7M167.1 91.1h.7M174.1 96.0h.7M161.8 80.6h.7M168.6 95.2h.7M173.8 95.8h.7M172.7 90.2h.7M169.1 93.6h.7M166.7 85.3h.7M175.9 98.6h.7M171.7 84.4h.7M173.1 94.5h.7M157.5 90.7h.7M177.5 94.2h.7M167.0 90.5h.7M171.4 89.9h.7M174.1 93.3h.7M169.5 90.8h.7M168.4 85.6h.7M168.0 96.4h.7M167.3 90.7h.7M167.0 90.5h.7M166.1 91.9h.7M176.3 85.0h.7M164.7 92.6h.7M157.9 90.6h.7M167.2 94.7h.7M162.3 91.4h.7M158.8 88.5h.7M166.3 90.3h.7M174.0 94.3h.7M161.9 93.9h.7M170.6 93.5h.7M163.6 88.2h.7M171.3 98.1h.7M168.3 84.4h.7M163.7 98.3h.7M180.0 92.3h.7M164.4 89.0h.7M172.9 88.5h.7M170.9 90.7h.7M164.7 89.5h.7M166.8 99.3h.7M166.6 88.6h.7M168.6 86.0h.7M171.8 84.6h.7M177.7 90.5h.7M171.4 86.7h.7M171.6 92.1h.7M163.9 87.3h.7M172.1 94.2h.7M172.1 96.7h.7M163.0 92.8h.7M161.2 95.9h.7M169.8 98.0h.7M179.9 89.2h.7M166.1 90.4h.7M174.1 87.8h.7M165.8 91.4h.7M169.3 93.5h.7M162.0 84.2h.7M168.1 96.9h.7M159.3 91.8h.7M162.2 92.0h.7M163.8 91.0h.7M167.2 95.8h.7M166.2 92.9h.7M170.5 97.3h.7M173.8 93.4h.7M177.2 91.1h.7M171.4 95.1h.7M169.3 89.0h.7M166.2 95.9h.7M172.7 90.0h.7M173.2 90.9h.7M177.1 90.1h.7M171.4 83.9h.7M165.0 86.1h.7M166.9 88.2h.7M169.3 93.2h.7M167.3 86.5h.7M158.2 88.5h.7M173.3 91.8h.7M180.6 88.8h.7M165.9 94.1h.7M177.2 93.6h.7M169.7 91.9h.7M165.2 84.6h.7M160.4 91.4h.7M169.1 88.7h.7M174.6 91.4h.7M167.5 94.7h.7M164.4 84.8h.7M173.9 92.8h.7M182.3 94.2h.7M166.4 99.5h.7M163.2 94.4h.7M171.1 86.0h.7M169.1 94.6h.7M171.1 87.9h.7M162.2 97.9h.7M170.4 84.9h.7M170.3 90.1h.7M164.4 82.0h.7M170.3 100.1h.7M181.3 95.3h.7M172.9 94.4h.7M178.6 90.3h.7M173.9 97.1h.7M174.7 91.8h.7M168.6 91.8h.7M170.2 91.1h.7M173.8 86.6h.7M167.3 88.3h.7M162.1 92.5h.7M166.9 95.7h.7M180.3 96.5h.7M176.0 90.9h.7M170.6 91.7h.7M174.7 90.7h.7M166.3 90.3h.7M162.3 91.6h.7M159.4 100.3h.7M173.1 99.2h.7M168.4 96.8h.7M161.5 99.6h.7M171.2 91.3h.7M167.7 86.7h.7M159.5 93.1h.7M167.6 92.7h.7M180.7 93.3h.7M168.0 87.3h.7M165.5 85.7h.7M173.9 87.0h.7M162.0 93.8h.7M178.8 88.7h.7M161.7 92.1h.7M180.0 95.5h.7M160.8 89.1h.7M170.1 92.2h.7M170.4 89.7h.7M162.5 95.2h.7M167.5 86.0h.7M170.4 90.5h.7M162.4 89.7h.7M173.1 85.3h.7M177.5 91.6h.7M176.8 98.1h.7M169.8 87.2h.7M168.9 95.7h.7M175.5 89.3h.7M166.1 93.0h.7M164.4 96.1h.7M162.1 82.5h.7M180.3 99.8h.7M174.6 84.4h.7M169.3 97.5h.7M162.7 93.9h.7M177.2 95.2h.7M169.1 93.5h.7M170.7 92.9h.7M157.7 84.6h.7M173.0 94.4h.7M161.3 95.0h.7M170.3 90.3h.7M161.9 94.3h.7M163.3 94.3h.7M168.1 94.0h.7M174.0 89.6h.7M159.0 90.4h.7M173.5 91.0h.7M161.2 88.5h.7M178.5 89.6h.7M161.2 88.5h.7M172.5 93.1h.7M167.6 92.9h.7M168.4 89.7h.7M157.7 91.1h.7M169.7 90.8h.7M174.3 94.5h.7M175.3 85.8h.7M159.1 90.2h.7M178.6 90.2h.7M169.9 98.9h.7M177.0 91.1h.7M175.5 94.4h.7M168.6 94.9h.7M172.8 88.4h.7M172.5 88.2h.7M171.1 94.2h.7M167.9 80.1h.7M164.3 88.3h.7M173.7 90.8h.7M171.7 91.4h.7M158.6 92.5h.7M178.8 91.6h.7M166.7 84.7h.7M164.3 99.3h.7M160.1 87.7h.7M172.6 94.5h.7M170.3 88.4h.7M172.1 88.8h.7M168.4 88.2h.7M164.7 81.2h.7M157.8 83.2h.7M168.8 92.2h.7M165.0 90.3h.7M173.8 86.3h.7M163.7 84.4h.7M178.7 91.5h.7M158.7 93.7h.7M176.0 93.3h.7M163.1 92.5h.7M173.4 91.7h.7M177.9 89.0h.7M173.1 96.1h.7M179.7 90.6h.7M167.0 90.8h.7M168.4 89.0h.7M162.3 91.6h.7M170.2 89.2h.7M161.2 92.5h.7M160.8 85.4h.7M179.1 99.7h.7M177.3 95.3h.7M165.2 91.4h.7M174.4 85.4h.7M170.6 87.6h.7M178.6 93.7h.7M172.4 93.5h.7M165.5 87.5h.7M173.0 99.0h.7M177.2 94.1h.7M177.8 83.6h.7M160.8 93.0h.7M174.7 89.1h.7M165.3 92.2h.7M163.8 88.8h.7M178.0 88.4h.7M176.2 88.6h.7M167.2 94.4h.7M172.5 87.3h.7M172.2 92.1h.7M180.3 90.5h.7M172.3 91.5h.7M167.5 91.4h.7M185.3 91.3h.7M172.7 92.5h.7M173.5 99.0h.7M173.6 95.5h.7M169.8 92.8h.7M165.3 87.4h.7M172.7 95.7h.7M167.5 99.1h.7M173.7 94.0h.7M163.5 94.5h.7M175.0 95.8h.7M158.1 91.6h.7M167.2 97.1h.7M164.2 85.9h.7M165.1 94.9h.7M162.8 93.0h.7M162.9 91.5h.7M170.3 86.4h.7M165.0 93.8h.7M168.9 94.3h.7M164.6 89.0h.7M159.1 97.6h.7M161.8 87.3h.7M178.2 95.8h.7M165.1 88.4h.7M165.6 87.5h.7M163.8 97.2h.7M163.9 91.8h.7M177.5 86.8h.7M170.8 92.3h.7M163.7 95.9h.7M163.8 88.1h.7M166.7 92.1h.7M163.8 96.7h.7M163.8 87.8h.7M169.2 82.4h.7M174.5 93.6h.7M182.0 98.5h.7M160.3 93.3h.7M178.0 89.9h.7M167.6 95.7h.7M157.2 100.5h.7M177.5 84.7h.7M168.8 90.0h.7M178.9 100.8h.7M166.5 93.9h.7M174.6 87.2h.7M162.1 86.5h.7M180.0 87.9h.7M173.7 97.5h.7M170.2 87.1h.7M169.2 88.1h.7M168.0 90.3h.7M166.3 89.0h.7M168.4 92.1h.7M167.7 96.5h.7M161.2 95.0h.7M168.9 91.9h.7M172.4 89.4h.7M162.6 91.8h.7M164.1 94.1h.7M166.1 93.9h.7M167.8 91.4h.7M161.4 92.4h.7M173.8 88.3h.7M170.9 87.1h.7M163.3 93.8h.7M165.2 87.6h.7M171.5 91.3h.7M164.0 99.3h.7M160.8 92.5h.7M169.3 95.2h.7M166.2 84.9h.7M169.6 87.3h.7M162.2 93.3h.7M165.1 85.5h.7M172.8 85.2h.7M166.3 90.2h.7M169.4 103.8h.7M161.5 95.2h.7M181.7 89.0h.7M172.3 86.0h.7M170.3 94.8h.7M163.3 85.1h.7M166.9 92.3h.7M173.4 92.0h.7M173.0 94.1h.7M166.5 88.0h.7M169.0 91.9h.7M165.0 88.9h.7M166.5 85.7h.7M181.4 88.1h.7M168.5 86.9h.7M159.4 89.4h.7M170.6 92.5h.7M162.6 83.2h.7M164.2 91.6h.7M170.2 90.8h.7M168.2 90.5h.7M173.6 96.4h.7M160.6 97.3h.7M171.3 92.8h.7M172.3 99.8h.7M160.2 87.8h.7M178.9 94.6h.7M178.4 89.8h.7M172.9 88.0h.7M159.0 100.3h.7M169.2 86.8h.7M175.3 95.7h.7M160.1 88.0h.7M170.6 84.8h.7M163.2 87.0h.7M167.7 82.8h.7M165.8 88.5h.7M170.2 91.0h.7M168.9 94.3h.7M158.8 82.8h.7M177.2 90.0h.7M160.1 96.0h.7M172.4 92.3h.7M175.2 86.1h.7M169.6 89.0h.7M167.6 96.1h.7M177.7 85.6h.7M159.8 92.0h.7M169.3 88.7h.7M156.0 93.0h.7M161.6 90.6h.7M176.9 85.5h.7M177.3 95.5h.7M174.2 81.6h.7M159.1 92.7h.7M159.5 95.3h.7M173.1 88.8h.7M155.9 91.3h.7M177.8 94.3h.7M163.4 92.8h.7M176.5 91.3h.7M164.8 91.8h.7M175.6 96.9h.7M171.9 91.8h.7M164.9 84.8h.7M166.6 86.3h.7M168.0 89.3h.7M178.1 93.2h.7M169.9 98.0h.7M169.7 85.2h.7M165.7 87.4h.7M175.7 85.7h.7M171.6 96.6h.7M162.9 88.0h.7M168.6 92.2h.7M160.4 91.4h.7M164.9 100.4h.7M162.6 95.1h.7M166.8 87.9h.7M158.5 85.6h.7M176.3 94.5h.7M167.2 90.3h.7M158.2 85.9h.7M175.8 88.4h.7M172.6 92.7h.7M161.5 92.2h.7M169.1 99.2h.7M161.5 88.8h.7M174.2 89.3h.7M168.4 88.4h.7M177.9 91.1h.7M167.1 96.8h.7M170.0 80.3h.7M168.2 88.7h.7M171.9 94.7h.7M165.2 91.5h.7M166.4 87.3h.7M176.6 100.3h.7M164.8 99.1h.7M174.2 84.6h.7M157.8 92.4h.7M169.2 98.0h.7M167.1 95.9h.7M170.2 90.4h.7M157.3 87.3h.7M168.1 90.3h.7M164.7 94.5h.7M167.0 86.3h.7M160.5 87.0h.7M173.1 91.6h.7M172.3 89.5h.7M180.8 85.4h.7M166.5 89.3h.7M180.8 90.1h.7M174.2 90.3h.7M162.2 95.1h.7M165.0 95.2h.7M166.9 86.3h.7M160.7 79.2h.7M179.8 84.0h.7M170.2 91.5h.7M171.3 86.6h.7M171.8 89.0h.7M165.2 94.9h.7M167.6 90.9h.7M171.4 94.1h.7M167.9 90.9h.7M159.3 91.6h.7M171.2 88.2h.7M162.6 93.7h.7M170.0 97.6h.7M171.4 89.9h.7M157.5 94.1h.7M171.1 93.7h.7M168.9 95.5h.7M174.0 82.2h.7M161.9 86.7h.7M162.0 79.1h.7M158.6 92.7h.7M176.8 84.2h.7M176.6 97.8h.7M178.8 93.6h.7M159.4 98.6h.7M176.2 87.7h.7M170.1 83.0h.7M160.8 86.5h.7M166.4 80.1h.7M158.1 83.0h.7M176.9 95.1h.7M175.7 88.7h.7M179.0 90.8h.7M165.4 85.8h.7M177.4 97.2h.7M162.7 93.9h.7M169.8 89.3h.7M167.1 82.7h.7M168.4 89.8h.7M164.9 81.9h.7M170.7 86.4h.7M170.3 91.4h.7M169.4 88.6h.7M164.3 88.6h.7M170.5 88.0h.7M160.5 83.5h.7M174.9 89.8h.7M172.0 88.6h.7M168.2 82.0h.7M169.3 83.4h.7M160.8 89.3h.7M171.8 95.1h.7M168.9 89.0h.7M169.4 90.6h.7M167.5 86.1h.7M168.6 96.8h.7M174.7 88.2h.7M166.7 101.8h.7M172.3 90.6h.7M163.3 95.0h.7M162.2 82.6h.7M164.1 87.2h.7M156.2 93.5h.7M181.4 84.7h.7M168.8 99.2h.7M172.3 93.8h.7M169.8 86.5h.7M169.5 90.8h.7M163.6 88.5h.7M162.8 90.4h.7M163.6 103.0h.7M159.8 91.7h.7M163.8 90.8h.7M163.3 87.4h.7M168.2 91.2h.7M171.4 88.3h.7M163.0 91.5h.7M161.8 90.3h.7M170.2 96.1h.7M169.2 90.7h.7M169.8 88.5h.7M175.4 86.5h.7M168.0 101.4h.7M172.0 92.3h.7M160.7 94.3h.7M166.2 90.3h.7M164.4 93.1h.7M171.4 90.0h.7M160.5 93.1h.7M167.0 91.2h.7M167.3 97.3h.7M175.5 103.2h.7M166.3 85.3h.7M174.0 95.6h.7M177.1 90.7h.7M172.9 93.3h.7M168.9 99.8h.7M172.7 96.4h.7M180.3 95.1h.7M159.7 98.0h.7M179.1 89.7h.7M166.0 96.8h.7M172.4 97.2h.7M162.9 93.6h.7M156.9 94.6h.7M171.0 86.4h.7M167.0 94.5h.7M158.8 103.1h.7M160.6 93.1h.7M176.6 84.5h.7M165.3 89.4h.7M169.7 95.6h.7M171.1 96.3h.7M177.5 85.2h.7M167.8 95.4h.7M176.2 90.6h.7M162.3 89.4h.7M163.0 86.4h.7M161.6 97.9h.7M156.1 83.3h.7M172.8 93.6h.7M164.0 87.5h.7M172.7 85.5h.7M162.4 85.9h.7M174.9 90.7h.7M164.9 85.2h.7M167.2 91.7h.7M165.3 91.0h.7M156.1 85.8h.7M168.3 91.0h.7M167.5 92.7h.7M179.2 88.7h.7M166.3 84.0h.7M171.2 96.4h.7M165.9 94.8h.7M157.9 87.8h.7M160.8 90.1h.7M162.8 94.3h.7M175.1 92.8h.7M168.4 93.9h.7M169.9 86.4h.7M171.9 95.7h.7M160.9 84.7h.7M169.3 91.0h.7M162.2 100.9h.7M174.6 95.9h.7M166.6 90.0h.7M160.9 93.3h.7M164.0 96.7h.7M171.3 81.7h.7M177.8 98.1h.7M175.3 79.9h.7M159.7 92.6h.7M162.8 95.3h.7M166.8 93.6h.7M164.9 94.2h.7M171.5 94.9h.7M179.1 87.3h.7M177.5 92.9h.7M166.4 97.1h.7M177.0 93.1h.7M173.2 100.2h.7M169.5 85.7h.7M159.1 91.1h.7M174.1 91.0h.7M169.0 102.6h.7M160.1 93.0h.7M172.6 91.5h.7M172.3 91.1h.7M163.2 92.8h.7M167.5 92.2h.7M164.8 90.0h.7M172.4 91.1h.7M160.2 89.3h.7M174.9 87.0h.7M163.9 96.3h.7M161.9 90.9h.7M166.8 101.1h.7M177.0 93.5h.7M173.7 94.4h.7M164.6 91.7h.7M177.0 93.3h.7M162.7 91.0h.7M157.2 93.9h.7M163.4 90.1h.7M161.4 96.6h.7M169.3 89.8h.7M176.3 87.2h.7M177.0 91.6h.7M172.8 97.7h.7M175.5 88.3h.7M161.0 90.9h.7M180.9 95.3h.7M169.9 92.6h.7M160.4 90.2h.7M161.7 86.9h.7M164.9 87.3h.7M168.1 100.8h.7M165.1 82.9h.7M166.5 92.5h.7M176.7 86.1h.7M163.1 83.8h.7M159.3 93.9h.7M173.8 92.4h.7M175.2 90.8h.7M167.5 91.5h.7M160.6 94.7h.7M165.3 95.1h.7M166.8 95.1h.7M173.9 88.8h.7M167.4 88.0h.7M191.0 86.3h.7M158.7 96.7h.7M161.8 98.4h.7M167.6 94.0h.7M174.9 90.3h.7M159.0 91.1h.7M169.4 92.1h.7M164.1 96.6h.7M170.6 94.8h.7M172.4 93.4h.7M160.0 95.5h.7M171.4 97.6h.7M157.7 87.6h.7M175.4 82.6h.7M164.0 92.5h.7M167.8 101.3h.7M175.2 79.5h.7M175.0 95.7h.7M161.6 97.6h.7M176.2 94.6h.7M170.6 87.5h.7M171.8 94.8h.7M167.0 90.3h.7M169.2 85.5h.7M164.4 84.7h.7M166.3 85.8h.7M167.0 83.9h.7M170.2 104.6h.7M176.2 89.1h.7M168.8 88.5h.7M170.8 84.7h.7M173.2 94.4h.7M167.5 93.1h.7M163.1 90.0h.7M167.9 98.2h.7M180.9 89.0h.7M176.5 91.3h.7M158.1 90.4h.7M166.1 87.8h.7M180.7 101.5h.7M178.3 92.1h.7M168.1 89.5h.7M167.1 89.4h.7M171.0 96.2h.7M162.2 86.4h.7M168.0 94.3h.7M172.7 102.3h.7M169.9 89.7h.7M169.9 88.2h.7M164.0 98.7h.7M176.6 84.9h.7M167.5 94.8h.7M168.7 90.1h.7M162.0 88.6h.7M162.7 82.3h.7M169.8 86.4h.7M173.4 99.5h.7M176.4 89.7h.7M165.6 90.1h.7M179.8 96.2h.7M175.2 90.1h.7M172.3 93.9h.7M164.6 84.2h.7M167.0 87.3h.7M169.7 92.0h.7M177.8 92.0h.7M171.9 82.7h.7M157.5 87.4h.7M178.1 98.8h.7M174.8 90.5h.7M165.1 99.9h.7M162.2 94.0h.7M172.8 87.2h.7M166.4 101.1h.7M176.4 93.0h.7M180.7 92.6h.7M168.9 95.3h.7M169.2 93.2h.7M166.4 86.0h.7M170.1 84.9h.7M166.6 96.6h.7M170.3 93.9h.7M158.7 91.3h.7M176.3 92.1h.7M170.1 88.7h.7M176.9 91.3h.7M162.1 87.1h.7M155.9 91.7h.7M171.3 100.5h.7M159.2 90.4h.7M163.9 102.2h.7M176.7 91.7h.7M172.8 92.5h.7M166.3 88.6h.7M164.1 92.1h.7M169.7 86.9h.7M183.4 89.7h.7M159.5 93.6h.7M162.7 91.0h.7M165.1 85.8h.7M169.2 90.0h.7M169.1 92.4h.7M168.4 95.0h.7M175.1 89.8h.7M173.1 79.2h.7M169.0 95.2h.7M177.3 91.2h.7M181.1 90.8h.7M171.3 92.6h.7M161.0 94.1h.7M167.3 84.5h.7M162.9 92.9h.7M160.6 88.4h.7M164.0 89.3h.7M175.6 87.9h.7M174.0 92.2h.7M185.3 92.8h.7M175.1 97.4h.7M165.1 84.1h.7M175.4 95.0h.7M169.8 84.5h.7M172.4 89.2h.7M170.9 92.5h.7M178.2 90.6h.7M163.0 89.6h.7M161.4 90.9h.7M167.8 83.6h.7M166.6 88.7h.7M170.6 90.3h.7M177.9 84.3h.7M166.0 91.9h.7M164.6 94.0h.7M171.3 91.0h.7M165.8 91.2h.7M177.5 91.0h.7M177.1 95.5h.7M179.3 88.0h.7M173.3 85.5h.7M165.5 83.7h.7M175.9 85.6h.7M171.1 78.3h.7M168.2 75.1h.7M162.3 75.7h.7M170.4 81.3h.7M165.7 79.8h.7M169.3 85.5h.7M161.3 82.8h.7M175.6 78.9h.7M172.5 82.3h.7M171.9 89.4h.7M169.3 87.7h.7M159.8 87.3h.7M181.9 81.3h.7M178.8 90.3h.7M171.7 78.6h.7M162.2 81.1h.7M175.1 83.8h.7M174.6 84.8h.7M170.8 77.4h.7M169.2 74.3h.7M166.9 74.1h.7M163.5 75.0h.7M171.6 80.3h.7M175.2 80.9h.7M172.4 78.1h.7M169.2 74.2h.7M164.6 83.4h.7M162.6 83.5h.7M170.9 80.6h.7M170.2 84.4h.7M165.5 85.0h.7M167.3 78.5h.7M157.4 82.7h.7M175.7 81.3h.7M173.0 75.2h.7M167.2 77.3h.7M174.9 84.3h.7M164.9 83.0h.7M168.1 79.7h.7M185.1 78.7h.7M166.1 82.4h.7M163.7 72.1h.7M167.6 77.9h.7M167.2 80.3h.7M163.5 85.7h.7M177.3 79.4h.7M171.3 77.4h.7M163.2 76.8h.7M171.4 92.7h.7M168.6 80.3h.7M166.1 83.7h.7M157.7 82.8h.7M159.3 80.8h.7M179.7 88.4h.7M161.5 85.7h.7M164.5 78.6h.7M168.5 80.3h.7M166.5 79.6h.7M178.5 84.3h.7M170.1 85.2h.7M174.5 79.9h.7M168.2 84.2h.7M165.3 81.2h.7M168.9 88.4h.7M167.0 74.3h.7M163.1 78.6h.7M167.1 83.8h.7M160.8 79.4h.7M167.7 89.8h.7M162.4 70.7h.7M176.3 88.9h.7M180.7 87.4h.7M165.5 86.5h.7M160.5 83.0h.7M175.3 82.2h.7M175.7 78.6h.7M168.2 79.6h.7M170.7 83.6h.7M168.6 86.5h.7M168.1 81.1h.7M167.4 80.4h.7M170.2 74.3h.7M170.3 73.0h.7M169.6 89.3h.7M166.7 86.9h.7M172.2 78.9h.7M168.3 81.6h.7M168.0 73.9h.7M167.8 81.9h.7M174.2 79.7h.7M167.4 81.8h.7M167.0 76.5h.7M182.0 83.0h.7M174.9 87.0h.7M166.8 81.4h.7M170.2 84.5h.7M171.8 89.3h.7M168.9 86.1h.7M163.0 78.3h.7M171.6 79.1h.7M167.7 85.0h.7M170.7 77.0h.7M170.3 77.9h.7M166.6 75.6h.7M169.8 80.0h.7M167.8 81.9h.7M172.4 87.7h.7M177.8 73.8h.7M165.9 83.9h.7M170.7 84.7h.7M167.5 74.8h.7M168.8 82.1h.7M168.5 87.0h.7M176.2 79.1h.7M166.8 86.0h.7M169.5 82.6h.7M165.8 80.2h.7M159.6 86.7h.7M170.4 81.6h.7M169.4 83.6h.7M167.9 81.7h.7M167.3 79.7h.7M172.2 86.4h.7M167.9 77.0h.7M166.4 88.0h.7M180.1 84.4h.7M167.6 84.3h.7M174.1 92.4h.7M176.9 82.1h.7M171.8 78.5h.7M171.3 81.3h.7M171.2 73.4h.7M172.4 89.3h.7M167.1 80.9h.7M164.4 81.3h.7M170.0 80.6h.7M167.1 76.6h.7M166.0 89.3h.7M169.5 88.0h.7M166.6 80.5h.7M166.7 81.6h.7M166.1 80.3h.7M159.9 87.4h.7M172.2 79.7h.7M173.5 82.6h.7M168.1 84.0h.7M167.8 81.7h.7M170.6 77.8h.7M169.6 73.4h.7M174.4 82.3h.7M155.7 85.4h.7M167.5 87.3h.7M178.6 82.7h.7M162.6 74.9h.7M163.2 80.4h.7M172.6 90.7h.7M171.8 78.7h.7M170.0 83.0h.7M167.5 84.4h.7M164.7 79.8h.7M165.1 79.3h.7M159.5 84.1h.7M162.6 77.3h.7M175.2 95.0h.7M171.9 81.0h.7M170.0 82.9h.7M173.4 85.7h.7M168.8 82.7h.7M164.0 86.3h.7M165.4 86.6h.7M162.1 76.3h.7M166.1 79.7h.7M177.0 90.1h.7M166.8 90.6h.7M168.9 71.6h.7M173.3 71.3h.7M163.5 85.2h.7M174.1 86.9h.7M161.8 83.1h.7M170.4 88.5h.7M171.4 87.4h.7M167.4 79.5h.7M172.6 78.1h.7M164.8 79.7h.7M170.7 91.4h.7M164.5 80.0h.7M165.5 90.5h.7M171.7 80.0h.7M167.9 76.7h.7M166.3 85.6h.7M164.5 84.5h.7M174.8 83.9h.7M162.3 75.5h.7M171.0 81.9h.7M170.8 82.2h.7M171.7 85.2h.7M169.9 85.8h.7M173.3 75.2h.7M165.2 86.9h.7M173.2 82.0h.7M178.4 77.0h.7M172.3 95.4h.7M167.1 77.5h.7M166.0 78.5h.7M173.2 85.5h.7M173.7 87.0h.7M173.2 81.5h.7M164.7 75.6h.7M166.0 88.9h.7M169.4 82.7h.7M162.6 73.3h.7M161.6 85.8h.7M176.1 83.8h.7M171.6 79.5h.7M173.1 81.5h.7M159.0 87.6h.7M169.1 80.3h.7M160.0 81.2h.7M166.8 81.4h.7M170.0 82.4h.7M168.3 81.8h.7M162.2 85.4h.7M173.1 90.6h.7M170.2 90.6h.7M177.7 79.5h.7M169.3 82.0h.7M164.5 79.3h.7M157.9 82.0h.7M174.6 80.8h.7M166.6 84.1h.7M166.4 84.0h.7M169.5 79.3h.7M171.8 82.5h.7M171.4 81.4h.7M166.3 81.6h.7M169.4 85.3h.7M168.0 87.9h.7M165.6 81.5h.7M165.9 80.5h.7M171.9 83.8h.7M172.0 75.9h.7M174.4 74.1h.7M167.1 82.0h.7M169.1 81.2h.7M168.9 77.1h.7M160.9 84.2h.7M163.0 88.4h.7M169.7 89.2h.7M169.3 80.6h.7M174.0 76.2h.7M180.7 80.2h.7M165.9 84.7h.7M169.3 81.7h.7M169.7 81.8h.7M164.4 79.4h.7M175.1 79.4h.7M167.3 86.4h.7M168.7 83.7h.7M169.5 75.8h.7M167.2 80.7h.7M174.5 79.7h.7M180.6 82.3h.7M159.3 79.3h.7M173.7 84.2h.7M167.5 81.3h.7M170.5 80.7h.7M168.2 85.6h.7M172.6 76.7h.7M178.2 87.6h.7M175.3 82.2h.7M163.7 88.1h.7M178.9 83.9h.7M166.8 81.5h.7M171.7 78.1h.7M166.3 87.3h.7M172.0 83.5h.7M171.2 69.0h.7M179.4 80.0h.7M160.5 84.7h.7M171.6 77.6h.7M167.6 82.4h.7M170.2 84.3h.7M163.5 87.1h.7M165.2 77.2h.7M168.7 82.8h.7M160.0 88.7h.7M173.2 79.9h.7M165.2 84.2h.7M169.9 77.5h.7M174.7 79.8h.7M168.7 86.4h.7M159.9 81.5h.7M172.2 85.7h.7M166.0 83.4h.7M163.9 83.5h.7M167.1 85.7h.7M179.4 82.2h.7M169.8 80.6h.7M169.4 91.6h.7M168.4 85.7h.7M175.1 86.2h.7M165.3 78.1h.7M164.0 82.3h.7M165.0 84.5h.7M166.9 75.9h.7M173.5 80.7h.7M162.4 76.6h.7M167.3 84.9h.7M166.8 75.1h.7M156.2 84.8h.7M166.0 87.9h.7M166.0 79.6h.7M162.1 89.7h.7M168.6 80.1h.7M168.9 81.9h.7M168.8 83.5h.7M160.9 79.8h.7M171.2 94.5h.7M166.4 87.7h.7M168.0 75.7h.7M166.2 89.2h.7M170.4 78.7h.7M171.8 86.0h.7M168.7 86.7h.7M172.4 76.9h.7M165.4 75.0h.7M170.8 82.9h.7M169.8 87.5h.7M161.8 76.2h.7M167.4 75.6h.7M163.3 78.6h.7M184.3 81.7h.7M167.7 78.1h.7M169.0 80.4h.7M170.3 81.0h.7M170.5 80.2h.7M168.2 83.3h.7M170.5 81.9h.7M167.5 80.3h.7M175.8 74.1h.7M169.2 85.6h.7M176.6 75.8h.7M171.7 90.2h.7M160.0 85.9h.7M163.0 74.3h.7M170.2 83.2h.7M188.4 90.4h.7M190.5 91.0h.7M190.9 89.3h.7M188.6 87.5h.7M190.0 90.9h.7M190.8 86.5h.7M186.3 91.5h.7M197.1 90.2h.7M184.0 88.8h.7M191.9 90.0h.7M190.4 89.1h.7M194.7 82.7h.7M195.2 91.7h.7M194.0 91.8h.7M184.9 98.7h.7M190.8 88.5h.7M186.6 86.7h.7M192.7 98.9h.7M190.2 87.0h.7M189.3 99.2h.7M184.6 88.9h.7M188.4 88.7h.7M192.1 97.0h.7M198.4 92.5h.7M189.5 84.4h.7M194.7 92.7h.7M193.5 90.3h.7M191.6 88.5h.7M186.3 93.2h.7M185.1 99.7h.7M189.9 92.6h.7M187.5 91.1h.7M196.5 89.8h.7M190.9 97.3h.7M191.9 88.0h.7M196.8 90.7h.7M184.2 98.7h.7M192.2 84.0h.7M188.8 87.0h.7M196.8 88.4h.7M193.1 90.7h.7M185.7 85.8h.7M184.8 83.2h.7M188.2 89.5h.7M187.5 90.6h.7M191.7 80.6h.7M182.5 86.6h.7M190.4 88.5h.7M190.4 107.6h.7M196.2 94.2h.7M184.7 80.8h.7M196.1 76.3h.7M194.3 89.8h.7M194.1 91.1h.7M190.3 89.1h.7M197.4 86.1h.7M186.9 91.7h.7M188.9 101.5h.7M194.6 91.1h.7M192.7 90.0h.7M185.4 90.3h.7M187.8 95.3h.7M192.5 88.8h.7M185.8 93.3h.7M184.2 85.8h.7M190.7 92.5h.7M191.7 90.0h.7M195.2 89.0h.7M197.2 90.0h.7M195.2 96.7h.7M190.2 90.8h.7M185.1 91.6h.7M190.0 88.6h.7M194.4 93.4h.7M181.0 96.8h.7M193.3 87.8h.7M187.2 85.2h.7M187.4 96.3h.7M191.5 86.5h.7M191.7 91.2h.7M191.7 98.5h.7M189.3 91.6h.7M190.7 88.1h.7M191.7 88.3h.7M194.3 85.9h.7M183.7 93.2h.7M196.4 83.0h.7M190.9 92.2h.7M185.8 90.2h.7M194.8 94.2h.7M195.6 89.4h.7M187.5 88.5h.7M187.9 93.6h.7M185.1 93.4h.7M192.0 91.3h.7M190.1 91.2h.7M193.8 95.6h.7M186.3 95.0h.7M197.3 91.6h.7M192.4 92.8h.7M195.6 88.2h.7M198.2 83.6h.7M190.6 87.9h.7M190.8 96.1h.7M193.7 87.3h.7M190.2 88.2h.7M189.5 86.3h.7M189.9 91.7h.7M189.3 92.9h.7M187.6 97.3h.7M194.3 95.0h.7M192.8 89.2h.7M183.8 97.8h.7M191.6 94.1h.7M193.6 87.8h.7M197.7 91.3h.7M179.6 88.4h.7M190.2 87.9h.7M186.2 88.0h.7M183.8 89.9h.7M187.4 96.7h.7M193.9 88.2h.7M191.6 91.8h.7M195.6 87.1h.7M188.7 84.3h.7M189.9 95.4h.7M193.5 95.2h.7M196.8 87.7h.7M192.8 87.8h.7M194.8 87.1h.7M189.2 83.2h.7M190.2 85.9h.7M185.3 92.0h.7M189.0 87.8h.7M184.7 89.6h.7M188.5 94.9h.7M185.7 88.3h.7M189.8 86.8h.7M194.3 92.4h.7M194.3 86.1h.7M193.0 95.8h.7M185.4 91.3h.7M189.8 99.7h.7M190.1 89.0h.7M189.8 90.1h.7M184.5 91.6h.7M183.9 90.9h.7M202.4 78.5h.7M190.1 88.7h.7M200.6 86.5h.7M184.6 86.3h.7M189.5 93.6h.7M193.9 87.1h.7M197.7 83.1h.7M190.9 96.0h.7M186.4 91.5h.7M195.9 92.1h.7M189.3 90.4h.7M196.2 84.2h.7M192.0 93.9h.7M193.3 89.7h.7M191.2 81.9h.7M187.4 93.3h.7M189.4 92.0h.7M197.3 82.9h.7M184.9 91.3h.7M189.6 90.8h.7M189.1 88.6h.7M187.4 85.0h.7M187.1 88.0h.7M194.4 89.9h.7M184.8 92.8h.7M188.1 90.8h.7M190.7 92.6h.7M190.8 89.9h.7M186.6 93.3h.7M187.6 93.0h.7M182.1 87.7h.7M190.6 89.4h.7M190.2 91.6h.7M193.7 91.6h.7M186.9 92.3h.7M191.2 84.5h.7M181.2 93.9h.7M188.3 85.5h.7M185.8 95.4h.7M186.9 88.1h.7M190.2 91.3h.7M185.3 94.2h.7M194.3 92.8h.7M192.2 95.8h.7M196.5 87.0h.7M192.0 96.6h.7M180.2 80.3h.7M186.9 100.3h.7M187.4 95.7h.7M186.9 93.6h.7M193.9 98.0h.7M188.8 88.2h.7M194.8 88.9h.7M206.9 74.4h.7M200.3 81.7h.7M207.1 77.5h.7M212.5 79.9h.7M191.6 85.3h.7M205.6 81.9h.7M198.9 79.6h.7M212.0 68.3h.7M211.0 78.6h.7M193.6 87.5h.7M204.9 78.7h.7M203.8 80.4h.7M203.8 82.5h.7M199.1 84.8h.7M203.9 79.5h.7M195.5 81.6h.7M206.2 81.0h.7M200.0 84.8h.7M202.7 80.2h.7M198.1 87.0h.7M210.8 76.4h.7M206.7 80.2h.7M209.4 80.4h.7M201.0 86.3h.7M203.7 84.5h.7M193.7 86.5h.7M210.1 75.9h.7M201.2 82.8h.7M206.3 78.9h.7M196.9 77.8h.7M166.9 138.1h.7M185.9 115.6h.7M182.2 102.0h.7M177.4 106.2h.7M166.8 133.9h.7M163.3 135.1h.7M169.3 127.0h.7M165.1 132.3h.7M178.7 107.2h.7M177.5 102.3h.7M173.7 127.3h.7M177.8 110.6h.7M181.8 105.4h.7M176.3 117.4h.7M164.1 125.5h.7M172.3 107.1h.7M175.6 99.1h.7M173.1 121.4h.7M169.9 113.0h.7M171.0 92.4h.7M165.4 126.9h.7M172.9 126.9h.7M180.8 116.6h.7M169.1 124.2h.7M178.0 120.7h.7M165.2 122.4h.7M175.3 121.4h.7M185.3 100.4h.7M171.7 134.3h.7M175.3 124.3h.7M168.1 128.7h.7M163.4 130.7h.7M175.6 107.3h.7M177.9 133.4h.7M174.5 121.3h.7M180.4 111.9h.7M174.2 124.1h.7M175.2 107.2h.7M175.9 109.9h.7M183.0 119.2h.7M164.6 117.9h.7M171.5 116.8h.7M175.7 106.9h.7M166.8 115.1h.7M168.3 137.7h.7M161.1 124.1h.7M171.9 124.4h.7M173.3 134.1h.7M181.9 111.9h.7M169.9 128.0h.7M167.8 127.5h.7M181.6 106.5h.7M173.5 126.4h.7M177.8 110.2h.7M169.9 109.4h.7M175.6 113.5h.7M169.0 136.5h.7M170.1 114.6h.7M170.5 127.5h.7M167.4 130.2h.7M184.6 102.1h.7M174.9 124.8h.7M171.3 115.8h.7M186.2 112.9h.7M183.8 107.1h.7M161.8 140.9h.7M176.0 123.2h.7M177.8 99.3h.7M173.6 112.2h.7M182.2 114.2h.7M170.0 125.2h.7M166.0 137.8h.7M171.6 125.2h.7M167.1 136.0h.7M169.9 138.0h.7M173.5 101.6h.7M173.8 121.6h.7M174.0 114.9h.7M169.4 132.0h.7M181.2 101.5h.7M175.1 122.2h.7M168.7 138.1h.7M167.1 134.0h.7M163.8 128.8h.7M171.7 116.5h.7M174.6 125.7h.7M179.3 108.1h.7M183.3 114.9h.7M172.8 109.8h.7M178.9 104.6h.7M168.0 130.9h.7M165.8 135.3h.7M165.9 127.5h.7M181.6 110.0h.7M174.4 122.0h.7M172.9 131.9h.7M177.9 121.7h.7M181.4 123.3h.7M172.9 125.0h.7M172.9 132.0h.7M176.8 113.5h.7M166.3 135.4h.7M173.4 127.7h.7M167.7 134.8h.7M166.9 127.5h.7M177.9 111.8h.7M172.7 137.0h.7M175.5 121.6h.7M183.6 125.8h.7M168.0 127.4h.7M175.2 108.2h.7M165.2 123.6h.7M174.5 115.4h.7M168.3 133.1h.7M176.9 106.1h.7M177.7 114.1h.7M173.9 101.1h.7M182.0 99.5h.7M174.9 113.3h.7M170.5 137.5h.7M162.7 138.8h.7M177.1 108.4h.7M178.3 109.6h.7M171.5 106.7h.7M179.2 114.0h.7M177.8 110.8h.7M164.2 131.9h.7M172.3 119.8h.7M165.9 137.3h.7M181.2 102.2h.7M180.9 110.5h.7M177.7 108.0h.7M174.4 114.5h.7M170.7 109.6h.7M170.5 138.0h.7M171.3 119.8h.7M168.4 109.8h.7M169.9 136.9h.7M172.5 128.4h.7M171.8 133.0h.7M185.6 104.4h.7M169.3 125.7h.7M169.4 111.4h.7M168.2 136.1h.7M183.2 104.4h.7M177.9 112.1h.7M185.8 103.7h.7M178.8 112.0h.7M164.1 140.0h.7M183.3 107.4h.7M168.3 113.5h.7M179.6 95.0h.7M164.8 135.7h.7M174.0 122.7h.7M178.2 103.4h.7M171.5 122.1h.7M176.8 113.7h.7M162.2 131.6h.7M173.1 125.6h.7M172.2 118.0h.7M168.1 140.1h.7M183.2 106.0h.7M172.4 122.8h.7M179.7 115.0h.7M178.1 121.3h.7M179.5 107.7h.7M181.5 101.2h.7M176.4 128.9h.7M170.2 130.5h.7M164.0 126.9h.7M171.6 125.6h.7M182.3 115.0h.7M178.1 112.1h.7M168.5 111.9h.7M183.4 105.1h.7M164.1 130.7h.7M181.1 102.6h.7M180.9 115.0h.7M165.0 124.4h.7M183.2 102.5h.7M176.0 123.2h.7M172.4 107.8h.7M174.7 119.7h.7M173.9 111.1h.7M173.7 118.0h.7M174.2 131.4h.7M164.6 122.9h.7M177.6 89.8h.7M176.2 117.6h.7M185.6 102.4h.7M183.4 113.6h.7M174.4 114.2h.7M173.2 117.2h.7M162.5 135.8h.7M167.5 126.8h.7M173.3 108.1h.7M172.4 116.9h.7M164.0 140.3h.7M173.1 113.6h.7M177.1 104.2h.7M173.7 128.8h.7M169.6 138.5h.7M177.4 140.9h.7M167.0 106.4h.7M178.3 139.3h.7M188.6 111.4h.7M175.7 108.8h.7M177.3 124.8h.7M169.3 132.8h.7M177.8 108.7h.7M173.9 120.9h.7M170.5 119.3h.7M167.3 138.7h.7M171.7 132.9h.7M166.9 127.9h.7M170.8 128.3h.7M176.2 112.3h.7M175.4 123.0h.7M178.5 95.0h.7M177.4 108.8h.7M167.0 111.4h.7M167.5 124.3h.7M176.0 111.0h.7M170.8 115.6h.7M185.4 102.7h.7M171.1 130.0h.7M168.2 104.5h.7M175.1 102.0h.7M174.8 122.4h.7M185.6 95.3h.7M173.9 136.2h.7M170.7 130.9h.7M173.5 132.7h.7M176.8 104.4h.7M169.8 136.3h.7M180.0 106.7h.7M179.2 107.9h.7M159.8 134.9h.7M175.3 104.8h.7M169.6 122.9h.7M173.9 111.7h.7M178.0 129.6h.7M176.6 111.3h.7M182.6 99.3h.7M170.1 129.3h.7M163.6 136.3h.7M174.9 131.3h.7M177.2 126.3h.7M168.9 131.3h.7M182.8 101.4h.7M178.5 128.3h.7M176.8 108.5h.7M178.1 110.0h.7M175.7 112.0h.7M178.0 121.5h.7M181.7 112.6h.7M175.8 118.0h.7M176.3 133.0h.7M169.2 138.2h.7M182.3 117.0h.7M172.8 106.7h.7M164.6 129.4h.7M173.9 119.9h.7M182.5 107.3h.7M178.8 117.6h.7M182.5 111.4h.7M179.3 110.8h.7M173.0 117.0h.7M173.1 130.5h.7M168.9 112.8h.7M171.4 117.2h.7M176.9 134.1h.7M165.9 111.8h.7M171.0 134.4h.7M182.2 126.9h.7M174.2 113.0h.7M174.4 116.5h.7M168.8 124.1h.7M163.0 139.2h.7M174.3 132.2h.7M167.6 132.4h.7M171.7 120.1h.7M173.9 132.4h.7M176.9 135.1h.7M177.7 128.6h.7M167.1 125.1h.7M171.8 129.8h.7M173.3 125.9h.7M169.9 118.5h.7M183.7 112.4h.7M165.2 134.6h.7M173.8 107.5h.7M176.4 115.0h.7M180.3 105.1h.7M176.4 134.3h.7M183.2 106.1h.7M169.1 125.0h.7M173.8 121.2h.7M172.4 126.5h.7M171.4 126.8h.7M178.1 104.9h.7M174.6 134.0h.7M166.9 134.7h.7M169.0 130.8h.7M178.0 104.6h.7M163.8 138.1h.7M178.5 126.9h.7M180.3 114.0h.7M171.6 121.8h.7M160.7 125.0h.7M180.0 108.8h.7M183.6 99.8h.7M170.1 135.2h.7M165.0 128.6h.7M171.7 117.2h.7M170.6 114.2h.7M174.3 108.9h.7M171.5 100.6h.7M171.4 136.1h.7M175.2 139.1h.7M168.0 135.3h.7M176.9 126.7h.7M170.2 133.7h.7M175.4 118.9h.7M170.8 121.2h.7M170.9 128.9h.7M168.7 127.9h.7M176.0 121.2h.7M175.5 125.6h.7M171.5 118.1h.7M173.9 129.3h.7M175.1 102.9h.7M176.1 138.5h.7M166.2 141.2h.7M175.9 133.8h.7M169.4 102.5h.7M182.2 103.0h.7M171.4 130.7h.7M179.9 113.4h.7M167.4 119.7h.7M178.2 95.0h.7M165.9 120.2h.7M171.0 138.0h.7M171.1 124.8h.7M178.4 108.5h.7M171.1 114.4h.7M173.2 123.4h.7M178.6 125.9h.7M178.2 118.9h.7M174.5 103.1h.7M171.1 133.2h.7M171.7 116.1h.7M174.7 101.7h.7M164.4 129.2h.7M172.7 121.3h.7M183.6 109.2h.7M170.1 101.8h.7M170.9 124.3h.7M171.2 129.0h.7M171.9 132.0h.7M178.8 112.2h.7M170.5 138.2h.7M172.9 115.7h.7M184.2 106.0h.7M174.5 106.2h.7M173.6 109.2h.7M188.1 122.8h.7M177.7 120.6h.7M184.6 90.5h.7M173.8 105.2h.7M178.2 124.9h.7M178.4 121.0h.7M187.5 113.8h.7M185.7 117.1h.7M184.9 110.0h.7M167.0 111.0h.7M186.8 126.4h.7M173.4 108.4h.7M175.0 130.9h.7M177.5 114.9h.7M186.1 105.9h.7M182.1 122.3h.7M180.2 114.7h.7M192.7 120.1h.7M188.0 113.5h.7M180.8 126.0h.7M190.2 113.2h.7M176.8 108.6h.7M188.9 104.7h.7M185.5 101.3h.7M176.8 122.9h.7M165.8 107.7h.7M184.0 122.9h.7M186.4 107.8h.7M179.6 126.4h.7M174.9 110.8h.7M186.6 106.7h.7M195.7 105.6h.7M185.6 108.4h.7M187.4 103.0h.7M180.4 96.3h.7M172.7 102.6h.7M171.2 131.4h.7M181.3 126.0h.7M177.3 111.9h.7M188.3 97.8h.7M181.3 111.0h.7M168.4 125.2h.7M177.2 105.7h.7M192.8 118.4h.7M177.3 132.1h.7M171.2 97.2h.7M165.7 108.7h.7M178.9 118.8h.7M193.0 112.1h.7M186.6 112.3h.7M188.5 129.8h.7M180.4 119.6h.7M186.2 128.4h.7M180.4 112.2h.7M177.3 108.5h.7M176.4 115.9h.7M180.3 118.2h.7M191.7 99.2h.7M168.7 112.7h.7M167.4 117.6h.7M190.2 121.5h.7M174.3 118.4h.7M174.1 124.6h.7M181.8 110.1h.7M173.6 126.5h.7M200.7 130.9h.7M168.3 115.3h.7M176.7 111.1h.7M199.1 119.7h.7M178.5 105.7h.7M173.4 122.4h.7M166.7 102.1h.7M169.9 115.5h.7M187.1 118.9h.7M172.3 119.5h.7M184.3 99.3h.7M176.2 107.3h.7M157.8 101.1h.7M178.4 116.5h.7M178.9 116.1h.7M180.8 102.0h.7M182.8 109.5h.7M183.4 121.6h.7M196.4 112.6h.7M176.7 118.2h.7M182.1 115.0h.7M171.0 132.8h.7M182.2 115.3h.7M176.0 125.7h.7M177.0 108.9h.7M188.9 135.8h.7M184.9 95.7h.7M177.4 101.3h.7M177.3 116.6h.7M177.7 139.8h.7M197.1 126.3h.7M160.5 132.3h.7M176.5 103.1h.7M185.6 115.0h.7M180.0 114.0h.7M182.3 113.8h.7M187.3 107.8h.7M165.6 129.6h.7" stroke="#4535ab" stroke-width=".7" stroke-opacity=".55" fill="none" clip-path="url(#clip2)"/>
<path d="M161.2 95.3h.7M166.2 88.7h.7M163.1 94.6h.7M167.9 101.4h.7M161.2 95.7h.7M168.6 90.8h.7M168.2 88.5h.7M166.5 90.4h.7M170.3 90.3h.7M158.0 88.1h.7M167.0 90.2h.7M171.5 96.3h.7M168.8 97.9h.7M169.6 94.8h.7M172.1 94.6h.7M162.9 91.1h.7M169.9 93.6h.7M169.3 89.9h.7M172.0 89.5h.7M165.5 93.3h.7M173.8 102.2h.7M181.9 101.4h.7M174.0 91.3h.7M172.5 82.2h.7M164.0 86.2h.7M160.0 90.0h.7M182.9 86.8h.7M161.0 101.1h.7M163.8 84.6h.7M171.9 96.0h.7M168.1 87.0h.7M172.8 94.0h.7M160.2 89.1h.7M160.4 88.9h.7M170.1 98.3h.7M169.1 86.0h.7M156.0 88.2h.7M175.6 88.3h.7M160.4 86.2h.7M171.2 90.1h.7M162.0 91.1h.7M162.3 98.3h.7M174.8 93.7h.7M158.8 90.0h.7M175.1 90.7h.7M164.9 96.9h.7M165.5 97.2h.7M168.3 88.4h.7M182.6 94.8h.7M162.8 88.7h.7M167.9 89.5h.7M165.5 83.7h.7M166.6 79.8h.7M165.8 90.2h.7M168.9 86.0h.7M167.8 96.5h.7M171.0 83.6h.7M169.8 90.2h.7M159.5 88.5h.7M189.6 97.3h.7M169.7 92.5h.7M175.1 79.0h.7M182.9 87.7h.7M159.7 89.8h.7M168.0 85.4h.7M172.9 91.4h.7M165.8 85.2h.7M179.0 86.2h.7M180.7 100.3h.7M165.2 90.5h.7M166.9 92.9h.7M164.4 80.3h.7M160.3 86.8h.7M161.0 93.2h.7M166.7 89.8h.7M173.9 91.8h.7M175.1 85.5h.7M166.3 91.8h.7M167.7 87.2h.7M165.9 88.8h.7M158.2 90.9h.7M173.9 93.2h.7M164.0 94.1h.7M160.6 97.7h.7M175.4 86.6h.7M176.8 93.7h.7M170.7 94.2h.7M160.6 79.9h.7M164.1 86.8h.7M163.9 86.4h.7M168.0 91.6h.7M172.8 85.7h.7M159.5 91.7h.7M167.9 98.0h.7M174.4 100.9h.7M176.9 92.5h.7M165.5 85.5h.7M167.5 90.2h.7M170.6 96.2h.7M167.9 92.2h.7M173.7 88.9h.7M167.0 88.0h.7M161.2 92.8h.7M170.3 99.0h.7M172.5 89.0h.7M168.3 88.5h.7M173.8 86.9h.7M184.7 99.2h.7M162.5 90.4h.7M174.9 95.9h.7M178.9 93.2h.7M159.3 89.4h.7M165.0 99.6h.7M172.0 85.3h.7M158.4 91.5h.7M181.2 99.0h.7M171.6 88.2h.7M167.6 89.1h.7M165.2 91.6h.7M163.9 91.3h.7M185.9 86.1h.7M178.9 94.4h.7M172.3 88.7h.7M176.1 93.3h.7M176.9 88.3h.7M178.0 91.3h.7M185.3 103.0h.7M177.4 89.0h.7M168.9 82.6h.7M172.8 88.8h.7M178.6 91.8h.7M163.4 89.4h.7M171.6 97.3h.7M170.0 81.9h.7M168.8 87.2h.7M168.0 92.1h.7M172.0 91.7h.7M167.7 94.4h.7M169.8 93.2h.7M165.6 90.5h.7M178.1 90.9h.7M160.8 85.6h.7M171.0 85.5h.7M171.4 90.6h.7M167.8 92.1h.7M158.5 98.9h.7M157.4 89.8h.7M157.5 91.1h.7M172.9 88.6h.7M158.3 91.9h.7M159.5 82.2h.7M178.5 89.0h.7M163.8 89.8h.7M157.1 88.6h.7M168.0 88.1h.7M165.4 93.4h.7M165.0 90.1h.7M172.6 95.1h.7M161.4 80.8h.7M173.5 90.6h.7M163.3 90.6h.7M170.7 93.2h.7M166.3 92.0h.7M163.4 90.3h.7M171.7 88.3h.7M180.1 96.0h.7M176.9 89.9h.7M167.3 90.4h.7M155.8 93.6h.7M175.5 98.2h.7M173.7 85.3h.7M167.8 97.1h.7M180.6 87.8h.7M170.7 97.9h.7M164.5 85.9h.7M173.3 87.0h.7M164.3 92.5h.7M173.8 83.8h.7M170.6 86.0h.7M173.1 89.1h.7M171.0 84.8h.7M168.4 87.5h.7M161.8 96.5h.7M172.4 89.7h.7M167.5 91.6h.7M172.1 96.7h.7M176.4 86.4h.7M165.6 88.7h.7M167.8 94.2h.7M165.8 92.3h.7M158.4 94.2h.7M167.1 92.9h.7M165.6 85.4h.7M163.2 91.0h.7M174.1 90.4h.7M158.8 85.4h.7M175.8 87.1h.7M157.7 93.2h.7M157.8 89.5h.7M159.3 95.4h.7M168.7 92.0h.7M167.9 88.3h.7M174.9 87.7h.7M167.0 90.3h.7M172.4 90.4h.7M169.2 88.8h.7M168.8 87.1h.7M165.2 103.8h.7M168.9 89.6h.7M166.3 96.4h.7M158.5 88.3h.7M163.0 91.1h.7M160.6 89.1h.7M174.5 87.6h.7M168.0 86.5h.7M168.0 82.2h.7M166.8 92.9h.7M159.9 93.4h.7M178.3 92.2h.7M170.3 92.1h.7M169.1 86.8h.7M166.8 97.9h.7M171.0 96.6h.7M178.6 83.0h.7M162.7 81.1h.7M166.1 91.4h.7M172.9 89.3h.7M162.2 91.3h.7M161.0 90.9h.7M175.3 95.0h.7M169.0 92.5h.7M172.3 91.5h.7M175.3 98.2h.7M168.2 87.5h.7M166.1 91.5h.7M159.8 91.7h.7M174.4 95.9h.7M162.5 79.9h.7M160.7 84.0h.7M168.0 88.6h.7M176.6 83.4h.7M170.3 94.5h.7M163.5 90.7h.7M167.3 93.6h.7M169.1 90.7h.7M176.9 94.7h.7M158.3 84.5h.7M165.9 89.1h.7M167.3 91.7h.7M166.3 93.3h.7M177.5 89.1h.7M174.0 90.4h.7M173.1 94.7h.7M166.4 90.9h.7M169.5 87.7h.7M177.4 95.2h.7M175.4 91.2h.7M167.9 89.1h.7M190.0 94.9h.7M170.2 88.4h.7M176.2 94.2h.7M166.4 96.1h.7M171.7 91.3h.7M175.4 87.5h.7M161.5 100.1h.7M163.5 85.1h.7M165.7 91.4h.7M166.4 88.8h.7M171.7 84.7h.7M164.0 92.9h.7M165.0 91.4h.7M167.6 94.0h.7M156.8 98.3h.7M167.0 94.1h.7M159.0 93.8h.7M164.2 85.8h.7M165.0 91.3h.7M167.3 82.7h.7M158.0 90.6h.7M166.7 93.6h.7M175.0 90.4h.7M167.2 88.0h.7M176.4 96.3h.7M169.5 87.4h.7M159.7 87.0h.7M162.0 86.4h.7M168.9 93.6h.7M171.4 95.1h.7M165.5 93.2h.7M168.4 95.0h.7M172.5 89.7h.7M173.3 90.7h.7M168.4 91.4h.7M167.7 86.9h.7M173.3 92.0h.7M171.2 80.0h.7M178.3 91.5h.7M161.2 83.2h.7M165.8 78.5h.7M175.1 83.2h.7M169.9 95.7h.7M164.4 87.2h.7M170.9 96.6h.7M161.1 97.7h.7M168.6 86.2h.7M161.7 91.7h.7M174.8 82.7h.7M161.9 91.7h.7M172.0 92.4h.7M176.3 94.0h.7M166.6 87.0h.7M158.8 85.8h.7M176.6 90.3h.7M176.9 91.0h.7M160.4 90.3h.7M177.9 93.4h.7M175.3 89.1h.7M171.5 97.6h.7M183.5 92.6h.7M167.4 80.9h.7M167.0 93.7h.7M178.7 84.1h.7M167.7 92.7h.7M168.9 90.4h.7M171.0 78.3h.7M171.4 80.9h.7M168.0 88.8h.7M170.7 89.0h.7M168.3 85.1h.7M169.0 88.8h.7M159.4 88.8h.7M162.2 87.6h.7M166.8 82.1h.7M164.0 88.8h.7M169.8 104.0h.7M176.7 87.1h.7M157.5 93.6h.7M164.1 91.2h.7M160.4 95.6h.7M164.0 92.1h.7M174.7 91.3h.7M163.8 93.5h.7M159.1 94.0h.7M168.5 89.7h.7M171.9 94.1h.7M167.5 91.2h.7M171.1 97.6h.7M178.7 95.5h.7M175.1 91.4h.7M169.2 84.0h.7M164.3 83.8h.7M165.6 78.2h.7M160.3 89.0h.7M165.1 89.6h.7M160.7 95.7h.7M166.4 95.4h.7M160.2 85.4h.7M181.4 92.6h.7M167.2 95.8h.7M174.2 93.5h.7M159.1 92.7h.7M170.4 97.9h.7M162.8 94.3h.7M166.9 96.7h.7M168.8 89.7h.7M166.9 90.3h.7M159.4 87.4h.7M167.9 83.8h.7M167.0 87.7h.7M165.2 85.7h.7M176.2 89.9h.7M177.6 86.3h.7M156.5 95.5h.7M176.8 86.9h.7M170.6 99.0h.7M167.0 97.4h.7M167.3 90.9h.7M166.8 96.5h.7M176.2 88.4h.7M165.2 81.2h.7M166.4 85.0h.7M168.9 92.1h.7M170.2 99.0h.7M181.9 93.2h.7M160.5 89.0h.7M160.8 93.9h.7M169.8 88.8h.7M178.7 94.9h.7M172.9 92.2h.7M175.5 86.6h.7M179.8 90.5h.7M170.3 91.7h.7M181.1 88.2h.7M164.4 94.8h.7M161.6 93.2h.7M171.2 81.1h.7M165.6 99.8h.7M162.7 96.0h.7M165.1 95.0h.7M179.6 94.0h.7M175.4 96.0h.7M160.3 88.0h.7M171.7 93.2h.7M161.5 95.2h.7M167.5 83.0h.7M159.3 102.2h.7M174.6 94.7h.7M173.3 93.9h.7M182.0 90.4h.7M177.5 93.3h.7M170.8 91.6h.7M172.9 88.1h.7M162.7 94.5h.7M171.4 93.1h.7M174.6 92.2h.7M170.7 85.5h.7M171.3 95.7h.7M166.9 84.6h.7M167.8 90.3h.7M179.4 93.0h.7M165.9 94.0h.7M169.2 91.6h.7M159.7 91.2h.7M168.7 96.8h.7M166.8 88.9h.7M171.9 91.2h.7M174.0 89.4h.7M166.1 94.1h.7M159.8 88.2h.7M173.4 89.1h.7M168.7 93.2h.7M172.6 86.6h.7M171.2 93.2h.7M173.9 99.8h.7M173.0 93.5h.7M162.8 96.5h.7M175.9 88.8h.7M171.0 89.7h.7M174.2 85.0h.7M177.4 87.9h.7M170.8 88.2h.7M173.7 93.1h.7M166.3 94.6h.7M169.7 85.4h.7M161.6 100.0h.7M173.1 86.8h.7M168.3 82.6h.7M157.9 81.7h.7M167.0 84.9h.7M159.4 90.7h.7M171.7 87.2h.7M163.6 94.0h.7M174.3 98.2h.7M175.3 89.8h.7M157.1 98.6h.7M175.7 89.9h.7M184.3 86.9h.7M171.0 92.7h.7M157.8 88.4h.7M167.7 85.2h.7M172.8 95.4h.7M175.9 93.9h.7M167.5 82.9h.7M170.3 94.3h.7M172.0 89.3h.7M165.4 89.2h.7M173.7 93.5h.7M159.7 90.2h.7M169.0 84.3h.7M160.4 89.9h.7M159.8 91.6h.7M171.8 88.9h.7M169.7 93.5h.7M179.1 95.9h.7M167.8 85.1h.7M174.0 95.8h.7M174.5 82.4h.7M172.3 99.1h.7M164.4 86.4h.7M159.2 91.7h.7M175.1 85.9h.7M169.3 88.2h.7M180.3 97.8h.7M174.7 86.3h.7M175.1 95.0h.7M172.9 91.0h.7M175.2 95.2h.7M168.2 92.6h.7M175.3 83.1h.7M160.6 89.4h.7M166.5 92.2h.7M163.8 91.5h.7M161.8 93.3h.7M169.3 89.1h.7M174.8 97.4h.7M165.5 83.7h.7M178.2 83.9h.7M168.0 85.9h.7M165.1 90.0h.7M171.5 84.3h.7M166.4 90.0h.7M164.3 102.7h.7M163.4 84.9h.7M176.7 88.8h.7M160.7 97.8h.7M165.2 87.9h.7M172.5 92.2h.7M170.6 84.3h.7M160.9 100.9h.7M171.4 85.6h.7M172.0 86.6h.7M163.7 93.9h.7M167.2 89.6h.7M168.4 88.0h.7M165.0 83.3h.7M169.9 88.7h.7M169.5 95.5h.7M156.4 84.4h.7M177.6 87.5h.7M174.0 85.8h.7M163.3 87.5h.7M173.0 91.6h.7M164.4 87.2h.7M168.6 91.4h.7M166.4 88.5h.7M171.1 88.1h.7M179.0 95.2h.7M163.6 88.8h.7M171.6 87.9h.7M169.2 98.0h.7M161.2 81.6h.7M173.8 92.8h.7M175.0 95.7h.7M171.6 96.3h.7M165.6 81.4h.7M173.1 97.4h.7M174.9 95.4h.7M161.8 94.0h.7M163.7 91.6h.7M162.0 92.3h.7M165.9 84.9h.7M178.4 89.7h.7M175.8 100.6h.7M158.9 98.3h.7M171.3 95.2h.7M168.7 89.7h.7M158.6 94.5h.7M177.0 90.9h.7M171.5 81.8h.7M181.2 93.6h.7M176.6 96.4h.7M187.8 87.0h.7M171.0 94.5h.7M173.2 93.5h.7M168.4 88.9h.7M164.6 87.2h.7M164.6 85.2h.7M169.6 91.9h.7M166.4 87.3h.7M170.2 87.7h.7M169.9 91.8h.7M164.6 91.7h.7M163.1 91.5h.7M167.4 93.2h.7M168.9 92.5h.7M176.1 89.3h.7M158.6 88.9h.7M157.6 85.2h.7M177.0 95.7h.7M173.2 86.2h.7M157.8 100.6h.7M168.3 93.4h.7M172.9 94.9h.7M163.2 93.6h.7M169.0 94.3h.7M169.3 97.8h.7M166.1 84.1h.7M162.3 87.5h.7M167.3 86.0h.7M168.5 87.4h.7M179.9 88.4h.7M173.7 90.1h.7M175.8 90.0h.7M169.0 90.7h.7M160.3 92.9h.7M169.6 90.3h.7M170.6 95.3h.7M178.8 84.9h.7M166.5 85.3h.7M170.2 98.2h.7M166.1 89.4h.7M174.9 96.2h.7M163.2 97.0h.7M177.1 88.1h.7M165.9 96.7h.7M171.2 92.7h.7M173.8 90.3h.7M173.3 91.4h.7M169.7 93.4h.7M172.1 94.8h.7M179.5 92.2h.7M166.1 96.3h.7M172.3 93.6h.7M165.1 84.8h.7M163.0 94.7h.7M174.0 86.1h.7M162.0 92.9h.7M167.5 82.2h.7M164.6 87.7h.7M168.5 82.2h.7M174.3 88.2h.7M161.5 83.2h.7M174.4 92.5h.7M159.7 92.0h.7M188.9 86.4h.7M165.0 93.6h.7M169.1 82.9h.7M164.5 93.8h.7M165.1 95.8h.7M176.9 89.7h.7M175.0 89.2h.7M160.5 100.0h.7M177.9 82.9h.7M166.5 92.3h.7M168.8 98.5h.7M168.0 93.0h.7M178.6 85.5h.7M171.2 88.9h.7M158.9 90.8h.7M178.3 92.3h.7M177.5 88.0h.7M161.2 95.8h.7M159.4 90.7h.7M164.7 99.6h.7M164.4 97.1h.7M178.0 99.7h.7M173.4 98.0h.7M160.4 98.1h.7M171.6 92.3h.7M160.9 100.7h.7M171.1 94.7h.7M186.4 90.0h.7M171.3 98.3h.7M178.9 88.1h.7M166.5 95.7h.7M171.2 99.1h.7M166.8 82.5h.7M173.2 95.1h.7M172.2 92.9h.7M168.6 94.0h.7M171.0 94.9h.7M169.6 91.0h.7M155.8 91.8h.7M170.9 84.8h.7M155.9 96.5h.7M163.0 87.5h.7M161.0 92.7h.7M169.9 84.5h.7M171.4 84.9h.7M166.8 91.1h.7M170.8 91.9h.7M173.7 92.4h.7M178.5 97.2h.7M176.2 90.2h.7M162.0 85.6h.7M174.7 99.5h.7M175.9 91.6h.7M170.3 94.7h.7M156.5 86.0h.7M175.5 99.8h.7M174.2 91.7h.7M173.1 87.4h.7M162.5 90.7h.7M172.1 88.3h.7M178.8 88.1h.7M172.5 95.1h.7M164.1 94.9h.7M161.6 89.6h.7M172.3 91.1h.7M166.9 89.8h.7M172.7 87.8h.7M178.3 81.0h.7M164.1 97.7h.7M162.6 86.6h.7M179.3 92.1h.7M172.5 99.0h.7M169.5 93.3h.7M176.3 96.5h.7M172.7 92.8h.7M173.5 92.9h.7M168.6 88.7h.7M177.3 84.9h.7M167.4 90.4h.7M176.6 87.6h.7M171.7 88.5h.7M167.1 91.4h.7M172.4 96.8h.7M167.3 91.9h.7M162.9 87.6h.7M170.7 100.5h.7M162.8 85.1h.7M174.1 96.0h.7M179.3 89.7h.7M178.7 97.2h.7M168.8 92.6h.7M168.1 96.0h.7M162.0 88.9h.7M171.4 85.3h.7M160.8 102.3h.7M168.5 93.4h.7M169.0 87.8h.7M165.4 92.3h.7M165.6 85.7h.7M163.8 94.3h.7M164.0 96.6h.7M170.7 82.9h.7M161.9 93.5h.7M170.6 96.2h.7M171.9 85.9h.7M169.9 100.9h.7M165.9 95.7h.7M176.6 88.6h.7M179.2 88.3h.7M171.3 100.9h.7M162.3 86.0h.7M168.7 93.6h.7M167.1 87.4h.7M167.9 91.8h.7M168.7 99.2h.7M166.6 88.6h.7M172.8 87.6h.7M178.8 85.2h.7M169.7 96.6h.7M163.2 85.0h.7M178.3 98.0h.7M167.0 89.2h.7M175.6 100.8h.7M175.8 89.9h.7M159.2 93.8h.7M165.9 94.0h.7M169.2 92.8h.7M168.8 93.0h.7M171.2 93.4h.7M168.8 86.5h.7M174.8 83.7h.7M172.0 88.0h.7M170.3 89.1h.7M169.5 93.5h.7M163.6 94.2h.7M170.2 86.9h.7M169.0 88.3h.7M171.0 92.8h.7M158.2 90.7h.7M170.4 99.9h.7M180.2 91.3h.7M167.2 78.6h.7M177.3 89.0h.7M165.3 92.9h.7M166.6 93.2h.7M160.2 95.4h.7M161.8 85.6h.7M169.0 86.9h.7M172.6 93.4h.7M173.6 97.1h.7M180.9 92.3h.7M173.3 84.8h.7M161.0 85.3h.7M168.6 90.3h.7M164.1 93.7h.7M166.3 93.0h.7M178.9 94.6h.7M168.8 79.6h.7M172.3 89.7h.7M164.2 87.0h.7M160.7 90.8h.7M158.0 96.7h.7M168.1 87.7h.7M161.8 95.6h.7M175.2 92.3h.7M167.2 87.5h.7M177.6 89.3h.7M165.5 88.2h.7M160.7 79.9h.7M165.8 95.8h.7M171.8 102.0h.7M166.4 93.7h.7M184.1 86.2h.7M168.6 89.8h.7M166.7 92.1h.7M166.6 87.7h.7M172.3 97.8h.7M163.5 88.3h.7M169.3 92.8h.7M182.1 85.5h.7M177.6 88.6h.7M169.6 93.9h.7M170.8 85.2h.7M171.9 87.7h.7M169.2 89.3h.7M165.0 98.8h.7M173.5 95.7h.7M165.5 85.4h.7M174.1 88.6h.7M170.3 88.6h.7M176.2 89.7h.7M161.1 92.0h.7M164.2 91.6h.7M165.0 84.7h.7M160.7 82.4h.7M180.8 96.3h.7M171.5 86.7h.7M167.3 97.2h.7M167.1 86.2h.7M160.5 89.0h.7M168.3 91.6h.7M177.0 94.8h.7M163.6 97.3h.7M170.5 79.0h.7M171.4 89.0h.7M180.5 87.9h.7M173.0 78.8h.7M171.5 87.8h.7M161.2 93.9h.7M174.9 84.2h.7M160.6 97.1h.7M167.5 92.0h.7M163.7 97.3h.7M169.3 95.1h.7M167.5 94.6h.7M170.7 98.0h.7M174.7 92.7h.7M165.5 88.5h.7M174.3 89.4h.7M161.1 94.4h.7M170.1 90.6h.7M162.1 86.3h.7M165.1 82.3h.7M173.8 93.7h.7M175.2 83.8h.7M175.4 94.5h.7M166.4 94.5h.7M158.8 93.6h.7M160.3 93.2h.7M166.3 92.6h.7M162.6 88.4h.7M168.7 89.0h.7M176.3 93.6h.7M168.4 101.0h.7M171.2 97.6h.7M181.2 86.8h.7M166.9 94.2h.7M174.3 87.8h.7M158.4 87.3h.7M171.9 89.3h.7M162.4 90.3h.7M170.7 101.1h.7M160.7 94.2h.7M161.3 96.7h.7M166.5 91.9h.7M172.1 90.6h.7M177.9 87.7h.7M172.0 88.0h.7M163.4 89.6h.7M174.1 79.2h.7M172.0 92.0h.7M162.9 91.1h.7M158.1 98.9h.7M176.8 82.7h.7M166.4 87.5h.7M177.7 100.8h.7M176.5 86.2h.7M166.9 94.4h.7M167.3 84.3h.7M160.8 92.2h.7M176.0 91.3h.7M174.7 93.6h.7M167.1 98.1h.7M173.6 93.2h.7M157.8 92.1h.7M169.1 89.2h.7M174.1 85.6h.7M164.8 97.7h.7M169.3 100.0h.7M157.4 89.4h.7M166.9 89.2h.7M160.5 87.0h.7M163.9 90.2h.7M155.8 93.5h.7M172.2 85.9h.7M175.4 86.9h.7M192.6 92.6h.7M162.1 95.3h.7M157.1 88.0h.7M167.8 84.0h.7M175.7 87.3h.7M162.8 87.8h.7M164.9 93.9h.7M159.5 93.9h.7M184.1 91.1h.7M178.8 91.3h.7M168.5 87.4h.7M174.3 87.5h.7M166.6 94.9h.7M156.3 87.7h.7M169.1 90.7h.7M170.3 91.5h.7M173.2 83.4h.7M166.6 78.3h.7M166.6 96.4h.7M176.7 94.1h.7M173.6 94.3h.7M158.7 90.7h.7M169.9 87.5h.7M171.4 93.3h.7M174.5 92.0h.7M167.9 99.2h.7M166.2 88.4h.7M171.1 83.9h.7M169.2 86.5h.7M174.4 87.9h.7M161.5 87.1h.7M163.7 91.0h.7M172.6 85.3h.7M157.9 97.7h.7M168.1 88.3h.7M165.5 93.1h.7M171.8 102.3h.7M182.7 87.6h.7M176.5 87.9h.7M164.4 91.1h.7M169.0 86.3h.7M169.0 90.4h.7M163.2 80.4h.7M167.6 98.1h.7M167.1 90.5h.7M175.3 97.6h.7M176.5 96.8h.7M174.5 92.8h.7M175.0 95.6h.7M168.7 88.4h.7M158.0 87.6h.7M172.4 87.1h.7M166.2 93.8h.7M175.6 86.0h.7M175.2 87.6h.7M166.0 91.8h.7M159.6 89.1h.7M170.2 91.8h.7M173.5 93.5h.7M164.9 88.1h.7M169.3 91.9h.7M165.4 97.4h.7M163.2 98.5h.7M172.4 91.3h.7M171.3 92.7h.7M163.1 95.9h.7M170.6 90.8h.7M164.8 87.9h.7M175.0 96.3h.7M175.9 90.0h.7M171.9 91.9h.7M171.5 94.9h.7M166.5 89.3h.7M170.4 84.1h.7M160.4 94.7h.7M180.5 94.4h.7M165.8 89.9h.7M172.4 89.8h.7M163.6 89.0h.7M182.6 87.1h.7M165.8 95.2h.7M170.6 89.4h.7M172.2 87.5h.7M168.8 96.8h.7M179.9 91.0h.7M164.8 86.6h.7M169.0 93.3h.7M180.9 84.6h.7M176.1 102.2h.7M181.4 93.3h.7M171.3 89.1h.7M178.3 88.3h.7M169.9 86.6h.7M170.7 88.8h.7M170.0 94.6h.7M168.0 91.5h.7M161.6 89.1h.7M174.9 95.4h.7M167.7 78.5h.7M169.5 90.5h.7M159.5 92.1h.7M172.6 81.1h.7M164.7 91.5h.7M167.6 96.7h.7M186.4 80.2h.7M166.2 95.5h.7M174.1 94.6h.7M172.4 91.3h.7M171.3 89.7h.7M170.4 78.9h.7M155.7 86.8h.7M163.7 85.7h.7M170.2 89.4h.7M166.8 96.7h.7M163.1 88.7h.7M169.7 88.9h.7M166.2 88.3h.7M162.1 94.5h.7M173.1 93.7h.7M175.6 88.2h.7M169.3 92.3h.7M163.2 91.1h.7M168.2 87.7h.7M167.7 89.0h.7M170.5 82.9h.7M163.6 93.0h.7M166.3 92.0h.7M160.6 88.5h.7M172.1 97.0h.7M169.0 85.9h.7M169.4 90.1h.7M156.0 84.3h.7M173.7 91.4h.7M168.0 87.7h.7M158.4 89.9h.7M174.0 92.6h.7M156.6 91.6h.7M164.6 84.7h.7M169.4 92.7h.7M161.1 86.3h.7M163.5 97.5h.7M179.7 84.0h.7M169.4 101.1h.7M156.2 91.5h.7M170.7 83.5h.7M173.6 91.0h.7M164.4 91.2h.7M164.4 85.0h.7M177.2 89.9h.7M163.1 94.6h.7M166.9 89.5h.7M164.3 80.2h.7M156.0 92.1h.7M168.5 85.0h.7M172.4 93.5h.7M171.9 82.0h.7M170.2 93.6h.7M180.4 96.1h.7M170.3 85.0h.7M179.1 103.8h.7M159.5 98.4h.7M157.1 90.1h.7M177.7 92.1h.7M183.0 94.6h.7M157.7 95.1h.7M157.2 94.2h.7M171.6 86.5h.7M166.2 92.9h.7M169.7 86.9h.7M166.7 98.0h.7M179.1 80.6h.7M168.8 93.3h.7M178.2 92.1h.7M164.8 93.1h.7M177.9 93.8h.7M169.1 93.8h.7M165.1 83.2h.7M164.4 95.4h.7M174.1 91.1h.7M173.2 82.6h.7M169.8 95.7h.7M169.0 97.8h.7M173.6 96.3h.7M168.4 85.6h.7M177.6 91.6h.7M163.3 91.2h.7M170.6 90.7h.7M178.2 91.9h.7M165.3 83.3h.7M168.0 88.9h.7M156.0 96.2h.7M170.0 96.5h.7M170.5 88.9h.7M167.0 91.6h.7M171.2 95.3h.7M169.5 89.6h.7M157.4 88.7h.7M170.9 93.7h.7M166.6 87.5h.7M159.1 87.6h.7M163.5 93.7h.7M162.8 91.3h.7M172.8 81.8h.7M176.9 88.8h.7M179.0 89.7h.7M163.9 93.8h.7M160.4 84.2h.7M173.6 96.1h.7M155.7 91.8h.7M163.7 91.0h.7M168.8 97.5h.7M168.5 84.7h.7M160.6 87.9h.7M166.2 99.9h.7M169.2 96.2h.7M168.4 84.9h.7M183.6 82.9h.7M170.7 91.9h.7M160.5 88.5h.7M167.1 89.0h.7M161.0 92.6h.7M173.9 87.0h.7M168.6 92.3h.7M160.5 79.5h.7M172.2 93.4h.7M165.2 84.9h.7M176.3 83.4h.7M167.9 84.6h.7M176.0 88.8h.7M180.8 90.4h.7M164.0 88.7h.7M172.5 92.8h.7M180.6 84.5h.7M167.9 90.6h.7M168.1 84.2h.7M162.4 89.8h.7M158.5 86.7h.7M162.6 101.6h.7M171.5 90.4h.7M163.0 86.9h.7M168.5 92.6h.7M166.6 87.5h.7M167.9 87.7h.7M162.4 87.7h.7M168.0 95.7h.7M163.9 93.9h.7M163.9 85.1h.7M163.1 88.9h.7M175.4 96.9h.7M165.1 88.9h.7M178.0 90.4h.7M175.7 88.7h.7M165.8 91.7h.7M167.8 99.7h.7M168.4 90.7h.7M164.4 87.6h.7M161.9 91.1h.7M164.4 91.0h.7M175.4 93.8h.7M165.1 94.5h.7M169.0 97.1h.7M169.2 103.4h.7M161.4 94.4h.7M167.4 84.8h.7M157.1 96.7h.7M169.6 93.7h.7M162.5 88.3h.7M173.4 94.0h.7M171.3 91.8h.7M165.2 94.8h.7M167.1 92.2h.7M165.1 92.3h.7M165.6 84.4h.7M176.5 105.4h.7M169.0 93.4h.7M171.0 92.4h.7M174.0 94.0h.7M172.1 86.7h.7M172.3 94.7h.7M163.9 92.9h.7M175.0 95.2h.7M168.9 101.4h.7M169.7 91.1h.7M163.5 82.1h.7M168.8 82.6h.7M174.0 97.4h.7M177.3 93.3h.7M165.4 87.9h.7M169.8 91.7h.7M160.9 89.4h.7M161.6 93.8h.7M166.5 96.7h.7M182.0 98.0h.7M179.6 84.2h.7M169.1 94.1h.7M167.8 85.6h.7M162.6 88.9h.7M174.1 91.9h.7M171.4 91.8h.7M172.9 89.7h.7M170.8 92.5h.7M166.3 86.6h.7M166.9 87.7h.7M168.5 90.8h.7M170.0 94.3h.7M162.3 86.6h.7M166.3 91.4h.7M166.0 85.8h.7M163.7 85.9h.7M165.4 92.0h.7M168.7 89.6h.7M167.6 89.6h.7M165.4 91.2h.7M169.5 92.5h.7M172.3 92.8h.7M164.2 94.9h.7M184.9 91.3h.7M164.8 98.2h.7M167.6 83.9h.7M172.6 91.9h.7M176.0 88.5h.7M174.2 87.5h.7M164.7 87.9h.7M167.9 90.6h.7M174.0 100.8h.7M171.0 85.8h.7M161.6 95.1h.7M165.3 90.3h.7M172.5 94.1h.7M158.8 84.1h.7M164.4 91.2h.7M177.3 93.7h.7M166.5 84.5h.7M157.0 93.5h.7M171.9 84.9h.7M169.2 89.2h.7M175.7 89.8h.7M162.7 89.9h.7M162.5 90.8h.7M163.5 87.6h.7M158.6 97.6h.7M164.9 102.3h.7M173.6 90.8h.7M171.2 83.1h.7M172.1 93.2h.7M158.1 93.7h.7M177.7 85.9h.7M172.4 82.9h.7M173.7 89.5h.7M170.6 95.4h.7M166.4 92.4h.7M162.3 89.4h.7M164.4 96.2h.7M176.0 96.3h.7M170.9 91.4h.7M164.6 96.3h.7M169.8 93.6h.7M158.8 89.0h.7M165.6 93.9h.7M159.8 94.6h.7M163.7 97.4h.7M158.6 94.6h.7M173.5 96.3h.7M161.1 86.2h.7M171.2 90.8h.7M168.2 90.0h.7M169.2 89.9h.7M161.3 95.2h.7M163.6 91.4h.7M176.3 87.2h.7M166.4 86.3h.7M169.7 96.6h.7M187.0 87.3h.7M176.3 93.1h.7M174.4 89.2h.7M169.4 97.8h.7M171.7 92.4h.7M175.3 88.8h.7M166.1 91.8h.7M178.7 86.0h.7M167.2 86.2h.7M165.8 88.9h.7M162.6 91.7h.7M180.3 92.6h.7M170.9 92.8h.7M169.5 94.5h.7M167.2 84.0h.7M171.5 90.2h.7M171.9 87.3h.7M172.0 87.3h.7M159.7 90.7h.7M158.1 90.0h.7M161.3 98.8h.7M166.9 92.6h.7M165.6 93.8h.7M172.8 105.1h.7M172.1 88.0h.7M171.2 89.5h.7M170.7 83.0h.7M175.6 95.8h.7M172.4 93.7h.7M171.0 77.9h.7M166.4 80.7h.7M166.2 90.1h.7M166.8 95.9h.7M178.5 94.7h.7M165.7 89.2h.7M171.9 96.6h.7M174.6 85.2h.7M170.8 90.5h.7M166.7 89.4h.7M167.4 95.7h.7M174.4 85.1h.7M168.7 93.2h.7M171.1 95.0h.7M168.3 88.5h.7M169.8 97.0h.7M179.7 90.0h.7M168.7 92.5h.7M156.6 90.9h.7M171.5 95.7h.7M180.0 89.2h.7M164.5 89.5h.7M169.8 88.3h.7M162.6 89.4h.7M165.0 89.7h.7M159.9 90.1h.7M166.5 91.9h.7M167.1 92.2h.7M166.0 92.1h.7M181.7 93.2h.7M167.9 94.7h.7M165.1 86.8h.7M171.2 79.3h.7M175.2 95.7h.7M167.7 87.9h.7M171.5 93.9h.7M169.5 87.7h.7M181.5 82.6h.7M163.0 86.2h.7M167.8 91.3h.7M156.0 84.7h.7M162.4 92.5h.7M162.3 84.3h.7M161.6 93.4h.7M156.2 91.2h.7M169.0 94.1h.7M176.2 95.9h.7M171.1 88.8h.7M162.4 90.5h.7M168.5 87.2h.7M172.5 85.7h.7M162.8 92.5h.7M161.2 90.0h.7M165.8 91.8h.7M180.8 78.7h.7M170.4 93.1h.7M162.8 93.1h.7M165.0 87.3h.7M173.2 90.1h.7M172.5 85.8h.7M178.3 88.2h.7M164.1 91.2h.7M170.8 93.2h.7M164.3 93.7h.7M172.4 97.7h.7M167.0 91.9h.7M168.3 84.3h.7M174.9 102.2h.7M159.7 101.8h.7M171.5 96.2h.7M174.3 90.5h.7M165.0 95.7h.7M167.2 92.6h.7M169.2 83.9h.7M164.9 89.7h.7M167.4 91.7h.7M170.5 94.9h.7M179.5 93.4h.7M169.8 90.3h.7M163.8 94.0h.7M166.5 87.7h.7M173.3 94.9h.7M169.2 83.5h.7M171.0 93.3h.7M163.5 99.9h.7M166.1 91.1h.7M164.1 87.8h.7M167.9 92.5h.7M164.5 86.4h.7M165.5 92.6h.7M167.7 92.1h.7M173.9 84.2h.7M165.6 90.5h.7M172.3 100.3h.7M167.8 89.1h.7M172.7 92.2h.7M177.5 89.2h.7M169.0 91.2h.7M175.4 92.6h.7M156.1 96.6h.7M169.7 91.9h.7M163.0 89.3h.7M175.3 91.7h.7M161.0 92.1h.7M180.3 95.0h.7M169.2 96.0h.7M173.8 87.4h.7M180.7 84.7h.7M172.3 94.6h.7M170.0 92.6h.7M158.8 96.5h.7M174.1 86.9h.7M172.8 89.2h.7M168.1 84.2h.7M159.7 93.1h.7M166.3 92.9h.7M171.1 95.0h.7M161.3 89.5h.7M177.0 92.9h.7M173.7 92.2h.7M165.5 87.5h.7M172.3 92.0h.7M169.4 86.1h.7M170.2 88.0h.7M162.1 90.8h.7M173.3 100.3h.7M160.4 93.5h.7M166.4 89.2h.7M160.9 82.5h.7M167.1 93.4h.7M165.8 87.9h.7M168.0 83.8h.7M174.3 87.8h.7M162.5 85.0h.7M169.5 84.3h.7M167.0 92.3h.7M166.9 93.8h.7M177.3 92.5h.7M163.4 93.6h.7M178.8 94.6h.7M163.8 95.6h.7M161.9 98.5h.7M170.8 83.3h.7M167.1 94.5h.7M170.3 92.7h.7M173.6 86.2h.7M166.5 80.4h.7M166.0 91.5h.7M176.4 96.4h.7M166.9 86.3h.7M164.0 87.6h.7M177.5 84.4h.7M157.7 85.8h.7M177.4 86.5h.7M169.4 94.7h.7M166.4 94.7h.7M165.8 94.1h.7M172.0 88.6h.7M162.5 99.7h.7M169.6 99.0h.7M176.4 91.1h.7M171.2 96.6h.7M170.3 86.5h.7M164.0 91.2h.7M167.8 95.4h.7M172.5 91.5h.7M173.5 97.6h.7M171.8 87.6h.7M175.6 85.9h.7M159.2 84.6h.7M174.2 84.8h.7M167.7 93.0h.7M174.5 98.7h.7M170.6 97.7h.7M170.6 94.9h.7M160.1 88.6h.7M176.8 88.6h.7M173.7 83.6h.7M164.9 90.3h.7M164.1 93.5h.7M183.0 98.3h.7M166.1 99.0h.7M165.0 87.4h.7M162.3 87.7h.7M171.2 92.2h.7M164.8 84.5h.7M164.1 79.7h.7M181.9 85.0h.7M168.0 89.5h.7M175.0 88.7h.7M163.4 92.1h.7M164.6 92.2h.7M168.4 96.8h.7M162.4 90.5h.7M168.8 90.8h.7M168.9 91.4h.7M156.8 92.9h.7M161.5 96.6h.7M170.4 86.2h.7M158.1 87.0h.7M158.2 93.1h.7M168.5 90.8h.7M168.8 90.6h.7M163.7 83.5h.7M170.0 97.9h.7M166.9 97.0h.7M177.3 93.7h.7M158.0 99.9h.7M179.3 95.2h.7M181.4 91.3h.7M172.9 93.2h.7M166.5 93.5h.7M172.1 88.1h.7M171.2 92.2h.7M159.8 84.7h.7M168.2 88.7h.7M158.4 84.6h.7M159.8 94.7h.7M173.9 85.5h.7M175.1 87.0h.7M157.7 93.5h.7M172.6 88.4h.7M177.5 100.8h.7M167.4 84.4h.7M167.4 90.8h.7M163.2 99.0h.7M179.0 80.0h.7M165.5 91.6h.7M165.2 89.9h.7M165.4 90.4h.7M158.3 94.5h.7M169.8 82.7h.7M178.4 85.0h.7M169.9 87.4h.7M171.7 87.0h.7M160.0 96.7h.7M161.1 93.4h.7M167.0 98.5h.7M173.1 93.2h.7M162.1 90.2h.7M168.2 86.8h.7M156.8 99.5h.7M180.5 89.9h.7M167.2 81.8h.7M167.2 93.1h.7M165.7 97.1h.7M165.7 92.5h.7M177.3 85.7h.7M175.5 85.8h.7M158.3 92.6h.7M173.4 92.2h.7M173.6 85.7h.7M169.7 86.9h.7M177.3 96.6h.7M179.2 90.5h.7M167.3 93.9h.7M167.8 94.1h.7M177.4 97.4h.7M165.6 90.4h.7M161.8 95.0h.7M169.3 89.7h.7M170.6 85.3h.7M169.1 86.7h.7M168.6 90.5h.7M167.5 96.9h.7M162.2 91.6h.7M160.8 91.9h.7M174.2 97.3h.7M167.9 88.5h.7M169.1 89.1h.7M179.0 87.8h.7M167.3 99.2h.7M160.9 92.6h.7M175.8 87.0h.7M158.7 98.1h.7M179.2 94.4h.7M175.7 95.0h.7M165.2 91.1h.7M169.9 85.6h.7M160.5 88.8h.7M165.2 89.9h.7M170.5 95.3h.7M170.7 97.6h.7M171.7 84.9h.7M180.8 89.0h.7M169.6 95.1h.7M160.5 94.6h.7M164.9 88.7h.7M165.9 87.3h.7M173.8 86.1h.7M170.3 88.3h.7M172.2 96.5h.7M170.6 96.2h.7M160.9 95.1h.7M169.0 101.8h.7M170.9 99.1h.7M166.7 96.8h.7M166.0 91.3h.7M168.8 92.3h.7M182.4 94.3h.7M165.1 87.4h.7M176.4 77.9h.7M179.8 85.0h.7M173.4 82.9h.7M167.6 78.0h.7M168.6 85.0h.7M165.9 79.6h.7M172.9 82.0h.7M169.5 84.9h.7M171.6 85.3h.7M158.5 84.5h.7M171.8 94.0h.7M162.7 86.1h.7M176.9 84.4h.7M180.5 89.5h.7M168.0 82.8h.7M165.0 73.7h.7M166.7 78.6h.7M168.6 80.3h.7M167.5 78.8h.7M171.4 84.8h.7M167.0 85.8h.7M173.4 80.4h.7M166.8 81.0h.7M171.3 82.7h.7M172.7 77.8h.7M172.5 81.2h.7M168.1 82.6h.7M167.8 89.2h.7M162.0 88.9h.7M171.0 72.3h.7M163.6 90.5h.7M178.6 86.8h.7M168.5 86.9h.7M176.3 80.9h.7M170.2 82.9h.7M164.6 87.7h.7M164.1 82.1h.7M158.0 87.9h.7M172.1 84.7h.7M168.2 90.4h.7M167.4 85.2h.7M165.8 77.4h.7M175.4 87.4h.7M170.9 78.5h.7M164.3 80.6h.7M168.3 86.3h.7M169.9 86.2h.7M167.9 75.4h.7M173.7 77.2h.7M162.8 86.1h.7M171.8 88.3h.7M165.8 79.0h.7M171.6 83.4h.7M164.1 76.8h.7M170.2 83.8h.7M169.5 78.4h.7M167.2 81.4h.7M173.9 88.1h.7M170.4 82.0h.7M173.6 78.2h.7M167.0 85.2h.7M172.8 83.7h.7M164.1 81.7h.7M164.0 79.8h.7M171.5 77.6h.7M172.4 83.6h.7M169.9 79.2h.7M178.1 78.2h.7M163.7 81.5h.7M166.6 88.8h.7M166.5 88.3h.7M163.0 89.5h.7M167.9 90.0h.7M173.4 84.9h.7M163.0 82.1h.7M167.5 80.4h.7M177.5 76.3h.7M166.1 73.3h.7M169.9 85.5h.7M166.9 91.7h.7M164.9 84.4h.7M175.0 83.7h.7M171.5 82.2h.7M171.4 80.2h.7M165.9 79.7h.7M165.8 74.6h.7M158.8 80.3h.7M161.6 84.3h.7M168.0 82.4h.7M169.2 73.9h.7M161.8 86.6h.7M170.9 86.1h.7M164.3 84.3h.7M166.8 83.4h.7M166.0 84.6h.7M168.8 79.0h.7M163.1 73.3h.7M166.3 83.4h.7M172.1 88.7h.7M166.1 89.7h.7M167.0 85.5h.7M163.2 74.9h.7M166.1 74.4h.7M176.9 77.8h.7M169.2 86.0h.7M167.7 86.0h.7M168.0 82.0h.7M169.4 80.2h.7M160.3 81.5h.7M160.9 73.2h.7M171.3 84.9h.7M172.5 79.7h.7M164.3 79.5h.7M171.8 85.6h.7M167.0 83.3h.7M167.4 80.9h.7M171.8 88.8h.7M155.8 79.5h.7M162.9 84.9h.7M168.0 91.3h.7M173.4 86.8h.7M166.0 83.7h.7M164.9 80.4h.7M171.0 79.4h.7M165.4 88.7h.7M163.1 87.1h.7M173.0 84.5h.7M159.6 78.4h.7M170.9 76.7h.7M175.1 85.6h.7M166.8 75.6h.7M175.0 82.1h.7M168.6 84.4h.7M165.2 83.6h.7M168.7 74.8h.7M173.8 82.2h.7M168.7 80.7h.7M167.9 71.8h.7M168.8 89.3h.7M156.6 86.9h.7M165.0 79.9h.7M178.1 93.7h.7M173.4 84.4h.7M172.3 80.9h.7M173.2 77.0h.7M160.8 81.9h.7M163.9 77.0h.7M173.1 83.0h.7M164.7 83.2h.7M165.9 80.9h.7M170.1 87.7h.7M171.3 90.1h.7M167.6 87.4h.7M172.7 84.2h.7M162.2 72.3h.7M168.8 78.6h.7M170.4 88.5h.7M163.7 85.4h.7M165.3 80.5h.7M168.2 77.1h.7M166.1 85.3h.7M167.4 79.0h.7M165.7 83.9h.7M164.4 76.6h.7M157.6 86.0h.7M163.3 80.6h.7M166.5 79.0h.7M174.0 82.6h.7M158.5 85.8h.7M168.9 86.6h.7M171.3 84.3h.7M172.9 85.3h.7M171.8 82.6h.7M155.8 75.0h.7M170.2 80.7h.7M163.0 81.5h.7M161.4 79.4h.7M164.1 77.4h.7M175.6 80.7h.7M164.2 82.6h.7M168.5 87.9h.7M162.0 81.4h.7M164.9 83.0h.7M178.3 93.5h.7M173.7 80.8h.7M170.4 74.7h.7M166.9 71.3h.7M170.2 79.4h.7M181.6 76.3h.7M160.3 83.2h.7M178.0 72.8h.7M166.8 89.2h.7M165.7 78.9h.7M172.9 84.2h.7M166.7 79.5h.7M176.4 89.5h.7M174.6 80.7h.7M172.2 81.1h.7M161.8 79.8h.7M166.9 83.1h.7M167.6 78.3h.7M172.4 86.3h.7M170.5 81.0h.7M162.8 83.1h.7M171.8 82.6h.7M160.3 74.1h.7M161.5 87.3h.7M161.2 88.9h.7M166.4 89.0h.7M173.0 82.9h.7M168.5 89.3h.7M163.3 81.0h.7M174.9 82.9h.7M163.7 85.9h.7M171.5 85.3h.7M163.8 81.5h.7M177.3 80.9h.7M169.3 84.7h.7M174.4 76.0h.7M169.9 84.8h.7M177.5 79.2h.7M158.2 85.5h.7M172.3 85.1h.7M158.4 89.8h.7M176.6 82.4h.7M175.8 88.1h.7M164.8 86.6h.7M167.0 76.2h.7M164.3 75.1h.7M174.6 80.0h.7M163.4 88.8h.7M173.6 79.5h.7M167.9 70.6h.7M166.8 79.8h.7M175.1 86.0h.7M167.6 87.7h.7M162.6 83.6h.7M173.2 78.6h.7M170.8 76.5h.7M174.7 85.5h.7M180.0 75.3h.7M159.1 87.3h.7M164.9 81.8h.7M163.3 79.0h.7M166.0 75.6h.7M162.3 80.4h.7M167.3 89.2h.7M183.4 86.7h.7M168.1 79.0h.7M169.3 93.0h.7M168.2 79.1h.7M169.9 83.7h.7M174.2 87.0h.7M171.2 88.5h.7M172.5 87.5h.7M159.4 82.2h.7M171.7 84.6h.7M172.8 84.9h.7M171.5 79.7h.7M166.2 85.6h.7M161.7 85.2h.7M172.1 83.7h.7M174.5 89.1h.7M174.9 79.1h.7M166.1 81.4h.7M169.5 81.5h.7M167.7 92.2h.7M173.3 86.1h.7M173.0 87.9h.7M163.0 82.7h.7M177.5 84.9h.7M157.7 85.8h.7M171.6 75.7h.7M167.6 87.0h.7M181.4 87.5h.7M165.0 83.5h.7M173.3 83.1h.7M163.6 87.2h.7M174.3 79.6h.7M166.0 89.9h.7M181.5 82.9h.7M165.4 77.9h.7M171.9 82.5h.7M170.2 79.3h.7M171.0 88.6h.7M171.8 80.8h.7M170.4 80.9h.7M155.6 79.4h.7M163.5 90.4h.7M162.7 77.9h.7M175.6 80.6h.7M162.6 82.0h.7M175.1 83.8h.7M178.6 84.4h.7M165.5 78.3h.7M169.2 94.5h.7M171.8 76.3h.7M171.1 76.8h.7M171.7 83.9h.7M169.3 81.4h.7M165.4 84.3h.7M162.1 85.5h.7M169.9 84.9h.7M168.1 80.0h.7M173.5 90.6h.7M169.0 87.5h.7M160.6 84.5h.7M166.1 86.5h.7M166.8 80.1h.7M171.3 82.9h.7M173.1 88.7h.7M172.3 75.4h.7M173.9 76.6h.7M163.4 84.6h.7M163.3 80.4h.7M166.4 81.3h.7M175.2 86.7h.7M169.0 81.7h.7M172.3 83.9h.7M173.0 80.5h.7M166.0 86.4h.7M170.2 79.7h.7M169.2 82.1h.7M170.5 82.3h.7M170.9 75.5h.7M157.4 86.0h.7M160.4 79.8h.7M173.8 92.0h.7M164.5 80.5h.7M163.0 89.3h.7M173.4 79.7h.7M168.9 79.9h.7M165.0 83.2h.7M169.2 89.7h.7M165.5 75.1h.7M163.4 85.7h.7M165.3 83.5h.7M166.9 81.4h.7M169.8 79.3h.7M166.0 84.1h.7M166.5 74.3h.7M174.4 83.9h.7M160.6 89.7h.7M169.4 79.8h.7M172.7 80.0h.7M164.6 84.6h.7M174.5 85.5h.7M184.8 89.5h.7M193.4 88.9h.7M191.0 96.9h.7M189.8 95.9h.7M190.2 92.6h.7M195.6 97.0h.7M191.1 87.4h.7M191.2 84.1h.7M182.3 98.1h.7M193.6 82.3h.7M184.1 91.7h.7M189.4 89.1h.7M177.4 98.2h.7M183.1 81.2h.7M196.2 88.0h.7M187.6 92.8h.7M190.5 89.6h.7M187.1 88.2h.7M189.0 89.5h.7M185.4 91.3h.7M186.6 85.0h.7M194.0 85.2h.7M194.5 87.2h.7M196.1 88.2h.7M193.1 94.2h.7M186.2 86.5h.7M191.7 85.0h.7M198.4 98.3h.7M182.5 89.9h.7M188.3 100.3h.7M186.8 92.7h.7M197.3 97.2h.7M192.1 93.8h.7M194.0 84.0h.7M192.0 82.7h.7M194.0 90.5h.7M197.3 86.3h.7M189.1 88.8h.7M185.0 87.6h.7M187.7 88.7h.7M192.8 97.2h.7M192.2 97.0h.7M197.2 92.2h.7M194.5 91.8h.7M186.4 97.8h.7M191.9 85.1h.7M198.2 95.0h.7M184.7 79.2h.7M199.5 89.2h.7M188.8 90.8h.7M187.4 81.6h.7M192.4 82.1h.7M186.2 94.7h.7M190.1 95.6h.7M197.8 90.4h.7M191.5 91.3h.7M187.7 89.8h.7M192.7 83.1h.7M192.5 87.3h.7M190.9 95.6h.7M193.7 89.3h.7M182.1 85.8h.7M198.4 86.8h.7M190.5 81.4h.7M192.9 93.8h.7M190.2 94.0h.7M183.6 94.9h.7M184.7 88.6h.7M191.1 95.6h.7M187.8 89.9h.7M196.4 83.0h.7M197.9 84.9h.7M184.2 94.8h.7M198.4 89.5h.7M184.3 95.3h.7M191.4 89.0h.7M192.6 95.7h.7M198.9 91.6h.7M191.2 91.6h.7M191.3 96.6h.7M195.8 91.1h.7M188.0 92.4h.7M186.2 87.7h.7M186.3 88.9h.7M197.7 90.0h.7M195.3 90.0h.7M199.7 101.9h.7M188.5 90.0h.7M183.3 92.9h.7M192.2 96.8h.7M197.7 92.2h.7M184.0 80.4h.7M189.2 85.0h.7M186.1 85.4h.7M196.4 85.6h.7M197.0 92.0h.7M190.4 89.2h.7M192.3 96.0h.7M186.5 94.5h.7M185.0 87.2h.7M188.3 95.9h.7M184.0 83.2h.7M189.5 87.7h.7M185.0 95.5h.7M190.8 90.7h.7M181.7 88.7h.7M192.2 91.0h.7M192.2 96.5h.7M181.3 95.5h.7M186.7 93.8h.7M189.4 88.6h.7M189.5 86.1h.7M187.9 92.4h.7M185.3 89.4h.7M186.6 85.0h.7M187.2 91.1h.7M189.5 93.0h.7M191.6 91.0h.7M191.5 96.3h.7M191.7 93.5h.7M185.5 95.7h.7M184.1 93.5h.7M184.6 83.2h.7M189.1 92.5h.7M185.3 83.0h.7M192.4 104.5h.7M188.7 90.6h.7M187.8 97.7h.7M193.5 91.5h.7M188.4 89.7h.7M187.8 95.9h.7M186.9 91.7h.7M178.8 94.1h.7M185.8 82.3h.7M192.2 84.0h.7M181.5 88.1h.7M185.9 89.7h.7M187.0 87.8h.7M190.0 87.3h.7M193.3 97.3h.7M182.5 90.5h.7M188.6 83.3h.7M183.9 94.9h.7M193.3 87.3h.7M186.2 89.5h.7M191.4 92.1h.7M188.4 92.9h.7M180.6 95.1h.7M186.0 94.3h.7M195.6 88.1h.7M186.5 94.8h.7M189.1 87.0h.7M182.4 86.3h.7M190.0 84.8h.7M182.8 89.9h.7M185.2 91.9h.7M188.3 90.7h.7M194.3 83.0h.7M191.5 82.9h.7M191.2 86.2h.7M182.5 94.9h.7M187.9 91.0h.7M185.3 86.7h.7M190.2 80.4h.7M196.4 89.3h.7M195.0 93.0h.7M188.1 87.0h.7M192.7 88.5h.7M193.4 80.2h.7M198.5 90.9h.7M192.4 90.8h.7M190.1 94.6h.7M184.5 87.0h.7M184.7 95.2h.7M184.7 90.3h.7M180.8 77.3h.7M183.8 85.8h.7M193.7 95.7h.7M188.2 87.3h.7M191.3 97.5h.7M194.0 83.4h.7M187.3 89.0h.7M188.9 95.8h.7M192.7 87.8h.7M192.4 91.2h.7M187.2 86.0h.7M183.2 89.0h.7M192.0 90.5h.7M185.9 90.9h.7M193.3 90.0h.7M191.9 90.3h.7M188.0 94.1h.7M187.9 93.4h.7M189.6 88.0h.7M190.6 84.2h.7M193.3 86.5h.7M184.0 80.2h.7M194.5 91.8h.7M190.4 92.6h.7M187.8 91.7h.7M198.2 83.1h.7M206.6 79.9h.7M198.7 80.3h.7M199.9 78.0h.7M202.1 83.7h.7M203.8 84.5h.7M209.5 80.0h.7M210.3 81.2h.7M209.5 75.9h.7M196.2 85.4h.7M201.6 77.1h.7M191.7 88.8h.7M207.6 78.1h.7M195.0 86.9h.7M190.4 88.4h.7M209.9 75.0h.7M196.8 88.0h.7M196.4 89.1h.7M199.1 79.0h.7M189.1 85.3h.7M194.7 83.4h.7M206.3 78.9h.7M197.5 85.0h.7M206.0 80.8h.7M195.9 87.0h.7M206.4 80.8h.7M210.1 79.6h.7M206.5 77.6h.7M213.5 76.3h.7M206.0 81.4h.7M177.1 112.5h.7M177.6 124.6h.7M167.4 128.8h.7M176.5 121.9h.7M161.6 140.0h.7M172.3 136.0h.7M161.8 126.3h.7M180.5 107.8h.7M165.5 136.7h.7M173.2 125.3h.7M168.9 140.1h.7M184.2 94.1h.7M167.9 138.8h.7M173.4 127.1h.7M166.1 123.1h.7M163.0 133.9h.7M186.5 103.6h.7M170.4 133.4h.7M169.3 136.2h.7M178.6 106.0h.7M176.6 117.6h.7M170.5 123.7h.7M173.7 110.6h.7M171.6 131.9h.7M180.5 100.0h.7M187.3 107.8h.7M175.7 112.2h.7M174.6 126.4h.7M172.3 105.1h.7M164.3 134.2h.7M166.7 125.8h.7M169.2 133.6h.7M167.0 138.7h.7M173.6 129.9h.7M167.3 135.6h.7M168.6 118.1h.7M177.9 111.1h.7M168.1 122.3h.7M181.1 118.4h.7M171.8 122.9h.7M172.8 123.4h.7M174.9 113.9h.7M174.0 115.6h.7M164.0 129.2h.7M173.3 121.9h.7M169.7 134.7h.7M168.7 124.6h.7M172.2 125.9h.7M177.6 117.1h.7M182.2 108.9h.7M173.8 124.6h.7M174.5 128.8h.7M176.0 114.6h.7M165.3 126.4h.7M176.5 140.7h.7M172.5 133.1h.7M182.1 109.2h.7M175.2 117.3h.7M164.4 132.3h.7M172.6 136.9h.7M169.9 132.7h.7M167.8 128.2h.7M173.5 127.5h.7M179.7 104.5h.7M167.9 129.9h.7M178.1 104.2h.7M173.4 127.0h.7M173.0 125.9h.7M172.9 117.0h.7M179.7 105.8h.7M169.7 133.9h.7M178.4 105.9h.7M172.0 140.4h.7M174.1 116.0h.7M172.6 127.5h.7M174.4 118.2h.7M169.1 137.2h.7M173.6 120.3h.7M181.2 117.6h.7M178.1 102.6h.7M161.6 137.0h.7M173.1 122.3h.7M174.8 123.5h.7M182.7 113.3h.7M182.3 106.0h.7M168.7 123.3h.7M176.5 106.0h.7M178.9 100.8h.7M161.7 128.3h.7M176.9 100.9h.7M178.9 108.9h.7M171.6 113.6h.7M167.3 127.6h.7M180.7 105.6h.7M167.2 106.2h.7M173.8 118.5h.7M166.3 133.6h.7M172.7 134.7h.7M177.0 123.2h.7M165.3 132.8h.7M174.3 114.5h.7M174.3 135.0h.7M183.5 104.5h.7M172.9 110.2h.7M172.4 132.5h.7M175.7 118.5h.7M174.7 110.7h.7M174.2 123.2h.7M170.5 123.2h.7M172.9 116.3h.7M180.7 104.9h.7M170.4 106.5h.7M178.3 127.9h.7M170.3 131.5h.7M177.8 116.7h.7M184.4 116.0h.7M176.0 124.6h.7M180.0 122.3h.7M173.0 119.6h.7M182.4 104.4h.7M181.1 119.8h.7M173.5 108.9h.7M174.6 111.7h.7M162.3 136.5h.7M171.5 136.4h.7M179.7 115.9h.7M179.7 113.4h.7M182.5 117.7h.7M174.1 105.3h.7M173.1 110.9h.7M174.1 106.3h.7M163.5 136.1h.7M174.1 111.1h.7M176.1 113.4h.7M176.8 113.5h.7M169.0 111.4h.7M174.2 108.8h.7M167.0 125.6h.7M175.2 125.8h.7M184.1 109.6h.7M171.1 117.1h.7M168.4 139.6h.7M169.3 134.7h.7M174.5 108.7h.7M174.0 121.0h.7M169.6 133.1h.7M170.5 130.3h.7M166.4 136.8h.7M163.2 119.8h.7M181.9 106.3h.7M166.8 128.7h.7M175.9 110.3h.7M170.7 128.1h.7M165.0 129.7h.7M175.1 124.0h.7M174.1 125.9h.7M168.0 137.0h.7M171.5 117.3h.7M190.0 106.2h.7M170.3 133.4h.7M167.4 139.5h.7M176.8 115.0h.7M160.8 130.4h.7M170.1 139.5h.7M184.9 96.1h.7M174.6 123.9h.7M181.7 99.6h.7M172.3 127.8h.7M179.4 121.4h.7M171.1 124.6h.7M172.3 125.1h.7M169.0 129.4h.7M179.1 126.2h.7M181.9 101.0h.7M172.4 125.2h.7M175.1 108.2h.7M170.8 132.4h.7M179.4 122.5h.7M179.1 109.1h.7M174.1 124.7h.7M166.6 133.8h.7M176.6 129.9h.7M169.6 127.3h.7M163.1 127.4h.7M176.1 128.6h.7M177.8 115.5h.7M163.3 129.6h.7M176.0 123.1h.7M167.7 126.3h.7M172.4 124.4h.7M168.7 132.6h.7M170.5 129.8h.7M169.2 136.8h.7M168.7 136.6h.7M182.2 100.2h.7M171.1 138.7h.7M172.9 127.4h.7M179.1 132.1h.7M178.3 101.1h.7M166.4 135.2h.7M179.9 103.4h.7M171.8 134.6h.7M179.7 113.9h.7M168.7 134.1h.7M168.4 131.3h.7M165.0 138.8h.7M179.4 114.1h.7M179.1 108.1h.7M169.8 125.3h.7M181.3 115.0h.7M168.7 134.1h.7M171.3 123.4h.7M180.3 109.1h.7M174.6 110.5h.7M173.4 113.0h.7M176.3 126.9h.7M164.6 137.1h.7M178.2 113.3h.7M173.1 110.1h.7M168.2 127.9h.7M178.7 112.6h.7M174.6 108.0h.7M182.7 105.1h.7M173.2 135.0h.7M180.6 122.1h.7M174.6 119.0h.7M167.2 130.3h.7M168.8 125.7h.7M172.3 134.9h.7M174.7 108.1h.7M162.1 132.5h.7M177.6 118.7h.7M174.2 108.5h.7M178.6 116.0h.7M171.8 115.6h.7M174.4 113.9h.7M166.5 128.3h.7M173.4 119.8h.7M176.1 133.3h.7M171.7 122.0h.7M184.4 120.4h.7M169.2 105.5h.7M168.3 128.0h.7M174.4 100.8h.7M179.0 116.7h.7M169.4 105.5h.7M172.1 128.9h.7M175.3 102.0h.7M173.1 124.1h.7M168.2 113.7h.7M175.7 110.6h.7M168.9 138.0h.7M166.3 135.8h.7M180.5 114.8h.7M176.3 113.8h.7M164.1 134.7h.7M181.4 107.3h.7M170.1 134.8h.7M176.3 123.6h.7M172.8 118.9h.7M171.4 123.2h.7M185.2 107.8h.7M175.8 104.5h.7M163.9 127.3h.7M168.3 141.1h.7M179.2 106.8h.7M180.9 109.3h.7M165.3 130.4h.7M170.9 130.4h.7M175.3 134.3h.7M159.8 139.6h.7M169.2 128.1h.7M170.5 122.5h.7M196.7 110.0h.7M174.9 120.6h.7M168.6 122.0h.7M166.1 115.5h.7M181.6 102.4h.7M173.1 131.1h.7M177.3 103.8h.7M181.9 108.2h.7M171.7 132.2h.7M173.8 104.5h.7M178.0 113.2h.7M175.3 107.4h.7M171.6 106.6h.7M190.0 110.0h.7M181.3 117.1h.7M185.0 120.9h.7M182.7 104.1h.7M175.0 105.4h.7M172.7 112.0h.7M173.9 120.8h.7M179.1 117.0h.7M164.5 126.7h.7M176.3 139.2h.7M176.8 113.0h.7M168.4 109.4h.7M158.9 130.9h.7M170.1 101.9h.7M177.6 106.2h.7M167.4 118.4h.7M175.8 119.2h.7M166.5 118.7h.7M179.9 126.2h.7M171.3 124.7h.7M167.8 120.5h.7M158.8 131.9h.7M170.7 133.9h.7M174.4 134.5h.7M168.1 134.6h.7M171.1 129.3h.7M177.4 124.6h.7M172.5 122.1h.7M167.4 136.6h.7M172.7 105.6h.7M170.9 112.3h.7M176.6 103.5h.7M176.7 118.9h.7M170.0 119.7h.7M168.6 122.5h.7M177.1 118.0h.7M170.1 125.1h.7M173.0 112.5h.7M177.8 117.9h.7M182.7 118.0h.7M175.1 116.2h.7M171.7 119.9h.7M172.9 121.2h.7M187.2 106.2h.7M170.7 113.0h.7M169.3 124.9h.7M172.1 137.3h.7M166.4 119.5h.7M175.6 104.4h.7M167.6 140.6h.7M163.5 133.1h.7M170.3 133.8h.7M174.1 119.5h.7M178.2 121.8h.7M159.9 141.2h.7M173.3 112.8h.7M178.0 130.6h.7M175.2 115.6h.7M178.0 105.6h.7M165.0 134.2h.7M177.9 140.0h.7M168.8 127.8h.7M169.5 136.4h.7M175.5 120.3h.7M173.2 120.5h.7M172.1 105.8h.7M173.0 117.4h.7M173.1 110.8h.7M175.5 119.4h.7M181.3 122.3h.7M172.3 123.2h.7M167.2 111.6h.7M171.1 130.2h.7M176.0 105.3h.7M164.6 137.4h.7M167.3 117.9h.7M176.6 119.0h.7M171.8 120.0h.7M175.9 113.4h.7M178.1 132.3h.7M180.1 130.0h.7M171.7 120.3h.7M184.6 117.7h.7M174.5 117.0h.7M171.7 121.8h.7M196.9 120.6h.7M175.7 116.2h.7M195.9 95.2h.7M178.5 129.9h.7M175.6 114.2h.7M183.5 105.5h.7M165.2 118.6h.7M172.2 113.9h.7M185.0 123.4h.7M178.2 119.7h.7M189.9 115.1h.7M174.6 125.2h.7M187.1 134.3h.7M175.1 103.9h.7M176.7 111.8h.7M183.9 137.6h.7M167.0 111.8h.7M178.8 140.9h.7M190.9 137.0h.7M176.5 101.3h.7M176.3 109.6h.7M167.0 114.4h.7M167.9 128.7h.7M167.9 111.3h.7M176.3 104.6h.7M191.1 102.0h.7M192.2 115.0h.7M174.7 120.6h.7M193.3 106.8h.7M188.4 110.0h.7M172.5 106.0h.7M179.9 129.3h.7M171.9 126.1h.7M180.4 115.0h.7M184.9 102.9h.7M162.6 117.5h.7M165.2 139.8h.7M174.3 118.2h.7M183.8 123.6h.7M187.1 130.7h.7M184.7 106.2h.7M196.7 100.6h.7M185.6 114.7h.7M189.5 131.4h.7M187.2 132.1h.7M190.2 128.8h.7M179.8 113.2h.7M185.4 103.0h.7M190.1 138.3h.7M181.1 114.9h.7M171.9 117.1h.7M189.4 122.7h.7M186.2 123.9h.7M172.1 121.3h.7M182.4 120.4h.7M179.9 109.3h.7M178.9 123.7h.7M171.9 105.8h.7M189.8 101.4h.7M182.8 133.1h.7M181.9 135.4h.7M174.8 114.6h.7M175.0 94.2h.7M182.0 117.7h.7M168.4 123.2h.7M171.5 119.4h.7M171.0 117.7h.7M191.3 114.0h.7M187.9 95.0h.7M185.3 92.7h.7M174.8 118.6h.7M177.3 125.2h.7M172.7 125.5h.7M174.3 122.9h.7M169.3 108.7h.7M171.3 123.8h.7M176.5 131.4h.7M192.5 115.2h.7M197.1 104.3h.7M190.9 139.1h.7M174.4 108.5h.7M191.6 106.5h.7M180.9 119.8h.7M188.0 137.2h.7M180.9 115.3h.7M176.3 114.1h.7M190.1 96.7h.7M177.6 107.3h.7M169.2 112.8h.7M190.5 115.1h.7M183.6 118.4h.7M183.3 132.2h.7M175.8 128.9h.7M167.9 123.2h.7M186.4 112.8h.7M184.9 109.4h.7M198.5 115.1h.7M170.8 123.9h.7M180.3 116.6h.7" stroke="#4535ab" stroke-width=".7" stroke-opacity=".55" fill="none" clip-path="url(#clip2)"/>
<path d="M161.6 90.4h.7M167.6 83.2h.7M170.0 86.4h.7M161.4 92.6h.7M169.5 85.4h.7M171.6 91.6h.7M168.2 95.8h.7M156.7 96.3h.7M176.8 90.6h.7M172.4 91.6h.7M161.5 96.5h.7M169.9 94.5h.7M164.3 88.6h.7M167.4 95.1h.7M173.2 88.6h.7M168.4 90.0h.7M168.1 93.7h.7M187.0 92.5h.7M166.0 90.6h.7M174.9 86.4h.7M176.4 94.2h.7M158.0 88.6h.7M169.2 83.1h.7M176.5 87.4h.7M162.7 89.8h.7M166.6 86.2h.7M161.8 91.8h.7M181.8 86.3h.7M176.7 96.7h.7M177.8 89.0h.7M163.1 84.3h.7M174.0 99.2h.7M177.5 81.9h.7M171.3 90.0h.7M169.3 88.4h.7M166.2 85.1h.7M174.0 88.6h.7M166.7 84.8h.7M181.1 93.2h.7M171.5 92.9h.7M167.0 88.7h.7M172.8 94.2h.7M167.6 97.1h.7M160.4 92.0h.7M175.6 98.0h.7M155.7 81.7h.7M157.6 97.1h.7M162.2 94.1h.7M173.5 91.4h.7M168.0 82.1h.7M166.7 83.6h.7M163.1 86.1h.7M183.3 83.9h.7M166.2 89.4h.7M159.8 95.9h.7M166.8 88.7h.7M167.7 85.9h.7M170.2 92.1h.7M177.0 90.3h.7M173.0 94.3h.7M158.9 89.4h.7M169.1 94.2h.7M174.2 93.1h.7M166.9 100.6h.7M161.8 96.9h.7M159.6 93.9h.7M174.7 96.4h.7M168.6 88.1h.7M173.4 89.6h.7M172.0 83.3h.7M159.2 92.7h.7M158.7 97.9h.7M167.2 87.9h.7M177.6 89.2h.7M159.8 89.1h.7M168.0 86.6h.7M166.3 88.9h.7M164.7 89.9h.7M163.4 90.2h.7M169.6 91.2h.7M164.5 86.8h.7M165.9 94.1h.7M177.3 86.9h.7M169.0 88.1h.7M171.2 93.5h.7M173.2 88.5h.7M165.0 86.0h.7M168.8 99.5h.7M168.9 86.1h.7M172.8 94.6h.7M164.1 92.9h.7M155.7 90.7h.7M167.2 90.9h.7M167.1 90.2h.7M172.7 86.5h.7M176.7 91.4h.7M167.4 92.8h.7M158.0 82.5h.7M173.5 89.2h.7M167.0 90.7h.7M171.2 83.6h.7M171.9 94.2h.7M168.0 82.7h.7M164.2 91.3h.7M177.6 96.4h.7M173.2 85.7h.7M169.2 90.0h.7M159.7 88.3h.7M170.4 101.5h.7M160.1 98.4h.7M157.9 96.7h.7M179.8 89.5h.7M166.0 93.5h.7M175.6 89.5h.7M175.7 91.5h.7M165.5 93.5h.7M172.3 92.3h.7M182.0 94.2h.7M169.3 86.5h.7M169.6 92.9h.7M163.7 94.7h.7M178.1 95.6h.7M174.3 95.8h.7M170.5 88.0h.7M171.9 92.8h.7M174.2 87.7h.7M159.0 92.7h.7M162.0 88.4h.7M182.1 87.8h.7M162.0 83.7h.7M157.9 97.1h.7M156.9 81.7h.7M173.8 89.8h.7M174.4 96.9h.7M178.0 90.0h.7M161.6 92.0h.7M173.4 82.3h.7M167.5 101.0h.7M182.3 88.9h.7M171.8 95.3h.7M158.2 96.8h.7M163.3 90.8h.7M169.3 97.8h.7M169.0 88.1h.7M168.0 91.5h.7M166.2 101.3h.7M171.7 99.0h.7M175.0 81.7h.7M170.0 96.6h.7M181.0 88.3h.7M168.3 93.5h.7M176.4 93.8h.7M177.4 88.6h.7M171.3 96.9h.7M178.4 89.7h.7M172.4 88.0h.7M168.4 88.7h.7M158.3 87.7h.7M158.0 92.5h.7M168.8 93.9h.7M170.4 102.4h.7M174.7 84.4h.7M163.6 85.4h.7M176.8 97.4h.7M171.3 86.2h.7M175.2 96.9h.7M169.6 96.0h.7M169.0 90.4h.7M175.4 93.5h.7M165.1 100.2h.7M177.1 88.0h.7M174.4 83.0h.7M172.3 93.4h.7M161.4 90.1h.7M166.7 93.1h.7M178.9 86.6h.7M168.0 100.1h.7M164.3 94.2h.7M168.9 81.7h.7M173.9 87.8h.7M177.2 92.1h.7M167.5 95.1h.7M165.1 95.0h.7M164.7 95.9h.7M158.4 89.7h.7M168.8 102.4h.7M171.0 88.1h.7M165.4 92.3h.7M161.6 93.6h.7M182.7 78.9h.7M171.1 79.5h.7M167.7 85.0h.7M173.2 93.8h.7M173.4 85.0h.7M176.8 95.4h.7M169.7 98.3h.7M161.8 99.8h.7M168.4 83.0h.7M160.9 88.2h.7M169.1 86.4h.7M169.4 85.9h.7M160.2 87.7h.7M161.7 90.2h.7M163.6 87.9h.7M182.9 91.6h.7M158.3 98.1h.7M172.8 96.2h.7M169.4 86.5h.7M166.7 84.6h.7M182.0 86.5h.7M183.6 92.8h.7M165.4 97.6h.7M163.0 97.6h.7M166.9 90.4h.7M160.9 88.8h.7M170.7 87.5h.7M166.6 91.7h.7M159.4 86.0h.7M170.1 89.7h.7M164.7 93.0h.7M176.8 87.6h.7M159.7 88.3h.7M168.2 90.6h.7M165.6 99.2h.7M170.8 94.6h.7M164.2 97.2h.7M170.1 92.1h.7M173.4 85.3h.7M180.0 90.6h.7M165.8 90.6h.7M171.5 90.9h.7M174.8 92.5h.7M161.9 89.2h.7M168.4 84.9h.7M175.6 82.9h.7M160.0 95.7h.7M171.9 93.9h.7M160.7 88.1h.7M173.0 96.0h.7M173.0 88.6h.7M164.2 92.3h.7M165.9 82.3h.7M178.1 98.7h.7M171.1 92.5h.7M172.3 93.3h.7M164.9 93.3h.7M160.9 80.4h.7M169.6 90.9h.7M167.7 84.7h.7M159.8 86.5h.7M165.8 86.0h.7M169.0 88.7h.7M159.9 89.4h.7M178.1 89.8h.7M161.2 93.1h.7M157.1 95.4h.7M161.4 93.0h.7M174.8 87.4h.7M165.5 80.4h.7M164.8 81.1h.7M174.3 96.0h.7M173.2 95.5h.7M168.4 92.5h.7M158.6 89.7h.7M168.0 92.1h.7M167.5 93.9h.7M175.8 84.4h.7M156.2 93.5h.7M173.8 84.7h.7M176.2 90.0h.7M181.3 96.6h.7M172.5 86.4h.7M180.7 95.4h.7M172.9 93.9h.7M171.9 87.6h.7M167.9 84.8h.7M161.8 84.3h.7M174.1 93.8h.7M165.7 96.8h.7M172.8 98.4h.7M165.5 86.9h.7M179.5 99.1h.7M166.5 87.6h.7M170.0 92.8h.7M165.4 79.9h.7M169.1 91.1h.7M172.3 94.4h.7M185.1 85.8h.7M175.5 88.0h.7M167.1 91.5h.7M168.8 81.6h.7M164.5 92.0h.7M161.4 87.4h.7M165.5 91.1h.7M169.8 97.9h.7M173.7 96.2h.7M171.5 82.0h.7M168.3 83.4h.7M172.5 100.9h.7M157.5 92.4h.7M173.9 93.0h.7M169.9 86.6h.7M173.1 90.3h.7M171.0 94.2h.7M156.0 92.4h.7M174.3 88.1h.7M173.2 92.2h.7M165.2 93.3h.7M175.7 89.3h.7M184.1 100.6h.7M170.5 92.2h.7M171.5 87.7h.7M155.7 92.3h.7M175.9 89.5h.7M172.2 84.0h.7M163.5 91.8h.7M186.0 90.6h.7M168.9 87.5h.7M160.2 85.6h.7M164.9 95.5h.7M164.8 95.7h.7M158.3 85.1h.7M169.3 90.8h.7M158.3 89.8h.7M178.1 85.8h.7M160.0 96.2h.7M167.4 87.3h.7M163.6 83.6h.7M168.0 97.7h.7M163.3 85.4h.7M165.8 87.5h.7M178.0 84.7h.7M165.5 93.4h.7M163.0 88.1h.7M172.4 93.3h.7M166.0 96.9h.7M166.7 88.0h.7M160.3 100.4h.7M169.1 86.8h.7M159.9 92.7h.7M181.7 91.7h.7M177.6 92.6h.7M165.3 95.1h.7M170.1 92.8h.7M166.0 98.7h.7M167.7 86.8h.7M168.8 93.3h.7M169.0 93.7h.7M179.6 89.4h.7M167.5 101.6h.7M176.9 94.8h.7M169.8 91.2h.7M184.6 94.9h.7M163.0 89.0h.7M173.2 89.9h.7M160.3 85.0h.7M163.6 86.9h.7M174.4 87.2h.7M169.9 98.3h.7M172.6 92.5h.7M171.1 87.0h.7M163.1 94.6h.7M170.9 86.2h.7M164.6 83.8h.7M185.8 96.0h.7M170.7 96.6h.7M171.7 94.5h.7M158.4 90.2h.7M168.2 88.8h.7M164.9 89.4h.7M164.7 91.7h.7M157.0 85.6h.7M177.9 90.9h.7M166.1 100.9h.7M168.4 87.5h.7M160.8 91.6h.7M177.4 92.8h.7M166.3 85.9h.7M164.3 95.8h.7M170.5 95.1h.7M175.0 97.9h.7M172.0 92.2h.7M174.0 96.8h.7M166.6 89.8h.7M167.3 95.5h.7M165.8 82.6h.7M170.3 93.2h.7M171.1 89.9h.7M161.6 80.0h.7M172.9 95.6h.7M157.9 90.2h.7M167.7 82.5h.7M160.0 91.1h.7M172.4 93.9h.7M166.9 96.0h.7M162.1 87.6h.7M173.5 87.7h.7M169.0 84.0h.7M171.2 93.9h.7M158.8 96.7h.7M174.2 87.6h.7M163.5 85.5h.7M171.1 92.9h.7M167.2 91.8h.7M169.8 79.8h.7M175.2 92.8h.7M161.3 90.6h.7M175.3 95.6h.7M174.0 90.8h.7M167.2 84.2h.7M157.4 81.6h.7M181.4 97.1h.7M169.2 84.6h.7M161.2 97.2h.7M170.5 86.3h.7M171.0 93.0h.7M172.1 92.1h.7M171.6 90.4h.7M172.2 88.6h.7M161.3 85.9h.7M161.2 93.3h.7M175.9 92.4h.7M177.4 87.0h.7M159.9 89.0h.7M171.4 92.8h.7M175.1 89.7h.7M167.6 83.9h.7M160.1 93.9h.7M163.1 97.2h.7M167.6 96.6h.7M176.6 91.0h.7M164.9 91.2h.7M177.5 95.8h.7M176.9 90.1h.7M158.6 86.4h.7M177.3 86.1h.7M168.6 90.3h.7M165.2 87.6h.7M157.5 97.2h.7M168.9 89.4h.7M167.4 80.8h.7M167.2 87.4h.7M164.4 89.0h.7M171.2 89.1h.7M162.4 85.9h.7M166.7 89.1h.7M170.8 95.0h.7M171.6 87.9h.7M163.5 86.8h.7M171.9 87.4h.7M171.0 94.8h.7M177.0 91.9h.7M167.5 91.2h.7M171.8 93.3h.7M168.8 90.0h.7M170.7 96.3h.7M155.6 87.6h.7M174.5 89.7h.7M156.2 85.0h.7M165.8 88.4h.7M163.1 94.7h.7M168.8 92.5h.7M166.8 85.2h.7M181.2 89.6h.7M164.9 90.0h.7M172.1 95.5h.7M164.6 84.8h.7M179.0 95.7h.7M162.8 89.4h.7M166.6 92.7h.7M159.9 90.9h.7M178.8 94.3h.7M168.7 88.2h.7M157.6 93.3h.7M163.8 88.8h.7M160.4 94.5h.7M171.4 89.7h.7M161.3 90.6h.7M174.2 91.7h.7M175.3 95.2h.7M173.9 88.1h.7M162.4 88.9h.7M174.9 91.9h.7M168.7 89.1h.7M171.2 86.4h.7M167.2 98.2h.7M169.5 94.2h.7M165.6 95.2h.7M173.7 91.6h.7M174.4 83.4h.7M168.2 83.7h.7M168.0 92.5h.7M161.0 94.2h.7M164.2 85.2h.7M179.8 93.1h.7M169.5 96.2h.7M162.7 100.0h.7M165.1 82.7h.7M159.8 82.4h.7M183.5 88.4h.7M166.0 99.4h.7M169.3 91.5h.7M169.6 89.9h.7M165.8 94.5h.7M179.9 83.7h.7M177.0 99.3h.7M173.7 82.2h.7M164.6 91.4h.7M167.8 91.9h.7M169.6 86.7h.7M164.4 97.2h.7M165.2 97.7h.7M181.2 89.6h.7M173.9 96.1h.7M171.7 93.5h.7M166.9 84.1h.7M163.7 92.9h.7M162.9 88.0h.7M171.0 93.4h.7M168.0 86.2h.7M161.7 90.8h.7M174.6 102.6h.7M175.6 90.7h.7M169.5 99.9h.7M179.7 86.5h.7M173.0 95.0h.7M157.9 91.3h.7M174.9 91.4h.7M176.1 91.8h.7M166.3 88.6h.7M160.8 91.2h.7M178.9 92.3h.7M168.2 90.8h.7M170.6 89.4h.7M165.4 91.8h.7M160.5 87.8h.7M164.4 85.4h.7M167.0 92.3h.7M183.8 94.4h.7M180.1 90.3h.7M163.2 89.1h.7M176.1 81.7h.7M174.3 84.8h.7M173.0 88.7h.7M172.7 87.5h.7M170.2 90.0h.7M167.1 90.6h.7M171.6 91.7h.7M167.8 94.4h.7M176.1 90.7h.7M168.0 90.7h.7M166.1 101.0h.7M172.9 92.9h.7M174.1 89.8h.7M159.1 97.2h.7M170.7 79.5h.7M174.9 82.6h.7M186.4 96.5h.7M169.2 85.9h.7M168.2 89.4h.7M164.6 85.2h.7M158.9 79.4h.7M159.9 92.6h.7M175.9 96.2h.7M162.2 86.7h.7M173.1 97.4h.7M162.3 94.7h.7M163.4 86.6h.7M167.3 87.7h.7M164.1 91.5h.7M161.4 80.7h.7M170.4 96.1h.7M175.5 88.0h.7M163.2 92.1h.7M171.5 93.1h.7M168.6 98.5h.7M168.7 92.2h.7M163.6 98.5h.7M160.1 90.9h.7M163.6 89.3h.7M157.3 90.4h.7M165.0 95.3h.7M169.0 90.0h.7M175.4 84.3h.7M175.7 84.7h.7M175.7 91.5h.7M169.6 98.0h.7M161.7 89.4h.7M162.0 95.1h.7M167.8 88.8h.7M172.0 83.4h.7M172.7 90.5h.7M167.4 86.4h.7M175.9 90.7h.7M181.0 93.4h.7M163.2 97.4h.7M170.4 84.8h.7M168.1 93.6h.7M167.5 91.8h.7M167.3 90.2h.7M172.8 96.4h.7M164.9 87.2h.7M159.9 86.0h.7M162.5 107.8h.7M167.8 92.1h.7M166.4 89.1h.7M165.0 91.5h.7M165.6 92.1h.7M169.2 93.6h.7M160.1 90.7h.7M169.3 87.3h.7M169.1 86.4h.7M175.4 86.6h.7M182.8 90.6h.7M182.6 91.8h.7M164.4 86.0h.7M178.6 98.3h.7M171.5 92.1h.7M167.7 90.4h.7M183.1 87.8h.7M156.8 90.7h.7M162.9 92.5h.7M172.6 79.7h.7M183.2 95.4h.7M167.6 89.0h.7M168.9 94.9h.7M164.6 96.3h.7M165.7 96.2h.7M179.5 77.5h.7M159.4 90.2h.7M174.3 94.2h.7M167.1 88.4h.7M163.9 96.8h.7M169.0 78.8h.7M169.0 87.6h.7M174.1 95.6h.7M176.0 96.2h.7M159.7 80.3h.7M178.3 95.9h.7M170.8 86.6h.7M176.7 96.0h.7M175.5 94.1h.7M161.0 94.6h.7M160.4 92.4h.7M177.8 92.1h.7M161.3 90.0h.7M179.8 91.1h.7M161.0 89.7h.7M177.6 87.3h.7M173.4 90.9h.7M174.2 88.8h.7M165.2 91.4h.7M177.9 90.7h.7M170.2 84.3h.7M165.0 85.4h.7M168.8 84.6h.7M169.4 85.9h.7M161.9 86.9h.7M164.0 86.7h.7M157.7 92.0h.7M177.8 93.1h.7M159.8 88.6h.7M173.7 89.2h.7M166.0 90.6h.7M171.3 89.8h.7M184.4 88.9h.7M170.0 88.1h.7M175.1 88.9h.7M168.0 88.4h.7M166.5 86.0h.7M164.2 93.4h.7M166.4 92.6h.7M170.4 78.4h.7M166.5 88.0h.7M176.8 90.4h.7M183.6 94.6h.7M161.5 90.2h.7M168.0 95.9h.7M169.7 94.5h.7M159.6 90.3h.7M156.9 93.8h.7M172.1 94.2h.7M155.9 86.4h.7M160.0 95.0h.7M175.4 87.0h.7M164.2 91.6h.7M187.7 92.5h.7M164.3 79.4h.7M168.6 92.5h.7M166.4 92.6h.7M168.4 89.1h.7M164.5 82.9h.7M167.0 90.4h.7M161.7 89.6h.7M160.5 90.0h.7M166.9 89.1h.7M166.4 94.4h.7M173.1 91.5h.7M160.5 99.3h.7M177.6 84.7h.7M183.6 96.7h.7M175.9 90.8h.7M164.3 96.4h.7M167.6 89.9h.7M159.8 97.3h.7M162.7 92.9h.7M163.5 95.3h.7M174.7 94.2h.7M164.5 88.9h.7M171.3 97.9h.7M161.8 90.3h.7M159.5 93.9h.7M170.9 92.3h.7M169.5 87.0h.7M170.2 85.7h.7M171.2 89.2h.7M169.2 81.5h.7M185.9 89.7h.7M172.3 101.2h.7M160.7 94.9h.7M173.2 92.1h.7M170.8 93.2h.7M172.9 93.8h.7M173.3 89.2h.7M160.2 88.5h.7M184.2 105.6h.7M165.6 99.1h.7M171.2 97.4h.7M170.2 90.8h.7M173.1 99.9h.7M161.7 91.4h.7M176.2 86.8h.7M162.6 100.1h.7M167.2 95.3h.7M171.6 94.2h.7M166.7 99.1h.7M175.2 97.5h.7M165.4 89.5h.7M167.8 88.9h.7M174.0 88.6h.7M169.9 91.8h.7M171.2 90.8h.7M173.3 90.2h.7M169.1 94.1h.7M162.0 91.1h.7M168.1 98.7h.7M164.9 89.7h.7M168.4 88.9h.7M171.5 84.6h.7M160.6 87.8h.7M170.8 90.8h.7M183.0 104.2h.7M172.0 99.4h.7M165.3 91.5h.7M155.8 91.0h.7M165.6 99.6h.7M179.1 94.6h.7M165.4 90.2h.7M170.4 98.1h.7M164.6 101.3h.7M181.9 95.0h.7M175.8 88.5h.7M171.2 99.8h.7M166.3 91.9h.7M167.9 86.1h.7M170.0 87.1h.7M166.2 81.8h.7M166.2 96.1h.7M164.7 95.7h.7M170.8 96.7h.7M161.8 98.0h.7M174.6 89.7h.7M166.8 100.2h.7M171.4 92.6h.7M173.2 93.3h.7M169.5 85.6h.7M168.3 79.8h.7M180.4 88.5h.7M170.3 93.3h.7M173.1 93.9h.7M175.3 91.7h.7M178.5 93.7h.7M159.7 99.1h.7M169.5 95.8h.7M175.4 94.7h.7M165.1 89.8h.7M164.7 92.3h.7M172.5 97.0h.7M162.5 82.8h.7M160.5 90.1h.7M184.4 94.6h.7M160.5 86.0h.7M164.5 85.3h.7M168.5 89.5h.7M163.6 93.4h.7M173.4 99.2h.7M163.6 86.3h.7M158.2 101.1h.7M169.1 94.6h.7M174.6 96.7h.7M170.6 96.7h.7M172.0 89.7h.7M172.6 93.0h.7M179.5 84.5h.7M156.0 86.7h.7M178.7 91.2h.7M168.7 90.7h.7M167.5 90.5h.7M170.3 89.6h.7M164.2 85.5h.7M178.1 101.9h.7M169.3 91.7h.7M159.1 92.2h.7M168.1 92.5h.7M177.8 90.6h.7M172.6 95.6h.7M173.0 89.1h.7M162.6 87.5h.7M164.1 93.4h.7M159.6 94.6h.7M167.1 92.8h.7M173.3 88.2h.7M173.2 91.1h.7M168.7 93.5h.7M176.3 92.2h.7M163.1 81.4h.7M169.6 91.4h.7M169.4 79.4h.7M169.5 95.0h.7M168.4 99.0h.7M155.5 91.8h.7M162.5 92.4h.7M171.4 84.8h.7M170.5 101.2h.7M174.4 89.5h.7M162.0 95.7h.7M164.5 92.0h.7M172.4 93.4h.7M177.7 87.7h.7M163.9 87.7h.7M169.3 91.6h.7M171.7 89.5h.7M174.8 89.4h.7M180.5 95.3h.7M158.7 90.3h.7M171.2 93.1h.7M162.9 96.8h.7M174.1 89.5h.7M178.2 95.8h.7M163.0 89.0h.7M167.9 88.0h.7M161.0 87.1h.7M166.2 93.6h.7M170.0 85.6h.7M158.9 93.2h.7M163.0 87.9h.7M172.2 93.7h.7M174.8 94.0h.7M163.5 89.9h.7M163.2 91.0h.7M173.1 90.4h.7M170.2 87.9h.7M172.3 87.8h.7M170.6 95.5h.7M170.0 85.5h.7M165.9 81.5h.7M163.9 93.5h.7M175.1 89.7h.7M170.4 83.8h.7M164.2 91.9h.7M165.1 83.6h.7M170.1 91.7h.7M176.3 96.9h.7M183.1 92.5h.7M173.3 92.4h.7M161.6 87.7h.7M162.5 90.4h.7M161.6 85.3h.7M176.7 88.0h.7M163.0 84.4h.7M165.5 95.9h.7M168.5 89.8h.7M164.9 89.2h.7M165.8 88.5h.7M176.1 84.9h.7M161.6 96.5h.7M162.1 94.7h.7M171.6 93.1h.7M178.9 91.0h.7M167.3 86.8h.7M165.4 95.3h.7M168.2 91.2h.7M165.9 89.8h.7M180.5 86.4h.7M180.9 93.7h.7M168.9 85.6h.7M172.1 91.6h.7M167.0 90.8h.7M169.7 87.6h.7M181.7 85.1h.7M175.1 95.3h.7M171.7 92.8h.7M168.3 87.5h.7M181.8 101.0h.7M168.8 84.8h.7M178.8 82.5h.7M173.8 87.6h.7M159.0 92.0h.7M167.5 84.5h.7M162.1 83.1h.7M167.1 91.6h.7M185.4 94.4h.7M166.6 87.0h.7M174.5 84.4h.7M168.3 88.8h.7M166.5 88.3h.7M172.4 90.8h.7M167.1 88.8h.7M159.7 92.5h.7M173.4 96.5h.7M167.6 95.6h.7M163.2 92.3h.7M157.2 87.1h.7M166.6 96.2h.7M163.3 87.3h.7M166.1 80.9h.7M180.9 94.8h.7M171.8 90.1h.7M164.3 88.2h.7M173.3 96.2h.7M167.4 89.2h.7M159.5 86.5h.7M168.6 94.2h.7M178.5 88.9h.7M164.5 94.6h.7M165.9 97.3h.7M180.0 102.5h.7M159.7 98.6h.7M169.2 93.4h.7M164.9 93.8h.7M161.7 93.2h.7M178.7 86.5h.7M163.2 94.2h.7M172.4 93.9h.7M163.3 91.6h.7M165.4 84.1h.7M162.9 101.0h.7M179.6 92.5h.7M166.5 87.5h.7M165.6 89.2h.7M167.9 77.5h.7M160.7 103.5h.7M165.0 91.8h.7M164.5 95.3h.7M186.3 94.3h.7M179.2 94.6h.7M180.9 92.6h.7M158.4 93.7h.7M156.9 92.4h.7M170.8 92.4h.7M172.3 89.5h.7M174.0 81.1h.7M169.7 96.0h.7M174.8 92.1h.7M166.6 86.8h.7M173.7 96.5h.7M162.6 95.2h.7M183.2 90.4h.7M174.0 85.4h.7M165.8 93.0h.7M164.7 87.5h.7M163.6 93.1h.7M168.8 87.1h.7M161.9 83.5h.7M175.0 87.6h.7M185.3 85.8h.7M175.7 101.6h.7M161.3 94.6h.7M166.0 92.4h.7M158.9 91.5h.7M172.2 93.3h.7M162.2 83.8h.7M165.9 94.4h.7M167.6 90.8h.7M170.6 95.5h.7M167.3 95.0h.7M174.3 84.6h.7M177.0 98.5h.7M160.2 93.3h.7M167.3 87.9h.7M159.6 93.4h.7M178.6 90.3h.7M166.5 96.5h.7M159.5 88.0h.7M165.5 98.3h.7M173.9 93.8h.7M172.1 103.6h.7M162.7 90.8h.7M165.9 91.7h.7M163.8 94.3h.7M172.7 84.9h.7M172.1 90.4h.7M162.3 84.3h.7M163.8 93.0h.7M162.2 99.3h.7M162.2 93.0h.7M167.5 100.1h.7M165.5 90.3h.7M178.1 96.0h.7M170.5 88.1h.7M157.4 88.6h.7M163.3 91.4h.7M158.4 89.6h.7M167.0 96.4h.7M169.3 93.2h.7M159.3 95.2h.7M176.5 87.9h.7M169.8 81.6h.7M170.0 91.1h.7M170.3 91.3h.7M168.2 91.9h.7M166.0 102.9h.7M166.2 93.3h.7M168.1 86.5h.7M176.0 89.7h.7M172.4 90.2h.7M163.0 90.9h.7M162.5 91.2h.7M169.6 95.9h.7M177.3 87.2h.7M163.4 93.5h.7M160.8 92.0h.7M157.3 87.6h.7M161.7 93.1h.7M170.6 88.4h.7M169.5 81.4h.7M159.3 98.1h.7M172.9 100.7h.7M177.0 90.3h.7M165.5 91.9h.7M171.8 91.5h.7M166.2 97.5h.7M177.6 83.0h.7M171.3 95.4h.7M171.0 89.3h.7M157.2 88.3h.7M169.2 90.1h.7M168.6 89.1h.7M170.0 90.6h.7M174.0 88.1h.7M164.2 92.9h.7M180.2 81.4h.7M170.3 90.4h.7M163.3 85.7h.7M176.6 92.0h.7M171.3 86.1h.7M172.1 96.0h.7M166.1 84.2h.7M169.7 81.9h.7M168.8 90.9h.7M170.7 87.4h.7M170.2 90.1h.7M162.8 92.6h.7M164.6 94.6h.7M168.5 92.0h.7M161.4 91.7h.7M167.0 88.5h.7M168.8 91.5h.7M171.1 95.7h.7M174.6 88.7h.7M171.8 101.4h.7M173.7 92.7h.7M167.7 97.0h.7M166.4 87.9h.7M169.9 90.9h.7M165.2 88.8h.7M171.7 87.5h.7M177.6 92.9h.7M176.9 93.6h.7M166.3 95.0h.7M168.0 93.1h.7M171.6 88.9h.7M178.2 91.2h.7M164.2 84.0h.7M162.6 82.1h.7M170.6 89.5h.7M174.5 89.6h.7M168.6 90.6h.7M168.0 87.3h.7M176.4 92.1h.7M156.1 89.8h.7M181.7 93.1h.7M161.2 95.6h.7M168.5 95.2h.7M175.0 92.7h.7M173.8 90.8h.7M160.0 90.4h.7M167.7 90.3h.7M166.7 96.5h.7M173.0 92.7h.7M155.6 91.1h.7M165.5 96.2h.7M170.4 96.7h.7M179.0 96.9h.7M161.1 97.2h.7M164.7 87.3h.7M168.2 92.9h.7M159.9 95.8h.7M164.7 88.4h.7M167.1 91.7h.7M164.5 91.8h.7M164.0 86.1h.7M157.2 90.3h.7M178.9 89.6h.7M161.0 89.7h.7M163.8 93.0h.7M176.8 90.0h.7M162.0 88.4h.7M173.9 83.9h.7M165.3 89.2h.7M171.4 93.8h.7M178.9 96.1h.7M173.6 89.0h.7M160.7 91.7h.7M168.4 84.0h.7M163.9 91.1h.7M162.6 86.4h.7M167.2 89.0h.7M171.8 89.2h.7M181.5 97.5h.7M169.0 90.7h.7M158.7 95.8h.7M173.8 90.9h.7M163.7 85.0h.7M160.3 92.5h.7M166.1 89.5h.7M157.9 92.0h.7M169.9 91.1h.7M166.0 90.6h.7M179.1 94.1h.7M163.5 92.5h.7M162.2 94.2h.7M175.3 89.0h.7M156.8 93.8h.7M179.4 96.7h.7M161.7 86.9h.7M168.6 95.7h.7M168.8 85.4h.7M170.4 90.0h.7M160.2 90.8h.7M161.3 91.9h.7M172.4 93.1h.7M169.5 92.6h.7M162.3 90.1h.7M161.7 96.9h.7M172.2 88.6h.7M169.4 91.9h.7M164.9 91.6h.7M171.0 91.7h.7M163.9 88.9h.7M165.0 86.5h.7M182.4 83.1h.7M160.4 93.3h.7M168.7 95.0h.7M185.9 92.8h.7M168.3 92.2h.7M173.6 94.6h.7M158.1 90.5h.7M164.8 89.8h.7M169.0 84.7h.7M156.8 89.6h.7M171.0 93.7h.7M168.9 75.4h.7M179.8 98.1h.7M160.8 82.3h.7M159.5 94.5h.7M159.7 89.6h.7M170.3 96.4h.7M171.4 88.9h.7M168.0 92.8h.7M169.4 87.3h.7M171.7 96.3h.7M162.7 82.3h.7M176.6 79.0h.7M168.7 92.7h.7M163.0 88.2h.7M165.5 92.1h.7M164.5 89.0h.7M165.5 91.2h.7M163.2 85.7h.7M165.8 87.7h.7M177.4 89.4h.7M164.5 90.3h.7M165.3 89.3h.7M167.8 86.1h.7M169.5 93.1h.7M163.0 87.2h.7M169.6 88.1h.7M155.8 91.2h.7M172.6 97.4h.7M166.0 99.4h.7M173.9 88.4h.7M163.5 84.8h.7M168.8 90.2h.7M179.0 91.4h.7M173.3 91.7h.7M161.7 94.0h.7M163.6 100.0h.7M167.8 95.5h.7M163.1 88.6h.7M169.2 89.8h.7M172.8 84.6h.7M179.2 91.8h.7M175.4 82.6h.7M177.4 85.2h.7M170.8 95.7h.7M170.6 94.2h.7M169.1 96.2h.7M171.8 84.1h.7M175.4 90.6h.7M157.2 91.0h.7M170.3 89.2h.7M171.6 95.7h.7M159.8 92.7h.7M173.3 85.1h.7M158.2 93.4h.7M170.5 95.8h.7M179.5 86.8h.7M157.9 86.9h.7M172.0 97.5h.7M167.2 86.4h.7M175.4 87.6h.7M168.2 80.3h.7M171.9 96.9h.7M173.2 90.6h.7M164.7 90.8h.7M168.1 88.8h.7M166.4 82.5h.7M177.8 88.5h.7M165.9 83.7h.7M171.8 95.9h.7M177.7 90.1h.7M166.3 89.5h.7M161.9 87.1h.7M182.1 95.9h.7M177.7 88.0h.7M167.9 90.6h.7M168.8 94.0h.7M171.6 95.4h.7M174.3 93.4h.7M174.5 93.9h.7M169.3 86.3h.7M168.4 89.7h.7M157.8 89.5h.7M168.2 89.7h.7M159.4 94.1h.7M172.7 90.2h.7M160.5 87.5h.7M166.3 90.8h.7M173.5 90.5h.7M174.1 94.4h.7M173.7 94.8h.7M168.0 92.6h.7M175.1 97.9h.7M157.5 90.2h.7M171.8 89.7h.7M173.7 92.6h.7M172.6 90.8h.7M168.7 91.0h.7M172.2 89.3h.7M161.7 84.3h.7M170.3 96.2h.7M161.6 86.3h.7M164.3 89.3h.7M173.9 97.8h.7M164.8 93.8h.7M175.2 98.4h.7M167.5 99.1h.7M187.9 86.8h.7M178.1 97.7h.7M159.0 90.5h.7M164.2 90.6h.7M175.6 85.1h.7M165.5 91.8h.7M175.5 91.0h.7M172.7 94.3h.7M172.0 90.6h.7M172.3 93.6h.7M172.9 92.9h.7M172.3 93.1h.7M164.9 90.1h.7M173.4 92.0h.7M168.4 91.2h.7M172.1 92.8h.7M166.7 91.3h.7M174.4 92.5h.7M171.8 95.6h.7M176.8 87.1h.7M180.9 88.3h.7M171.4 88.8h.7M177.1 87.8h.7M160.9 94.6h.7M164.7 96.7h.7M166.6 89.1h.7M162.9 92.5h.7M169.7 89.3h.7M165.9 88.2h.7M160.6 81.8h.7M167.8 92.5h.7M176.1 94.4h.7M165.5 89.9h.7M162.7 87.9h.7M168.8 87.6h.7M165.9 95.3h.7M168.4 95.4h.7M174.2 85.6h.7M182.7 94.0h.7M174.8 88.7h.7M172.7 86.1h.7M158.2 97.1h.7M161.5 98.1h.7M176.2 96.1h.7M174.2 93.5h.7M166.6 92.4h.7M175.7 99.5h.7M166.7 92.3h.7M166.4 98.3h.7M173.1 93.6h.7M157.3 95.4h.7M170.8 85.9h.7M163.0 88.4h.7M171.3 92.8h.7M156.2 86.4h.7M174.6 88.5h.7M167.7 87.1h.7M171.3 94.5h.7M165.3 91.4h.7M167.7 84.6h.7M169.6 81.2h.7M183.2 94.0h.7M161.8 87.1h.7M173.1 83.7h.7M160.7 90.8h.7M167.2 85.0h.7M171.9 86.2h.7M175.1 80.4h.7M169.6 87.0h.7M166.2 95.1h.7M178.9 94.0h.7M168.3 92.8h.7M156.2 91.3h.7M172.1 90.5h.7M176.1 87.7h.7M176.2 93.1h.7M166.4 96.8h.7M159.1 83.2h.7M158.3 93.0h.7M177.3 88.9h.7M162.4 87.1h.7M162.5 96.5h.7M171.8 99.9h.7M166.8 94.0h.7M163.4 89.4h.7M165.3 90.6h.7M171.8 91.8h.7M173.1 89.2h.7M159.1 86.1h.7M172.3 86.7h.7M173.0 98.2h.7M162.2 99.2h.7M159.9 95.5h.7M168.5 93.7h.7M183.4 96.2h.7M167.0 90.5h.7M164.9 88.6h.7M176.1 97.1h.7M168.9 92.1h.7M166.7 91.4h.7M168.9 85.9h.7M167.5 89.6h.7M170.1 94.0h.7M177.0 90.1h.7M175.6 90.7h.7M172.3 90.3h.7M163.9 85.4h.7M162.0 95.5h.7M164.6 84.8h.7M176.1 89.1h.7M166.1 90.2h.7M160.9 86.1h.7M170.4 84.4h.7M179.7 89.1h.7M168.0 88.2h.7M164.4 86.5h.7M166.1 85.1h.7M165.3 100.1h.7M175.6 95.2h.7M171.2 93.8h.7M165.5 92.5h.7M172.6 91.4h.7M169.6 92.1h.7M167.6 80.7h.7M163.5 93.3h.7M170.8 97.0h.7M162.4 91.1h.7M162.9 101.8h.7M169.7 91.9h.7M159.9 91.5h.7M170.3 97.5h.7M176.4 88.8h.7M169.2 85.8h.7M163.3 94.8h.7M169.8 84.3h.7M157.7 92.8h.7M165.4 95.1h.7M170.1 97.5h.7M172.0 100.6h.7M171.0 82.2h.7M175.2 89.3h.7M160.8 88.3h.7M170.2 90.3h.7M168.2 86.1h.7M180.9 87.0h.7M178.1 88.6h.7M172.6 95.7h.7M164.2 80.6h.7M167.4 95.4h.7M173.2 95.7h.7M159.1 90.1h.7M161.6 99.1h.7M166.7 86.6h.7M162.6 87.2h.7M160.0 85.5h.7M157.0 89.4h.7M170.2 96.1h.7M180.4 85.6h.7M174.4 94.7h.7M172.6 96.2h.7M165.1 93.9h.7M168.8 86.1h.7M165.8 96.3h.7M171.4 90.7h.7M170.1 90.9h.7M176.8 98.5h.7M163.3 87.3h.7M169.6 96.1h.7M171.3 86.2h.7M168.4 84.3h.7M183.7 87.4h.7M167.7 94.5h.7M162.5 95.8h.7M161.6 93.9h.7M168.4 95.0h.7M171.0 93.3h.7M178.1 92.7h.7M167.8 86.7h.7M167.1 86.4h.7M167.9 94.5h.7M175.3 86.2h.7M165.5 89.7h.7M173.0 99.3h.7M172.8 90.0h.7M171.7 91.0h.7M170.8 88.9h.7M162.7 88.9h.7M165.7 87.7h.7M170.5 81.6h.7M167.1 101.8h.7M164.4 96.4h.7M180.6 95.5h.7M166.9 97.1h.7M168.8 85.4h.7M161.7 94.2h.7M170.0 83.6h.7M170.6 86.9h.7M168.6 94.9h.7M179.4 82.7h.7M161.6 89.8h.7M170.9 92.9h.7M166.7 87.5h.7M166.1 94.7h.7M161.1 82.5h.7M168.8 83.9h.7M164.7 91.3h.7M173.6 95.0h.7M173.2 90.7h.7M171.0 87.8h.7M170.1 88.4h.7M176.4 95.9h.7M174.8 87.8h.7M182.4 94.4h.7M174.2 93.7h.7M178.2 91.1h.7M175.9 86.5h.7M177.1 93.7h.7M162.0 89.0h.7M173.9 91.6h.7M165.3 92.6h.7M165.7 99.5h.7M161.4 83.4h.7M159.4 89.9h.7M171.5 96.2h.7M170.5 86.1h.7M181.1 85.8h.7M166.7 88.1h.7M164.6 91.4h.7M171.5 87.0h.7M169.4 87.7h.7M169.0 89.3h.7M166.3 85.2h.7M162.0 94.4h.7M166.2 89.0h.7M173.2 90.8h.7M173.8 96.9h.7M162.8 85.3h.7M166.5 89.0h.7M163.9 81.6h.7M168.0 95.4h.7M169.1 94.4h.7M171.4 91.7h.7M160.6 89.9h.7M167.7 87.5h.7M178.4 94.2h.7M169.3 89.6h.7M187.9 90.9h.7M174.3 97.8h.7M167.9 97.6h.7M157.7 93.6h.7M184.2 86.4h.7M176.5 89.4h.7M160.1 98.8h.7M169.8 89.5h.7M178.1 86.1h.7M169.3 87.9h.7M171.6 93.5h.7M170.2 95.1h.7M171.2 96.1h.7M175.5 93.2h.7M162.1 88.8h.7M173.4 96.5h.7M172.7 98.8h.7M163.7 91.9h.7M179.1 97.9h.7M162.2 84.5h.7M174.1 92.4h.7M173.4 88.9h.7M164.3 93.9h.7M173.2 80.0h.7M161.5 88.2h.7M175.7 88.8h.7M173.0 98.2h.7M173.7 92.7h.7M160.8 93.3h.7M162.1 90.4h.7M169.8 84.7h.7M169.4 91.6h.7M181.9 96.5h.7M167.9 93.5h.7M169.7 91.0h.7M164.3 95.7h.7M163.4 93.3h.7M168.7 90.6h.7M155.9 94.2h.7M166.2 88.5h.7M172.6 93.2h.7M161.6 90.7h.7M168.0 80.5h.7M166.4 89.3h.7M165.3 98.3h.7M165.0 93.1h.7M168.9 93.8h.7M172.6 84.3h.7M163.7 90.9h.7M173.6 82.3h.7M176.4 83.6h.7M171.4 88.4h.7M175.1 93.5h.7M177.7 98.0h.7M165.9 91.5h.7M174.1 95.4h.7M162.0 104.5h.7M163.8 97.7h.7M173.7 85.5h.7M166.7 93.0h.7M171.0 95.3h.7M171.8 93.2h.7M163.9 92.0h.7M164.9 92.8h.7M161.3 84.0h.7M175.3 81.8h.7M169.3 87.8h.7M165.2 81.1h.7M171.5 85.1h.7M166.5 87.2h.7M167.7 83.5h.7M164.5 88.5h.7M161.9 91.3h.7M171.9 85.0h.7M168.5 83.3h.7M165.9 86.8h.7M176.2 85.5h.7M178.1 85.6h.7M160.2 81.9h.7M172.6 86.3h.7M172.6 82.7h.7M176.4 76.9h.7M172.3 72.8h.7M163.6 80.4h.7M165.0 82.3h.7M173.0 73.8h.7M174.4 86.9h.7M172.1 84.7h.7M172.7 80.3h.7M173.3 78.5h.7M173.4 87.6h.7M173.1 89.3h.7M169.2 85.4h.7M159.6 82.0h.7M176.9 77.7h.7M162.6 77.3h.7M174.9 83.0h.7M170.4 77.2h.7M168.5 86.0h.7M168.3 80.0h.7M163.9 92.2h.7M166.1 80.4h.7M158.0 81.7h.7M174.7 80.6h.7M164.2 89.4h.7M169.9 85.1h.7M171.0 79.7h.7M175.3 80.0h.7M171.8 78.1h.7M166.1 91.2h.7M172.7 74.8h.7M165.2 80.9h.7M166.6 81.8h.7M167.7 81.9h.7M164.9 86.0h.7M169.5 82.7h.7M165.3 85.5h.7M158.9 82.7h.7M178.3 83.1h.7M172.1 79.7h.7M162.1 76.5h.7M167.5 83.8h.7M167.7 84.3h.7M168.2 73.1h.7M161.9 82.3h.7M168.5 78.9h.7M165.6 83.3h.7M167.8 84.2h.7M168.2 80.0h.7M171.5 90.9h.7M172.4 80.7h.7M159.8 74.6h.7M167.8 85.1h.7M167.4 77.5h.7M170.4 80.0h.7M168.7 88.4h.7M179.0 83.4h.7M171.3 78.8h.7M161.1 77.3h.7M176.2 78.3h.7M168.7 82.2h.7M165.1 84.1h.7M162.1 86.1h.7M169.5 80.4h.7M169.9 83.8h.7M173.4 86.9h.7M162.2 74.4h.7M165.1 76.0h.7M174.0 77.9h.7M172.0 78.1h.7M171.2 76.8h.7M177.2 83.1h.7M160.5 81.5h.7M161.9 90.2h.7M168.1 74.2h.7M162.4 81.5h.7M170.3 83.6h.7M168.4 81.8h.7M165.6 84.8h.7M173.8 81.6h.7M169.4 83.2h.7M173.5 84.1h.7M172.7 90.3h.7M175.0 78.6h.7M162.5 86.1h.7M177.1 84.5h.7M168.7 84.3h.7M170.7 86.5h.7M169.2 80.7h.7M174.8 82.7h.7M174.0 84.7h.7M168.6 88.7h.7M165.0 84.9h.7M177.3 86.5h.7M162.8 78.0h.7M164.9 81.7h.7M174.8 75.6h.7M163.2 84.9h.7M171.5 81.0h.7M159.0 81.3h.7M166.9 77.3h.7M170.2 81.6h.7M163.6 78.4h.7M177.8 83.5h.7M163.9 82.8h.7M157.6 81.5h.7M165.3 82.2h.7M162.8 84.6h.7M156.0 82.3h.7M168.5 80.0h.7M172.8 83.5h.7M165.2 83.4h.7M170.6 87.0h.7M169.5 91.3h.7M173.2 87.2h.7M168.9 70.1h.7M171.0 84.3h.7M170.6 74.8h.7M162.9 82.6h.7M167.9 81.5h.7M172.8 88.4h.7M175.2 81.2h.7M171.0 79.7h.7M168.4 80.8h.7M168.6 81.4h.7M165.7 79.3h.7M165.9 80.2h.7M161.8 86.0h.7M173.6 83.2h.7M167.2 90.9h.7M161.9 87.9h.7M169.9 76.3h.7M173.6 81.3h.7M166.8 82.9h.7M164.3 81.2h.7M165.8 75.7h.7M168.5 87.9h.7M170.5 85.7h.7M165.4 79.1h.7M166.0 69.2h.7M176.9 77.9h.7M169.5 82.2h.7M177.9 82.7h.7M163.9 79.5h.7M172.0 79.8h.7M170.5 81.4h.7M174.1 88.9h.7M173.7 90.4h.7M161.9 76.6h.7M175.3 83.4h.7M170.3 85.9h.7M167.4 84.6h.7M161.6 83.6h.7M173.5 81.6h.7M169.5 79.6h.7M165.0 85.4h.7M167.6 88.2h.7M169.4 84.8h.7M159.3 83.7h.7M165.5 81.8h.7M158.5 74.2h.7M170.4 80.4h.7M168.4 74.7h.7M171.3 81.7h.7M174.2 82.6h.7M159.1 88.1h.7M168.9 89.3h.7M161.6 73.4h.7M158.9 88.5h.7M167.2 87.1h.7M168.2 93.3h.7M166.2 83.6h.7M168.9 88.3h.7M160.5 82.0h.7M167.4 80.6h.7M169.0 84.4h.7M168.4 78.6h.7M174.2 79.9h.7M166.0 81.9h.7M166.6 81.5h.7M166.0 76.9h.7M173.1 77.4h.7M169.9 91.0h.7M170.1 85.3h.7M164.9 88.4h.7M176.6 83.9h.7M175.5 80.6h.7M161.6 79.9h.7M175.2 87.3h.7M170.1 92.1h.7M174.5 84.2h.7M168.2 84.2h.7M171.7 82.4h.7M168.6 74.2h.7M162.2 83.5h.7M166.6 76.7h.7M160.3 76.2h.7M173.4 83.4h.7M173.4 79.4h.7M166.2 76.9h.7M171.7 86.9h.7M170.6 79.9h.7M171.9 87.2h.7M172.4 89.8h.7M164.4 86.7h.7M172.8 80.9h.7M172.9 78.6h.7M174.5 82.9h.7M164.0 82.7h.7M169.4 82.4h.7M166.4 87.8h.7M167.5 85.8h.7M166.4 79.2h.7M169.7 87.1h.7M170.0 81.0h.7M166.2 85.9h.7M174.2 85.2h.7M174.6 83.0h.7M167.1 81.5h.7M176.9 73.7h.7M164.0 85.6h.7M166.4 89.2h.7M169.6 84.4h.7M168.1 79.3h.7M169.8 86.2h.7M177.7 78.9h.7M174.4 78.9h.7M165.2 87.5h.7M169.2 85.8h.7M166.5 83.0h.7M161.7 80.4h.7M166.8 84.2h.7M169.0 90.8h.7M162.7 80.1h.7M166.6 90.7h.7M166.0 76.5h.7M173.2 86.0h.7M168.2 77.3h.7M170.5 79.3h.7M165.5 83.4h.7M166.3 91.8h.7M165.7 82.6h.7M165.8 90.2h.7M167.7 79.4h.7M175.2 81.2h.7M171.6 82.3h.7M169.3 82.4h.7M174.7 83.1h.7M173.8 79.1h.7M171.1 86.7h.7M168.3 82.9h.7M167.3 91.4h.7M174.6 85.5h.7M167.3 80.1h.7M175.4 81.6h.7M173.8 82.6h.7M174.3 82.8h.7M160.4 67.2h.7M169.8 78.1h.7M167.9 84.1h.7M171.1 83.3h.7M155.6 80.1h.7M169.7 77.2h.7M166.4 81.1h.7M172.2 80.8h.7M169.9 92.2h.7M166.2 84.7h.7M168.7 85.8h.7M168.4 86.3h.7M168.1 86.4h.7M170.1 81.6h.7M169.3 79.6h.7M168.2 86.0h.7M177.2 79.5h.7M166.7 82.2h.7M168.8 74.8h.7M173.6 88.3h.7M169.4 83.5h.7M171.1 81.5h.7M159.8 84.4h.7M168.3 75.2h.7M165.0 80.8h.7M169.5 82.3h.7M164.1 79.6h.7M177.7 84.6h.7M167.2 79.1h.7M166.9 84.0h.7M169.8 86.1h.7M168.3 94.5h.7M168.5 84.5h.7M175.2 77.3h.7M162.9 80.8h.7M165.6 78.7h.7M169.8 82.5h.7M170.1 86.4h.7M165.6 77.5h.7M159.4 77.0h.7M166.9 94.6h.7M164.9 84.5h.7M170.2 90.4h.7M164.1 79.8h.7M165.3 78.3h.7M168.5 75.5h.7M168.9 85.6h.7M161.4 80.4h.7M162.9 84.8h.7M160.0 95.7h.7M169.0 90.7h.7M160.3 86.3h.7M176.5 86.6h.7M170.0 72.8h.7M165.6 85.2h.7M167.1 76.9h.7M167.6 80.6h.7M167.1 87.4h.7M164.6 83.4h.7M161.7 83.9h.7M160.2 83.0h.7M169.7 86.5h.7M170.2 76.6h.7M166.7 82.3h.7M171.7 82.0h.7M169.3 78.6h.7M165.8 86.8h.7M167.0 82.1h.7M169.4 84.7h.7M169.5 80.2h.7M170.8 85.7h.7M169.0 77.3h.7M163.0 81.8h.7M176.0 85.0h.7M170.0 77.3h.7M168.5 88.7h.7M182.3 76.6h.7M182.2 83.3h.7M186.7 88.7h.7M194.6 90.6h.7M188.6 92.3h.7M195.6 93.7h.7M191.6 87.8h.7M188.8 86.6h.7M187.0 97.5h.7M193.0 88.2h.7M189.6 89.7h.7M190.4 97.0h.7M191.9 100.5h.7M190.6 88.5h.7M189.2 93.5h.7M185.6 87.0h.7M181.3 90.0h.7M189.6 98.3h.7M192.8 85.3h.7M200.6 88.5h.7M182.8 93.9h.7M188.2 88.7h.7M188.3 79.1h.7M187.2 89.0h.7M191.8 92.2h.7M185.4 90.2h.7M185.8 88.0h.7M188.3 95.5h.7M193.2 94.6h.7M185.2 94.0h.7M188.5 93.0h.7M187.5 96.3h.7M187.9 92.9h.7M193.9 97.9h.7M184.3 89.6h.7M186.8 91.1h.7M192.6 92.4h.7M190.9 91.2h.7M199.2 89.2h.7M198.2 81.3h.7M192.4 95.8h.7M189.6 90.0h.7M186.5 96.6h.7M194.2 87.4h.7M185.9 90.2h.7M186.4 92.4h.7M193.9 95.9h.7M194.4 95.9h.7M186.3 92.0h.7M190.2 97.3h.7M186.7 80.8h.7M189.8 92.1h.7M193.4 85.6h.7M184.8 84.5h.7M188.8 89.0h.7M189.8 85.9h.7M192.8 90.5h.7M187.5 87.6h.7M185.2 85.9h.7M187.7 94.9h.7M188.2 88.1h.7M188.4 82.2h.7M190.4 91.8h.7M185.9 89.7h.7M184.6 88.1h.7M190.3 89.1h.7M190.8 90.1h.7M192.9 85.6h.7M184.3 95.0h.7M188.9 89.3h.7M195.4 93.3h.7M180.7 89.2h.7M192.6 95.6h.7M196.1 92.9h.7M188.9 94.4h.7M189.5 83.3h.7M199.5 87.3h.7M187.9 92.5h.7M187.6 88.5h.7M186.9 87.5h.7M191.5 84.6h.7M193.0 91.4h.7M189.1 89.0h.7M179.9 95.1h.7M194.7 90.9h.7M195.3 95.3h.7M186.7 88.5h.7M193.9 88.3h.7M186.1 94.1h.7M188.1 87.1h.7M185.5 92.8h.7M187.2 91.2h.7M191.2 86.4h.7M188.9 98.4h.7M187.1 87.4h.7M190.6 86.9h.7M190.3 87.7h.7M189.7 91.1h.7M189.3 97.6h.7M189.1 94.8h.7M192.1 93.7h.7M185.3 97.6h.7M188.5 92.9h.7M195.6 91.5h.7M183.0 86.1h.7M183.8 94.5h.7M188.5 87.0h.7M192.5 88.8h.7M197.3 85.5h.7M201.4 83.1h.7M189.2 90.9h.7M196.0 93.7h.7M188.3 85.0h.7M190.4 100.0h.7M187.5 95.1h.7M191.5 94.2h.7M188.8 85.1h.7M190.2 86.9h.7M195.5 89.0h.7M188.4 86.3h.7M189.8 85.5h.7M186.3 92.1h.7M192.8 96.4h.7M189.4 92.1h.7M188.1 92.2h.7M195.0 91.5h.7M182.0 94.2h.7M198.0 90.5h.7M187.1 79.2h.7M189.0 87.6h.7M198.0 91.0h.7M190.4 92.4h.7M184.1 91.2h.7M186.4 92.7h.7M183.5 88.5h.7M198.7 94.3h.7M187.0 89.1h.7M193.1 90.4h.7M184.4 92.2h.7M195.7 86.3h.7M189.0 90.1h.7M191.3 93.8h.7M196.4 85.0h.7M187.9 92.7h.7M189.8 95.6h.7M181.8 93.2h.7M182.9 89.5h.7M190.7 81.3h.7M185.1 88.2h.7M186.6 93.2h.7M191.2 83.8h.7M183.5 78.6h.7M189.2 95.1h.7M186.0 86.5h.7M192.7 90.5h.7M191.7 85.4h.7M185.7 95.6h.7M191.2 86.1h.7M192.5 83.7h.7M189.0 92.0h.7M188.5 88.6h.7M184.9 85.4h.7M191.5 82.3h.7M189.8 87.1h.7M185.2 88.3h.7M189.1 89.6h.7M194.2 85.2h.7M196.2 87.7h.7M189.1 87.7h.7M186.7 88.6h.7M193.1 101.7h.7M188.7 88.4h.7M193.4 92.4h.7M183.6 95.1h.7M192.2 85.3h.7M189.9 82.7h.7M193.2 91.8h.7M190.2 90.2h.7M193.0 91.8h.7M185.1 77.6h.7M188.4 88.8h.7M183.2 94.6h.7M188.5 91.2h.7M188.3 95.5h.7M189.8 97.4h.7M192.8 88.7h.7M191.8 83.7h.7M192.3 87.6h.7M192.4 88.3h.7M184.3 93.0h.7M194.9 88.2h.7M191.4 88.9h.7M191.1 90.1h.7M199.8 83.5h.7M189.2 91.9h.7M189.5 85.1h.7M190.5 91.8h.7M199.1 94.7h.7M190.1 94.0h.7M200.7 96.3h.7M187.9 97.9h.7M187.0 88.4h.7M194.9 88.3h.7M191.5 84.8h.7M205.1 80.9h.7M195.7 83.7h.7M209.2 76.2h.7M204.1 79.9h.7M200.5 83.2h.7M197.8 82.1h.7M202.1 82.2h.7M194.6 84.0h.7M211.0 78.1h.7M193.4 85.9h.7M208.4 81.3h.7M198.8 80.1h.7M192.7 89.8h.7M190.6 85.6h.7M205.5 81.1h.7M197.1 85.6h.7M206.7 75.3h.7M203.0 83.2h.7M199.4 83.2h.7M194.4 83.8h.7M205.0 79.1h.7M201.3 78.5h.7M197.8 80.9h.7M209.5 77.7h.7M199.6 82.3h.7M192.6 82.6h.7M198.7 87.0h.7M198.2 90.0h.7M177.9 109.9h.7M174.7 137.5h.7M164.9 125.8h.7M169.6 123.2h.7M171.6 110.1h.7M164.2 124.9h.7M168.4 133.9h.7M174.3 107.9h.7M178.3 121.7h.7M178.7 125.5h.7M181.3 113.0h.7M171.7 134.4h.7M168.4 114.4h.7M176.4 122.3h.7M171.5 132.8h.7M176.3 113.7h.7M159.9 137.9h.7M171.1 120.8h.7M177.3 122.2h.7M178.1 120.9h.7M170.0 133.9h.7M170.2 124.0h.7M174.4 113.4h.7M166.0 135.1h.7M171.6 125.6h.7M164.3 136.6h.7M167.3 130.4h.7M177.5 103.4h.7M172.6 138.5h.7M178.3 116.7h.7M163.7 129.6h.7M171.8 112.3h.7M166.1 125.8h.7M183.1 113.2h.7M169.1 136.3h.7M175.7 132.5h.7M177.8 104.1h.7M174.7 120.7h.7M176.7 104.3h.7M172.7 115.1h.7M175.7 131.8h.7M183.9 102.8h.7M174.8 131.2h.7M178.8 107.2h.7M181.1 117.0h.7M177.0 118.4h.7M186.1 117.7h.7M177.5 102.6h.7M165.4 127.8h.7M181.1 111.3h.7M168.5 114.6h.7M182.3 109.9h.7M171.7 119.3h.7M166.8 132.9h.7M178.7 110.3h.7M184.3 105.5h.7M177.9 123.2h.7M180.1 109.5h.7M175.3 110.5h.7M162.5 139.7h.7M174.2 115.7h.7M170.0 132.6h.7M176.1 124.3h.7M179.1 119.2h.7M175.3 106.1h.7M172.8 127.4h.7M173.4 135.1h.7M169.8 125.5h.7M171.2 125.2h.7M183.3 100.9h.7M163.7 116.0h.7M183.0 115.3h.7M171.1 126.5h.7M181.7 107.7h.7M163.6 138.7h.7M175.0 120.1h.7M169.1 134.7h.7M169.2 130.1h.7M175.2 119.5h.7M176.4 119.0h.7M174.5 123.3h.7M183.6 118.6h.7M160.7 139.5h.7M181.7 111.4h.7M177.9 101.8h.7M169.2 136.8h.7M168.5 129.7h.7M163.7 135.8h.7M176.8 119.3h.7M175.3 122.1h.7M177.7 115.2h.7M182.4 104.8h.7M177.7 105.6h.7M181.0 104.2h.7M174.6 108.5h.7M181.2 102.9h.7M170.0 124.3h.7M166.0 126.0h.7M172.1 129.7h.7M171.2 112.1h.7M175.4 118.0h.7M181.4 105.0h.7M177.9 111.1h.7M163.5 137.4h.7M175.0 108.3h.7M181.3 104.1h.7M170.8 125.6h.7M164.8 131.8h.7M165.9 136.6h.7M171.6 110.6h.7M170.0 127.9h.7M178.9 115.8h.7M179.8 135.2h.7M168.6 120.1h.7M181.6 104.4h.7M171.3 110.4h.7M176.5 118.3h.7M179.4 99.0h.7M182.4 116.4h.7M172.4 125.3h.7M170.0 101.5h.7M173.3 129.4h.7M166.4 125.5h.7M170.3 114.5h.7M171.1 129.6h.7M173.3 125.0h.7M180.1 119.2h.7M177.1 109.4h.7M173.4 134.3h.7M167.4 139.0h.7M178.3 101.2h.7M166.7 128.2h.7M171.1 112.3h.7M167.3 141.4h.7M177.3 108.5h.7M182.4 107.1h.7M169.3 125.3h.7M170.6 118.1h.7M181.1 120.0h.7M180.1 99.6h.7M180.5 112.2h.7M172.6 134.1h.7M178.2 100.2h.7M171.8 136.3h.7M163.4 137.7h.7M169.7 125.1h.7M181.6 96.3h.7M171.2 98.0h.7M162.0 139.1h.7M179.0 119.8h.7M181.2 104.2h.7M176.7 115.8h.7M177.0 113.3h.7M175.1 101.4h.7M179.1 108.6h.7M174.4 112.9h.7M175.0 109.2h.7M180.6 101.4h.7M163.9 121.2h.7M169.1 123.8h.7M172.5 137.3h.7M178.7 108.8h.7M169.7 123.4h.7M174.1 123.2h.7M173.5 113.7h.7M176.7 115.4h.7M169.6 135.8h.7M180.3 107.6h.7M168.2 129.6h.7M178.4 111.1h.7M185.5 96.0h.7M181.1 110.5h.7M174.4 130.5h.7M180.9 115.4h.7M172.4 123.4h.7M185.9 109.8h.7M177.8 129.0h.7M177.6 109.6h.7M175.9 108.9h.7M172.7 122.9h.7M170.3 126.5h.7M174.0 117.3h.7M178.4 112.6h.7M167.4 123.1h.7M178.6 112.8h.7M170.6 127.7h.7M173.5 111.7h.7M163.3 134.1h.7M175.8 124.6h.7M169.6 96.3h.7M174.0 114.5h.7M164.2 133.4h.7M180.4 108.8h.7M172.2 129.3h.7M179.1 111.3h.7M176.5 112.3h.7M175.1 122.2h.7M182.1 105.2h.7M174.9 137.9h.7M184.8 100.7h.7M175.4 124.6h.7M178.3 102.4h.7M174.5 123.9h.7M170.5 134.8h.7M184.6 109.3h.7M172.8 116.6h.7M185.5 116.0h.7M167.1 130.9h.7M182.8 120.9h.7M167.9 119.8h.7M173.5 111.3h.7M176.2 101.8h.7M182.0 112.5h.7M184.4 123.0h.7M167.5 125.5h.7M169.6 111.0h.7M184.2 116.4h.7M176.4 115.4h.7M176.3 122.9h.7M174.3 138.0h.7M175.0 122.4h.7M169.2 136.6h.7M175.8 109.2h.7M170.7 110.5h.7M168.8 131.8h.7M180.0 119.5h.7M179.1 108.2h.7M175.9 134.9h.7M169.7 129.4h.7M181.2 97.6h.7M173.6 124.8h.7M163.8 131.7h.7M170.1 132.8h.7M159.7 132.3h.7M173.5 120.4h.7M172.7 111.2h.7M175.6 119.2h.7M167.2 132.1h.7M166.3 139.8h.7M179.3 120.9h.7M174.0 116.5h.7M167.3 130.5h.7M164.1 128.3h.7M178.6 120.7h.7M167.7 138.1h.7M167.9 131.9h.7M184.0 116.0h.7M180.5 108.5h.7M172.6 131.7h.7M172.9 124.7h.7M183.6 107.6h.7M172.9 130.5h.7M169.6 129.3h.7M172.8 138.3h.7M176.3 111.1h.7M178.5 121.2h.7M170.2 115.3h.7M174.0 126.2h.7M174.6 122.0h.7M183.9 122.6h.7M168.8 135.7h.7M176.1 127.2h.7M176.2 104.2h.7M184.5 107.7h.7M181.1 104.3h.7M164.9 127.1h.7M174.3 112.1h.7M171.5 125.1h.7M178.3 125.8h.7M170.8 131.4h.7M165.6 131.6h.7M173.6 133.2h.7M172.8 113.8h.7M178.7 109.6h.7M171.8 106.4h.7M172.0 128.2h.7M170.0 139.8h.7M177.5 126.2h.7M166.0 129.0h.7M165.2 111.4h.7M170.4 126.4h.7M175.5 124.1h.7M165.2 139.0h.7M171.8 119.1h.7M174.3 117.1h.7M181.0 116.2h.7M171.1 140.4h.7M173.2 127.7h.7M176.1 117.6h.7M181.0 121.3h.7M170.0 128.1h.7M184.1 106.3h.7M176.3 129.3h.7M174.4 108.1h.7M165.5 126.4h.7M180.1 110.4h.7M177.5 131.6h.7M180.9 123.6h.7M182.1 116.4h.7M183.9 97.5h.7M178.9 118.4h.7M179.1 120.5h.7M177.0 128.4h.7M174.7 131.2h.7M172.5 103.1h.7M173.6 119.0h.7M183.6 106.6h.7M169.1 134.0h.7M170.5 123.2h.7M180.3 115.2h.7M176.6 133.6h.7M176.6 115.4h.7M174.2 115.8h.7M179.0 113.0h.7M168.9 139.4h.7M174.6 121.9h.7M175.2 129.9h.7M178.1 119.4h.7M167.9 133.7h.7M174.3 101.0h.7M171.9 123.8h.7M180.4 109.2h.7M177.0 119.6h.7M172.0 120.9h.7M173.9 121.7h.7M170.2 120.4h.7M165.2 124.0h.7M178.2 104.7h.7M174.7 123.8h.7M170.3 128.2h.7M170.3 122.1h.7M169.3 141.5h.7M173.2 133.7h.7M179.5 123.5h.7M171.3 104.2h.7M179.7 111.3h.7M173.9 128.1h.7M176.8 111.5h.7M162.4 123.8h.7M169.2 117.9h.7M172.8 139.3h.7M179.5 104.4h.7M179.3 132.1h.7M175.7 111.8h.7M163.5 133.6h.7M178.6 96.7h.7M168.4 126.2h.7M179.5 117.2h.7M178.9 109.3h.7M178.2 113.8h.7M184.5 121.3h.7M166.6 129.1h.7M165.6 139.9h.7M168.7 116.4h.7M177.3 128.0h.7M169.7 113.6h.7M174.4 118.9h.7M164.5 135.4h.7M168.6 121.6h.7M175.5 114.5h.7M173.9 127.4h.7M166.1 130.0h.7M171.1 128.6h.7M172.9 118.9h.7M169.8 120.9h.7M177.9 121.9h.7M185.7 113.9h.7M168.8 110.7h.7M165.8 109.3h.7M183.7 109.6h.7M172.0 109.8h.7M174.7 131.5h.7M160.2 109.7h.7M190.6 126.9h.7M193.2 124.7h.7M187.2 106.3h.7M188.6 115.7h.7M165.7 108.9h.7M185.4 110.6h.7M185.4 113.2h.7M176.6 118.0h.7M184.8 120.3h.7M173.4 116.2h.7M181.1 121.2h.7M167.7 113.4h.7M176.6 117.7h.7M177.6 105.2h.7M177.6 102.9h.7M182.8 104.2h.7M184.3 136.5h.7M177.1 117.4h.7M173.0 124.6h.7M168.0 115.4h.7M179.5 131.3h.7M183.5 101.2h.7M174.6 115.3h.7M182.2 120.2h.7M184.3 115.2h.7M163.8 116.2h.7M167.7 117.2h.7M175.9 111.7h.7M195.9 131.4h.7M166.5 123.5h.7M173.6 99.5h.7M162.5 116.6h.7M180.2 115.5h.7M173.1 133.4h.7M184.5 103.4h.7M194.8 126.2h.7M181.2 105.9h.7M182.0 112.7h.7M183.3 109.1h.7M175.3 113.6h.7M175.1 111.8h.7M174.2 108.4h.7M184.0 110.7h.7M181.9 85.0h.7M172.8 96.4h.7M190.8 115.4h.7M165.9 118.5h.7M185.7 138.3h.7M170.9 115.1h.7M167.4 120.5h.7M175.1 113.2h.7M179.5 122.5h.7M188.8 120.8h.7M183.8 121.4h.7M188.6 105.2h.7M159.9 129.6h.7M192.2 95.0h.7M175.8 124.9h.7M171.6 115.1h.7M174.7 105.8h.7M174.7 117.9h.7M193.8 108.1h.7M176.9 114.5h.7M175.6 127.3h.7M159.5 112.4h.7M176.7 136.7h.7M169.7 103.9h.7M194.5 136.8h.7M183.1 123.7h.7M188.5 109.2h.7M175.5 122.1h.7M178.6 122.0h.7M188.1 126.2h.7M178.1 114.0h.7M173.7 125.7h.7M191.5 127.3h.7M192.0 131.5h.7M180.2 120.0h.7M171.0 123.8h.7M179.1 125.6h.7M171.8 107.0h.7M186.6 110.8h.7M190.6 125.1h.7M178.3 120.5h.7M192.4 109.5h.7M174.3 108.0h.7M167.9 118.4h.7M186.5 122.4h.7M166.4 115.7h.7M185.5 108.4h.7M184.8 95.5h.7M182.4 113.4h.7M187.7 121.4h.7M185.1 133.6h.7M181.1 100.3h.7M195.4 107.3h.7" stroke="#4535ab" stroke-width=".7" stroke-opacity=".55" fill="none" clip-path="url(#clip2)"/>
<rect x="155" y="37.3" width="106" height="104.7" fill="none" stroke="#111" stroke-width="1.4"/>
<path d="M185.0 37.3L185.0 142.0" stroke="#111" stroke-width="1.5" stroke-linecap="butt" fill="none"/>
<path d="M155.0 102.2L261.0 102.2" stroke="#111" stroke-width="1.5" stroke-linecap="butt" fill="none"/>
<text x="64.7" y="31.6" font-size="9.7" font-weight="bold" fill="#111" textLength="44.7" lengthAdjust="spacingAndGlyphs">untreated</text>
<text x="176.2" y="31.6" font-size="9.6" font-weight="bold" fill="#111" textLength="64.2" lengthAdjust="spacingAndGlyphs">lipo-clod (i.p.)</text>
<text x="117.9" y="47.2" font-size="7.8" fill="#222" stroke="#222" stroke-width="0.18" textLength="15.6" lengthAdjust="spacingAndGlyphs">26%</text>
<text x="119.8" y="137.2" font-size="7.8" fill="#222" stroke="#222" stroke-width="0.18" textLength="11.3" lengthAdjust="spacingAndGlyphs">5%</text>
<text x="246.3" y="47.2" font-size="7.8" fill="#222" stroke="#222" stroke-width="0.18" textLength="10.8" lengthAdjust="spacingAndGlyphs">7%</text>
<text x="247.7" y="137.2" font-size="7.8" fill="#222" stroke="#222" stroke-width="0.18" textLength="9.6" lengthAdjust="spacingAndGlyphs">1%</text>
<text x="29.3" y="131.5" font-size="10" fill="#111" stroke="#111" stroke-width="0.3" textLength="26.3" lengthAdjust="spacingAndGlyphs" transform="rotate(-90 29.3 131.5)">CD11b</text>
<path d="M25.2 94.0L25.2 66.0" stroke="#111" stroke-width="1.1" stroke-linecap="butt" fill="none"/>
<polygon points="25.2,63.2 22.7,69.5 27.7,69.5" fill="#111"/>
<text x="45.0" y="154.0" font-size="9.8" fill="#111" stroke="#111" stroke-width="0.3" textLength="22.0" lengthAdjust="spacingAndGlyphs">F4/80</text>
<path d="M73.5 150.8L100.0 150.8" stroke="#111" stroke-width="1.1" stroke-linecap="butt" fill="none"/>
<polygon points="103.2,150.8 96.8,148.3 96.8,153.3" fill="#111"/>
<text x="277.0" y="17.3" font-size="11.5" font-weight="bold" fill="#000">C</text>
<defs>
<clipPath id="cimg"><rect x="288" y="23.3" width="189" height="149.89999999999998"/></clipPath>
<filter id="b1" x="-30%" y="-30%" width="160%" height="160%"><feGaussianBlur stdDeviation="1.1"/></filter>
<filter id="b0" x="-30%" y="-30%" width="160%" height="160%"><feGaussianBlur stdDeviation=".75"/></filter>
<filter id="b2" x="-30%" y="-30%" width="160%" height="160%"><feGaussianBlur stdDeviation="2.2"/></filter>
<filter id="b4" x="-50%" y="-50%" width="200%" height="200%"><feGaussianBlur stdDeviation="4"/></filter>
<linearGradient id="bg" x1="0" y1="0" x2="1" y2="1"><stop offset="0" stop-color="#535e50"/><stop offset=".5" stop-color="#55614d"/><stop offset="1" stop-color="#4d554a"/></linearGradient>
<radialGradient id="gbright"><stop offset="0" stop-color="#c2f436"/><stop offset=".8" stop-color="#b6ee28"/><stop offset="1" stop-color="#98d822"/></radialGradient>
</defs>
<g clip-path="url(#cimg)">
<rect x="288" y="23.3" width="189" height="149.89999999999998" fill="url(#bg)"/>
<g filter="url(#b2)">
<ellipse cx="293" cy="126" rx="18" ry="20" fill="#5f6a56" opacity=".9"/>
<ellipse cx="318" cy="147" rx="21" ry="19" fill="#5c6a50" opacity=".9"/>
<ellipse cx="341" cy="66" rx="13" ry="13" fill="#4a5a42" opacity=".85"/>
<ellipse cx="423.5" cy="51.5" rx="17" ry="16" fill="#4f6647" opacity=".9"/>
<ellipse cx="430" cy="52" rx="6" ry="7" fill="#5a7a48" opacity=".8"/>
<ellipse cx="425" cy="128" rx="45" ry="28" fill="#44513d" opacity=".55"/>
<ellipse cx="434" cy="113" rx="20" ry="16" fill="#4b6340" opacity=".7"/>
<ellipse cx="366" cy="160" rx="13" ry="10" fill="#567044" opacity=".8"/>
<ellipse cx="352" cy="58" rx="4" ry="6" fill="#5d8a3a" opacity=".7"/>
</g>
<g fill="none" stroke="#3d4938" stroke-width="1.1" filter="url(#b1)" opacity=".8">
<ellipse cx="293" cy="126" rx="17.5" ry="20"/><ellipse cx="341" cy="66" rx="13.5" ry="13.5"/><ellipse cx="423.5" cy="51.5" rx="17.5" ry="16.5" opacity=".6"/><ellipse cx="439" cy="111" rx="16" ry="16" opacity=".8"/><ellipse cx="318" cy="147" rx="21" ry="19" opacity=".5"/>
</g>
<g filter="url(#b4)">
<circle cx="326.8" cy="150.5" r="13.5" fill="#7fb82a" opacity=".6"/>
<ellipse cx="447" cy="95.5" rx="18" ry="14.5" fill="#7fb82a" opacity=".75"/>
<circle cx="350.8" cy="159" r="8.5" fill="#7fb82a" opacity=".7"/>
<ellipse cx="410" cy="122.5" rx="24" ry="10" fill="#6fa52a" opacity=".4"/>
<ellipse cx="356" cy="37" rx="14" ry="12" fill="#6fa52a" opacity=".45"/>
<ellipse cx="341" cy="53.5" rx="8" ry="4" fill="#6fa52a" opacity=".6"/>
</g>
<g filter="url(#b0)">
<circle cx="326.8" cy="150.5" r="10.2" fill="url(#gbright)"/>
<circle cx="350.8" cy="159" r="4.6" fill="#a2dc2a"/>
</g>
<g filter="url(#b1)">
<ellipse cx="447" cy="95.5" rx="14.3" ry="10.9" fill="#b6ef2e"/>
<path d="M434 97 Q433 86 445 85.5 Q455 85 458.5 89.5 L436.5 100 Z" fill="#80bb2c"/>
<ellipse cx="447" cy="95.5" rx="13.8" ry="10.4" fill="none" stroke="#bdf23a" stroke-width="1.3"/>
<circle cx="396.7" cy="122.8" r="9.3" fill="#93d426"/>
<ellipse cx="394.5" cy="123" rx="5" ry="5.2" fill="#74ab2c"/>
<circle cx="413.8" cy="122" r="5.2" fill="#7fb52f"/>
<circle cx="413.8" cy="122.3" r="3.2" fill="#5d8733"/>
<circle cx="425.3" cy="121.8" r="7.2" fill="#8ccb27"/>
<circle cx="425" cy="122.3" r="3.9" fill="#69992f"/>
<ellipse cx="356" cy="36.8" rx="11.5" ry="9.6" fill="#75aa32"/>
<ellipse cx="356.5" cy="37.5" rx="8.3" ry="6.6" fill="#5d8c33"/>
<ellipse cx="352" cy="31.5" rx="6" ry="2.6" fill="#8cc733"/>
<ellipse cx="364.8" cy="38" rx="2.6" ry="5.5" fill="#86c030"/>
<ellipse cx="341.3" cy="53" rx="5.6" ry="2" fill="#8cc730"/>
<circle cx="314.5" cy="161" r="1.6" fill="#b0ea28"/>
</g>
</g>
<text x="352.2" y="42.2" font-size="11.5" font-weight="bold" fill="#fff" textLength="8.3" lengthAdjust="spacingAndGlyphs">A</text>
<text x="332.9" y="73.2" font-size="11.5" font-weight="bold" fill="#fff" textLength="9.9" lengthAdjust="spacingAndGlyphs">M</text>
<text x="417.5" y="56.5" font-size="11.5" font-weight="bold" fill="#fff" textLength="9.8" lengthAdjust="spacingAndGlyphs">M</text>
<text x="437.5" y="92.4" font-size="11.5" font-weight="bold" fill="#fff" textLength="8.2" lengthAdjust="spacingAndGlyphs">A</text>
<path d="M344.3 125.5L336.3 135.6" stroke="#fff" stroke-width="2.7"/>
<polygon points="330.2,143.3 331.8,132.0 340.8,139.2" fill="#fff"/>
<path d="M365.2 138.6L358.3 147.6" stroke="#fff" stroke-width="2.7"/>
<polygon points="352.4,155.4 353.8,144.1 362.9,151.1" fill="#fff"/>
<path d="M421.9 92.3L418.3 103.6" stroke="#fff" stroke-width="2.7"/>
<polygon points="415.3,112.9 412.8,101.8 423.8,105.3" fill="#fff"/>
<path d="M450.4 136.4L436.5 131.0" stroke="#fff" stroke-width="2.7"/>
<polygon points="427.4,127.4 438.6,125.6 434.4,136.3" fill="#fff"/>
<text x="7.6" y="182.5" font-size="11.9" font-weight="bold" fill="#000">B</text>
<path d="M52.0 212.6L52.0 297.9" stroke="#111" stroke-width="1.4" stroke-linecap="butt" fill="none"/>
<path d="M51.3 297.3L174.8 297.3" stroke="#111" stroke-width="1.4" stroke-linecap="butt" fill="none"/>
<path d="M49.0 215.1L52.0 215.1" stroke="#111" stroke-width="1.2" stroke-linecap="butt" fill="none"/>
<text x="45.5" y="218.0" font-size="8.3" text-anchor="end" fill="#222" stroke="#222" stroke-width="0.18">0.8</text>
<path d="M49.0 235.7L52.0 235.7" stroke="#111" stroke-width="1.2" stroke-linecap="butt" fill="none"/>
<text x="45.5" y="238.6" font-size="8.3" text-anchor="end" fill="#222" stroke="#222" stroke-width="0.18">0.6</text>
<path d="M49.0 256.2L52.0 256.2" stroke="#111" stroke-width="1.2" stroke-linecap="butt" fill="none"/>
<text x="45.5" y="259.1" font-size="8.3" text-anchor="end" fill="#222" stroke="#222" stroke-width="0.18">0.4</text>
<path d="M49.0 276.8L52.0 276.8" stroke="#111" stroke-width="1.2" stroke-linecap="butt" fill="none"/>
<text x="45.5" y="279.7" font-size="8.3" text-anchor="end" fill="#222" stroke="#222" stroke-width="0.18">0.2</text>
<path d="M49.0 297.3L52.0 297.3" stroke="#111" stroke-width="1.2" stroke-linecap="butt" fill="none"/>
<text x="45.5" y="300.2" font-size="8.3" text-anchor="end" fill="#222" stroke="#222" stroke-width="0.18">0.0</text>
<path d="M67.2 297.3L67.2 299.9" stroke="#111" stroke-width="1.2" stroke-linecap="butt" fill="none"/>
<path d="M98.0 297.3L98.0 299.9" stroke="#111" stroke-width="1.2" stroke-linecap="butt" fill="none"/>
<path d="M128.6 297.3L128.6 299.9" stroke="#111" stroke-width="1.2" stroke-linecap="butt" fill="none"/>
<path d="M159.0 297.3L159.0 299.9" stroke="#111" stroke-width="1.2" stroke-linecap="butt" fill="none"/>
<text x="67.2" y="310.6" font-size="8.8" text-anchor="middle" fill="#222" stroke="#222" stroke-width="0.18" textLength="26.4" lengthAdjust="spacingAndGlyphs">Control</text>
<text x="98.0" y="310.6" font-size="8.8" text-anchor="middle" fill="#222" stroke="#222" stroke-width="0.18" textLength="9.6" lengthAdjust="spacingAndGlyphs">LC</text>
<text x="128.6" y="310.6" font-size="8.8" text-anchor="middle" fill="#222" stroke="#222" stroke-width="0.18" textLength="31.4" lengthAdjust="spacingAndGlyphs">Antibody</text>
<text x="159.0" y="310.6" font-size="8.8" text-anchor="middle" fill="#222" stroke="#222" stroke-width="0.18" textLength="16.4" lengthAdjust="spacingAndGlyphs">LC +</text>
<text x="159.0" y="320.6" font-size="8.8" text-anchor="middle" fill="#222" stroke="#222" stroke-width="0.18" textLength="31.4" lengthAdjust="spacingAndGlyphs">Antibody</text>
<text x="28.5" y="302.8" font-size="9.4" fill="#222" stroke="#222" stroke-width=".18" textLength="103.4" lengthAdjust="spacingAndGlyphs" transform="rotate(-90 28.5 302.8)">Spleen volume (cm<tspan font-size="6" dy="-3">3</tspan><tspan dy="3">) day 65</tspan></text>
<circle cx="67.2" cy="223.7" r="1.9" fill="#1f3a64"/>
<circle cx="67.2" cy="238.3" r="1.9" fill="#1f3a64"/>
<circle cx="72.1" cy="251.9" r="1.9" fill="#1f3a64"/>
<circle cx="67.2" cy="256.5" r="1.9" fill="#1f3a64"/>
<circle cx="72.0" cy="279.8" r="1.9" fill="#1f3a64"/>
<circle cx="62.2" cy="281.7" r="1.9" fill="#1f3a64"/>
<circle cx="67.2" cy="283.7" r="1.9" fill="#1f3a64"/>
<circle cx="67.2" cy="290.0" r="1.9" fill="#1f3a64"/>
<circle cx="58.5" cy="293.3" r="1.9" fill="#1f3a64"/>
<circle cx="62.0" cy="293.5" r="1.9" fill="#1f3a64"/>
<circle cx="65.5" cy="293.2" r="1.9" fill="#1f3a64"/>
<circle cx="69.0" cy="293.4" r="1.9" fill="#1f3a64"/>
<circle cx="72.5" cy="293.3" r="1.9" fill="#1f3a64"/>
<circle cx="76.0" cy="293.5" r="1.9" fill="#1f3a64"/>
<circle cx="60.0" cy="295.6" r="1.9" fill="#1f3a64"/>
<circle cx="64.0" cy="295.6" r="1.9" fill="#1f3a64"/>
<circle cx="67.2" cy="295.8" r="1.9" fill="#1f3a64"/>
<circle cx="70.5" cy="295.6" r="1.9" fill="#1f3a64"/>
<circle cx="74.0" cy="295.6" r="1.9" fill="#1f3a64"/>
<path d="M57.0 292.7L77.7 292.7" stroke="#111" stroke-width="1.3" stroke-linecap="butt" fill="none"/>
<rect x="96.2" y="229.4" width="3.6" height="3.6" fill="#a3123f"/>
<rect x="100.9" y="229.2" width="3.6" height="3.6" fill="#a3123f"/>
<rect x="91.0" y="265.9" width="3.6" height="3.6" fill="#a3123f"/>
<rect x="96.2" y="270.7" width="3.6" height="3.6" fill="#a3123f"/>
<rect x="103.1" y="272.1" width="3.6" height="3.6" fill="#a3123f"/>
<rect x="93.6" y="273.8" width="3.6" height="3.6" fill="#a3123f"/>
<rect x="98.8" y="275.0" width="3.6" height="3.6" fill="#a3123f"/>
<rect x="91.0" y="279.4" width="3.6" height="3.6" fill="#a3123f"/>
<rect x="96.2" y="284.2" width="3.6" height="3.6" fill="#a3123f"/>
<rect x="91.0" y="290.6" width="3.6" height="3.6" fill="#a3123f"/>
<rect x="93.6" y="290.8" width="3.6" height="3.6" fill="#a3123f"/>
<rect x="98.8" y="291.5" width="3.6" height="3.6" fill="#a3123f"/>
<rect x="100.9" y="292.2" width="3.6" height="3.6" fill="#a3123f"/>
<rect x="96.2" y="292.9" width="3.6" height="3.6" fill="#a3123f"/>
<path d="M87.6 278.2L108.4 278.2" stroke="#111" stroke-width="1.3" stroke-linecap="butt" fill="none"/>
<polygon points="128.6,257.1 126.6,260.7 130.5,260.7" fill="#77b255"/>
<polygon points="128.6,271.6 126.6,275.2 130.5,275.2" fill="#77b255"/>
<polygon points="128.6,275.6 126.6,279.2 130.5,279.2" fill="#77b255"/>
<polygon points="119.5,291.8 117.5,295.4 121.5,295.4" fill="#77b255"/>
<polygon points="122.1,292.3 120.1,295.9 124.0,295.9" fill="#77b255"/>
<polygon points="124.7,291.8 122.8,295.4 126.7,295.4" fill="#77b255"/>
<polygon points="127.3,292.3 125.3,295.9 129.2,295.9" fill="#77b255"/>
<polygon points="129.9,291.8 128.0,295.4 131.8,295.4" fill="#77b255"/>
<polygon points="132.5,292.3 130.6,295.9 134.4,295.9" fill="#77b255"/>
<polygon points="135.1,291.8 133.2,295.4 137.0,295.4" fill="#77b255"/>
<polygon points="137.7,292.3 135.8,295.9 139.6,295.9" fill="#77b255"/>
<polygon points="122.0,293.8 120.0,297.4 124.0,297.4" fill="#77b255"/>
<polygon points="125.2,293.8 123.2,297.4 127.2,297.4" fill="#77b255"/>
<polygon points="128.4,293.8 126.5,297.4 130.3,297.4" fill="#77b255"/>
<polygon points="131.6,293.8 129.7,297.4 133.5,297.4" fill="#77b255"/>
<polygon points="134.8,293.8 132.9,297.4 136.8,297.4" fill="#77b255"/>
<path d="M118.2 292.9L139.0 292.9" stroke="#111" stroke-width="1.3" stroke-linecap="butt" fill="none"/>
<polygon points="158.8,244.6 156.9,241.0 160.8,241.0" fill="#47206b"/>
<polygon points="158.8,257.6 156.9,254.0 160.8,254.0" fill="#47206b"/>
<polygon points="154.0,274.0 152.1,270.4 155.9,270.4" fill="#47206b"/>
<polygon points="159.4,278.6 157.5,275.0 161.3,275.0" fill="#47206b"/>
<polygon points="164.0,283.0 162.1,279.4 165.9,279.4" fill="#47206b"/>
<polygon points="159.4,284.7 157.5,281.1 161.3,281.1" fill="#47206b"/>
<polygon points="156.2,287.3 154.2,283.7 158.1,283.7" fill="#47206b"/>
<polygon points="159.7,289.5 157.8,285.9 161.6,285.9" fill="#47206b"/>
<polygon points="154.0,295.1 152.1,291.5 155.9,291.5" fill="#47206b"/>
<polygon points="162.3,295.1 160.4,291.5 164.2,291.5" fill="#47206b"/>
<polygon points="164.4,295.1 162.5,291.5 166.3,291.5" fill="#47206b"/>
<polygon points="159.4,297.1 157.5,293.5 161.3,293.5" fill="#47206b"/>
<path d="M149.0 285.5L169.2 285.5" stroke="#111" stroke-width="1.3" stroke-linecap="butt" fill="none"/>
<text x="67.3" y="197.8" font-size="7.6" fill="#222" stroke="#222" stroke-width=".18" textLength="33.6" lengthAdjust="spacingAndGlyphs"><tspan font-size="7.2" dy="-0.3">*</tspan><tspan dy="0.3">p=0.0492</tspan></text>
<path d="M68.6 202.5L98.8 202.5" stroke="#111" stroke-width="1.3" stroke-linecap="butt" fill="none"/>
<text x="98.8" y="210.4" font-size="7.6" text-anchor="middle" fill="#222" stroke="#222" stroke-width="0.18" textLength="14.5" lengthAdjust="spacingAndGlyphs">n. s.</text>
<path d="M68.6 216.0L129.8 216.0" stroke="#111" stroke-width="1.3" stroke-linecap="butt" fill="none"/>
<text x="129.1" y="197.8" font-size="7.6" fill="#222" stroke="#222" stroke-width=".18" textLength="33.6" lengthAdjust="spacingAndGlyphs"><tspan font-size="7.2" dy="-0.3">*</tspan><tspan dy="0.3">p=0.0456</tspan></text>
<path d="M130.3 202.5L160.9 202.5" stroke="#111" stroke-width="1.3" stroke-linecap="butt" fill="none"/>
<path d="M51.3 297.3L174.8 297.3" stroke="#111" stroke-width="1.4" stroke-linecap="butt" fill="none"/>
<path d="M215.6 212.3L215.6 297.8" stroke="#111" stroke-width="1.4" stroke-linecap="butt" fill="none"/>
<path d="M214.9 297.1L342.3 297.1" stroke="#111" stroke-width="1.4" stroke-linecap="butt" fill="none"/>
<path d="M212.6 220.5L215.6 220.5" stroke="#111" stroke-width="1.2" stroke-linecap="butt" fill="none"/>
<text x="209.1" y="223.4" font-size="8.3" text-anchor="end" fill="#222" stroke="#222" stroke-width="0.18">100</text>
<path d="M212.6 235.8L215.6 235.8" stroke="#111" stroke-width="1.2" stroke-linecap="butt" fill="none"/>
<text x="209.1" y="238.7" font-size="8.3" text-anchor="end" fill="#222" stroke="#222" stroke-width="0.18">80</text>
<path d="M212.6 251.1L215.6 251.1" stroke="#111" stroke-width="1.2" stroke-linecap="butt" fill="none"/>
<text x="209.1" y="254.0" font-size="8.3" text-anchor="end" fill="#222" stroke="#222" stroke-width="0.18">60</text>
<path d="M212.6 266.4L215.6 266.4" stroke="#111" stroke-width="1.2" stroke-linecap="butt" fill="none"/>
<text x="209.1" y="269.3" font-size="8.3" text-anchor="end" fill="#222" stroke="#222" stroke-width="0.18">40</text>
<path d="M212.6 281.8L215.6 281.8" stroke="#111" stroke-width="1.2" stroke-linecap="butt" fill="none"/>
<text x="209.1" y="284.7" font-size="8.3" text-anchor="end" fill="#222" stroke="#222" stroke-width="0.18">20</text>
<path d="M212.6 297.1L215.6 297.1" stroke="#111" stroke-width="1.2" stroke-linecap="butt" fill="none"/>
<text x="209.1" y="300.0" font-size="8.3" text-anchor="end" fill="#222" stroke="#222" stroke-width="0.18">0</text>
<path d="M231.0 297.1L231.0 299.7" stroke="#111" stroke-width="1.2" stroke-linecap="butt" fill="none"/>
<path d="M263.0 297.1L263.0 299.7" stroke="#111" stroke-width="1.2" stroke-linecap="butt" fill="none"/>
<path d="M294.2 297.1L294.2 299.7" stroke="#111" stroke-width="1.2" stroke-linecap="butt" fill="none"/>
<path d="M325.7 297.1L325.7 299.7" stroke="#111" stroke-width="1.2" stroke-linecap="butt" fill="none"/>
<text x="231.0" y="310.6" font-size="8.8" text-anchor="middle" fill="#222" stroke="#222" stroke-width="0.18" textLength="26.4" lengthAdjust="spacingAndGlyphs">Control</text>
<text x="263.0" y="310.6" font-size="8.8" text-anchor="middle" fill="#222" stroke="#222" stroke-width="0.18" textLength="9.6" lengthAdjust="spacingAndGlyphs">LC</text>
<text x="294.2" y="310.6" font-size="8.8" text-anchor="middle" fill="#222" stroke="#222" stroke-width="0.18" textLength="31.4" lengthAdjust="spacingAndGlyphs">Antibody</text>
<text x="325.7" y="310.6" font-size="8.8" text-anchor="middle" fill="#222" stroke="#222" stroke-width="0.18" textLength="16.4" lengthAdjust="spacingAndGlyphs">LC +</text>
<text x="325.7" y="320.6" font-size="8.8" text-anchor="middle" fill="#222" stroke="#222" stroke-width="0.18" textLength="31.4" lengthAdjust="spacingAndGlyphs">Antibody</text>
<text x="188.8" y="294.8" font-size="9.6" fill="#222" stroke="#222" stroke-width="0.18" textLength="81.2" lengthAdjust="spacingAndGlyphs" transform="rotate(-90 188.8 294.8)">% BM blasts day +65</text>
<circle cx="227.8" cy="223.4" r="1.9" fill="#1f3a64"/>
<circle cx="235.9" cy="223.8" r="1.9" fill="#1f3a64"/>
<circle cx="225.5" cy="225.2" r="1.9" fill="#1f3a64"/>
<circle cx="231.2" cy="226.9" r="1.9" fill="#1f3a64"/>
<circle cx="233.8" cy="229.1" r="1.9" fill="#1f3a64"/>
<circle cx="226.0" cy="230.9" r="1.9" fill="#1f3a64"/>
<circle cx="236.4" cy="232.0" r="1.9" fill="#1f3a64"/>
<circle cx="231.2" cy="233.8" r="1.9" fill="#1f3a64"/>
<circle cx="231.2" cy="240.4" r="1.9" fill="#1f3a64"/>
<circle cx="231.2" cy="249.4" r="1.9" fill="#1f3a64"/>
<circle cx="231.0" cy="257.8" r="1.9" fill="#1f3a64"/>
<circle cx="231.0" cy="267.3" r="1.9" fill="#1f3a64"/>
<circle cx="226.1" cy="286.7" r="1.9" fill="#1f3a64"/>
<circle cx="231.0" cy="291.5" r="1.9" fill="#1f3a64"/>
<circle cx="238.7" cy="292.9" r="1.9" fill="#1f3a64"/>
<circle cx="233.6" cy="294.1" r="1.9" fill="#1f3a64"/>
<circle cx="225.8" cy="295.3" r="1.9" fill="#1f3a64"/>
<circle cx="229.2" cy="295.3" r="1.9" fill="#1f3a64"/>
<circle cx="236.2" cy="295.3" r="1.9" fill="#1f3a64"/>
<circle cx="231.0" cy="296.4" r="1.9" fill="#1f3a64"/>
<path d="M220.9 252.8L241.6 252.8" stroke="#111" stroke-width="1.3" stroke-linecap="butt" fill="none"/>
<rect x="256.0" y="226.1" width="3.6" height="3.6" fill="#a3123f"/>
<rect x="263.4" y="224.7" width="3.6" height="3.6" fill="#a3123f"/>
<rect x="265.9" y="226.5" width="3.6" height="3.6" fill="#a3123f"/>
<rect x="261.2" y="229.6" width="3.6" height="3.6" fill="#a3123f"/>
<rect x="265.9" y="230.8" width="3.6" height="3.6" fill="#a3123f"/>
<rect x="256.0" y="233.0" width="3.6" height="3.6" fill="#a3123f"/>
<rect x="261.2" y="234.8" width="3.6" height="3.6" fill="#a3123f"/>
<rect x="256.0" y="236.2" width="3.6" height="3.6" fill="#a3123f"/>
<rect x="265.9" y="238.6" width="3.6" height="3.6" fill="#a3123f"/>
<rect x="261.2" y="242.0" width="3.6" height="3.6" fill="#a3123f"/>
<rect x="261.2" y="251.1" width="3.6" height="3.6" fill="#a3123f"/>
<rect x="265.9" y="260.0" width="3.6" height="3.6" fill="#a3123f"/>
<rect x="261.2" y="264.3" width="3.6" height="3.6" fill="#a3123f"/>
<rect x="261.2" y="289.2" width="3.6" height="3.6" fill="#a3123f"/>
<rect x="265.9" y="294.9" width="3.6" height="3.6" fill="#a3123f"/>
<rect x="261.2" y="294.9" width="3.6" height="3.6" fill="#a3123f"/>
<path d="M252.0 239.2L273.4 239.2" stroke="#111" stroke-width="1.3" stroke-linecap="butt" fill="none"/>
<polygon points="294.1,233.4 292.2,237.0 296.1,237.0" fill="#77b255"/>
<polygon points="299.7,231.7 297.8,235.3 301.6,235.3" fill="#77b255"/>
<polygon points="289.0,239.8 287.1,243.4 290.9,243.4" fill="#77b255"/>
<polygon points="294.5,244.6 292.6,248.2 296.4,248.2" fill="#77b255"/>
<polygon points="294.3,251.2 292.4,254.8 296.2,254.8" fill="#77b255"/>
<polygon points="294.2,273.8 292.2,277.4 296.1,277.4" fill="#77b255"/>
<polygon points="294.2,281.9 292.2,285.5 296.1,285.5" fill="#77b255"/>
<polygon points="299.8,284.0 297.9,287.6 301.8,287.6" fill="#77b255"/>
<polygon points="291.1,284.5 289.2,288.1 293.1,288.1" fill="#77b255"/>
<polygon points="289.0,285.9 287.1,289.5 290.9,289.5" fill="#77b255"/>
<polygon points="294.2,288.0 292.2,291.6 296.1,291.6" fill="#77b255"/>
<polygon points="286.6,293.9 284.7,297.5 288.6,297.5" fill="#77b255"/>
<polygon points="289.3,294.3 287.4,297.9 291.2,297.9" fill="#77b255"/>
<polygon points="292.0,293.9 290.1,297.5 293.9,297.5" fill="#77b255"/>
<polygon points="294.7,294.3 292.8,297.9 296.7,297.9" fill="#77b255"/>
<polygon points="297.4,293.9 295.5,297.5 299.4,297.5" fill="#77b255"/>
<polygon points="300.1,294.3 298.2,297.9 302.1,297.9" fill="#77b255"/>
<polygon points="302.8,293.9 300.9,297.5 304.8,297.5" fill="#77b255"/>
<path d="M284.2 291.5L305.5 291.5" stroke="#111" stroke-width="1.3" stroke-linecap="butt" fill="none"/>
<polygon points="325.6,229.7 323.7,226.1 327.6,226.1" fill="#47206b"/>
<polygon points="331.0,229.7 329.1,226.1 332.9,226.1" fill="#47206b"/>
<polygon points="320.6,235.8 318.7,232.2 322.6,232.2" fill="#47206b"/>
<polygon points="325.6,237.0 323.7,233.4 327.6,233.4" fill="#47206b"/>
<polygon points="331.0,235.8 329.1,232.2 332.9,232.2" fill="#47206b"/>
<polygon points="325.6,242.2 323.7,238.6 327.6,238.6" fill="#47206b"/>
<polygon points="325.6,248.6 323.7,245.0 327.6,245.0" fill="#47206b"/>
<polygon points="331.0,252.6 329.1,249.0 332.9,249.0" fill="#47206b"/>
<polygon points="325.6,254.0 323.7,250.4 327.6,250.4" fill="#47206b"/>
<polygon points="320.6,256.3 318.7,252.7 322.6,252.7" fill="#47206b"/>
<polygon points="325.6,260.8 323.7,257.2 327.6,257.2" fill="#47206b"/>
<polygon points="325.7,298.0 323.8,294.4 327.6,294.4" fill="#47206b"/>
<polygon points="330.6,298.0 328.7,294.4 332.6,294.4" fill="#47206b"/>
<path d="M315.8 247.3L336.5 247.3" stroke="#111" stroke-width="1.3" stroke-linecap="butt" fill="none"/>
<text x="247.7" y="197.0" font-size="7.6" text-anchor="middle" fill="#222" stroke="#222" stroke-width="0.18" textLength="14.5" lengthAdjust="spacingAndGlyphs">n. s.</text>
<path d="M232.5 199.7L263.8 199.7" stroke="#111" stroke-width="1.3" stroke-linecap="butt" fill="none"/>
<text x="245.6" y="210.4" font-size="7.6" fill="#222" stroke="#222" stroke-width=".18" textLength="36.9" lengthAdjust="spacingAndGlyphs"><tspan font-size="7.2" dy="-0.3">**</tspan><tspan dy="0.3">p=0.0065</tspan></text>
<path d="M232.5 213.2L295.9 213.2" stroke="#111" stroke-width="1.3" stroke-linecap="butt" fill="none"/>
<text x="295.3" y="196.8" font-size="7.6" fill="#222" stroke="#222" stroke-width=".18" textLength="34.0" lengthAdjust="spacingAndGlyphs"><tspan font-size="7.2" dy="-0.3">*</tspan><tspan dy="0.3">p=0.0146</tspan></text>
<path d="M296.4 199.7L327.5 199.7" stroke="#111" stroke-width="1.3" stroke-linecap="butt" fill="none"/>
<path d="M214.9 297.1L342.3 297.1" stroke="#111" stroke-width="1.4" stroke-linecap="butt" fill="none"/>
<path d="M382.2 210.1L382.2 297.6" stroke="#111" stroke-width="1.4" stroke-linecap="butt" fill="none"/>
<path d="M381.5 297.0L512.7 297.0" stroke="#111" stroke-width="1.4" stroke-linecap="butt" fill="none"/>
<path d="M379.2 218.4L382.2 218.4" stroke="#111" stroke-width="1.2" stroke-linecap="butt" fill="none"/>
<text x="375.7" y="221.3" font-size="8.3" text-anchor="end" fill="#222" stroke="#222" stroke-width="0.18">100</text>
<path d="M379.2 234.1L382.2 234.1" stroke="#111" stroke-width="1.2" stroke-linecap="butt" fill="none"/>
<text x="375.7" y="237.0" font-size="8.3" text-anchor="end" fill="#222" stroke="#222" stroke-width="0.18">80</text>
<path d="M379.2 249.8L382.2 249.8" stroke="#111" stroke-width="1.2" stroke-linecap="butt" fill="none"/>
<text x="375.7" y="252.7" font-size="8.3" text-anchor="end" fill="#222" stroke="#222" stroke-width="0.18">60</text>
<path d="M379.2 265.6L382.2 265.6" stroke="#111" stroke-width="1.2" stroke-linecap="butt" fill="none"/>
<text x="375.7" y="268.5" font-size="8.3" text-anchor="end" fill="#222" stroke="#222" stroke-width="0.18">40</text>
<path d="M379.2 281.3L382.2 281.3" stroke="#111" stroke-width="1.2" stroke-linecap="butt" fill="none"/>
<text x="375.7" y="284.2" font-size="8.3" text-anchor="end" fill="#222" stroke="#222" stroke-width="0.18">20</text>
<path d="M379.2 297.0L382.2 297.0" stroke="#111" stroke-width="1.2" stroke-linecap="butt" fill="none"/>
<text x="375.7" y="299.9" font-size="8.3" text-anchor="end" fill="#222" stroke="#222" stroke-width="0.18">0</text>
<path d="M398.7 297.0L398.7 299.6" stroke="#111" stroke-width="1.2" stroke-linecap="butt" fill="none"/>
<path d="M431.1 297.0L431.1 299.6" stroke="#111" stroke-width="1.2" stroke-linecap="butt" fill="none"/>
<path d="M463.7 297.0L463.7 299.6" stroke="#111" stroke-width="1.2" stroke-linecap="butt" fill="none"/>
<path d="M496.1 297.0L496.1 299.6" stroke="#111" stroke-width="1.2" stroke-linecap="butt" fill="none"/>
<text x="398.7" y="310.6" font-size="8.8" text-anchor="middle" fill="#222" stroke="#222" stroke-width="0.18" textLength="26.4" lengthAdjust="spacingAndGlyphs">Control</text>
<text x="431.1" y="310.6" font-size="8.8" text-anchor="middle" fill="#222" stroke="#222" stroke-width="0.18" textLength="9.6" lengthAdjust="spacingAndGlyphs">LC</text>
<text x="463.7" y="310.6" font-size="8.8" text-anchor="middle" fill="#222" stroke="#222" stroke-width="0.18" textLength="31.4" lengthAdjust="spacingAndGlyphs">Antibody</text>
<text x="496.1" y="310.6" font-size="8.8" text-anchor="middle" fill="#222" stroke="#222" stroke-width="0.18" textLength="16.4" lengthAdjust="spacingAndGlyphs">LC +</text>
<text x="496.1" y="320.6" font-size="8.8" text-anchor="middle" fill="#222" stroke="#222" stroke-width="0.18" textLength="31.4" lengthAdjust="spacingAndGlyphs">Antibody</text>
<text x="356.3" y="300.5" font-size="9.6" fill="#222" stroke="#222" stroke-width="0.18" textLength="93.6" lengthAdjust="spacingAndGlyphs" transform="rotate(-90 356.3 300.5)">% spleen blasts day +65</text>
<circle cx="398.8" cy="220.0" r="1.9" fill="#1f3a64"/>
<circle cx="398.8" cy="236.4" r="1.9" fill="#1f3a64"/>
<circle cx="393.7" cy="240.4" r="1.9" fill="#1f3a64"/>
<circle cx="398.8" cy="245.2" r="1.9" fill="#1f3a64"/>
<circle cx="398.6" cy="257.8" r="1.9" fill="#1f3a64"/>
<circle cx="393.7" cy="281.5" r="1.9" fill="#1f3a64"/>
<circle cx="398.6" cy="283.7" r="1.9" fill="#1f3a64"/>
<circle cx="398.6" cy="289.8" r="1.9" fill="#1f3a64"/>
<path d="M388.1 251.1L409.7 251.1" stroke="#111" stroke-width="1.3" stroke-linecap="butt" fill="none"/>
<rect x="426.9" y="221.2" width="3.6" height="3.6" fill="#a3123f"/>
<rect x="424.8" y="223.4" width="3.6" height="3.6" fill="#a3123f"/>
<rect x="428.9" y="223.6" width="3.6" height="3.6" fill="#a3123f"/>
<rect x="434.6" y="223.0" width="3.6" height="3.6" fill="#a3123f"/>
<rect x="434.6" y="227.3" width="3.6" height="3.6" fill="#a3123f"/>
<rect x="429.4" y="229.9" width="3.6" height="3.6" fill="#a3123f"/>
<rect x="429.4" y="257.1" width="3.6" height="3.6" fill="#a3123f"/>
<rect x="429.3" y="287.2" width="3.6" height="3.6" fill="#a3123f"/>
<path d="M421.4 227.0L442.5 227.0" stroke="#111" stroke-width="1.3" stroke-linecap="butt" fill="none"/>
<polygon points="456.5,290.5 454.6,294.1 458.4,294.1" fill="#77b255"/>
<polygon points="459.5,292.7 457.6,296.3 461.4,296.3" fill="#77b255"/>
<polygon points="462.5,290.5 460.6,294.1 464.4,294.1" fill="#77b255"/>
<polygon points="465.5,292.7 463.6,296.3 467.4,296.3" fill="#77b255"/>
<polygon points="468.5,290.5 466.6,294.1 470.4,294.1" fill="#77b255"/>
<polygon points="471.5,292.7 469.6,296.3 473.4,296.3" fill="#77b255"/>
<polygon points="464.5,288.7 462.6,292.3 466.4,292.3" fill="#77b255"/>
<path d="M453.4 293.3L474.7 293.3" stroke="#111" stroke-width="1.3" stroke-linecap="butt" fill="none"/>
<polygon points="493.6,232.1 491.7,228.5 495.6,228.5" fill="#47206b"/>
<polygon points="496.5,234.4 494.6,230.8 498.4,230.8" fill="#47206b"/>
<polygon points="501.3,232.1 499.4,228.5 503.2,228.5" fill="#47206b"/>
<polygon points="496.3,294.2 494.4,290.6 498.2,290.6" fill="#47206b"/>
<polygon points="501.3,293.3 499.4,289.7 503.2,289.7" fill="#47206b"/>
<path d="M485.8 231.7L507.4 231.7" stroke="#111" stroke-width="1.3" stroke-linecap="butt" fill="none"/>
<text x="416.2" y="194.5" font-size="7.6" text-anchor="middle" fill="#222" stroke="#222" stroke-width="0.18" textLength="14.5" lengthAdjust="spacingAndGlyphs">n. s.</text>
<path d="M400.2 197.5L432.5 197.5" stroke="#111" stroke-width="1.3" stroke-linecap="butt" fill="none"/>
<text x="412.7" y="208.2" font-size="7.6" fill="#222" stroke="#222" stroke-width=".18" textLength="40.2" lengthAdjust="spacingAndGlyphs"><tspan font-size="7.2" dy="-0.3">***</tspan><tspan dy="0.3">p=0.0002</tspan></text>
<path d="M400.2 211.3L465.3 211.3" stroke="#111" stroke-width="1.3" stroke-linecap="butt" fill="none"/>
<text x="465.3" y="194.5" font-size="7.6" fill="#222" stroke="#222" stroke-width=".18" textLength="34.0" lengthAdjust="spacingAndGlyphs"><tspan font-size="7.2" dy="-0.3">*</tspan><tspan dy="0.3">p=0.0127</tspan></text>
<path d="M465.9 197.5L498.2 197.5" stroke="#111" stroke-width="1.3" stroke-linecap="butt" fill="none"/>
<path d="M381.5 297.0L512.7 297.0" stroke="#111" stroke-width="1.4" stroke-linecap="butt" fill="none"/>
<text x="7.7" y="348.0" font-size="11.5" font-weight="bold" fill="#000">D</text>
<path d="M51.5 379.8L51.5 487.9" stroke="#111" stroke-width="1.4" stroke-linecap="butt" fill="none"/>
<path d="M50.8 487.3L178.5 487.3" stroke="#111" stroke-width="1.4" stroke-linecap="butt" fill="none"/>
<path d="M48.5 381.9L51.5 381.9" stroke="#111" stroke-width="1.2" stroke-linecap="butt" fill="none"/>
<text x="45.0" y="384.8" font-size="7.8" text-anchor="end" fill="#222" stroke="#222" stroke-width="0.18">60</text>
<path d="M48.5 399.8L51.5 399.8" stroke="#111" stroke-width="1.2" stroke-linecap="butt" fill="none"/>
<text x="45.0" y="402.7" font-size="7.8" text-anchor="end" fill="#222" stroke="#222" stroke-width="0.18">50</text>
<path d="M48.5 417.3L51.5 417.3" stroke="#111" stroke-width="1.2" stroke-linecap="butt" fill="none"/>
<text x="45.0" y="420.2" font-size="7.8" text-anchor="end" fill="#222" stroke="#222" stroke-width="0.18">40</text>
<path d="M48.5 434.8L51.5 434.8" stroke="#111" stroke-width="1.2" stroke-linecap="butt" fill="none"/>
<text x="45.0" y="437.7" font-size="7.8" text-anchor="end" fill="#222" stroke="#222" stroke-width="0.18">30</text>
<path d="M48.5 452.1L51.5 452.1" stroke="#111" stroke-width="1.2" stroke-linecap="butt" fill="none"/>
<text x="45.0" y="455.0" font-size="7.8" text-anchor="end" fill="#222" stroke="#222" stroke-width="0.18">20</text>
<path d="M48.5 469.5L51.5 469.5" stroke="#111" stroke-width="1.2" stroke-linecap="butt" fill="none"/>
<text x="45.0" y="472.4" font-size="7.8" text-anchor="end" fill="#222" stroke="#222" stroke-width="0.18">10</text>
<path d="M48.5 487.3L51.5 487.3" stroke="#111" stroke-width="1.2" stroke-linecap="butt" fill="none"/>
<text x="45.0" y="490.2" font-size="7.8" text-anchor="end" fill="#222" stroke="#222" stroke-width="0.18">0</text>
<path d="M72.2 487.3L72.2 489.9" stroke="#111" stroke-width="1.2" stroke-linecap="butt" fill="none"/>
<path d="M114.0 487.3L114.0 489.9" stroke="#111" stroke-width="1.2" stroke-linecap="butt" fill="none"/>
<path d="M156.3 487.3L156.3 489.9" stroke="#111" stroke-width="1.2" stroke-linecap="butt" fill="none"/>
<text x="30.5" y="464.0" font-size="9.6" fill="#222" stroke="#222" stroke-width="0.18" textLength="62.3" lengthAdjust="spacingAndGlyphs" transform="rotate(-90 30.5 464.0)">% phagocytosis</text>
<text x="72.4" y="500.5" font-size="8.8" text-anchor="middle" fill="#222" stroke="#222" stroke-width="0.18" textLength="35.2" lengthAdjust="spacingAndGlyphs">Untreated</text>
<text x="114.0" y="500.5" font-size="8.8" text-anchor="middle" fill="#222" stroke="#222" stroke-width="0.18" textLength="15.4" lengthAdjust="spacingAndGlyphs">IgG1</text>
<text x="156.1" y="500.5" font-size="8.8" text-anchor="middle" fill="#222" stroke="#222" stroke-width="0.18" textLength="35.2" lengthAdjust="spacingAndGlyphs">CD19-DE</text>
<polygon points="64.4,458.6 61.4,464.0 67.5,464.0" fill="none" stroke="#77b255" stroke-width="1.1" stroke-linejoin="miter"/>
<rect x="69.3" y="459.9" width="5.5" height="5.5" fill="none" stroke="#33477a" stroke-width="1.15"/>
<circle cx="72.1" cy="479.0" r="2.6" fill="none" stroke="#a3123f" stroke-width="1.2"/>
<path d="M58.3 462.7L86.9 462.7" stroke="#111" stroke-width="1.2" stroke-linecap="butt" fill="none"/>
<circle cx="106.3" cy="461.7" r="2.6" fill="none" stroke="#a3123f" stroke-width="1.2"/>
<rect x="111.2" y="463.8" width="5.5" height="5.5" fill="none" stroke="#33477a" stroke-width="1.15"/>
<polygon points="122.3,461.4 119.2,466.8 125.3,466.8" fill="none" stroke="#77b255" stroke-width="1.1" stroke-linejoin="miter"/>
<path d="M100.6 464.2L129.0 464.2" stroke="#111" stroke-width="1.2" stroke-linecap="butt" fill="none"/>
<polygon points="148.3,400.7 145.2,406.1 151.4,406.1" fill="none" stroke="#77b255" stroke-width="1.1" stroke-linejoin="miter"/>
<circle cx="156.0" cy="408.5" r="2.6" fill="none" stroke="#a3123f" stroke-width="1.2"/>
<rect x="153.2" y="423.9" width="5.5" height="5.5" fill="none" stroke="#33477a" stroke-width="1.15"/>
<path d="M142.3 408.5L170.4 408.5" stroke="#111" stroke-width="1.2" stroke-linecap="butt" fill="none"/>
<path d="M71.5 383.2V380H158.7V383.2" fill="none" stroke="#111" stroke-width="1.5"/>
<path d="M118.3 396.2V392.9H158.7V396.2" fill="none" stroke="#111" stroke-width="1.5"/>
<text x="115.4" y="378.8" font-size="7.2" text-anchor="middle" fill="#111" stroke="#111" stroke-width="0.3">**</text>
<text x="138.5" y="391.5" font-size="7.2" text-anchor="middle" fill="#111" stroke="#111" stroke-width="0.3">**</text>
<text x="194.2" y="348.0" font-size="11.5" font-weight="bold" fill="#000">E</text>
<path d="M234.4 375.6L234.4 488.0" stroke="#111" stroke-width="1.4" stroke-linecap="butt" fill="none"/>
<path d="M233.7 487.4L344.0 487.4" stroke="#111" stroke-width="1.4" stroke-linecap="butt" fill="none"/>
<path d="M231.4 377.9L234.4 377.9" stroke="#111" stroke-width="1.2" stroke-linecap="butt" fill="none"/>
<text x="227.9" y="380.8" font-size="8.3" text-anchor="end" fill="#222" stroke="#222" stroke-width="0.18">80</text>
<path d="M231.4 405.3L234.4 405.3" stroke="#111" stroke-width="1.2" stroke-linecap="butt" fill="none"/>
<text x="227.9" y="408.2" font-size="8.3" text-anchor="end" fill="#222" stroke="#222" stroke-width="0.18">60</text>
<path d="M231.4 432.7L234.4 432.7" stroke="#111" stroke-width="1.2" stroke-linecap="butt" fill="none"/>
<text x="227.9" y="435.6" font-size="8.3" text-anchor="end" fill="#222" stroke="#222" stroke-width="0.18">40</text>
<path d="M231.4 460.0L234.4 460.0" stroke="#111" stroke-width="1.2" stroke-linecap="butt" fill="none"/>
<text x="227.9" y="462.9" font-size="8.3" text-anchor="end" fill="#222" stroke="#222" stroke-width="0.18">20</text>
<path d="M231.4 487.4L234.4 487.4" stroke="#111" stroke-width="1.2" stroke-linecap="butt" fill="none"/>
<text x="227.9" y="490.3" font-size="8.3" text-anchor="end" fill="#222" stroke="#222" stroke-width="0.18">0</text>
<path d="M247.7 487.4L247.7 490.0" stroke="#111" stroke-width="1.2" stroke-linecap="butt" fill="none"/>
<path d="M275.4 487.4L275.4 490.0" stroke="#111" stroke-width="1.2" stroke-linecap="butt" fill="none"/>
<path d="M302.9 487.4L302.9 490.0" stroke="#111" stroke-width="1.2" stroke-linecap="butt" fill="none"/>
<path d="M330.0 487.4L330.0 490.0" stroke="#111" stroke-width="1.2" stroke-linecap="butt" fill="none"/>
<text x="213.2" y="462.4" font-size="9.6" fill="#222" stroke="#222" stroke-width="0.18" textLength="62.2" lengthAdjust="spacingAndGlyphs" transform="rotate(-90 213.2 462.4)">% phagocytosis</text>
<path d="M247.8 465.2L247.8 474.8" stroke="#111" stroke-width="1.3" stroke-linecap="butt" fill="none"/>
<path d="M243.0 465.2L252.6 465.2" stroke="#111" stroke-width="1.3" stroke-linecap="butt" fill="none"/>
<path d="M243.0 474.8L252.6 474.8" stroke="#111" stroke-width="1.3" stroke-linecap="butt" fill="none"/>
<path d="M238.5 470.0L257.1 470.0" stroke="#111" stroke-width="1.3" stroke-linecap="butt" fill="none"/>
<rect x="245.2" y="458.2" width="6.2" height="6.2" fill="#f3f8ec" stroke="#8cc168" stroke-width="1.1"/>
<polygon points="242.3,462.7 238.9,456.5 245.8,456.5" fill="none" stroke="#47206b" stroke-width="1.15" stroke-linejoin="miter"/>
<circle cx="253.3" cy="478.1" r="2.65" fill="none" stroke="#a3123f" stroke-width="1.15"/>
<polygon points="247.7,476.4 252.2,481.0 247.7,485.6 243.1,481.0" fill="none" stroke="#1f3a64" stroke-width="1.15"/>
<path d="M275.2 460.8L275.2 475.2" stroke="#111" stroke-width="1.3" stroke-linecap="butt" fill="none"/>
<path d="M270.4 460.8L280.0 460.8" stroke="#111" stroke-width="1.3" stroke-linecap="butt" fill="none"/>
<path d="M270.4 475.2L280.0 475.2" stroke="#111" stroke-width="1.3" stroke-linecap="butt" fill="none"/>
<path d="M265.9 467.9L284.5 467.9" stroke="#111" stroke-width="1.3" stroke-linecap="butt" fill="none"/>
<rect x="266.1" y="449.6" width="6.2" height="6.2" fill="#f3f8ec" stroke="#8cc168" stroke-width="1.1"/>
<polygon points="275.4,460.7 271.9,454.5 278.8,454.5" fill="none" stroke="#47206b" stroke-width="1.15" stroke-linejoin="miter"/>
<polygon points="274.6,476.9 279.2,481.5 274.6,486.1 270.1,481.5" fill="none" stroke="#1f3a64" stroke-width="1.15"/>
<circle cx="280.2" cy="481.0" r="2.65" fill="none" stroke="#a3123f" stroke-width="1.15"/>
<path d="M302.6 443.1L302.6 466.5" stroke="#111" stroke-width="1.3" stroke-linecap="butt" fill="none"/>
<path d="M297.8 443.1L307.4 443.1" stroke="#111" stroke-width="1.3" stroke-linecap="butt" fill="none"/>
<path d="M297.8 466.5L307.4 466.5" stroke="#111" stroke-width="1.3" stroke-linecap="butt" fill="none"/>
<path d="M293.3 455.0L311.9 455.0" stroke="#111" stroke-width="1.3" stroke-linecap="butt" fill="none"/>
<rect x="293.8" y="430.6" width="6.2" height="6.2" fill="#f3f8ec" stroke="#8cc168" stroke-width="1.1"/>
<polygon points="302.7,437.5 299.2,431.3 306.1,431.3" fill="none" stroke="#47206b" stroke-width="1.15" stroke-linejoin="miter"/>
<polygon points="301.7,470.6 306.2,475.2 301.7,479.8 297.1,475.2" fill="none" stroke="#1f3a64" stroke-width="1.15"/>
<circle cx="306.9" cy="475.2" r="2.65" fill="none" stroke="#a3123f" stroke-width="1.15"/>
<path d="M329.3 413.7L329.3 441.0" stroke="#111" stroke-width="1.3" stroke-linecap="butt" fill="none"/>
<path d="M324.5 413.7L334.1 413.7" stroke="#111" stroke-width="1.3" stroke-linecap="butt" fill="none"/>
<path d="M324.5 441.0L334.1 441.0" stroke="#111" stroke-width="1.3" stroke-linecap="butt" fill="none"/>
<path d="M320.0 427.5L338.6 427.5" stroke="#111" stroke-width="1.3" stroke-linecap="butt" fill="none"/>
<rect x="321.1" y="396.5" width="6.2" height="6.2" fill="#f3f8ec" stroke="#8cc168" stroke-width="1.1"/>
<polygon points="330.0,409.5 326.6,403.3 333.4,403.3" fill="none" stroke="#47206b" stroke-width="1.15" stroke-linejoin="miter"/>
<polygon points="329.6,448.6 334.2,453.1 329.6,457.7 325.1,453.1" fill="none" stroke="#1f3a64" stroke-width="1.15"/>
<circle cx="335.4" cy="449.2" r="2.65" fill="none" stroke="#a3123f" stroke-width="1.15"/>
<path d="M249.6 366.8V362.5H330.2V366.8" fill="none" stroke="#111" stroke-width="1.5"/>
<path d="M276.2 378.3V374.1H330.2V378.3" fill="none" stroke="#111" stroke-width="1.5"/>
<path d="M300.8 389.2V385.1H330.2V389.2" fill="none" stroke="#111" stroke-width="1.5"/>
<text x="289.8" y="361.3" font-size="7.2" text-anchor="middle" fill="#111" stroke="#111" stroke-width="0.3">***</text>
<text x="303.3" y="372.6" font-size="7.2" text-anchor="middle" fill="#111" stroke="#111" stroke-width="0.3">***</text>
<text x="315.6" y="383.6" font-size="7.2" text-anchor="middle" fill="#111" stroke="#111" stroke-width="0.3">**</text>
<text x="251.2" y="498.0" font-size="8.6" text-anchor="end" fill="#222" stroke="#222" stroke-width="0.18" textLength="34.8" lengthAdjust="spacingAndGlyphs" transform="rotate(-45 251.2 498.0)">Untreated</text>
<text x="279.0" y="498.0" font-size="8.6" text-anchor="end" fill="#222" stroke="#222" stroke-width="0.18" textLength="15.2" lengthAdjust="spacingAndGlyphs" transform="rotate(-45 279.0 498.0)">IgG1</text>
<text x="306.5" y="498.0" font-size="8.6" text-anchor="end" fill="#222" stroke="#222" stroke-width="0.18" textLength="38.5" lengthAdjust="spacingAndGlyphs" transform="rotate(-45 306.5 498.0)">CD19 IgG1</text>
<text x="334.0" y="498.0" font-size="8.6" text-anchor="end" fill="#222" stroke="#222" stroke-width="0.18" textLength="33.5" lengthAdjust="spacingAndGlyphs" transform="rotate(-45 334.0 498.0)">CD19-DE</text>
<circle cx="353.1" cy="401.2" r="2.85" fill="none" stroke="#a3123f" stroke-width="1.2"/>
<polygon points="353.1,407.9 357.6,412.4 353.1,416.9 348.6,412.4" fill="none" stroke="#1f3a64" stroke-width="1.2"/>
<rect x="349.9" y="420.6" width="6.5" height="6.5" fill="#f3f8ec" stroke="#8cc168" stroke-width="1.15"/>
<polygon points="353.1,438.3 349.7,432.1 356.5,432.1" fill="none" stroke="#47206b" stroke-width="1.2" stroke-linejoin="miter"/>
<text x="360.8" y="404.0" font-size="8" fill="#222" stroke="#222" stroke-width="0.18" textLength="29.7" lengthAdjust="spacingAndGlyphs">Patient 1</text>
<text x="360.8" y="415.3" font-size="8" fill="#222" stroke="#222" stroke-width="0.18" textLength="29.7" lengthAdjust="spacingAndGlyphs">Patient 2</text>
<text x="360.8" y="426.6" font-size="8" fill="#222" stroke="#222" stroke-width="0.18" textLength="29.7" lengthAdjust="spacingAndGlyphs">Patient 3</text>
<text x="360.8" y="438.0" font-size="8" fill="#222" stroke="#222" stroke-width="0.18" textLength="29.7" lengthAdjust="spacingAndGlyphs">Patient 4</text>
<path d="M0 0.5H520" stroke="#000" stroke-width="1.2"/>
<path d="M0.5 0V534" stroke="#000" stroke-width="1.2"/>
<path d="M519 0V534" stroke="#000" stroke-width="1.9"/>
<path d="M0 533.1H520" stroke="#000" stroke-width="1.8"/>
</svg></body></html>
